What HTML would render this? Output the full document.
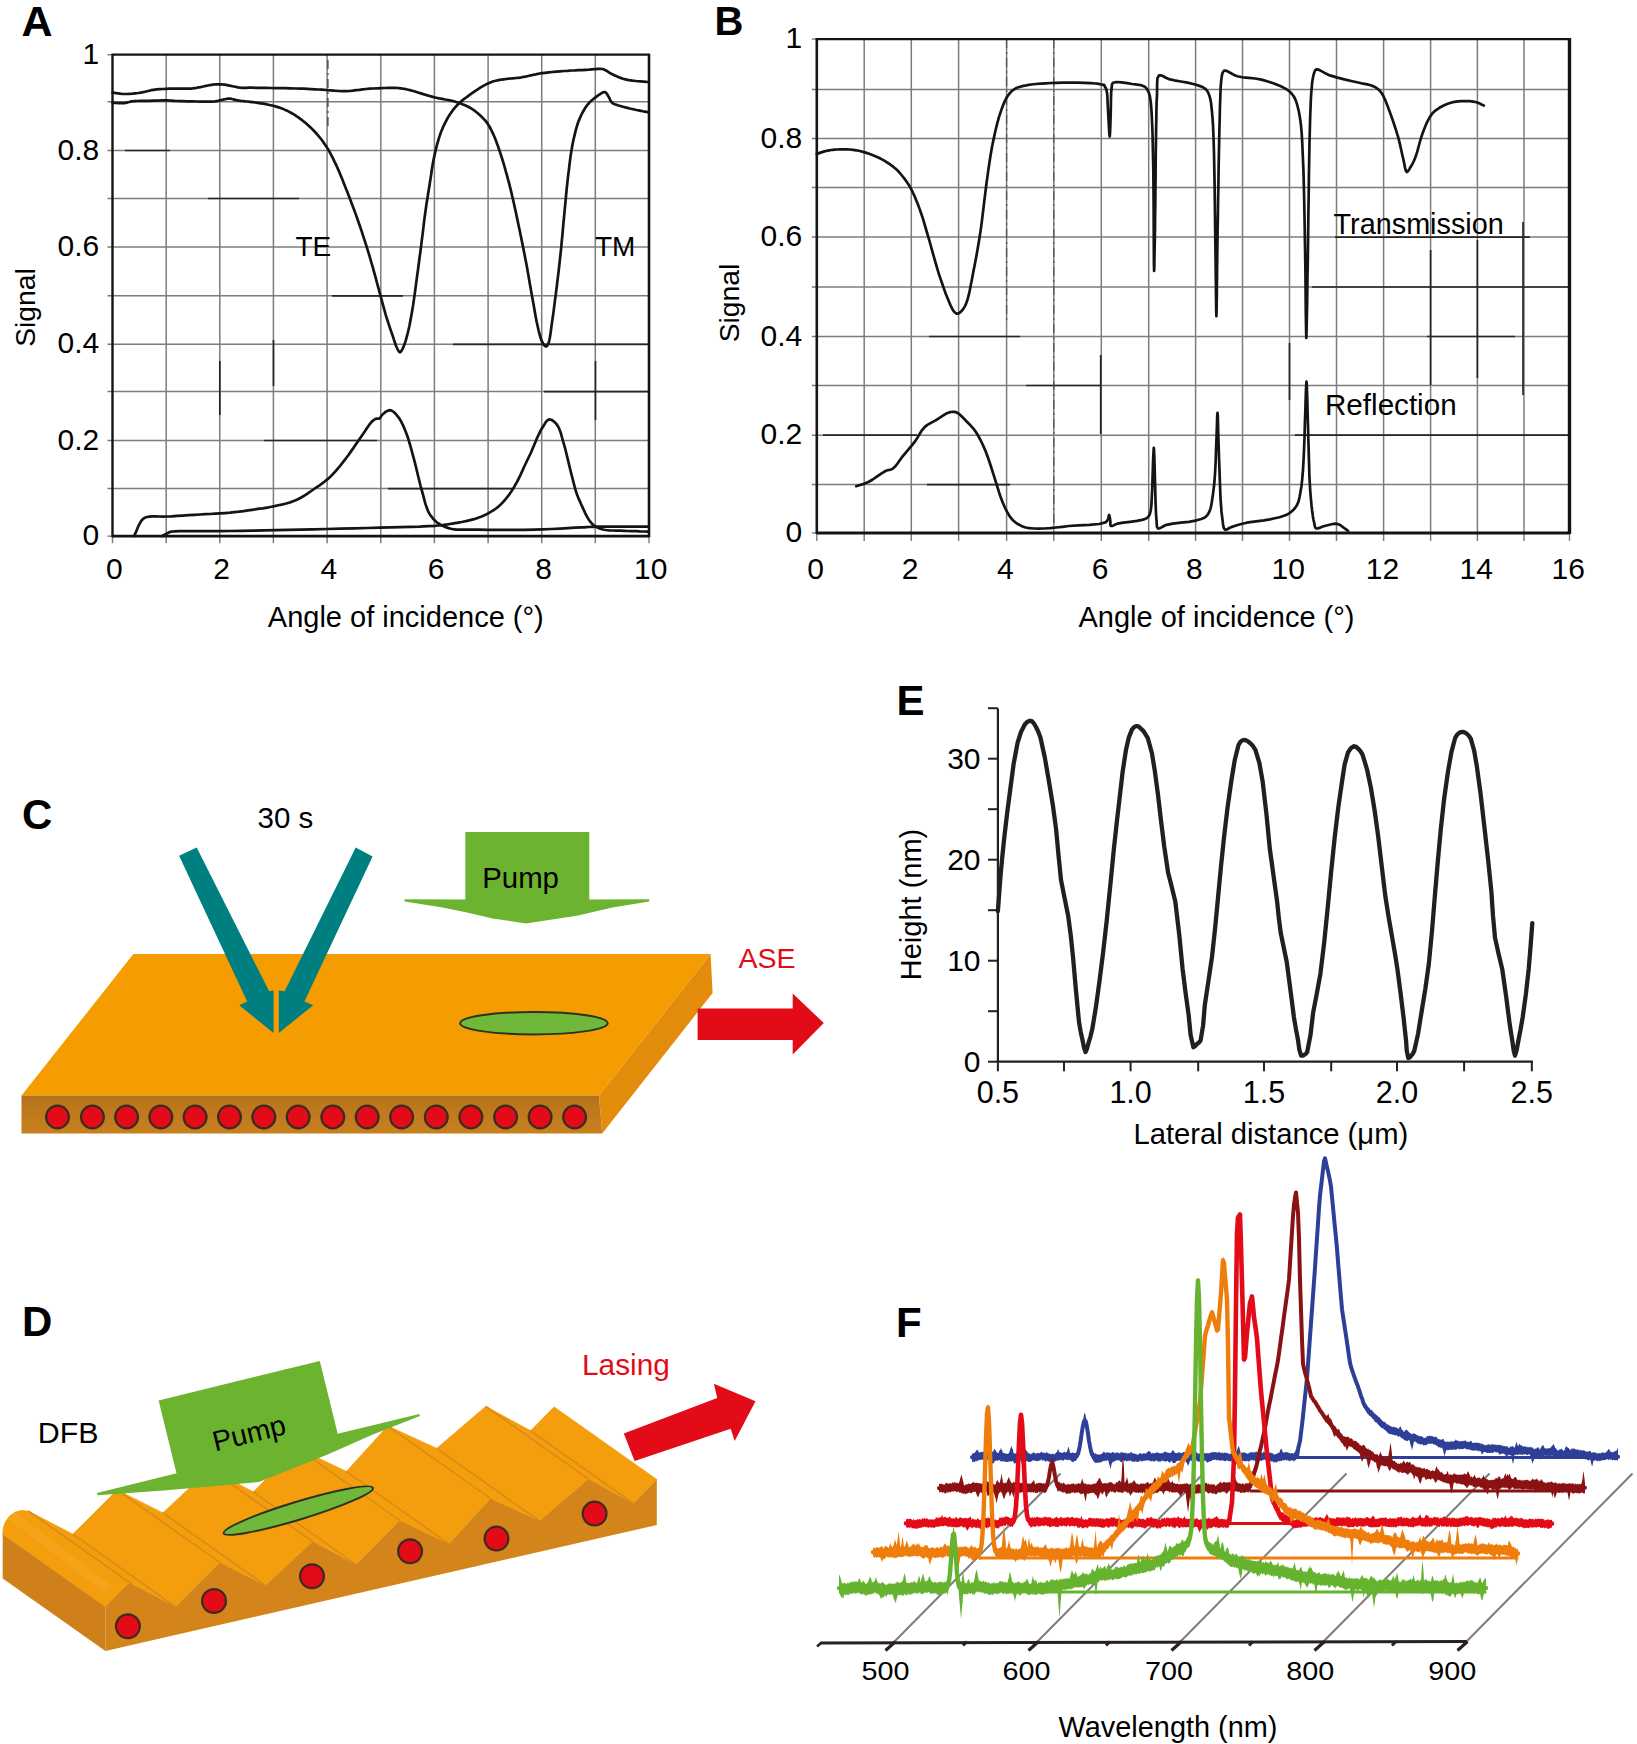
<!DOCTYPE html><html><head><meta charset="utf-8"><title>Figure</title><style>html,body{margin:0;padding:0;background:#fff;}svg{display:block;}</style></head><body><svg width="1637" height="1744" viewBox="0 0 1637 1744" font-family="'Liberation Sans', Arial, Helvetica, sans-serif"><rect width="100%" height="100%" fill="#fff"/><line x1="166.2" y1="54.7" x2="166.2" y2="543.2" stroke="#7c7c7c" stroke-width="1.5"/>
<line x1="219.8" y1="54.7" x2="219.8" y2="543.2" stroke="#7c7c7c" stroke-width="1.5"/>
<line x1="273.4" y1="54.7" x2="273.4" y2="543.2" stroke="#7c7c7c" stroke-width="1.5"/>
<line x1="327.1" y1="54.7" x2="327.1" y2="543.2" stroke="#7c7c7c" stroke-width="1.5"/>
<line x1="380.8" y1="54.7" x2="380.8" y2="543.2" stroke="#7c7c7c" stroke-width="1.5"/>
<line x1="434.4" y1="54.7" x2="434.4" y2="543.2" stroke="#7c7c7c" stroke-width="1.5"/>
<line x1="488.1" y1="54.7" x2="488.1" y2="543.2" stroke="#7c7c7c" stroke-width="1.5"/>
<line x1="541.7" y1="54.7" x2="541.7" y2="543.2" stroke="#7c7c7c" stroke-width="1.5"/>
<line x1="595.3" y1="54.7" x2="595.3" y2="543.2" stroke="#7c7c7c" stroke-width="1.5"/>
<line x1="107.5" y1="101.8" x2="649" y2="101.8" stroke="#7c7c7c" stroke-width="1.5"/>
<line x1="107.5" y1="150.5" x2="649" y2="150.5" stroke="#7c7c7c" stroke-width="1.5"/>
<line x1="107.5" y1="198.5" x2="649" y2="198.5" stroke="#7c7c7c" stroke-width="1.5"/>
<line x1="107.5" y1="247.1" x2="649" y2="247.1" stroke="#7c7c7c" stroke-width="1.5"/>
<line x1="107.5" y1="295.8" x2="649" y2="295.8" stroke="#7c7c7c" stroke-width="1.5"/>
<line x1="107.5" y1="344.3" x2="649" y2="344.3" stroke="#7c7c7c" stroke-width="1.5"/>
<line x1="107.5" y1="391.6" x2="649" y2="391.6" stroke="#7c7c7c" stroke-width="1.5"/>
<line x1="107.5" y1="440.5" x2="649" y2="440.5" stroke="#7c7c7c" stroke-width="1.5"/>
<line x1="107.5" y1="488.6" x2="649" y2="488.6" stroke="#7c7c7c" stroke-width="1.5"/>
<line x1="107.5" y1="54.7" x2="112.5" y2="54.7" stroke="#7c7c7c" stroke-width="1.4"/>
<line x1="107.5" y1="536.2" x2="112.5" y2="536.2" stroke="#7c7c7c" stroke-width="1.4"/>
<line x1="112.5" y1="536.2" x2="112.5" y2="543.2" stroke="#7c7c7c" stroke-width="1.4"/>
<line x1="649" y1="536.2" x2="649" y2="543.2" stroke="#7c7c7c" stroke-width="1.4"/>
<line x1="208" y1="198.5" x2="299" y2="198.5" stroke="#262626" stroke-width="1.7"/>
<line x1="453" y1="344.3" x2="648" y2="344.3" stroke="#262626" stroke-width="1.7"/>
<line x1="544" y1="391.6" x2="648" y2="391.6" stroke="#262626" stroke-width="1.7"/>
<line x1="332" y1="295.8" x2="403" y2="295.8" stroke="#262626" stroke-width="1.7"/>
<line x1="264" y1="440.5" x2="377" y2="440.5" stroke="#262626" stroke-width="1.7"/>
<line x1="388" y1="488.6" x2="514" y2="488.6" stroke="#262626" stroke-width="1.7"/>
<line x1="125" y1="150.5" x2="170" y2="150.5" stroke="#262626" stroke-width="1.7"/>
<line x1="219.8" y1="361" x2="219.8" y2="415" stroke="#262626" stroke-width="1.7"/>
<line x1="273.5" y1="340" x2="273.5" y2="386" stroke="#262626" stroke-width="1.7"/>
<line x1="595.5" y1="361" x2="595.5" y2="420" stroke="#262626" stroke-width="1.7"/>
<line x1="327.9" y1="60" x2="327.9" y2="128" stroke="#4a4a4a" stroke-width="1.4" stroke-dasharray="9,4,2,4"/>
<line x1="112.5" y1="53.7" x2="112.5" y2="537.2" stroke="#141414" stroke-width="2.4"/>
<line x1="112.5" y1="54.7" x2="649" y2="54.7" stroke="#141414" stroke-width="2.2"/>
<line x1="649" y1="53.7" x2="649" y2="537.2" stroke="#141414" stroke-width="2.6"/>
<line x1="112.5" y1="536.2" x2="649" y2="536.2" stroke="#141414" stroke-width="2.8"/>
<text x="99.2" y="63.7" font-size="30" text-anchor="end" font-weight="normal" fill="#000">1</text>
<text x="99.2" y="159.5" font-size="30" text-anchor="end" font-weight="normal" fill="#000">0.8</text>
<text x="99.2" y="256.1" font-size="30" text-anchor="end" font-weight="normal" fill="#000">0.6</text>
<text x="99.2" y="353.3" font-size="30" text-anchor="end" font-weight="normal" fill="#000">0.4</text>
<text x="99.2" y="449.5" font-size="30" text-anchor="end" font-weight="normal" fill="#000">0.2</text>
<text x="99.2" y="545.2" font-size="30" text-anchor="end" font-weight="normal" fill="#000">0</text>
<text x="114.3" y="578.8" font-size="30" text-anchor="middle" font-weight="normal" fill="#000">0</text>
<text x="221.6" y="578.8" font-size="30" text-anchor="middle" font-weight="normal" fill="#000">2</text>
<text x="328.9" y="578.8" font-size="30" text-anchor="middle" font-weight="normal" fill="#000">4</text>
<text x="436.2" y="578.8" font-size="30" text-anchor="middle" font-weight="normal" fill="#000">6</text>
<text x="543.5" y="578.8" font-size="30" text-anchor="middle" font-weight="normal" fill="#000">8</text>
<text x="650.8" y="578.8" font-size="30" text-anchor="middle" font-weight="normal" fill="#000">10</text>
<text x="405.8" y="626.6" font-size="29" text-anchor="middle" font-weight="normal" fill="#000">Angle of incidence (°)</text>
<text x="34.8" y="307.5" font-size="28.3" text-anchor="middle" font-weight="normal" fill="#000" transform="rotate(-90 34.8 307.5)">Signal</text>
<text x="295.5" y="255.6" font-size="28" text-anchor="start" font-weight="normal" fill="#000">TE</text>
<text x="595" y="255.6" font-size="28" text-anchor="start" font-weight="normal" fill="#000">TM</text>
<text x="21.5" y="36.1" font-size="43" text-anchor="start" font-weight="bold" fill="#000">A</text>
<polyline points="112.5,102.8 114.5,102.9 116.5,103 118.5,103.1 120.5,103.2 122.4,103.2 124.2,103.1 125.6,102.9 126.8,102.6 128,102.3 129.2,102 130.5,101.6 132,101.4 134.6,101.2 137.5,101 140.6,100.9 143.8,100.9 147,100.9 150,100.8 152.8,100.7 155.6,100.6 158.5,100.5 161.2,100.4 163.8,100.4 166.2,100.4 167.8,100.4 169.2,100.5 170.6,100.6 171.9,100.7 173.4,100.8 175,100.9 177.6,101 180.3,101.1 183.3,101.2 186.4,101.3 189.5,101.3 192.6,101.4 196.3,101.5 200.2,101.6 204.3,101.7 208.2,101.7 211.8,101.6 215,101.4 216.8,101.1 218.4,100.8 219.9,100.4 221.3,100 222.7,99.7 224,99.4 225,99.2 226,99 227,98.8 227.9,98.7 228.8,98.6 229.8,98.6 230.9,98.7 231.9,99 233,99.3 234.1,99.6 235.3,99.9 236.6,100.2 238.6,100.5 240.7,100.8 242.9,101 245.3,101.3 247.6,101.5 250,101.8 252.6,102.1 255.2,102.5 257.9,102.9 260.6,103.3 263.3,103.7 265.9,104.2 268.3,104.7 270.8,105.2 273.2,105.8 275.5,106.4 277.8,107.1 280,107.8 281.8,108.5 283.5,109.1 285.2,109.9 286.8,110.6 288.4,111.4 290,112.3 291.7,113.2 293.4,114.2 295.1,115.2 296.7,116.3 298.4,117.4 300,118.6 301.7,119.9 303.4,121.2 305.1,122.6 306.7,124 308.4,125.5 310,127 311.7,128.6 313.4,130.3 315,132 316.7,133.8 318.2,135.6 319.8,137.5 321.4,139.5 322.9,141.5 324.3,143.6 325.8,145.7 327.2,147.9 328.6,150.2 330.1,152.9 331.6,155.7 333.1,158.6 334.5,161.6 336,164.6 337.4,167.8 339.1,171.6 340.7,175.5 342.4,179.6 344,183.7 345.7,187.9 347.3,192 349,196.3 350.7,200.7 352.3,205.1 354,209.5 355.6,213.9 357.2,218.3 358.7,222.7 360.3,227.2 361.8,231.6 363.2,236.1 364.6,240.4 366,244.7 367.2,248.5 368.3,252.1 369.4,255.7 370.5,259.4 371.5,263 372.6,266.7 373.7,270.7 374.8,274.7 375.9,278.7 377,282.8 378.1,286.9 379.2,290.9 380.3,295 381.4,299.1 382.5,303.2 383.6,307.2 384.7,311.2 385.8,315.1 386.9,318.6 388,322 389.1,325.4 390.2,328.7 391.3,331.9 392.4,335 393.3,337.6 394.1,340.2 395,342.8 395.8,345.2 396.7,347.3 397.5,349 397.9,349.8 398.3,350.5 398.7,351.2 399.2,351.7 399.6,352.1 400,352.2 400.6,352 401.1,351.3 401.7,350.4 402.3,349.3 402.9,348.2 403.4,347 404.2,345.1 405,342.9 405.7,340.6 406.4,338.1 407.1,335.4 407.8,332.8 408.6,329.5 409.4,326 410.1,322.3 410.8,318.5 411.5,314.7 412.2,310.7 413,305.9 413.7,300.9 414.5,295.7 415.2,290.4 415.9,285.2 416.6,279.9 417.3,274.5 418.1,269 418.8,263.5 419.5,258 420.3,252.5 421,246.9 421.7,241.1 422.5,235.1 423.2,229.1 423.9,223.2 424.6,217.4 425.4,211.7 426.1,206.8 426.8,201.9 427.6,197.2 428.3,192.5 429.1,187.8 429.8,183.2 430.5,178.7 431.2,174.3 431.8,169.8 432.5,165.5 433.3,161.1 434.2,156.8 435.1,152.6 436.1,148.5 437.1,144.3 438.3,140.3 439.5,136.4 440.8,132.6 442.1,129.4 443.4,126.3 444.9,123.3 446.4,120.4 447.9,117.6 449.5,115 450.9,112.9 452.3,111 453.7,109.1 455.2,107.4 456.7,105.7 458.3,104 460,102.4 461.8,100.9 463.6,99.4 465.4,98 467.4,96.6 469.3,95.2 471.4,93.7 473.6,92.1 475.8,90.6 478.1,89.1 480.3,87.7 482.5,86.4 484.3,85.4 486.1,84.4 487.9,83.5 489.7,82.7 491.5,82 493.5,81.3 495.9,80.7 498.5,80.1 501.2,79.7 503.8,79.3 506.4,79 508.9,78.7 510.8,78.5 512.7,78.3 514.5,78.2 516.3,78 518.1,77.8 519.9,77.6 521.7,77.3 523.6,76.9 525.4,76.6 527.2,76.2 529.1,75.8 530.9,75.4 532.7,75 534.4,74.6 536.2,74.3 537.9,73.9 539.8,73.5 541.9,73.2 545.1,72.8 548.7,72.3 552.4,72 556.3,71.6 560.1,71.3 563.9,71 567.6,70.8 571.3,70.5 575.1,70.4 578.8,70.2 582.4,70.1 585.9,69.9 588.9,69.7 592,69.4 595.1,69.1 597.9,68.9 600.4,68.8 602.4,69 603.2,69.2 603.8,69.4 604.3,69.6 604.8,69.9 605.4,70.2 606,70.5 606.9,71 607.9,71.6 608.9,72.3 609.9,73 611.1,73.6 612.3,74.3 614.2,75.2 616.2,76.1 618.3,77 620.6,77.9 623,78.7 625.5,79.4 628.8,80.1 632.4,80.6 636.1,81 639.9,81.3 643.8,81.6 647.5,82" fill="none" stroke="#141414" stroke-width="2.7" stroke-linejoin="round" stroke-linecap="round"/>
<polyline points="112.5,92.6 114.4,92.9 116.3,93.2 118.2,93.4 120.1,93.7 122.1,93.9 124.2,94 126.8,94 129.6,93.8 132.5,93.6 135.3,93.3 138.1,93 140.8,92.6 143,92.2 145.1,91.7 147.1,91.2 149.1,90.7 151.2,90.2 153.5,89.8 156.5,89.4 159.7,89.2 163,89 166.4,88.8 169.8,88.7 173,88.6 176,88.6 179.1,88.6 182.1,88.7 185.1,88.7 188,88.7 190.7,88.6 192.8,88.4 194.8,88.1 196.7,87.8 198.6,87.4 200.5,87.1 202.4,86.7 204.2,86.3 206.1,85.9 207.9,85.5 209.7,85.2 211.4,84.8 213,84.6 214.1,84.5 215.1,84.4 216.1,84.3 217.1,84.3 218,84.3 219,84.3 220,84.3 220.9,84.3 221.8,84.4 222.7,84.5 223.8,84.6 224.9,84.7 227.1,85.1 229.7,85.6 232.5,86.2 235.3,86.8 238,87.4 240.5,87.7 242.2,87.8 243.7,87.8 245.2,87.8 246.7,87.8 248.2,87.7 250,87.7 252.9,87.7 256,87.8 259.3,87.8 262.8,87.9 266.3,87.9 270,88 274.7,88.1 279.7,88.2 284.9,88.2 290.1,88.3 295.2,88.5 300,88.6 303.9,88.7 307.5,88.9 311.1,89.1 314.7,89.3 318.3,89.5 322,89.7 326,90 330.1,90.3 334.2,90.7 338.3,91 342.3,91.2 346.2,91.2 349.6,91 352.9,90.7 356.2,90.2 359.4,89.8 362.7,89.3 366,89 369.7,88.7 373.5,88.5 377.4,88.3 381.2,88.1 384.8,88 388,87.9 390.1,87.9 391.9,87.9 393.7,87.9 395.5,87.9 397.2,88 399,88.2 400.8,88.4 402.6,88.7 404.5,88.9 406.3,89.3 408.1,89.7 410,90.1 412.1,90.7 414.3,91.3 416.5,92 418.8,92.7 421,93.4 423.2,94.1 425.4,94.7 427.5,95.4 429.7,96 431.9,96.6 434.1,97.2 436.4,97.8 439.2,98.4 442.1,98.9 445.2,99.5 448.2,100 451.1,100.6 453.9,101.3 456.3,102 458.6,102.7 460.8,103.5 463,104.4 465.1,105.3 467.1,106.2 468.7,107 470.2,107.8 471.6,108.7 473,109.6 474.5,110.6 475.9,111.7 477.8,113.2 479.7,114.9 481.6,116.8 483.5,118.7 485.3,120.7 486.9,122.7 488.2,124.6 489.4,126.5 490.5,128.5 491.5,130.5 492.5,132.6 493.5,134.8 494.7,137.5 495.8,140.3 496.9,143.2 498,146.2 499,149.3 500.1,152.4 501.2,155.9 502.4,159.5 503.5,163.1 504.6,166.8 505.6,170.6 506.7,174.4 507.8,178.6 509,182.9 510.1,187.3 511.2,191.7 512.2,196.2 513.3,200.8 514.4,205.8 515.5,210.8 516.6,215.9 517.7,221.1 518.8,226.3 519.9,231.5 521,236.9 522.1,242.3 523.2,247.8 524.3,253.3 525.4,258.9 526.5,264.5 527.6,270.7 528.7,277 529.8,283.4 530.9,289.7 532,295.9 533.1,301.9 534,307 534.9,312.2 535.8,317.2 536.7,322 537.7,326.5 538.6,330.5 539.2,332.9 539.8,335.2 540.4,337.3 541.1,339.2 541.7,341 542.5,342.5 543,343.4 543.6,344.4 544.2,345.2 544.9,345.9 545.5,346.3 546,346.5 546.5,346.3 546.9,346 547.3,345.4 547.7,344.7 548.1,343.9 548.5,343 549.2,340.8 549.8,338 550.3,334.8 550.8,331.2 551.3,327.6 551.8,323.9 552.5,318.9 553.3,313.6 554,308.1 554.7,302.4 555.5,296.6 556.2,290.9 557,284.8 557.7,278.6 558.5,272.3 559.2,266 559.9,259.7 560.6,253.5 561.2,247.6 561.7,241.8 562.3,236.1 562.8,230.3 563.3,224.4 563.9,218.3 564.6,211.2 565.3,203.7 566,196.2 566.7,188.6 567.5,181.3 568.3,174.4 569,168.9 569.6,163.6 570.3,158.4 571,153.4 571.8,148.4 572.7,143.6 573.6,139.3 574.6,135.1 575.6,130.9 576.7,126.9 577.9,123 579.3,119.4 580.6,116.5 581.9,113.7 583.4,111 584.9,108.5 586.5,106.1 588.1,104 589.5,102.4 591,101 592.5,99.7 594,98.5 595.5,97.4 596.9,96.3 598.1,95.4 599.3,94.6 600.5,93.8 601.6,93.1 602.6,92.5 603.5,92.2 603.9,92.1 604.2,92.1 604.6,92 604.9,92.1 605.2,92.2 605.5,92.3 606,92.7 606.5,93.3 607,94 607.5,94.8 608,95.7 608.5,96.5 609.1,97.5 609.6,98.6 610.1,99.8 610.7,101 611.4,102 612.3,102.9 613.5,103.7 614.8,104.3 616.3,104.8 617.8,105.3 619.5,105.7 621.1,106.2 623.1,106.8 625.3,107.4 627.5,107.9 629.8,108.5 632.1,109 634.3,109.5 636.5,110 638.7,110.4 640.9,110.8 643.1,111.3 645.3,111.7 647.5,112.1" fill="none" stroke="#141414" stroke-width="2.7" stroke-linejoin="round" stroke-linecap="round"/>
<polyline points="134,536 134.3,535.3 134.7,534.7 135,534.1 135.3,533.4 135.7,532.7 136,532 136.5,530.9 136.9,529.8 137.4,528.6 137.9,527.3 138.4,526.1 139,525 139.5,524 140.1,523 140.6,522 141.2,521.1 141.8,520.2 142.5,519.5 143.1,518.9 143.8,518.4 144.4,518 145.2,517.6 146,517.3 147,517 149.4,516.6 152.3,516.4 155.5,516.4 159.1,516.5 162.8,516.6 166.5,516.5 171.6,516.3 177.1,515.9 182.8,515.6 188.6,515.2 194.4,514.8 200,514.5 205.1,514.2 210.2,514 215.2,513.7 220.2,513.4 225.1,513.1 230,512.7 234.5,512.2 239.1,511.7 243.6,511.1 248,510.4 252.2,509.8 256.3,509.2 259.5,508.7 262.6,508.3 265.6,507.8 268.6,507.3 271.6,506.7 274.7,506.1 278.2,505.3 281.7,504.6 285.3,503.7 288.8,502.7 292.3,501.6 295.7,500.3 298.9,498.7 302.1,497 305.2,495.1 308.2,493.1 311.2,491 314.1,489 316.8,487.1 319.5,485.3 322.2,483.4 324.7,481.5 327.3,479.4 329.8,477.2 332.5,474.5 335.2,471.6 337.9,468.5 340.5,465.3 343,462.1 345.6,458.8 348.3,455.2 351,451.4 353.7,447.6 356.3,443.7 358.9,440 361.3,436.5 363.2,433.7 365.2,430.8 367,428 368.8,425.4 370.5,423.2 372,421.5 372.7,420.8 373.4,420.3 374.1,419.8 374.7,419.4 375.3,419.1 376,418.8 376.6,418.7 377.2,418.7 377.8,418.7 378.4,418.7 379,418.7 379.5,418.5 380,418.1 380.4,417.5 380.8,416.8 381.2,416.1 381.7,415.3 382.3,414.7 383.4,413.8 384.6,412.7 386,411.7 387.4,410.9 388.9,410.3 390.2,410.2 391.6,410.6 392.9,411.4 394.3,412.5 395.6,413.8 396.9,415.3 398.1,416.8 399.6,418.9 401,421.3 402.3,423.9 403.6,426.6 404.8,429.5 406,432.5 407.5,436.4 408.8,440.6 410.1,445 411.4,449.6 412.6,454.2 413.9,458.8 415.2,463.9 416.5,469.3 417.8,474.7 419.1,480 420.4,485.3 421.8,490.3 423,494.6 424.1,498.9 425.2,503.1 426.5,507.1 427.9,510.8 429.6,514 431.1,516.2 432.7,518.2 434.4,520 436.2,521.7 438.1,523.2 440.1,524.5 442.1,525.6 444.2,526.6 446.4,527.4 448.6,528.1 450.9,528.7 453.3,529.2 455.8,529.6 458.3,529.7 460.8,529.7 463.5,529.7 466.6,529.6 470,529.6 478.4,529.7 488.7,529.8 500.2,529.8 512.1,529.8 523.8,529.8 534.4,529.6 543,529.3 551.6,529 560,528.6 567.9,528.1 575.1,527.7 581.3,527.4 584.1,527.3 586.5,527.1 588.6,527 590.7,526.9 593.1,526.8 596,526.7 602.9,526.6 611.2,526.6 620.3,526.6 629.9,526.6 639.5,526.7 648.7,526.7" fill="none" stroke="#141414" stroke-width="2.7" stroke-linejoin="round" stroke-linecap="round"/>
<polyline points="162,536 162.7,535.7 163.3,535.3 164,535 164.7,534.7 165.3,534.3 166,534 166.7,533.7 167.3,533.3 168,532.9 168.6,532.6 169.3,532.3 170,532 170.7,531.8 171.3,531.7 171.9,531.6 172.5,531.5 173.4,531.5 174.4,531.4 180,531.2 188.1,531.1 197.9,531.1 208.7,531.1 219.6,531.1 230,531 241.1,530.8 252.6,530.6 264.2,530.4 276,530.1 288,529.9 300,529.6 313.2,529.3 326.8,529 340.6,528.6 354.2,528.3 367.5,528 380,527.6 390.2,527.3 400.4,527.1 410.3,526.8 419.6,526.6 428,526.2 435,525.8 438.1,525.5 440.7,525.3 443.1,525 445.4,524.7 447.6,524.4 450,524 452.4,523.6 454.8,523.2 457.1,522.8 459.4,522.4 461.7,522 464,521.5 466.1,521.1 468.1,520.6 470.1,520.1 472.1,519.6 474.1,519.1 476,518.5 477.7,517.9 479.4,517.3 481.1,516.7 482.7,516 484.4,515.3 486,514.5 487.7,513.6 489.4,512.7 491.1,511.7 492.8,510.7 494.4,509.6 496,508.5 497.4,507.4 498.8,506.2 500.2,504.9 501.5,503.7 502.8,502.3 504,501 505.2,499.6 506.4,498.2 507.6,496.7 508.8,495.2 509.9,493.6 511,492 512.2,490.1 513.4,488.2 514.6,486.2 515.7,484.2 516.9,482.1 518,480 519.2,477.6 520.4,475.1 521.5,472.6 522.7,470.1 523.8,467.5 525,465 526.2,462.5 527.4,460 528.6,457.5 529.8,455 531,452.5 532.1,450 533.1,447.6 534.1,445.2 535.1,442.8 536.1,440.4 537,438.1 538,436 538.8,434.4 539.5,432.9 540.2,431.4 540.9,430 541.7,428.7 542.6,427.3 543.6,425.8 544.6,424.1 545.6,422.4 546.7,421 547.9,419.9 549.1,419.4 550.4,419.5 551.7,420 553.1,420.9 554.5,422 555.8,423.3 557,424.7 558.4,427 559.6,429.7 560.7,432.7 561.6,436 562.6,439.5 563.6,443 565,447.8 566.3,453.2 567.7,458.8 569,464.4 570.3,469.7 571.5,474.6 572.4,478 573.2,481.2 574,484.3 574.8,487.3 575.6,490.2 576.5,493 577.3,495.3 578.2,497.6 579.1,499.7 580.1,501.8 581,504 582,506.1 583,508.4 584.1,510.7 585.2,513.1 586.3,515.3 587.4,517.4 588.6,519.3 589.4,520.5 590.3,521.7 591.1,522.7 592,523.7 592.9,524.6 594,525.5 595.3,526.4 596.6,527.1 598,527.8 599.6,528.5 601.2,529 603,529.5 605.9,530 609.3,530.4 612.8,530.5 616.6,530.6 620.3,530.7 624,530.8 627.9,531 631.8,531.1 635.7,531.2 639.7,531.4 643.7,531.5 647.6,531.6" fill="none" stroke="#141414" stroke-width="2.7" stroke-linejoin="round" stroke-linecap="round"/>
<line x1="864.2" y1="39.1" x2="864.2" y2="540.9" stroke="#7c7c7c" stroke-width="1.5"/>
<line x1="911.3" y1="39.1" x2="911.3" y2="540.9" stroke="#7c7c7c" stroke-width="1.5"/>
<line x1="958.6" y1="39.1" x2="958.6" y2="540.9" stroke="#7c7c7c" stroke-width="1.5"/>
<line x1="1006.6" y1="39.1" x2="1006.6" y2="540.9" stroke="#7c7c7c" stroke-width="1.5"/>
<line x1="1053.8" y1="39.1" x2="1053.8" y2="540.9" stroke="#7c7c7c" stroke-width="1.5"/>
<line x1="1101.3" y1="39.1" x2="1101.3" y2="540.9" stroke="#7c7c7c" stroke-width="1.5"/>
<line x1="1148.7" y1="39.1" x2="1148.7" y2="540.9" stroke="#7c7c7c" stroke-width="1.5"/>
<line x1="1195.6" y1="39.1" x2="1195.6" y2="540.9" stroke="#7c7c7c" stroke-width="1.5"/>
<line x1="1242.5" y1="39.1" x2="1242.5" y2="540.9" stroke="#7c7c7c" stroke-width="1.5"/>
<line x1="1289.5" y1="39.1" x2="1289.5" y2="540.9" stroke="#7c7c7c" stroke-width="1.5"/>
<line x1="1336.5" y1="39.1" x2="1336.5" y2="540.9" stroke="#7c7c7c" stroke-width="1.5"/>
<line x1="1383.6" y1="39.1" x2="1383.6" y2="540.9" stroke="#7c7c7c" stroke-width="1.5"/>
<line x1="1430.6" y1="39.1" x2="1430.6" y2="540.9" stroke="#7c7c7c" stroke-width="1.5"/>
<line x1="1477.4" y1="39.1" x2="1477.4" y2="540.9" stroke="#7c7c7c" stroke-width="1.5"/>
<line x1="1524" y1="39.1" x2="1524" y2="540.9" stroke="#7c7c7c" stroke-width="1.5"/>
<line x1="811.8" y1="89.5" x2="1569.5" y2="89.5" stroke="#7c7c7c" stroke-width="1.5"/>
<line x1="811.8" y1="138.6" x2="1569.5" y2="138.6" stroke="#7c7c7c" stroke-width="1.5"/>
<line x1="811.8" y1="187.4" x2="1569.5" y2="187.4" stroke="#7c7c7c" stroke-width="1.5"/>
<line x1="811.8" y1="237.1" x2="1569.5" y2="237.1" stroke="#7c7c7c" stroke-width="1.5"/>
<line x1="811.8" y1="287" x2="1569.5" y2="287" stroke="#7c7c7c" stroke-width="1.5"/>
<line x1="811.8" y1="336.5" x2="1569.5" y2="336.5" stroke="#7c7c7c" stroke-width="1.5"/>
<line x1="811.8" y1="385.5" x2="1569.5" y2="385.5" stroke="#7c7c7c" stroke-width="1.5"/>
<line x1="811.8" y1="435.2" x2="1569.5" y2="435.2" stroke="#7c7c7c" stroke-width="1.5"/>
<line x1="811.8" y1="484.6" x2="1569.5" y2="484.6" stroke="#7c7c7c" stroke-width="1.5"/>
<line x1="811.8" y1="39.1" x2="816.8" y2="39.1" stroke="#7c7c7c" stroke-width="1.4"/>
<line x1="811.8" y1="532.9" x2="816.8" y2="532.9" stroke="#7c7c7c" stroke-width="1.4"/>
<line x1="816.8" y1="532.9" x2="816.8" y2="540.9" stroke="#7c7c7c" stroke-width="1.4"/>
<line x1="1569.5" y1="532.9" x2="1569.5" y2="540.9" stroke="#7c7c7c" stroke-width="1.4"/>
<line x1="1295" y1="435.2" x2="1569" y2="435.2" stroke="#262626" stroke-width="1.7"/>
<line x1="823" y1="435.2" x2="917" y2="435.2" stroke="#262626" stroke-width="1.7"/>
<line x1="927" y1="484.6" x2="1010" y2="484.6" stroke="#262626" stroke-width="1.7"/>
<line x1="1026" y1="385.5" x2="1100" y2="385.5" stroke="#262626" stroke-width="1.7"/>
<line x1="929" y1="336.5" x2="1020" y2="336.5" stroke="#262626" stroke-width="1.7"/>
<line x1="1427" y1="336.5" x2="1515" y2="336.5" stroke="#262626" stroke-width="1.7"/>
<line x1="1312" y1="287" x2="1569" y2="287" stroke="#262626" stroke-width="1.7"/>
<line x1="1335" y1="237.1" x2="1530" y2="237.1" stroke="#262626" stroke-width="1.7"/>
<line x1="1100.7" y1="355" x2="1100.7" y2="434" stroke="#262626" stroke-width="1.7"/>
<line x1="1289.5" y1="343" x2="1289.5" y2="400" stroke="#262626" stroke-width="1.7"/>
<line x1="1477.4" y1="240" x2="1477.4" y2="378" stroke="#262626" stroke-width="1.7"/>
<line x1="1523" y1="222" x2="1523" y2="395" stroke="#262626" stroke-width="1.7"/>
<line x1="1430.6" y1="250" x2="1430.6" y2="385" stroke="#262626" stroke-width="1.7"/>
<line x1="1053.8" y1="39.1" x2="1053.8" y2="532.9" stroke="#555555" stroke-width="1.3" stroke-dasharray="9,4,2,4"/>
<line x1="1006.6" y1="39.1" x2="1006.6" y2="320" stroke="#555555" stroke-width="1.3" stroke-dasharray="9,4,2,4"/>
<line x1="816.8" y1="38.1" x2="816.8" y2="533.9" stroke="#141414" stroke-width="2.6"/>
<line x1="816.8" y1="39.1" x2="1569.5" y2="39.1" stroke="#141414" stroke-width="2.4"/>
<line x1="1569.5" y1="38.1" x2="1569.5" y2="533.9" stroke="#141414" stroke-width="3.4"/>
<line x1="816.8" y1="532.9" x2="1569.5" y2="532.9" stroke="#141414" stroke-width="3"/>
<text x="802.2" y="48.1" font-size="30" text-anchor="end" font-weight="normal" fill="#000">1</text>
<text x="802.2" y="147.6" font-size="30" text-anchor="end" font-weight="normal" fill="#000">0.8</text>
<text x="802.2" y="246.1" font-size="30" text-anchor="end" font-weight="normal" fill="#000">0.6</text>
<text x="802.2" y="345.5" font-size="30" text-anchor="end" font-weight="normal" fill="#000">0.4</text>
<text x="802.2" y="444.2" font-size="30" text-anchor="end" font-weight="normal" fill="#000">0.2</text>
<text x="802.2" y="541.9" font-size="30" text-anchor="end" font-weight="normal" fill="#000">0</text>
<text x="815.6" y="578.8" font-size="30" text-anchor="middle" font-weight="normal" fill="#000">0</text>
<text x="910.1" y="578.8" font-size="30" text-anchor="middle" font-weight="normal" fill="#000">2</text>
<text x="1005.4" y="578.8" font-size="30" text-anchor="middle" font-weight="normal" fill="#000">4</text>
<text x="1100.1" y="578.8" font-size="30" text-anchor="middle" font-weight="normal" fill="#000">6</text>
<text x="1194.4" y="578.8" font-size="30" text-anchor="middle" font-weight="normal" fill="#000">8</text>
<text x="1288.3" y="578.8" font-size="30" text-anchor="middle" font-weight="normal" fill="#000">10</text>
<text x="1382.4" y="578.8" font-size="30" text-anchor="middle" font-weight="normal" fill="#000">12</text>
<text x="1476.2" y="578.8" font-size="30" text-anchor="middle" font-weight="normal" fill="#000">14</text>
<text x="1568.3" y="578.8" font-size="30" text-anchor="middle" font-weight="normal" fill="#000">16</text>
<text x="1216.5" y="626.6" font-size="29" text-anchor="middle" font-weight="normal" fill="#000">Angle of incidence (°)</text>
<text x="739" y="303" font-size="28.3" text-anchor="middle" font-weight="normal" fill="#000" transform="rotate(-90 739 303)">Signal</text>
<text x="1333.6" y="234.3" font-size="28.8" text-anchor="start" font-weight="normal" fill="#000">Transmission</text>
<text x="1325" y="414.7" font-size="29.6" text-anchor="start" font-weight="normal" fill="#000">Reflection</text>
<text x="714.5" y="35.4" font-size="40" text-anchor="start" font-weight="bold" fill="#000">B</text>
<polyline points="816.8,153.9 818.3,153.4 819.8,152.9 821.3,152.4 822.9,151.9 824.4,151.4 826,151 827.7,150.6 829.4,150.3 831.1,150 832.9,149.8 834.8,149.6 836.8,149.5 839.7,149.4 842.9,149.3 846.3,149.4 849.7,149.5 853.1,149.8 856.4,150.3 859.7,151 863.1,151.9 866.5,152.9 869.8,154 873,155.2 875.9,156.4 878.2,157.4 880.3,158.5 882.4,159.6 884.3,160.7 886.2,161.9 888,163 889.4,163.9 890.7,164.9 892,165.8 893.3,166.7 894.4,167.7 895.5,168.6 896.3,169.3 897.1,170 897.8,170.7 898.5,171.5 899.2,172.3 900,173.2 901.5,175 903.1,177 904.8,179.2 906.5,181.5 908.2,184 909.8,186.6 911.6,189.8 913.2,193.3 914.9,196.9 916.4,200.7 918,204.6 919.5,208.6 921.2,213.5 922.9,218.7 924.5,224 926.1,229.5 927.7,235 929.3,240.4 930.9,246.1 932.5,251.9 934.1,257.7 935.8,263.5 937.4,269.1 939.1,274.6 940.7,279.4 942.4,284.3 944.1,289.1 945.7,293.7 947.4,297.8 948.9,301.5 949.8,303.6 950.6,305.5 951.5,307.3 952.3,308.9 953.1,310.4 954,311.5 954.6,312.1 955.1,312.6 955.7,313 956.2,313.4 956.8,313.6 957.4,313.7 958,313.6 958.6,313.4 959.2,313 959.8,312.6 960.4,312.1 961,311.5 961.9,310.6 962.7,309.6 963.6,308.4 964.4,307.1 965.2,305.6 966,303.9 967.4,300 968.7,295.2 969.9,289.7 971,283.9 972.2,277.9 973.3,272.1 974.6,265.6 975.9,258.8 977.1,251.9 978.3,244.9 979.5,237.8 980.6,230.6 981.7,222.6 982.7,214.4 983.7,206.1 984.7,197.7 985.7,189.6 986.7,181.7 987.7,174.9 988.6,168.1 989.6,161.5 990.6,155 991.7,148.7 992.9,142.6 994,137.4 995.1,132.2 996.3,127.1 997.5,122.3 998.8,117.6 1000.2,113.3 1001.3,110.1 1002.4,106.9 1003.6,103.9 1004.8,101.1 1006.1,98.5 1007.5,96.2 1008.6,94.7 1009.7,93.3 1010.8,92 1012,90.9 1013.4,89.8 1014.8,88.9 1016.5,88 1018.4,87.3 1020.3,86.7 1022.4,86.1 1024.7,85.7 1027.1,85.2 1031.2,84.5 1035.8,84 1040.7,83.6 1045.8,83.3 1051.1,83 1056.4,82.8 1062.9,82.7 1070.1,82.6 1077.4,82.7 1084.4,82.9 1090.6,83.1 1095.5,83.5 1097.3,83.7 1098.8,83.9 1100.1,84.2 1101.4,84.5 1102.7,84.7 1104,85" fill="none" stroke="#141414" stroke-width="2.7" stroke-linejoin="round" stroke-linecap="round"/>
<polyline points="1104,85 1104.7,86.2 1105.3,87.3 1106,88.5 1106.5,90 1107.2,94 1107.5,99 1107.7,104.5 1108,110 1108.4,117.6 1108.9,126.3 1109.3,133.5 1109.7,136.5 1110,133.5 1110.3,126.4 1110.6,117.7 1110.8,110 1110.9,104 1111,97.9 1111.2,92.4 1111.6,88 1111.8,86.3 1111.9,84.9 1112.3,83.7 1113.1,82.8 1116.5,82 1121.6,82.4 1127.2,83.2 1132.1,84 1135.5,84.4 1138.8,84.8 1141.8,85.4 1144.3,86.4 1145.7,87.5 1146.8,88.8 1147.7,90.4 1148.5,92 1149.3,94.2 1149.9,96.5 1150.3,99.1 1150.7,102 1151.2,107 1151.6,112.6 1151.9,118.7 1152.2,125 1152.5,133.2 1152.7,141.9 1152.9,150.9 1153.1,160 1153.3,169.5 1153.4,179.1 1153.5,189.1 1153.6,200 1153.7,219.6 1153.8,243.1 1153.9,262.7 1154.1,270.9 1154.3,267.7 1154.4,259.8 1154.6,249.7 1154.8,240 1155,228.4 1155.1,216 1155.3,203.1 1155.4,190 1155.6,175 1155.7,159.3 1155.9,144 1156.1,130 1156.3,120.4 1156.4,111.3 1156.6,102.8 1157,95 1157.1,89 1157.1,83.1 1157.5,78.2 1159,75.4 1160.8,75.3 1163.2,76.3 1165.9,77.8 1168.8,79.1 1174.3,80.3 1180.8,81.5 1187.5,82.6 1193.2,84 1196.8,85 1200.1,86.1 1203,87.3 1205.4,88.9 1206.8,90.4 1207.9,92 1208.7,93.9 1209.5,96 1210.4,99.4 1211.1,103.3 1211.5,107.5 1212,112 1212.5,118.2 1213,124.8 1213.3,132.1 1213.6,140 1214,153.4 1214.3,168.6 1214.6,184.5 1214.8,200 1215,215 1215.2,230.1 1215.4,245.1 1215.6,260 1215.8,276.8 1216,295.2 1216.2,310 1216.4,316.1 1216.6,310 1216.8,295.2 1217,276.8 1217.2,260 1217.4,245.1 1217.6,230.1 1217.9,215 1218.1,200 1218.4,184.7 1218.6,169.2 1218.9,154.1 1219.2,140 1219.4,129.1 1219.7,118.6 1219.9,108.8 1220.2,100 1220.4,94.3 1220.6,89 1220.9,84.2 1221.3,80 1221.6,77.6 1221.9,75.3 1222.4,73.4 1223,72 1223.4,71.4 1223.8,71 1224.3,70.7 1225,70.5 1227.2,71.1 1230.1,72.7 1233.6,74.7 1237.2,76.2 1242.6,77.3 1248.8,77.9 1255.2,78.5 1261.4,79.6 1267.9,81.5 1274.6,83.7 1280.9,86.3 1285.9,88.9 1288.3,90.5 1290.3,92.2 1292,94 1293.5,96 1294.8,98.2 1295.8,100.6 1296.7,103.2 1297.5,106 1298.6,110.3 1299.5,115 1300.3,120.1 1301,125.5 1301.7,133.4 1302.2,142 1302.6,151 1303,160 1303.4,169.5 1303.7,179.1 1303.9,189.1 1304.2,200 1304.5,216.2 1304.8,233.8 1305.1,252.1 1305.4,270 1305.6,290.3 1305.8,312.6 1306.1,330.6 1306.3,338 1306.5,332.9 1306.8,320.3 1307.1,304.6 1307.3,290 1307.5,275.6 1307.8,260.7 1308,245.5 1308.2,230 1308.4,212.5 1308.7,194.5 1308.9,176.6 1309.2,160 1309.4,147.3 1309.7,135.1 1310,123.6 1310.3,113.3 1310.6,106.7 1310.8,100.6 1311.1,95 1311.5,90 1311.8,86.9 1312,84.1 1312.3,81.6 1312.7,79.1 1313.1,77.1 1313.5,75.2 1313.9,73.5 1314.5,72 1314.9,71.1 1315.2,70.3 1315.7,69.7 1316.4,69.3 1318.7,69.7 1322,71.4 1325.8,73.6 1329.9,75.4 1336.6,77.4 1344.4,79.4 1352.3,81.2 1359.2,82.8 1363.3,83.7 1367.2,84.4 1370.7,85.2 1373.8,86.4 1376,87.6 1377.8,89 1379.6,90.6 1381.2,92.5 1383.2,95.7 1385,99.6 1386.7,103.8 1388.5,108.4 1391,115.2 1393.6,122.7 1396.1,130.4 1398.3,137.7 1399.8,143.6 1401.1,149.5 1402.3,155 1403.5,160 1404.3,163.8 1405,167.6 1405.8,170.7 1406.8,172 1407.5,171.7 1408.3,170.7 1409.2,169.4 1410,168 1411.3,165.8 1412.7,163.3 1414.1,160.5 1415.4,157.3 1417.2,151.9 1418.9,145.5 1420.7,139 1422.7,132.9 1424.8,127.6 1427,122.3 1429.5,117.5 1432.5,113.3 1435.7,110.3 1439.4,107.8 1443.2,105.7 1447.1,104 1450.7,102.8 1454.4,101.9 1458.1,101.4 1461.8,101.1 1465.6,101 1469.5,101.2 1473.2,101.6 1476.5,102.3 1478.5,103 1480.3,103.8 1482,104.7 1483.8,105.5" fill="none" stroke="#141414" stroke-width="2.7" stroke-linejoin="round" stroke-linecap="round"/>
<polyline points="856.2,486.2 859.2,485.2 862.2,484.4 865.3,483.3 868.4,482 872.7,479.5 877.2,476.3 881.6,473.3 885.5,471 887.5,470.3 889.4,469.9 891.1,469.5 892.9,468.6 895.4,466.3 897.7,463.2 900.1,459.8 902.6,456.4 905.6,452.8 908.7,449.2 911.9,445.4 914.8,441.7 917.3,437.9 919.6,434 921.9,430.3 924.6,427.1 927.4,424.9 930.5,423.1 933.7,421.4 936.8,419.7 939.9,417.7 943.1,415.5 946.2,413.6 949.1,412.4 951,412 952.8,411.8 954.6,411.9 956.4,412.4 958.9,413.8 961.3,416 963.8,418.5 966.2,421 968.7,423.5 971.2,426.1 973.6,428.9 975.9,432 978.5,436.3 981,441 983.4,446.1 985.7,451.5 988.3,458.5 990.8,466 993.2,473.6 995.5,480.8 997.3,486.6 999,492.2 1000.8,497.6 1002.8,502.8 1004.9,507.5 1007.2,512.1 1009.7,516.3 1012.6,519.9 1015.3,522.3 1018.2,524.3 1021.4,525.9 1024.8,527.2 1029.2,528.2 1034.1,528.5 1039.1,528.6 1044.3,528.5 1050.1,528.2 1056.1,527.5 1062.3,526.8 1068.8,526 1078.4,525.4 1089.3,524.8 1099.1,524 1105.4,522.4 1106.4,521.6 1107.1,520.8 1107.6,519.9 1108,519 1108.4,517.9 1108.6,516.5 1108.9,515.4 1109.1,515 1109.4,515.7 1109.8,517.3 1110.1,519.3 1110.3,521 1110.4,522.4 1110.3,523.9 1110.4,525.2 1110.8,526 1111.9,526 1113.5,525.4 1115.5,524.4 1117.7,523.6 1123.2,522.6 1130.1,521.8 1136.9,520.9 1142.1,519.9 1143.8,519.4 1145.3,518.8 1146.5,518.2 1147.5,517.5 1148.1,516.9 1148.6,516.4 1149,515.7 1149.4,515 1149.8,514 1150.2,512.8 1150.5,511.5 1150.8,510 1151.2,506.9 1151.5,503.3 1151.7,499.2 1151.9,495 1152.2,489.2 1152.4,482.8 1152.6,476.3 1152.8,470 1153,463.3 1153.3,456 1153.6,450.2 1153.8,447.8 1154,450.2 1154.3,455.9 1154.5,463.2 1154.7,470 1154.9,477.3 1155.1,485.1 1155.3,492.8 1155.5,500 1155.7,505.5 1155.9,510.8 1156.1,515.7 1156.5,520 1156.7,522.7 1156.8,525.2 1157.1,527.3 1158,528.5 1159.5,528.4 1161.5,527.4 1163.8,526 1166.5,524.8 1172.8,523.6 1180.8,522.7 1188.8,521.8 1195.4,520.6 1198.5,519.8 1201.3,519 1203.7,518.1 1205.7,516.8 1207.1,515.4 1208.3,513.7 1209.2,511.9 1210,510 1210.7,507.8 1211.2,505.4 1211.7,502.8 1212.1,500 1212.8,495.6 1213.4,490.7 1214.1,485.3 1214.6,479.6 1215.2,470.7 1215.7,460.7 1216,450.6 1216.4,441.1 1216.7,432.4 1217,423.2 1217.2,415.9 1217.5,412.9 1217.8,415.9 1218,423.2 1218.2,432.4 1218.5,441.1 1218.8,450.5 1219.1,460.5 1219.5,470.4 1219.8,479.6 1220.1,486.5 1220.3,493.2 1220.6,499.4 1221,505 1221.3,508.6 1221.5,511.9 1221.9,515 1222.3,518.1 1222.7,521.4 1223.1,525 1223.8,527.9 1224.9,529.6 1226.2,529.7 1227.7,529 1229.4,528 1231.3,527.1 1234.6,526 1238.4,524.8 1242.5,523.7 1246.7,522.7 1252.2,521.8 1258.1,521.1 1264.1,520.4 1269.8,519.4 1274.7,518.3 1279.5,517.2 1284,515.8 1287.8,514.2 1290,512.8 1291.9,511.3 1293.6,509.6 1295,508 1295.9,506.8 1296.7,505.5 1297.4,504.2 1298,502.7 1298.9,500 1299.6,496.8 1300.2,493.4 1300.8,490 1301.4,486.5 1301.8,482.9 1302.2,479.1 1302.6,475 1303.1,468.2 1303.5,460.6 1303.9,452.7 1304.2,445 1304.5,437.5 1304.7,430.1 1304.9,422.6 1305.2,415 1305.5,405.2 1305.8,394.2 1306.2,385.3 1306.5,381.6 1306.8,385.8 1307.2,396.1 1307.5,408.7 1307.8,420 1308.1,429 1308.3,438 1308.6,446.7 1308.8,455 1309,461.5 1309.2,467.7 1309.3,473.7 1309.6,479.6 1309.9,485 1310.2,490.3 1310.6,495.4 1311,500 1311.3,502.8 1311.5,505.4 1311.8,507.8 1312.1,510.4 1312.5,513.3 1312.9,516.4 1313.4,519.3 1314,522 1314.4,523.9 1314.7,525.8 1315.2,527.3 1316,528.3 1317.5,528.5 1319.4,527.9 1321.5,527 1323.7,526.3 1326.5,525.5 1329.6,524.7 1332.6,524 1335.2,523.7 1336.6,523.8 1337.8,524.1 1339,524.5 1340,525 1340.8,525.4 1341.5,526 1342.1,526.5 1342.9,527.1 1344.1,528 1345.4,528.9 1346.7,529.9 1348,530.9" fill="none" stroke="#141414" stroke-width="2.7" stroke-linejoin="round" stroke-linecap="round"/>
<text x="22" y="829" font-size="42" text-anchor="start" font-weight="bold" fill="#000">C</text>
<text x="257.6" y="828.4" font-size="29.5" text-anchor="start" font-weight="normal" fill="#000">30 s</text>
<polygon points="133.4,953.9 710.6,953.9 599,1095.6 21.5,1095.6" fill="#f59c00" stroke="none" stroke-width="0"/>
<polygon points="710.6,953.9 712.6,993 602.2,1133.6 599,1095.6" fill="#e38c0c" stroke="none" stroke-width="0"/>
<defs><linearGradient id="cf" x1="0" y1="0" x2="0" y2="1"><stop offset="0" stop-color="#b3711b"/><stop offset="0.25" stop-color="#bc771d"/><stop offset="1" stop-color="#c8801f"/></linearGradient></defs>
<polygon points="21.5,1095.6 599,1095.6 602.2,1133.6 21.5,1133.6" fill="url(#cf)" stroke="none" stroke-width="0"/>
<circle cx="57.5" cy="1117.0" r="11.4" fill="#e30b17" stroke="#3d2a20" stroke-width="2.2"/>
<circle cx="92.4" cy="1117.0" r="11.4" fill="#e30b17" stroke="#3d2a20" stroke-width="2.2"/>
<circle cx="126.6" cy="1117.0" r="11.4" fill="#e30b17" stroke="#3d2a20" stroke-width="2.2"/>
<circle cx="160.8" cy="1117.0" r="11.4" fill="#e30b17" stroke="#3d2a20" stroke-width="2.2"/>
<circle cx="195.1" cy="1117.0" r="11.4" fill="#e30b17" stroke="#3d2a20" stroke-width="2.2"/>
<circle cx="229.5" cy="1117.0" r="11.4" fill="#e30b17" stroke="#3d2a20" stroke-width="2.2"/>
<circle cx="263.8" cy="1117.0" r="11.4" fill="#e30b17" stroke="#3d2a20" stroke-width="2.2"/>
<circle cx="298.2" cy="1117.0" r="11.4" fill="#e30b17" stroke="#3d2a20" stroke-width="2.2"/>
<circle cx="332.8" cy="1117.0" r="11.4" fill="#e30b17" stroke="#3d2a20" stroke-width="2.2"/>
<circle cx="367.2" cy="1117.0" r="11.4" fill="#e30b17" stroke="#3d2a20" stroke-width="2.2"/>
<circle cx="401.6" cy="1117.0" r="11.4" fill="#e30b17" stroke="#3d2a20" stroke-width="2.2"/>
<circle cx="436.3" cy="1117.0" r="11.4" fill="#e30b17" stroke="#3d2a20" stroke-width="2.2"/>
<circle cx="470.9" cy="1117.0" r="11.4" fill="#e30b17" stroke="#3d2a20" stroke-width="2.2"/>
<circle cx="505.6" cy="1117.0" r="11.4" fill="#e30b17" stroke="#3d2a20" stroke-width="2.2"/>
<circle cx="540.1" cy="1117.0" r="11.4" fill="#e30b17" stroke="#3d2a20" stroke-width="2.2"/>
<circle cx="574.6" cy="1117.0" r="11.4" fill="#e30b17" stroke="#3d2a20" stroke-width="2.2"/>
<ellipse cx="533.9" cy="1023.2" rx="73.8" ry="11.2" fill="#70b83a" stroke="#2b3320" stroke-width="2.0"/>
<polygon points="179.1,855.7 196.7,847.6 269.2,991.3 273.6,990.6 273.6,1033.1 239.2,1005.2 247.2,1001.6" fill="#007f80" stroke="none" stroke-width="0"/>
<polygon points="372.6,856.4 355.7,847.6 284.6,991.3 278.8,990.6 278.8,1033.1 313.2,1005.2 304.4,1001.6" fill="#007f80" stroke="none" stroke-width="0"/>
<polygon points="465.3,832 589.3,832 589.3,899.5 649.2,899.2 649.2,901.5 612.4,907.4 578.2,915.6 526,923.6 492.6,918.4 467,912.4 441.3,907.2 404.5,901.5 404.5,899.2 465.3,899.5" fill="#6cb42f" stroke="none" stroke-width="0"/>
<text x="482.2" y="888.1" font-size="29.4" text-anchor="start" font-weight="normal" fill="#000">Pump</text>
<polygon points="697.6,1008.4 792.7,1008.4 792.7,993.5 823.8,1023 792.7,1054.5 792.7,1040 697.6,1040" fill="#e30b17" stroke="none" stroke-width="0"/>
<text x="738.6" y="967.8" font-size="28.5" text-anchor="start" font-weight="normal" fill="#e30b17">ASE</text>
<text x="896.5" y="714.9" font-size="42" text-anchor="start" font-weight="bold" fill="#000">E</text>
<line x1="997.9" y1="708.4" x2="997.9" y2="1061.7" stroke="#231f20" stroke-width="2.2"/>
<line x1="996.8" y1="1061.7" x2="1532.9" y2="1061.7" stroke="#231f20" stroke-width="2.2"/>
<line x1="988" y1="1061.7" x2="997.9" y2="1061.7" stroke="#231f20" stroke-width="2"/>
<line x1="988" y1="1011.2" x2="997.9" y2="1011.2" stroke="#231f20" stroke-width="2"/>
<line x1="988" y1="960.7" x2="997.9" y2="960.7" stroke="#231f20" stroke-width="2"/>
<line x1="988" y1="910.2" x2="997.9" y2="910.2" stroke="#231f20" stroke-width="2"/>
<line x1="988" y1="859.7" x2="997.9" y2="859.7" stroke="#231f20" stroke-width="2"/>
<line x1="988" y1="809.2" x2="997.9" y2="809.2" stroke="#231f20" stroke-width="2"/>
<line x1="988" y1="758.7" x2="997.9" y2="758.7" stroke="#231f20" stroke-width="2"/>
<line x1="988" y1="708.2" x2="997.9" y2="708.2" stroke="#231f20" stroke-width="2"/>
<line x1="997.9" y1="1061.7" x2="997.9" y2="1071.3" stroke="#231f20" stroke-width="2"/>
<line x1="1064" y1="1061.7" x2="1064" y2="1071.3" stroke="#231f20" stroke-width="2"/>
<line x1="1130.6" y1="1061.7" x2="1130.6" y2="1071.3" stroke="#231f20" stroke-width="2"/>
<line x1="1198.2" y1="1061.7" x2="1198.2" y2="1071.3" stroke="#231f20" stroke-width="2"/>
<line x1="1264" y1="1061.7" x2="1264" y2="1071.3" stroke="#231f20" stroke-width="2"/>
<line x1="1331.2" y1="1061.7" x2="1331.2" y2="1071.3" stroke="#231f20" stroke-width="2"/>
<line x1="1397" y1="1061.7" x2="1397" y2="1071.3" stroke="#231f20" stroke-width="2"/>
<line x1="1464.1" y1="1061.7" x2="1464.1" y2="1071.3" stroke="#231f20" stroke-width="2"/>
<line x1="1531.8" y1="1061.7" x2="1531.8" y2="1071.3" stroke="#231f20" stroke-width="2"/>
<text x="980.5" y="769.2" font-size="30" text-anchor="end" font-weight="normal" fill="#000">30</text>
<text x="980.5" y="870.2" font-size="30" text-anchor="end" font-weight="normal" fill="#000">20</text>
<text x="980.5" y="971.2" font-size="30" text-anchor="end" font-weight="normal" fill="#000">10</text>
<text x="980.5" y="1072.2" font-size="30" text-anchor="end" font-weight="normal" fill="#000">0</text>
<text x="997.9" y="1102.8" font-size="30.5" text-anchor="middle" font-weight="normal" fill="#000">0.5</text>
<text x="1130.6" y="1102.8" font-size="30.5" text-anchor="middle" font-weight="normal" fill="#000">1.0</text>
<text x="1264" y="1102.8" font-size="30.5" text-anchor="middle" font-weight="normal" fill="#000">1.5</text>
<text x="1397" y="1102.8" font-size="30.5" text-anchor="middle" font-weight="normal" fill="#000">2.0</text>
<text x="1531.8" y="1102.8" font-size="30.5" text-anchor="middle" font-weight="normal" fill="#000">2.5</text>
<text x="1270.8" y="1143.9" font-size="29.2" text-anchor="middle" font-weight="normal" fill="#000">Lateral distance (μm)</text>
<text x="921" y="904.5" font-size="29" text-anchor="middle" font-weight="normal" fill="#000" transform="rotate(-90 921 904.5)">Height (nm)</text>
<polyline points="997.9,911.2 999.3,891.8 1000.8,872.6 1002.5,854.8 1004.4,836.5 1007.2,812.8 1010.4,788.4 1013.6,764.1 1017.6,742.6 1021,732 1024.8,724.5 1026.9,722.2 1029,721 1030.6,720.9 1032.1,721.4 1034.1,723.7 1036,727 1038.3,731.7 1040.5,737.8 1044.8,757.5 1048.9,781.1 1052.8,804.9 1056.1,829.3 1058.5,855.1 1061,879.9 1064.6,898.2 1068.2,916 1070.8,935.7 1073,956.9 1076,991 1079,1021.9 1080.7,1031.9 1082.5,1040 1084,1047.6 1085.5,1052 1087,1048.8 1088.5,1043 1090.4,1036.8 1092.3,1029.1 1095.9,1007.2 1099.5,981 1103.2,951.7 1106.7,920.8 1110.4,884.4 1113.9,848.6 1116.9,821.3 1119.9,795.6 1122.7,771.3 1126,749.8 1128.7,737.9 1132,729.4 1134,727.2 1136,726.2 1137.6,726.2 1139.2,727 1143.5,731.1 1147.7,737.8 1151.9,753 1154.9,771.5 1158,794.9 1160.9,819.7 1164.3,847 1168.1,872.6 1171.7,886.8 1175.3,901.5 1179.2,934.3 1182.6,969 1185.6,992.9 1188.6,1014.7 1190.6,1035 1193.4,1047.2 1195.1,1046.2 1197,1044 1198.9,1042.6 1200.6,1040.5 1203.1,1025.5 1204.8,1005.1 1208.3,981.8 1212,956.9 1215.2,927.2 1218.1,896.7 1221,866.4 1224.1,836.5 1227.5,807.9 1231.3,781.1 1234.7,760.3 1238.5,745 1240.2,742.1 1242,740.5 1243.8,740 1245.7,740.2 1247.9,741.3 1250,743 1252.8,745.8 1255.4,749.8 1259.4,763.2 1262.6,781.1 1266.4,813.7 1269.8,848.6 1273.6,876.3 1277.1,901.5 1278.8,917.7 1280.7,932.8 1283.6,946.7 1286.7,961.7 1290.4,989.8 1293.9,1017.1 1296,1029.5 1298,1040 1299.3,1049.5 1301.1,1055.6 1302.5,1055.7 1304,1055 1305.7,1054 1307.2,1052 1310.5,1035 1313.2,1012.3 1316.8,993.7 1320.4,973.8 1324.2,942.5 1327.6,908.7 1331.1,872.2 1334.8,836.5 1338.3,807.2 1342.1,781.1 1344.6,764.6 1348.1,752.2 1351,748.1 1354.1,746.2 1356.1,746.9 1358,748.5 1360.3,750.9 1362.5,754.6 1367,769.3 1371,788.4 1374.8,811.6 1378.2,836.5 1381.8,866.8 1385.4,896.7 1389,919.3 1392.6,940 1395.1,954.4 1397.4,969 1400.6,993.4 1403.5,1017.1 1404.8,1029.2 1406,1040 1406.8,1051.1 1408.3,1058 1409.6,1057.5 1411,1056 1412.7,1053.9 1414.3,1050.8 1418,1034.1 1421.5,1012.3 1425.3,989.1 1428.8,964.1 1432,931.1 1434.8,896.7 1437.7,862.7 1440.8,829.3 1444.1,799.1 1448,771.5 1451.4,752.1 1455.2,737.8 1457,734.8 1459,733 1460.7,732.1 1462.5,731.8 1464.5,732.3 1466.5,733.5 1468.8,735.7 1470.9,739 1474.2,750.8 1476.9,766.7 1480.6,794 1484.1,824.5 1488,858.7 1491.4,891.9 1493,915.9 1495,937.6 1498.4,953.1 1502.2,968.9 1506.1,996.1 1509.4,1021.9 1511,1032.8 1512.5,1042 1513.7,1050.7 1515,1055.6 1516.7,1049.9 1518.5,1040 1520.6,1029.4 1522.7,1017.1 1525.9,994 1528.7,968.9 1530.6,946 1532.3,923.2" fill="none" stroke="#231f20" stroke-width="4.3" stroke-linejoin="round" stroke-linecap="round"/>
<text x="22" y="1336.4" font-size="42" text-anchor="start" font-weight="bold" fill="#000">D</text>
<text x="37.8" y="1443.3" font-size="30.4" text-anchor="start" font-weight="normal" fill="#000">DFB</text>
<text x="582" y="1375" font-size="29.8" text-anchor="start" font-weight="normal" fill="#e30b17">Lasing</text>
<polygon points="633.3,1503.4 656.8,1479.5 554.1,1406.9 530.6,1430.8" fill="#f49e0e" stroke="#f49e0e" stroke-width="0.8"/>
<polygon points="588.5,1479 633.3,1503.4 530.6,1430.8 485.8,1406.4" fill="#f49e0e" stroke="#f49e0e" stroke-width="0.8"/>
<polygon points="539.4,1521 588.5,1479 485.8,1406.4 436.7,1448.4" fill="#f49e0e" stroke="#f49e0e" stroke-width="0.8"/>
<polygon points="490.5,1498.5 539.4,1521 436.7,1448.4 387.8,1425.9" fill="#f49e0e" stroke="#f49e0e" stroke-width="0.8"/>
<polygon points="449.1,1544.1 490.5,1498.5 387.8,1425.9 346.4,1471.5" fill="#f49e0e" stroke="#f49e0e" stroke-width="0.8"/>
<polygon points="399.8,1520.5 449.1,1544.1 346.4,1471.5 297.1,1447.9" fill="#f49e0e" stroke="#f49e0e" stroke-width="0.8"/>
<polygon points="356,1564.5 399.8,1520.5 297.1,1447.9 253.3,1491.9" fill="#f49e0e" stroke="#f49e0e" stroke-width="0.8"/>
<polygon points="312.7,1541.6 356,1564.5 253.3,1491.9 210,1469" fill="#f49e0e" stroke="#f49e0e" stroke-width="0.8"/>
<polygon points="265.5,1585.5 312.7,1541.6 210,1469 162.8,1512.9" fill="#f49e0e" stroke="#f49e0e" stroke-width="0.8"/>
<polygon points="219.9,1562.5 265.5,1585.5 162.8,1512.9 117.2,1489.9" fill="#f49e0e" stroke="#f49e0e" stroke-width="0.8"/>
<polygon points="175.6,1606.8 219.9,1562.5 117.2,1489.9 72.9,1534.2" fill="#f49e0e" stroke="#f49e0e" stroke-width="0.8"/>
<polygon points="131.3,1583.8 175.6,1606.8 72.9,1534.2 28.6,1511.2" fill="#f49e0e" stroke="#f49e0e" stroke-width="0.8"/>
<polygon points="105.4,1606.8 124.5,1587 128.5,1583.8 131.3,1583.8 28.6,1511.2 21.5,1510.4 15,1512.2 9.5,1516.2 5.6,1521.5 3.4,1527.5 2.7,1534.2" fill="#f49e0e" stroke="#f49e0e" stroke-width="0.8"/>
<polygon points="8,1519 16,1512.5 112,1586 104,1592" fill="#f5a41a" stroke="none" stroke-width="0"/>
<line x1="131.3" y1="1583.8" x2="28.6" y2="1511.2" stroke="#d88a18" stroke-width="1.5"/>
<line x1="175.6" y1="1606.8" x2="72.9" y2="1534.2" stroke="#d88a18" stroke-width="1.5"/>
<line x1="219.9" y1="1562.5" x2="117.2" y2="1489.9" stroke="#d88a18" stroke-width="1.5"/>
<line x1="265.5" y1="1585.5" x2="162.8" y2="1512.9" stroke="#d88a18" stroke-width="1.5"/>
<line x1="312.7" y1="1541.6" x2="210" y2="1469" stroke="#d88a18" stroke-width="1.5"/>
<line x1="356" y1="1564.5" x2="253.3" y2="1491.9" stroke="#d88a18" stroke-width="1.5"/>
<line x1="399.8" y1="1520.5" x2="297.1" y2="1447.9" stroke="#d88a18" stroke-width="1.5"/>
<line x1="449.1" y1="1544.1" x2="346.4" y2="1471.5" stroke="#d88a18" stroke-width="1.5"/>
<line x1="490.5" y1="1498.5" x2="387.8" y2="1425.9" stroke="#d88a18" stroke-width="1.5"/>
<line x1="539.4" y1="1521" x2="436.7" y2="1448.4" stroke="#d88a18" stroke-width="1.5"/>
<line x1="588.5" y1="1479" x2="485.8" y2="1406.4" stroke="#d88a18" stroke-width="1.5"/>
<line x1="633.3" y1="1503.4" x2="530.6" y2="1430.8" stroke="#d88a18" stroke-width="1.5"/>
<polygon points="105.4,1606.8 124.5,1587 128.5,1583.8 131.3,1583.8 175.6,1606.8 219.9,1562.5 265.5,1585.5 312.7,1541.6 356,1564.5 399.8,1520.5 449.1,1544.1 490.5,1498.5 539.4,1521 588.5,1479 633.3,1503.4 656.8,1479.5 656.8,1525 105.4,1651" fill="#d3841a" stroke="none" stroke-width="0"/>
<polygon points="105.4,1606.8 105.4,1651 2.7,1578.4 2.7,1534.2" fill="#cf801b" stroke="none" stroke-width="0"/>
<circle cx="127.9" cy="1626.3" r="11.9" fill="#e30b17" stroke="#3d2a20" stroke-width="2.2"/>
<circle cx="214" cy="1601" r="11.9" fill="#e30b17" stroke="#3d2a20" stroke-width="2.2"/>
<circle cx="312" cy="1576.3" r="11.9" fill="#e30b17" stroke="#3d2a20" stroke-width="2.2"/>
<circle cx="410.1" cy="1551.3" r="11.9" fill="#e30b17" stroke="#3d2a20" stroke-width="2.2"/>
<circle cx="496.5" cy="1538.6" r="11.9" fill="#e30b17" stroke="#3d2a20" stroke-width="2.2"/>
<circle cx="594.6" cy="1513.6" r="11.9" fill="#e30b17" stroke="#3d2a20" stroke-width="2.2"/>
<ellipse cx="298.3" cy="1510.6" rx="78.0" ry="9.0" transform="rotate(-16.9 298.3 1510.6)" fill="#6fb83a" stroke="#2b3320" stroke-width="2.0"/>
<polygon points="158.6,1400.5 319.8,1360.9 337.7,1433.7 419.3,1413.9 419.9,1416.1 372.9,1434.4 326.5,1455 258.9,1481.9 210.6,1486.6 160.2,1490.7 97.5,1495.3 96.9,1493.1 176.5,1473.3" fill="#6cb42f" stroke="none" stroke-width="0"/>
<text x="251.3" y="1442.6" font-size="28.5" text-anchor="middle" font-weight="normal" fill="#000" transform="rotate(-13.8 251.3 1442.6)">Pump</text>
<polygon points="623.8,1433.5 717.2,1397.9 713.9,1383.8 755.5,1401.2 734.7,1440.9 730.7,1428.8 634.6,1461" fill="#e30b17" stroke="none" stroke-width="0"/>
<text x="896" y="1336.9" font-size="42" text-anchor="start" font-weight="bold" fill="#000">F</text>
<line x1="894.5" y1="1641.5" x2="1060.5" y2="1473.5" stroke="#7d7d7d" stroke-width="2"/>
<line x1="1037.5" y1="1641.5" x2="1203.5" y2="1473.5" stroke="#7d7d7d" stroke-width="2"/>
<line x1="1180.5" y1="1641.5" x2="1346.5" y2="1473.5" stroke="#7d7d7d" stroke-width="2"/>
<line x1="1323.5" y1="1641.5" x2="1489.5" y2="1473.5" stroke="#7d7d7d" stroke-width="2"/>
<line x1="1466.5" y1="1641.5" x2="1632.5" y2="1473.5" stroke="#7d7d7d" stroke-width="2"/>
<line x1="820" y1="1643" x2="1466.5" y2="1641.5" stroke="#2a2020" stroke-width="3"/>
<line x1="895.5" y1="1641.5" x2="885.5" y2="1650.5" stroke="#2a2020" stroke-width="3.2"/>
<line x1="967" y1="1641.5" x2="963" y2="1645.5" stroke="#2a2020" stroke-width="3"/>
<line x1="1038.5" y1="1641.5" x2="1028.5" y2="1650.5" stroke="#2a2020" stroke-width="3.2"/>
<line x1="1110" y1="1641.5" x2="1106" y2="1645.5" stroke="#2a2020" stroke-width="3"/>
<line x1="1181.5" y1="1641.5" x2="1171.5" y2="1650.5" stroke="#2a2020" stroke-width="3.2"/>
<line x1="1253" y1="1641.5" x2="1249" y2="1645.5" stroke="#2a2020" stroke-width="3"/>
<line x1="1324.5" y1="1641.5" x2="1314.5" y2="1650.5" stroke="#2a2020" stroke-width="3.2"/>
<line x1="1396" y1="1641.5" x2="1392" y2="1645.5" stroke="#2a2020" stroke-width="3"/>
<line x1="1467.5" y1="1641.5" x2="1457.5" y2="1650.5" stroke="#2a2020" stroke-width="3.2"/>
<line x1="821" y1="1643" x2="817" y2="1646.5" stroke="#2a2020" stroke-width="2.5"/>
<text x="885.4" y="1680.2" font-size="25.2" text-anchor="middle" font-weight="normal" fill="#000" textLength="48" lengthAdjust="spacingAndGlyphs">500</text>
<text x="1026.5" y="1680.2" font-size="25.2" text-anchor="middle" font-weight="normal" fill="#000" textLength="48" lengthAdjust="spacingAndGlyphs">600</text>
<text x="1168.9" y="1680.2" font-size="25.2" text-anchor="middle" font-weight="normal" fill="#000" textLength="48" lengthAdjust="spacingAndGlyphs">700</text>
<text x="1310.3" y="1680.2" font-size="25.2" text-anchor="middle" font-weight="normal" fill="#000" textLength="48" lengthAdjust="spacingAndGlyphs">800</text>
<text x="1452.3" y="1680.2" font-size="25.2" text-anchor="middle" font-weight="normal" fill="#000" textLength="48" lengthAdjust="spacingAndGlyphs">900</text>
<text x="1168" y="1737.2" font-size="28.9" text-anchor="middle" font-weight="normal" fill="#000">Wavelength (nm)</text>
<line x1="1250" y1="1457.5" x2="1618" y2="1457.5" stroke="#2e3f97" stroke-width="3"/>
<polygon points="972,1453.9 972.5,1453.2 973,1453.3 973.5,1453.2 974,1452.7 974.5,1453.3 975,1452.8 975.5,1451.5 976,1450.7 976.5,1450.4 977,1449.3 977.5,1450.2 978,1450.7 978.5,1451.2 979,1452.4 979.5,1452.7 980,1452.2 980.5,1452.3 981,1452 981.5,1451.9 982,1451.7 982.5,1452.4 983,1451 983.5,1452.1 984,1451.6 984.5,1452.2 985,1451.6 985.5,1451.4 986,1452 986.5,1451.8 987,1451 987.5,1451.8 988,1452.5 988.5,1452.4 989,1451.6 989.5,1452 990,1452.3 990.5,1452.2 991,1453 991.5,1452.2 992,1452.3 992.5,1451.8 993,1451.2 993.5,1451.3 994,1449.5 994.5,1448.8 995,1449.4 995.5,1450.4 996,1450.5 996.5,1452.3 997,1452.5 997.5,1452.7 998,1453.1 998.5,1452.9 999,1451.5 999.5,1450.5 1000,1450.3 1000.5,1449.6 1001,1447.4 1001.5,1449.6 1002,1450.3 1002.5,1451.2 1003,1453.3 1003.5,1452.7 1004,1453.2 1004.5,1452.9 1005,1453.2 1005.5,1453.5 1006,1454.1 1006.5,1453.3 1007,1454.1 1007.5,1454.1 1008,1453.3 1008.5,1453.4 1009,1453.3 1009.5,1451.5 1010,1450 1010.5,1448.3 1011,1447.3 1011.5,1445.4 1012,1448.3 1012.5,1449.1 1013,1449.6 1013.5,1453.2 1014,1453 1014.5,1453.9 1015,1452.9 1015.5,1453.8 1016,1452.9 1016.5,1452.4 1017,1453 1017.5,1453.7 1018,1453.1 1018.5,1453.7 1019,1453.1 1019.5,1452.2 1020,1452.2 1020.5,1453.4 1021,1453 1021.5,1451.8 1022,1450.4 1022.5,1449.1 1023,1450.9 1023.5,1451.1 1024,1451.7 1024.5,1449.7 1025,1448.2 1025.5,1449.6 1026,1450.2 1026.5,1450.8 1027,1451.1 1027.5,1451.9 1028,1453.3 1028.5,1452.9 1029,1453.4 1029.5,1453.5 1030,1453.4 1030.5,1454.5 1031,1453.7 1031.5,1453.8 1032,1453.8 1032.5,1453 1033,1452.8 1033.5,1452.3 1034,1452.3 1034.5,1452.7 1035,1454 1035.5,1453.6 1036,1452.8 1036.5,1453.7 1037,1453 1037.5,1453.6 1038,1452.5 1038.5,1453.3 1039,1452.9 1039.5,1453.2 1040,1453 1040.5,1452.5 1041,1452 1041.5,1451.5 1042,1452.4 1042.5,1452.1 1043,1453.3 1043.5,1452.9 1044,1452.1 1044.5,1452.9 1045,1453.3 1045.5,1453.1 1046,1452.7 1046.5,1452.1 1047,1453.1 1047.5,1452.6 1048,1452.8 1048.5,1453.6 1049,1453.5 1049.5,1453.9 1050,1453.3 1050.5,1454.4 1051,1453.7 1051.5,1454.2 1052,1454 1052.5,1454.1 1053,1453.3 1053.5,1453.7 1054,1454.2 1054.5,1454.4 1055,1453.9 1055.5,1453 1056,1453.1 1056.5,1451.9 1057,1452 1057.5,1450.5 1058,1448.8 1058.5,1449.8 1059,1451.7 1059.5,1452.6 1060,1451.9 1060.5,1452.4 1061,1453.1 1061.5,1452.8 1062,1452.5 1062.5,1453.1 1063,1452.6 1063.5,1452.4 1064,1451.5 1064.5,1452 1065,1451.7 1065.5,1452.8 1066,1452.6 1066.5,1452.2 1067,1451.4 1067.5,1449.9 1068,1447.5 1068.5,1446.7 1069,1448.2 1069.5,1449.9 1070,1452.9 1070.5,1452.8 1071,1452.6 1071.5,1453.2 1072,1452.8 1072.5,1452.3 1073,1452.8 1073.5,1453.1 1074,1452.5 1074.5,1453.4 1075,1452.7 1075.5,1452.9 1076,1452.9 1076.5,1452.7 1077,1451 1077.5,1449.1 1078,1447.3 1078.5,1444.3 1079,1443.2 1079.5,1442.3 1080,1441.7 1080.5,1437.3 1081,1434.8 1081.5,1430.6 1082,1427.1 1082.5,1423.9 1083,1421.1 1083.5,1417.6 1084,1414.4 1084.5,1412.5 1085,1414.1 1085.5,1414.8 1086,1417.9 1086.5,1420.9 1087,1423.8 1087.5,1426.7 1088,1429.7 1088.5,1432.6 1089,1436.7 1089.5,1439.2 1090,1442.7 1090.5,1445.2 1091,1447.5 1091.5,1449.3 1092,1450.3 1092.5,1451.8 1093,1452 1093.5,1452 1094,1453.3 1094.5,1453.4 1095,1453.5 1095.5,1453.6 1096,1453.5 1096.5,1454.6 1097,1454.1 1097.5,1454.3 1098,1455.1 1098.5,1454.1 1099,1454.9 1099.5,1454.4 1100,1454.2 1100.5,1454.2 1101,1454.6 1101.5,1453.7 1102,1454 1102.5,1452.8 1103,1452.9 1103.5,1451.1 1104,1452.6 1104.5,1452.1 1105,1452.3 1105.5,1453.4 1106,1452.9 1106.5,1452.6 1107,1452.3 1107.5,1452 1108,1453 1108.5,1452.5 1109,1452.7 1109.5,1452.2 1110,1453.2 1110.5,1453.1 1111,1453.1 1111.5,1453 1112,1452.2 1112.5,1452.3 1113,1451.8 1113.5,1452.5 1114,1452.2 1114.5,1453.1 1115,1453.7 1115.5,1452.1 1116,1453.2 1116.5,1452.2 1117,1453.1 1117.5,1452.3 1118,1452.6 1118.5,1452.7 1119,1453.2 1119.5,1453.4 1120,1453 1120.5,1452.2 1121,1452.4 1121.5,1452.7 1122,1451.5 1122.5,1452.8 1123,1452.8 1123.5,1452.4 1124,1452.8 1124.5,1453 1125,1453 1125.5,1452.4 1126,1453.7 1126.5,1452.7 1127,1452.8 1127.5,1453.7 1128,1453.8 1128.5,1452.8 1129,1453.3 1129.5,1453.7 1130,1452.7 1130.5,1452.6 1131,1451.9 1131.5,1452.3 1132,1452.6 1132.5,1453.4 1133,1453.6 1133.5,1453.3 1134,1453.5 1134.5,1453.8 1135,1453.4 1135.5,1454.1 1136,1454.1 1136.5,1454.5 1137,1454.3 1137.5,1454.8 1138,1454.5 1138.5,1454.4 1139,1454 1139.5,1453.2 1140,1453.3 1140.5,1453.2 1141,1453.1 1141.5,1454.1 1142,1454.2 1142.5,1454.3 1143,1453.3 1143.5,1453.1 1144,1453.4 1144.5,1453.3 1145,1453.3 1145.5,1454 1146,1453 1146.5,1453.4 1147,1451.8 1147.5,1452.4 1148,1451.5 1148.5,1450.4 1149,1451.2 1149.5,1451.9 1150,1451.1 1150.5,1452.1 1151,1452.7 1151.5,1453.7 1152,1453.6 1152.5,1453.1 1153,1452.4 1153.5,1453.4 1154,1453.3 1154.5,1453.4 1155,1452.9 1155.5,1452.7 1156,1452.9 1156.5,1452.3 1157,1452.4 1157.5,1452.4 1158,1452.5 1158.5,1453.3 1159,1452.5 1159.5,1453.4 1160,1453.1 1160.5,1453.6 1161,1453.2 1161.5,1452.5 1162,1454.1 1162.5,1452.8 1163,1453.5 1163.5,1452.3 1164,1452.2 1164.5,1451.7 1165,1451.3 1165.5,1452.1 1166,1452.3 1166.5,1451.8 1167,1453.2 1167.5,1452.2 1168,1452.4 1168.5,1452.9 1169,1452.8 1169.5,1452.8 1170,1453.1 1170.5,1453 1171,1452.9 1171.5,1451.9 1172,1450.8 1172.5,1450.4 1173,1450.1 1173.5,1450.8 1174,1451.6 1174.5,1452 1175,1452.9 1175.5,1453.1 1176,1452.8 1176.5,1453.5 1177,1452.7 1177.5,1453.3 1178,1452.6 1178.5,1452.3 1179,1452.4 1179.5,1452 1180,1453.2 1180.5,1453 1181,1452.4 1181.5,1453.3 1182,1453.4 1182.5,1452.2 1183,1452.6 1183.5,1451.7 1184,1452.4 1184.5,1451.7 1185,1452.7 1185.5,1451.9 1186,1451.4 1186.5,1451.3 1187,1451.3 1187.5,1451.1 1188,1452.3 1188.5,1451.5 1189,1451.8 1189.5,1452 1190,1451.4 1190.5,1450.7 1191,1452.1 1191.5,1451.4 1192,1452 1192.5,1452.6 1193,1452.8 1193.5,1453 1194,1452.7 1194.5,1452.4 1195,1453.5 1195.5,1452.8 1196,1452.1 1196.5,1452.3 1197,1452 1197.5,1453.8 1198,1453.3 1198.5,1453.6 1199,1454.3 1199.5,1453.3 1200,1452.7 1200.5,1453.7 1201,1453.4 1201.5,1452.6 1202,1453.3 1202.5,1453.7 1203,1454.1 1203.5,1454.3 1204,1454.1 1204.5,1452.7 1205,1453.1 1205.5,1453.6 1206,1453.1 1206.5,1453.6 1207,1452.8 1207.5,1453 1208,1453.9 1208.5,1453.4 1209,1452.5 1209.5,1453.2 1210,1453.2 1210.5,1452.5 1211,1452.4 1211.5,1452.7 1212,1452.3 1212.5,1451.6 1213,1452.5 1213.5,1451.7 1214,1452.7 1214.5,1451.8 1215,1452.5 1215.5,1452.1 1216,1452.1 1216.5,1452.2 1217,1452.8 1217.5,1452.7 1218,1452.2 1218.5,1451.9 1219,1451.7 1219.5,1452.6 1220,1452.6 1220.5,1452.5 1221,1453.2 1221.5,1452.3 1222,1453.7 1222.5,1452.6 1223,1452.4 1223.5,1453.4 1224,1452.6 1224.5,1452.7 1225,1452.5 1225.5,1453.1 1226,1452.9 1226.5,1453.1 1227,1452.8 1227.5,1453.3 1228,1452.9 1228.5,1453.5 1229,1454.4 1229.5,1454 1230,1453.5 1230.5,1453.7 1231,1453.4 1231.5,1452.7 1232,1453.3 1232.5,1453.5 1233,1452.4 1233.5,1452.3 1234,1452.2 1234.5,1452.6 1235,1451.8 1235.5,1452.2 1236,1452.4 1236.5,1451.5 1237,1450 1237.5,1449.1 1238,1447.4 1238.5,1445.7 1239,1446.8 1239.5,1448.1 1240,1450.2 1240.5,1453.1 1241,1452.3 1241.5,1452.9 1242,1452.3 1242.5,1453 1243,1452.9 1243.5,1452.1 1244,1452.1 1244.5,1452.7 1245,1452.9 1245.5,1452.6 1246,1453.3 1246.5,1453.4 1247,1453.6 1247.5,1453.7 1248,1453.4 1248.5,1453.5 1249,1453 1249.5,1452.5 1250,1452.3 1250.5,1452.7 1251,1452.5 1251.5,1451.9 1252,1451.6 1252.5,1452.5 1253,1452.6 1253.5,1452.4 1254,1451.9 1254.5,1452.2 1255,1452.8 1255.5,1451.7 1256,1451.5 1256.5,1451.5 1257,1452.6 1257.5,1452.1 1258,1451.4 1258.5,1451.4 1259,1451.9 1259.5,1451.4 1260,1451.9 1260.5,1452 1261,1451.8 1261.5,1452.4 1262,1452.9 1262.5,1453.3 1263,1452.5 1263.5,1451.5 1264,1452 1264.5,1451.7 1265,1452.8 1265.5,1451.7 1266,1452.3 1266.5,1452.1 1267,1452.4 1267.5,1452.1 1268,1452 1268.5,1453.3 1269,1453.1 1269.5,1452.6 1270,1452.6 1270.5,1452.3 1271,1453.4 1271.5,1452.9 1272,1453.1 1272.5,1453.3 1273,1453.4 1273.5,1454.6 1274,1454.4 1274.5,1454 1275,1455.1 1275.5,1453.8 1276,1454.2 1276.5,1453.7 1277,1453.8 1277.5,1453.1 1278,1453 1278.5,1452.4 1279,1453.3 1279.5,1452.2 1280,1450.4 1280.5,1449.6 1281,1448.8 1281.5,1448.7 1282,1450.5 1282.5,1451 1283,1452.8 1283.5,1452.2 1284,1452.6 1284.5,1452.5 1285,1452.6 1285.5,1451.6 1286,1452.6 1286.5,1452.2 1287,1452 1287.5,1452.4 1288,1451.8 1288.5,1452.9 1289,1452.9 1289.5,1453 1290,1453.7 1290.5,1453.2 1291,1453.5 1291.5,1453.1 1292,1453 1292.5,1453 1293,1453.4 1293.5,1453.8 1294,1453.4 1294.5,1451.7 1295,1452.2 1295.5,1451.9 1296,1451.3 1296.5,1450.5 1297,1448.6 1297.5,1447.4 1298,1445.8 1298.5,1443.3 1299,1440.7 1299.5,1439.5 1300,1437.2 1300.5,1432.9 1301,1428.1 1301.5,1424.9 1302,1420.6 1302.5,1416.1 1303,1412.7 1303.5,1407.4 1304,1403 1304.5,1397.9 1305,1393.9 1305.5,1390.1 1306,1385.7 1306.5,1380.8 1307,1376.9 1307.5,1370.4 1308,1363.3 1308.5,1356.6 1309,1349.8 1309.5,1342.9 1310,1336 1310.5,1328.9 1311,1322.1 1311.5,1314.9 1312,1308.3 1312.5,1301.3 1313,1294.6 1313.5,1287.8 1314,1281 1314.5,1273.6 1315,1266.6 1315.5,1258.9 1316,1251.4 1316.5,1244.2 1317,1236.7 1317.5,1229 1318,1221.9 1318.5,1214.8 1319,1206.9 1319.5,1199.2 1320,1194.3 1320.5,1189.9 1321,1185.4 1321.5,1181.1 1322,1176.7 1322.5,1172.3 1323,1168.3 1323.5,1164.5 1324,1160.5 1324.5,1156.1 1325,1157.4 1325.5,1159.4 1326,1161.7 1326.5,1164.3 1327,1166.1 1327.5,1168.2 1328,1170.3 1328.5,1172.2 1329,1174.3 1329.5,1176.7 1330,1179.1 1330.5,1181.9 1331,1185.4 1331.5,1190.6 1332,1195.9 1332.5,1201.2 1333,1206.2 1333.5,1211.8 1334,1216.9 1334.5,1221.9 1335,1227 1335.5,1231.7 1336,1236.8 1336.5,1242.2 1337,1247.8 1337.5,1254.3 1338,1260.6 1338.5,1266.6 1339,1272.6 1339.5,1278.5 1340,1284.8 1340.5,1290.9 1341,1296.6 1341.5,1303 1342,1308.1 1342.5,1311.5 1343,1315.1 1343.5,1318.4 1344,1321.6 1344.5,1324.6 1345,1328.4 1345.5,1331.2 1346,1334.8 1346.5,1337.9 1347,1341.2 1347.5,1345.2 1348,1348.2 1348.5,1351.7 1349,1355.3 1349.5,1358.2 1350,1361.8 1350.5,1364.4 1351,1365.6 1351.5,1367.4 1352,1368.8 1352.5,1370.5 1353,1371.6 1353.5,1373.3 1354,1374.5 1354.5,1376.2 1355,1377.4 1355.5,1378.3 1356,1380 1356.5,1380.6 1357,1382.3 1357.5,1383.7 1358,1384.6 1358.5,1385.4 1359,1387.1 1359.5,1388.8 1360,1390.5 1360.5,1392.1 1361,1393.2 1361.5,1395 1362,1395.2 1362.5,1396.6 1363,1398.4 1363.5,1399.4 1364,1401.2 1364.5,1401.5 1365,1403.2 1365.5,1403.6 1366,1404 1366.5,1404 1367,1406.1 1367.5,1406.1 1368,1407.3 1368.5,1407.2 1369,1408.2 1369.5,1407.8 1370,1408.9 1370.5,1409.9 1371,1409.7 1371.5,1409.8 1372,1410 1372.5,1411.2 1373,1411.8 1373.5,1412.3 1374,1412.3 1374.5,1413.7 1375,1413.9 1375.5,1413.7 1376,1415.1 1376.5,1414.9 1377,1415.2 1377.5,1415.8 1378,1416.3 1378.5,1417.2 1379,1416.8 1379.5,1417.2 1380,1418.3 1380.5,1418.7 1381,1419.3 1381.5,1419.8 1382,1420.6 1382.5,1420.9 1383,1420.9 1383.5,1421.7 1384,1421.9 1384.5,1421.7 1385,1421.9 1385.5,1422.7 1386,1422.9 1386.5,1424.1 1387,1424.8 1387.5,1424.4 1388,1424.1 1388.5,1425.1 1389,1425.4 1389.5,1425.5 1390,1425.7 1390.5,1426 1391,1426.8 1391.5,1426.2 1392,1427.3 1392.5,1426.7 1393,1427.4 1393.5,1426.8 1394,1426.3 1394.5,1427.5 1395,1427 1395.5,1427.6 1396,1427.3 1396.5,1427.7 1397,1427.7 1397.5,1428.3 1398,1428.7 1398.5,1428.3 1399,1428.9 1399.5,1427.1 1400,1426.5 1400.5,1426.1 1401,1427.7 1401.5,1428.8 1402,1430 1402.5,1430 1403,1430.6 1403.5,1431.4 1404,1432.1 1404.5,1431.5 1405,1430 1405.5,1430.6 1406,1429.8 1406.5,1429.9 1407,1429.7 1407.5,1430.7 1408,1430.6 1408.5,1431.7 1409,1432.4 1409.5,1432.3 1410,1432.8 1410.5,1433.2 1411,1433.9 1411.5,1433.5 1412,1434.4 1412.5,1434 1413,1433.6 1413.5,1433.1 1414,1433.5 1414.5,1434 1415,1433.7 1415.5,1434.1 1416,1434.5 1416.5,1435 1417,1435.3 1417.5,1434.8 1418,1435.8 1418.5,1436 1419,1435.6 1419.5,1435.9 1420,1436.4 1420.5,1436.1 1421,1436.5 1421.5,1436.1 1422,1436.8 1422.5,1436.8 1423,1437 1423.5,1437.8 1424,1437.9 1424.5,1438 1425,1437.6 1425.5,1437.7 1426,1437.6 1426.5,1437 1427,1435.9 1427.5,1435.7 1428,1436.2 1428.5,1436.3 1429,1435.8 1429.5,1435.4 1430,1435.6 1430.5,1436.6 1431,1436 1431.5,1436.1 1432,1435.7 1432.5,1436.3 1433,1436.2 1433.5,1437.2 1434,1436.6 1434.5,1437.1 1435,1436.9 1435.5,1436.5 1436,1436.5 1436.5,1437.6 1437,1437.1 1437.5,1438.7 1438,1438.9 1438.5,1439.3 1439,1438.4 1439.5,1439.7 1440,1439.1 1440.5,1439.9 1441,1439.5 1441.5,1440.1 1442,1439.4 1442.5,1439 1443,1439 1443.5,1439.1 1444,1440.5 1444.5,1441.2 1445,1441.2 1445.5,1442.1 1446,1441.4 1446.5,1442 1447,1441.5 1447.5,1441.6 1448,1441.7 1448.5,1441.4 1449,1442 1449.5,1441.5 1450,1442.2 1450.5,1441.4 1451,1440.8 1451.5,1441.3 1452,1441.8 1452.5,1441.2 1453,1441.9 1453.5,1441.6 1454,1441 1454.5,1440.7 1455,1441.1 1455.5,1439.7 1456,1439.3 1456.5,1440.5 1457,1440.8 1457.5,1440.8 1458,1440.3 1458.5,1441.1 1459,1441.6 1459.5,1440.9 1460,1441.4 1460.5,1441.5 1461,1440.7 1461.5,1441.2 1462,1440.7 1462.5,1441.3 1463,1441.4 1463.5,1441.1 1464,1440.5 1464.5,1440.9 1465,1440.6 1465.5,1440.3 1466,1440.9 1466.5,1441.9 1467,1441.1 1467.5,1442 1468,1442 1468.5,1442.3 1469,1441.6 1469.5,1442 1470,1441.4 1470.5,1440.6 1471,1441.7 1471.5,1441.1 1472,1441.7 1472.5,1442.9 1473,1443.2 1473.5,1442.5 1474,1442.9 1474.5,1443 1475,1442 1475.5,1443.1 1476,1442.6 1476.5,1443.1 1477,1442.8 1477.5,1442.4 1478,1442.7 1478.5,1443.3 1479,1442.7 1479.5,1442.9 1480,1443.8 1480.5,1443.7 1481,1443.3 1481.5,1443.2 1482,1444.4 1482.5,1443.6 1483,1443.9 1483.5,1444.7 1484,1444.5 1484.5,1445.4 1485,1444.7 1485.5,1445 1486,1444.8 1486.5,1445.6 1487,1445.4 1487.5,1444.1 1488,1444.7 1488.5,1443.9 1489,1443.9 1489.5,1445.3 1490,1445.1 1490.5,1444.1 1491,1445.5 1491.5,1443.9 1492,1444.1 1492.5,1444.7 1493,1444.6 1493.5,1444 1494,1444.7 1494.5,1444.5 1495,1445.1 1495.5,1444.8 1496,1444.6 1496.5,1445.4 1497,1444.1 1497.5,1445.2 1498,1445.3 1498.5,1444.8 1499,1445.2 1499.5,1444.5 1500,1444.7 1500.5,1444.9 1501,1445.2 1501.5,1445.2 1502,1445.7 1502.5,1445.8 1503,1445.4 1503.5,1446 1504,1446.4 1504.5,1445.7 1505,1446.4 1505.5,1446.2 1506,1446.1 1506.5,1446.4 1507,1446 1507.5,1446 1508,1447.9 1508.5,1447.8 1509,1447.5 1509.5,1447.7 1510,1446.1 1510.5,1446.9 1511,1446.9 1511.5,1446.5 1512,1446 1512.5,1446.4 1513,1445.8 1513.5,1447.3 1514,1447.3 1514.5,1447.8 1515,1446.7 1515.5,1445.2 1516,1442.7 1516.5,1441.9 1517,1442.9 1517.5,1445.4 1518,1445.6 1518.5,1445.8 1519,1444.6 1519.5,1443.5 1520,1444.3 1520.5,1445.6 1521,1444.9 1521.5,1445.4 1522,1445.7 1522.5,1446.3 1523,1446.8 1523.5,1446.3 1524,1446.8 1524.5,1446 1525,1446.8 1525.5,1446.4 1526,1446.6 1526.5,1447.4 1527,1446.8 1527.5,1446.5 1528,1447.9 1528.5,1446.9 1529,1446.7 1529.5,1446.7 1530,1447.7 1530.5,1447.2 1531,1446.8 1531.5,1447.7 1532,1447.1 1532.5,1447.6 1533,1448.1 1533.5,1448.7 1534,1449 1534.5,1448.7 1535,1449.6 1535.5,1448.6 1536,1448.3 1536.5,1448.7 1537,1447.6 1537.5,1447.6 1538,1447.6 1538.5,1447.2 1539,1448.3 1539.5,1449.2 1540,1449.8 1540.5,1448.3 1541,1447.3 1541.5,1447.1 1542,1446.2 1542.5,1445 1543,1444.9 1543.5,1445.8 1544,1446.5 1544.5,1448.4 1545,1447.6 1545.5,1448.7 1546,1449 1546.5,1448.3 1547,1448.3 1547.5,1448.2 1548,1448.7 1548.5,1448.4 1549,1448.1 1549.5,1448.3 1550,1447.8 1550.5,1447.8 1551,1447.6 1551.5,1446.3 1552,1446 1552.5,1445.3 1553,1445.2 1553.5,1443.8 1554,1444.5 1554.5,1446 1555,1447.4 1555.5,1448.1 1556,1448.5 1556.5,1448.9 1557,1450 1557.5,1450.3 1558,1450.8 1558.5,1450 1559,1450.4 1559.5,1449.2 1560,1449 1560.5,1449.6 1561,1448.9 1561.5,1448.2 1562,1449.5 1562.5,1449.4 1563,1450.7 1563.5,1450.6 1564,1450.9 1564.5,1450.1 1565,1448.5 1565.5,1447.7 1566,1446.1 1566.5,1446.4 1567,1446.8 1567.5,1447.4 1568,1447.7 1568.5,1447.9 1569,1448.5 1569.5,1449.1 1570,1449.8 1570.5,1449.7 1571,1449.9 1571.5,1448.3 1572,1448.6 1572.5,1448.8 1573,1448.8 1573.5,1448.7 1574,1447.9 1574.5,1449 1575,1448.7 1575.5,1449.6 1576,1449.5 1576.5,1449.9 1577,1449.1 1577.5,1449.5 1578,1449.6 1578.5,1449.8 1579,1450.8 1579.5,1449.5 1580,1450.4 1580.5,1449.7 1581,1450.3 1581.5,1450.3 1582,1450.9 1582.5,1450.2 1583,1450.2 1583.5,1450.1 1584,1450.5 1584.5,1450.5 1585,1451 1585.5,1451.2 1586,1451 1586.5,1452.1 1587,1451.8 1587.5,1451.6 1588,1451.3 1588.5,1452.1 1589,1450.6 1589.5,1451.5 1590,1451.1 1590.5,1451 1591,1451.8 1591.5,1452.8 1592,1453 1592.5,1452.4 1593,1451.8 1593.5,1452.7 1594,1452.2 1594.5,1452.2 1595,1452.7 1595.5,1451.9 1596,1452.8 1596.5,1453.6 1597,1453.6 1597.5,1453.3 1598,1453.3 1598.5,1453.6 1599,1452.4 1599.5,1453.5 1600,1452.9 1600.5,1453.6 1601,1452.9 1601.5,1452.8 1602,1452.2 1602.5,1452.7 1603,1452.8 1603.5,1452.3 1604,1452.6 1604.5,1453.2 1605,1452.6 1605.5,1452.9 1606,1451.8 1606.5,1452 1607,1451 1607.5,1451 1608,1449.6 1608.5,1449.4 1609,1448.8 1609.5,1450.1 1610,1450.8 1610.5,1452 1611,1451.3 1611.5,1452.6 1612,1452.1 1612.5,1452.6 1613,1452 1613.5,1451.8 1614,1452.6 1614.5,1451.3 1615,1450.8 1615.5,1451.1 1616,1451.3 1616.5,1450.8 1617,1449.6 1617.5,1448 1618,1448.9 1618,1461 1617.5,1460.4 1617,1460.3 1616.5,1460.1 1616,1460.1 1615.5,1460.3 1615,1460.6 1614.5,1460 1614,1460 1613.5,1459.7 1613,1460.6 1612.5,1460.3 1612,1459.8 1611.5,1459.6 1611,1459.2 1610.5,1460.5 1610,1458.9 1609.5,1459 1609,1460 1608.5,1460 1608,1459.4 1607.5,1458.6 1607,1459.5 1606.5,1459.4 1606,1459.9 1605.5,1459.6 1605,1459.7 1604.5,1460.3 1604,1460 1603.5,1460.7 1603,1460.1 1602.5,1460.1 1602,1460 1601.5,1460.8 1601,1460.7 1600.5,1460.7 1600,1461.3 1599.5,1461.4 1599,1460.5 1598.5,1460.8 1598,1460.7 1597.5,1461.2 1597,1461.4 1596.5,1460.5 1596,1460.6 1595.5,1460.3 1595,1460.6 1594.5,1460.4 1594,1460.4 1593.5,1461.1 1593,1462.5 1592.5,1465.5 1592,1466.6 1591.5,1464.4 1591,1462.7 1590.5,1460.1 1590,1459.5 1589.5,1459.8 1589,1460.4 1588.5,1460.4 1588,1460.5 1587.5,1459.6 1587,1460.1 1586.5,1458.7 1586,1459.9 1585.5,1459.2 1585,1458.5 1584.5,1458.9 1584,1459.1 1583.5,1458.3 1583,1458.1 1582.5,1457.7 1582,1458.2 1581.5,1457.4 1581,1457 1580.5,1457.3 1580,1458.4 1579.5,1457.1 1579,1457.6 1578.5,1457.8 1578,1457.8 1577.5,1457.1 1577,1457 1576.5,1457.8 1576,1456.5 1575.5,1457.4 1575,1456.1 1574.5,1457 1574,1456.6 1573.5,1457.1 1573,1456.9 1572.5,1456.4 1572,1457 1571.5,1457.2 1571,1456.8 1570.5,1457.1 1570,1457.1 1569.5,1457.1 1569,1456.7 1568.5,1455.7 1568,1456.4 1567.5,1457 1567,1456.7 1566.5,1457.5 1566,1457.3 1565.5,1457.4 1565,1457.6 1564.5,1458.2 1564,1459 1563.5,1458 1563,1458.1 1562.5,1459 1562,1458 1561.5,1457.6 1561,1458.3 1560.5,1458.4 1560,1458.2 1559.5,1458.2 1559,1458.8 1558.5,1458 1558,1457.7 1557.5,1457.6 1557,1457.4 1556.5,1457.6 1556,1456.8 1555.5,1457.5 1555,1457.3 1554.5,1456.3 1554,1456.5 1553.5,1456.2 1553,1455.8 1552.5,1455.8 1552,1455.8 1551.5,1455.6 1551,1456.3 1550.5,1456.1 1550,1455.8 1549.5,1456.2 1549,1456 1548.5,1456.1 1548,1455.4 1547.5,1455.7 1547,1456.6 1546.5,1457.2 1546,1457 1545.5,1455.7 1545,1455.5 1544.5,1455.8 1544,1456 1543.5,1456.7 1543,1457.2 1542.5,1457.4 1542,1457.7 1541.5,1458.6 1541,1458.4 1540.5,1458.3 1540,1459.7 1539.5,1458.5 1539,1458 1538.5,1457.2 1538,1457.5 1537.5,1456.6 1537,1456.9 1536.5,1456.8 1536,1456.2 1535.5,1456.5 1535,1457.4 1534.5,1457.4 1534,1460.2 1533.5,1461.1 1533,1461.9 1532.5,1463.9 1532,1462.1 1531.5,1460 1531,1458.6 1530.5,1457.3 1530,1455 1529.5,1454.7 1529,1454.1 1528.5,1454.2 1528,1455.3 1527.5,1455 1527,1454.9 1526.5,1455 1526,1453.9 1525.5,1454 1525,1454.4 1524.5,1455 1524,1454.2 1523.5,1454.3 1523,1454.5 1522.5,1454.7 1522,1455.2 1521.5,1454.4 1521,1454.7 1520.5,1454.5 1520,1454.5 1519.5,1454.5 1519,1454.3 1518.5,1454.9 1518,1454.5 1517.5,1455.2 1517,1454.5 1516.5,1454.2 1516,1455 1515.5,1455.5 1515,1454.6 1514.5,1454.5 1514,1459.1 1513.5,1462.5 1513,1464 1512.5,1461.7 1512,1459.4 1511.5,1457.4 1511,1454.8 1510.5,1455.4 1510,1454.8 1509.5,1455.6 1509,1454.8 1508.5,1454.5 1508,1456.3 1507.5,1455.2 1507,1456.1 1506.5,1456.2 1506,1455.9 1505.5,1455.5 1505,1453.9 1504.5,1454.4 1504,1453.7 1503.5,1453.5 1503,1453.9 1502.5,1454 1502,1453.1 1501.5,1454 1501,1453.7 1500.5,1454.1 1500,1454.9 1499.5,1454.7 1499,1453.1 1498.5,1453.7 1498,1452.5 1497.5,1452.1 1497,1452.7 1496.5,1452.1 1496,1452.9 1495.5,1452.2 1495,1451.6 1494.5,1451.7 1494,1451.9 1493.5,1452.5 1493,1452.9 1492.5,1453.2 1492,1453 1491.5,1452.3 1491,1452.9 1490.5,1453.1 1490,1453.1 1489.5,1452.7 1489,1453 1488.5,1452.4 1488,1453.3 1487.5,1453.1 1487,1452.8 1486.5,1452.7 1486,1452.5 1485.5,1452.3 1485,1451.8 1484.5,1451.9 1484,1452 1483.5,1452.6 1483,1452.9 1482.5,1454.1 1482,1454.7 1481.5,1453.4 1481,1452.1 1480.5,1451.2 1480,1451 1479.5,1451.3 1479,1450.2 1478.5,1451.7 1478,1451.4 1477.5,1450.6 1477,1450.5 1476.5,1450.3 1476,1451 1475.5,1450.2 1475,1450 1474.5,1451 1474,1451.1 1473.5,1450.2 1473,1450.6 1472.5,1450.8 1472,1450.4 1471.5,1450.1 1471,1450.3 1470.5,1450.4 1470,1449.3 1469.5,1449.8 1469,1449.3 1468.5,1449.8 1468,1449.1 1467.5,1449.5 1467,1449.5 1466.5,1449 1466,1449.7 1465.5,1448.4 1465,1448.3 1464.5,1448 1464,1448.9 1463.5,1448.6 1463,1449.6 1462.5,1448.7 1462,1449.3 1461.5,1449.2 1461,1448.9 1460.5,1448.9 1460,1449 1459.5,1450 1459,1448.4 1458.5,1449.5 1458,1448.1 1457.5,1449 1457,1449.4 1456.5,1449.2 1456,1449.8 1455.5,1450 1455,1449.2 1454.5,1449.2 1454,1450.1 1453.5,1449.4 1453,1449.5 1452.5,1449.7 1452,1450 1451.5,1450.1 1451,1449.3 1450.5,1450.1 1450,1449.7 1449.5,1449.7 1449,1450 1448.5,1450.2 1448,1450.3 1447.5,1449.9 1447,1450.4 1446.5,1449.7 1446,1450.4 1445.5,1452.8 1445,1454.5 1444.5,1456.6 1444,1454 1443.5,1451.9 1443,1449.9 1442.5,1448.8 1442,1447.6 1441.5,1448.3 1441,1447.3 1440.5,1448.4 1440,1446.9 1439.5,1447.4 1439,1447.1 1438.5,1447.4 1438,1447.2 1437.5,1445.8 1437,1446 1436.5,1445.4 1436,1445.6 1435.5,1444.8 1435,1444.8 1434.5,1444.5 1434,1444.3 1433.5,1444.7 1433,1444.1 1432.5,1443.6 1432,1443.5 1431.5,1443.7 1431,1443.7 1430.5,1443.7 1430,1443.8 1429.5,1443.4 1429,1444.5 1428.5,1443.6 1428,1443.8 1427.5,1444.1 1427,1444.8 1426.5,1444.8 1426,1445.6 1425.5,1445.3 1425,1445.3 1424.5,1444.7 1424,1445.7 1423.5,1445.6 1423,1444.4 1422.5,1444.3 1422,1445 1421.5,1443.8 1421,1444.4 1420.5,1444.7 1420,1444.3 1419.5,1443.7 1419,1443.9 1418.5,1443.7 1418,1443.7 1417.5,1443.7 1417,1442.1 1416.5,1443.1 1416,1442.6 1415.5,1441.3 1415,1441.7 1414.5,1441.7 1414,1441.4 1413.5,1443.8 1413,1446.6 1412.5,1448 1412,1450.8 1411.5,1447.5 1411,1446.6 1410.5,1444.7 1410,1442.8 1409.5,1439.9 1409,1440.6 1408.5,1440 1408,1440.4 1407.5,1441.6 1407,1440.4 1406.5,1441.2 1406,1440.5 1405.5,1440.4 1405,1440.1 1404.5,1440.4 1404,1440.1 1403.5,1438.6 1403,1439.4 1402.5,1438.3 1402,1438.3 1401.5,1438.3 1401,1437.4 1400.5,1437.6 1400,1436.2 1399.5,1436.1 1399,1436.5 1398.5,1437 1398,1436.6 1397.5,1436.3 1397,1435.8 1396.5,1434.9 1396,1434.7 1395.5,1436.2 1395,1434.9 1394.5,1435.4 1394,1434.5 1393.5,1434.7 1393,1435.3 1392.5,1434.5 1392,1434.6 1391.5,1434.5 1391,1433.7 1390.5,1434.1 1390,1434.7 1389.5,1434.1 1389,1434 1388.5,1433.6 1388,1432.4 1387.5,1433 1387,1432.1 1386.5,1431.1 1386,1431.5 1385.5,1430.4 1385,1430.1 1384.5,1429.5 1384,1429.8 1383.5,1429 1383,1428 1382.5,1428.1 1382,1428.6 1381.5,1428.6 1381,1427.1 1380.5,1427.1 1380,1426.5 1379.5,1425.9 1379,1425.3 1378.5,1425 1378,1423.8 1377.5,1424.4 1377,1422.8 1376.5,1422.5 1376,1422.4 1375.5,1422.3 1375,1421.7 1374.5,1421.6 1374,1419.7 1373.5,1419.8 1373,1418.9 1372.5,1419 1372,1417.1 1371.5,1417.3 1371,1417.4 1370.5,1416.2 1370,1415.9 1369.5,1415.6 1369,1416 1368.5,1414.2 1368,1414.2 1367.5,1413.2 1367,1412.3 1366.5,1411.5 1366,1410.6 1365.5,1410.5 1365,1409.7 1364.5,1408.1 1364,1407.9 1363.5,1406.2 1363,1404.5 1362.5,1402.6 1362,1400.8 1361.5,1399.9 1361,1398.1 1360.5,1397 1360,1395.3 1359.5,1393.3 1359,1391.6 1358.5,1390.2 1358,1388.4 1357.5,1387.8 1357,1385.5 1356.5,1384.1 1356,1382.9 1355.5,1381.4 1355,1380.1 1354.5,1378.8 1354,1377 1353.5,1375.4 1353,1374 1352.5,1372.3 1352,1371.1 1351.5,1369.5 1351,1367.8 1350.5,1366.6 1350,1363.8 1349.5,1360.1 1349,1357.1 1348.5,1353.9 1348,1350.3 1347.5,1347.1 1347,1343.3 1346.5,1339.9 1346,1336.8 1345.5,1333.2 1345,1330.1 1344.5,1326.6 1344,1323.3 1343.5,1320.5 1343,1317.2 1342.5,1313.4 1342,1310.1 1341.5,1305 1341,1298.6 1340.5,1292.6 1340,1286.7 1339.5,1280.3 1339,1274.6 1338.5,1268.4 1338,1263.4 1337.5,1258 1337,1252.3 1336.5,1247.4 1336,1241.3 1335.5,1235.5 1335,1230 1334.5,1224 1334,1218.8 1333.5,1213.9 1333,1208.4 1332.5,1203.2 1332,1197.9 1331.5,1193 1331,1187.6 1330.5,1184.5 1330,1181.8 1329.5,1179.3 1329,1177 1328.5,1174.4 1328,1172.5 1327.5,1170.1 1327,1168.1 1326.5,1166.3 1326,1164 1325.5,1161.3 1325,1159.2 1324.5,1158.2 1324,1162.5 1323.5,1166.7 1323,1170.8 1322.5,1175.2 1322,1179.7 1321.5,1184.1 1321,1188 1320.5,1192.3 1320,1196.2 1319.5,1201.4 1319,1209 1318.5,1217.1 1318,1224.4 1317.5,1231.2 1317,1239.1 1316.5,1246.4 1316,1253.6 1315.5,1261.1 1315,1268.5 1314.5,1275.4 1314,1282.9 1313.5,1289.6 1313,1296.5 1312.5,1303.6 1312,1310.6 1311.5,1316.9 1311,1324.1 1310.5,1330.8 1310,1338.4 1309.5,1345.6 1309,1352.9 1308.5,1360.3 1308,1367.5 1307.5,1374 1307,1381.6 1306.5,1385.9 1306,1390.8 1305.5,1395.3 1305,1400.4 1304.5,1404.7 1304,1410.4 1303.5,1415.8 1303,1421.3 1302.5,1425.6 1302,1429.6 1301.5,1433.4 1301,1438.1 1300.5,1443.2 1300,1450 1299.5,1452.9 1299,1457.1 1298.5,1457.5 1298,1457.4 1297.5,1457.7 1297,1457.8 1296.5,1458.3 1296,1460.4 1295.5,1460 1295,1460 1294.5,1460.7 1294,1461.5 1293.5,1461.2 1293,1460.5 1292.5,1460.7 1292,1460.1 1291.5,1460.5 1291,1460.6 1290.5,1460.3 1290,1461.3 1289.5,1461.2 1289,1461.2 1288.5,1460.5 1288,1460.3 1287.5,1460.6 1287,1459.9 1286.5,1460.7 1286,1460 1285.5,1459.6 1285,1460.1 1284.5,1460.4 1284,1460.5 1283.5,1460.3 1283,1460.3 1282.5,1460.1 1282,1461.3 1281.5,1460.7 1281,1461.5 1280.5,1460.5 1280,1460.9 1279.5,1461.5 1279,1460.8 1278.5,1461.3 1278,1461.2 1277.5,1462 1277,1462.1 1276.5,1462.9 1276,1461.6 1275.5,1461.9 1275,1462.9 1274.5,1462 1274,1461.9 1273.5,1462.8 1273,1461.9 1272.5,1461.3 1272,1460.9 1271.5,1461.7 1271,1461.7 1270.5,1461 1270,1460.4 1269.5,1460.5 1269,1460.5 1268.5,1460.3 1268,1460.5 1267.5,1460.2 1267,1460.3 1266.5,1460.5 1266,1460.2 1265.5,1459.7 1265,1459.5 1264.5,1459.4 1264,1460.3 1263.5,1459.8 1263,1459.8 1262.5,1460.5 1262,1460.6 1261.5,1461.1 1261,1460.6 1260.5,1460.8 1260,1460.7 1259.5,1460.6 1259,1459.9 1258.5,1460 1258,1460 1257.5,1460.9 1257,1461.3 1256.5,1461.9 1256,1462.5 1255.5,1461.3 1255,1461.5 1254.5,1460.3 1254,1460.3 1253.5,1460.8 1253,1460.6 1252.5,1460.3 1252,1459.4 1251.5,1460.2 1251,1460.5 1250.5,1460.1 1250,1460.9 1249.5,1461.2 1249,1461.4 1248.5,1461.6 1248,1461.2 1247.5,1460.9 1247,1460.5 1246.5,1461.3 1246,1461.7 1245.5,1460.7 1245,1461.3 1244.5,1461.8 1244,1460.7 1243.5,1460.6 1243,1461.4 1242.5,1460.9 1242,1460.9 1241.5,1461 1241,1461.3 1240.5,1460 1240,1460 1239.5,1460.5 1239,1459.7 1238.5,1460.2 1238,1459.9 1237.5,1461.3 1237,1463.2 1236.5,1463.9 1236,1463.6 1235.5,1464 1235,1461.9 1234.5,1462.1 1234,1460.4 1233.5,1461.3 1233,1461.5 1232.5,1460.6 1232,1460.4 1231.5,1461 1231,1461.1 1230.5,1461.8 1230,1461.5 1229.5,1460.8 1229,1461.3 1228.5,1461.2 1228,1460.9 1227.5,1460.6 1227,1460.1 1226.5,1460.5 1226,1460.9 1225.5,1461.6 1225,1460.9 1224.5,1461 1224,1461 1223.5,1460.4 1223,1460.6 1222.5,1460.3 1222,1460.9 1221.5,1460.1 1221,1460.5 1220.5,1460.3 1220,1460.8 1219.5,1460.9 1219,1459.8 1218.5,1460.2 1218,1459.9 1217.5,1460.4 1217,1459.8 1216.5,1460.4 1216,1459.8 1215.5,1459.5 1215,1459.8 1214.5,1460 1214,1459.8 1213.5,1460.2 1213,1459.7 1212.5,1460 1212,1460.6 1211.5,1461.4 1211,1461 1210.5,1461.1 1210,1461.5 1209.5,1461.5 1209,1461.8 1208.5,1461.9 1208,1461.9 1207.5,1462.9 1207,1462.2 1206.5,1462.3 1206,1460.4 1205.5,1460.5 1205,1461.1 1204.5,1461 1204,1460.7 1203.5,1462.1 1203,1461.8 1202.5,1460.6 1202,1460.8 1201.5,1461 1201,1461.2 1200.5,1461.9 1200,1461.2 1199.5,1461.5 1199,1461.8 1198.5,1461.9 1198,1461.2 1197.5,1461.7 1197,1460.1 1196.5,1461.1 1196,1460.1 1195.5,1460.6 1195,1461.4 1194.5,1460.4 1194,1461.2 1193.5,1460.1 1193,1459.6 1192.5,1460.3 1192,1460.9 1191.5,1461 1191,1460.4 1190.5,1459.9 1190,1461.6 1189.5,1462.1 1189,1464.2 1188.5,1464.3 1188,1466.6 1187.5,1464.6 1187,1463.2 1186.5,1462.8 1186,1461.7 1185.5,1460.7 1185,1460.1 1184.5,1459.3 1184,1459.2 1183.5,1460.1 1183,1459.8 1182.5,1461.4 1182,1461.3 1181.5,1462 1181,1461.4 1180.5,1460.7 1180,1461.1 1179.5,1460.8 1179,1460.2 1178.5,1460.6 1178,1461.4 1177.5,1460.7 1177,1461 1176.5,1461.2 1176,1461.4 1175.5,1462.8 1175,1462.9 1174.5,1463.1 1174,1463.1 1173.5,1463.1 1173,1463.4 1172.5,1462.3 1172,1461.4 1171.5,1460.4 1171,1461.5 1170.5,1461.7 1170,1462.2 1169.5,1463.3 1169,1461.8 1168.5,1462.2 1168,1461 1167.5,1460.9 1167,1461.1 1166.5,1461.5 1166,1461.4 1165.5,1462.1 1165,1461 1164.5,1461.1 1164,1461.6 1163.5,1461.5 1163,1460.4 1162.5,1460.5 1162,1461.3 1161.5,1460.6 1161,1461.6 1160.5,1461.4 1160,1462 1159.5,1461.3 1159,1461.2 1158.5,1461.7 1158,1461.9 1157.5,1461 1157,1460.8 1156.5,1460.3 1156,1460.6 1155.5,1460.9 1155,1461.2 1154.5,1460.9 1154,1461.9 1153.5,1461.2 1153,1461.5 1152.5,1460.5 1152,1461 1151.5,1461.3 1151,1461.5 1150.5,1461.1 1150,1460.8 1149.5,1460.2 1149,1461.3 1148.5,1460.5 1148,1459.9 1147.5,1460.3 1147,1460.2 1146.5,1460.8 1146,1460.6 1145.5,1460.8 1145,1461 1144.5,1460.7 1144,1460 1143.5,1461.1 1143,1461.1 1142.5,1461.2 1142,1461.8 1141.5,1460.9 1141,1461.1 1140.5,1461.4 1140,1460.1 1139.5,1461.2 1139,1461.7 1138.5,1461.5 1138,1462.1 1137.5,1462.1 1137,1462 1136.5,1461.4 1136,1461.5 1135.5,1461.4 1135,1461 1134.5,1462 1134,1461.7 1133.5,1461.8 1133,1461.4 1132.5,1461.8 1132,1461.7 1131.5,1461 1131,1460.9 1130.5,1460.3 1130,1460.3 1129.5,1461.3 1129,1461.5 1128.5,1460.6 1128,1460.5 1127.5,1460.9 1127,1461.8 1126.5,1461.1 1126,1461.3 1125.5,1460 1125,1460.5 1124.5,1461.6 1124,1460.6 1123.5,1460.5 1123,1460.6 1122.5,1461 1122,1462.3 1121.5,1462.7 1121,1461.6 1120.5,1462.1 1120,1461.1 1119.5,1460.5 1119,1459.9 1118.5,1461 1118,1460.1 1117.5,1460.4 1117,1460.4 1116.5,1459.8 1116,1460.7 1115.5,1461.3 1115,1460.8 1114.5,1461.6 1114,1461 1113.5,1462.1 1113,1462.5 1112.5,1462.1 1112,1463 1111.5,1464.4 1111,1467 1110.5,1469.3 1110,1466.6 1109.5,1465 1109,1463.8 1108.5,1461 1108,1460.6 1107.5,1460.1 1107,1460.3 1106.5,1461 1106,1461.2 1105.5,1460.8 1105,1460.1 1104.5,1461.2 1104,1461.4 1103.5,1460.8 1103,1460.8 1102.5,1461.4 1102,1462.4 1101.5,1461.5 1101,1462 1100.5,1462.2 1100,1462.5 1099.5,1463.1 1099,1462.4 1098.5,1462.4 1098,1462 1097.5,1462.9 1097,1463 1096.5,1463.1 1096,1462.6 1095.5,1462.9 1095,1463.2 1094.5,1462 1094,1461 1093.5,1461.7 1093,1460.2 1092.5,1459.1 1092,1458.9 1091.5,1457.6 1091,1456 1090.5,1454.6 1090,1452.1 1089.5,1449 1089,1445.1 1088.5,1441.5 1088,1437.1 1087.5,1434.2 1087,1431.1 1086.5,1428.6 1086,1425.7 1085.5,1424.3 1085,1424.1 1084.5,1424.1 1084,1425.5 1083.5,1427.3 1083,1428.7 1082.5,1432.2 1082,1435.7 1081.5,1438.6 1081,1441.8 1080.5,1445.1 1080,1448.4 1079.5,1452.2 1079,1454.7 1078.5,1456.4 1078,1457.7 1077.5,1458.2 1077,1459.2 1076.5,1459.7 1076,1460.8 1075.5,1461 1075,1460.9 1074.5,1460.9 1074,1460.9 1073.5,1462.3 1073,1462.2 1072.5,1462.3 1072,1461.3 1071.5,1461.6 1071,1461 1070.5,1460 1070,1460.2 1069.5,1459.7 1069,1460.5 1068.5,1459.5 1068,1459.5 1067.5,1460.3 1067,1460.2 1066.5,1460.1 1066,1459.6 1065.5,1459.4 1065,1459.4 1064.5,1459.5 1064,1459.9 1063.5,1460.9 1063,1460.6 1062.5,1460.7 1062,1460 1061.5,1459.9 1061,1459.9 1060.5,1460.4 1060,1459.6 1059.5,1460.3 1059,1460.9 1058.5,1460.8 1058,1460 1057.5,1460.5 1057,1460.3 1056.5,1461.3 1056,1461.1 1055.5,1461.4 1055,1461.7 1054.5,1461.5 1054,1462.2 1053.5,1461.9 1053,1461.1 1052.5,1461.4 1052,1461.9 1051.5,1461.5 1051,1461.1 1050.5,1462 1050,1461.9 1049.5,1461.7 1049,1462.1 1048.5,1461.5 1048,1461.3 1047.5,1461.2 1047,1460.3 1046.5,1461.3 1046,1461.4 1045.5,1462.1 1045,1460.8 1044.5,1460.8 1044,1460.3 1043.5,1459.9 1043,1461.4 1042.5,1460.2 1042,1460.5 1041.5,1459.6 1041,1459.3 1040.5,1460.5 1040,1460.5 1039.5,1460.3 1039,1461.1 1038.5,1460.7 1038,1461.1 1037.5,1461.3 1037,1460.9 1036.5,1461.3 1036,1460.8 1035.5,1460.7 1035,1460.7 1034.5,1461.1 1034,1459.9 1033.5,1460.6 1033,1460.9 1032.5,1460.2 1032,1460.7 1031.5,1461.5 1031,1461.3 1030.5,1461.9 1030,1462.3 1029.5,1461.7 1029,1461.9 1028.5,1461.9 1028,1461.8 1027.5,1460.6 1027,1461.9 1026.5,1461.1 1026,1461.2 1025.5,1461.8 1025,1461.1 1024.5,1460.1 1024,1464 1023.5,1466.5 1023,1467.6 1022.5,1465.7 1022,1464.5 1021.5,1462.4 1021,1460.6 1020.5,1460.3 1020,1460.3 1019.5,1460.7 1019,1461 1018.5,1460.8 1018,1461 1017.5,1460.5 1017,1461.5 1016.5,1461.4 1016,1462.8 1015.5,1463 1015,1463.7 1014.5,1464 1014,1462.6 1013.5,1462.5 1013,1461.2 1012.5,1460.8 1012,1461.4 1011.5,1461.6 1011,1461.5 1010.5,1461.2 1010,1461.4 1009.5,1461.1 1009,1462.3 1008.5,1461.2 1008,1462 1007.5,1461.7 1007,1462 1006.5,1461.9 1006,1461.7 1005.5,1461.9 1005,1461.8 1004.5,1461.3 1004,1461.8 1003.5,1461.3 1003,1460.7 1002.5,1461.4 1002,1461.8 1001.5,1461.3 1001,1461 1000.5,1461.8 1000,1460.2 999.5,1460.1 999,1460.4 998.5,1460.2 998,1460.2 997.5,1461.3 997,1460.8 996.5,1460.3 996,1460.4 995.5,1460.6 995,1461.5 994.5,1460.7 994,1463.2 993.5,1463.1 993,1464.3 992.5,1463.2 992,1462.7 991.5,1461.5 991,1460.7 990.5,1459.5 990,1460 989.5,1460.4 989,1460.1 988.5,1460.3 988,1460.1 987.5,1459.7 987,1460 986.5,1461.8 986,1461.8 985.5,1463.2 985,1461.7 984.5,1460.8 984,1460.2 983.5,1460.2 983,1459.5 982.5,1460.1 982,1460.1 981.5,1458.9 981,1460 980.5,1460.3 980,1459.5 979.5,1460.1 979,1460.3 978.5,1459.8 978,1460.9 977.5,1460.7 977,1461.4 976.5,1461 976,1460.6 975.5,1461.1 975,1461.8 974.5,1462.2 974,1461.9 973.5,1461.5 973,1461.7 972.5,1462 972,1462.1" fill="#2e3f97" stroke="none" stroke-width="0"/>
<polyline points="972,1457.2 973,1457.3 974,1457.2 975,1457.4 976,1457.4 977,1457.3 978,1456.9 979,1456.3 980,1456.2 981,1455.7 982,1456 983,1455.6 984,1455.7 985,1455.7 986,1455.8 987,1455.6 988,1456.3 989,1456 990,1456 991,1456.4 992,1456.8 993,1456.9 994,1457.2 995,1457 996,1456.5 997,1456.7 998,1456.7 999,1456.8 1000,1457 1001,1457.3 1002,1457.5 1003,1457.1 1004,1457.3 1005,1457.4 1006,1457.4 1007,1457.5 1008,1457.4 1009,1457.8 1010,1457.6 1011,1457.3 1012,1457.9 1013,1457.2 1014,1457.5 1015,1456.9 1016,1457.1 1017,1456.9 1018,1456.9 1019,1457 1020,1456.8 1021,1457.2 1022,1456.9 1023,1457.3 1024,1457.2 1025,1456.8 1026,1457.2 1027,1457.3 1028,1457.1 1029,1457.1 1030,1457.5 1031,1457.5 1032,1457.4 1033,1457 1034,1456.6 1035,1457.3 1036,1456.9 1037,1457 1038,1456.9 1039,1456.7 1040,1456.5 1041,1455.9 1042,1456 1043,1456.9 1044,1456.6 1045,1456.9 1046,1457.2 1047,1457 1048,1457.4 1049,1457.8 1050,1457.7 1051,1457.6 1052,1457.8 1053,1457.9 1054,1458 1055,1457.7 1056,1457.1 1057,1457 1058,1456.7 1059,1456.5 1060,1456.3 1061,1456.5 1062,1456.4 1063,1456.4 1064,1456 1065,1455.7 1066,1455.8 1067,1456 1068,1455.7 1069,1456.1 1070,1456.5 1071,1456.8 1072,1456.9 1073,1457.2 1074,1456.6 1075,1456.9 1076,1456.5 1077,1455.7 1078,1453.9 1079,1450.1 1080,1444.9 1081,1438.1 1082,1431.3 1083,1425.5 1084,1421.4 1085,1420.2 1086,1422.1 1087,1427.4 1088,1433.6 1089,1440.6 1090,1446.4 1091,1451.1 1092,1454.5 1093,1455.9 1094,1456.5 1095,1457.8 1096,1457.8 1097,1458.2 1098,1458.4 1099,1458.6 1100,1458.5 1101,1458.3 1102,1458.1 1103,1457.4 1104,1457.2 1105,1456.9 1106,1456.9 1107,1456.8 1108,1456.9 1109,1456.8 1110,1456.8 1111,1456.8 1112,1456.9 1113,1456.8 1114,1457.1 1115,1457.1 1116,1456.7 1117,1456.6 1118,1456.3 1119,1456.5 1120,1456.8 1121,1456.2 1122,1456.1 1123,1456.4 1124,1456.4 1125,1456.8 1126,1457 1127,1457.2 1128,1457.3 1129,1457.1 1130,1457 1131,1456.8 1132,1457.4 1133,1457.9 1134,1457.9 1135,1457.4 1136,1458 1137,1458.2 1138,1458 1139,1457.9 1140,1456.6 1141,1457.4 1142,1457.6 1143,1457.4 1144,1456.6 1145,1457 1146,1457.3 1147,1456.7 1148,1456.5 1149,1456.8 1150,1456.8 1151,1457.1 1152,1457.2 1153,1457 1154,1457.5 1155,1457.4 1156,1457 1157,1457.1 1158,1457.4 1159,1457.1 1160,1457.2 1161,1457.1 1162,1457.3 1163,1456.9 1164,1456.9 1165,1456.6 1166,1457.2 1167,1457 1168,1456.7 1169,1456.8 1170,1456.7 1171,1456.9 1172,1457.2 1173,1457.7 1174,1457.8 1175,1457.7 1176,1457.6 1177,1457.2 1178,1457 1179,1456.5 1180,1456.7 1181,1456.4 1182,1456.7 1183,1456.4 1184,1456 1185,1456 1186,1455.9 1187,1455.8 1188,1456.2 1189,1456 1190,1456.4 1191,1456.8 1192,1456.3 1193,1456.1 1194,1456.8 1195,1457.1 1196,1456.5 1197,1456.5 1198,1457.4 1199,1457.5 1200,1457.3 1201,1457 1202,1457.5 1203,1457.3 1204,1457.5 1205,1457.3 1206,1456.9 1207,1457.2 1208,1457.1 1209,1456.6 1210,1456.9 1211,1456.5 1212,1456.5 1213,1456.4 1214,1456.3 1215,1456 1216,1456.4 1217,1456.2 1218,1455.9 1219,1456.3 1220,1456.4 1221,1456.8 1222,1456.9 1223,1456.9 1224,1456.8 1225,1456.8 1226,1456.9 1227,1456.6 1228,1457 1229,1457.7 1230,1457.2 1231,1456.9 1232,1457 1233,1456.9 1234,1456.5 1235,1456.3 1236,1456.5 1237,1456.6 1238,1456.7 1239,1455.9 1240,1456.4 1241,1456.8 1242,1456.9 1243,1456.9 1244,1457.2 1245,1457.4 1246,1457.4 1247,1457.2 1248,1457.2 1249,1457.2 1250,1456.7 1251,1456.1 1252,1456 1253,1456.2 1254,1456.1 1255,1456.1 1256,1455.9 1257,1455.9 1258,1455.8 1259,1456.3 1260,1456.7 1261,1456.8 1262,1456.9 1263,1455.7 1264,1456 1265,1456.2 1266,1456.4 1267,1456.8 1268,1456.4 1269,1456.4 1270,1456.9 1271,1457.2 1272,1457.4 1273,1457.9 1274,1458.7 1275,1458.7 1276,1458.1 1277,1458 1278,1457.8 1279,1457.4 1280,1457.5 1281,1457.2 1282,1456.9 1283,1456.6 1284,1456.7 1285,1456.2 1286,1456.3 1287,1456.2 1288,1456.4 1289,1456.9 1290,1457.2 1291,1456.7 1292,1456.3 1293,1457.1 1294,1457.2 1295,1456.3 1296,1456.6 1297,1452.7 1298,1449 1299,1444.9 1300,1441.2 1301,1432.9 1302,1425 1303,1416.2 1304,1406.3 1305,1396.9 1306,1387.7 1307,1378.5 1308,1364.4 1309,1350.7 1310,1336.9 1311,1323 1312,1309.4 1313,1295.5 1314,1281.9 1315,1267.5 1316,1252.6 1317,1238.2 1318,1223.3 1319,1208 1320,1195.4 1321,1187.1 1322,1178.7 1323,1169.8 1324,1161.4 1325,1158.3 1326,1162.8 1327,1167.1 1328,1171.4 1329,1175.9 1330,1180.7 1331,1186.6 1332,1197.1 1333,1207.3 1334,1217.9 1335,1228 1336,1237.9 1337,1248.8 1338,1261.5 1339,1273.5 1340,1285.7 1341,1297.6 1342,1309.2 1343,1316.1 1344,1322.4 1345,1329.2 1346,1335.8 1347,1342.3 1348,1349.4 1349,1356.1 1350,1362.8 1351,1366.7 1352,1370 1353,1372.9 1354,1375.9 1355,1378.7 1356,1381.5 1357,1383.9 1358,1386.7 1359,1389.7 1360,1392.7 1361,1395.9 1362,1398.3 1363,1401.7 1364,1404.4 1365,1406.2 1366,1407.4 1367,1408.9 1368,1410.6 1369,1412.2 1370,1412.6 1371,1413.1 1372,1414 1373,1415.6 1374,1416.4 1375,1417.6 1376,1418.7 1377,1419.4 1378,1420.2 1379,1421.2 1380,1422.6 1381,1423.7 1382,1424.5 1383,1424.8 1384,1425.4 1385,1426.1 1386,1426.9 1387,1428.6 1388,1428.8 1389,1429.8 1390,1430.1 1391,1430.4 1392,1431 1393,1431.5 1394,1431.3 1395,1431.5 1396,1431.3 1397,1431.8 1398,1432.3 1399,1432.6 1400,1433 1401,1433.4 1402,1433.9 1403,1435.1 1404,1435.7 1405,1436.2 1406,1436.6 1407,1437 1408,1436.7 1409,1436.6 1410,1436.6 1411,1437.1 1412,1437.6 1413,1437.3 1414,1437.2 1415,1438 1416,1438.2 1417,1438.6 1418,1439.6 1419,1440 1420,1440.4 1421,1440.5 1422,1440.7 1423,1440.9 1424,1441.6 1425,1441.5 1426,1441.4 1427,1440.5 1428,1440.3 1429,1440 1430,1439.8 1431,1440.1 1432,1440.2 1433,1440.8 1434,1440.7 1435,1440.7 1436,1441.1 1437,1441.6 1438,1442.6 1439,1442.9 1440,1443.4 1441,1443.8 1442,1444.3 1443,1444.6 1444,1444.9 1445,1445.3 1446,1445.8 1447,1446 1448,1445.9 1449,1445.6 1450,1445.6 1451,1445.2 1452,1445.8 1453,1445.9 1454,1445.7 1455,1445.5 1456,1445.6 1457,1445.3 1458,1444.8 1459,1445.1 1460,1445.2 1461,1445 1462,1444.9 1463,1445 1464,1444.5 1465,1444.8 1466,1445.3 1467,1445.2 1468,1445.6 1469,1445.9 1470,1445.9 1471,1446.5 1472,1446.5 1473,1446.8 1474,1446.6 1475,1446.5 1476,1446.7 1477,1446.6 1478,1447.2 1479,1446.8 1480,1447.1 1481,1447.3 1482,1448 1483,1448 1484,1448.6 1485,1448.3 1486,1448.9 1487,1448.7 1488,1448.7 1489,1448.5 1490,1448.9 1491,1448.8 1492,1448.7 1493,1448.3 1494,1447.9 1495,1448.4 1496,1448.7 1497,1448.5 1498,1448.8 1499,1448.6 1500,1448.9 1501,1449 1502,1449.5 1503,1449.8 1504,1450.2 1505,1450.1 1506,1450.3 1507,1450.4 1508,1451.3 1509,1451.5 1510,1451.5 1511,1451.2 1512,1450.9 1513,1450.3 1514,1450.9 1515,1451.2 1516,1450.7 1517,1451 1518,1451 1519,1450.5 1520,1450.4 1521,1450.3 1522,1450.7 1523,1450.6 1524,1450.4 1525,1450.4 1526,1450.5 1527,1450.9 1528,1451.2 1529,1450.8 1530,1451.4 1531,1451 1532,1451.3 1533,1451.6 1534,1452.7 1535,1453 1536,1452.9 1537,1453 1538,1453.1 1539,1453.2 1540,1453.3 1541,1453.2 1542,1453.5 1543,1452.9 1544,1452.5 1545,1452.1 1546,1452.3 1547,1452 1548,1452 1549,1452 1550,1452 1551,1452.1 1552,1452 1553,1452.5 1554,1452.7 1555,1453.1 1556,1453 1557,1453.5 1558,1454.4 1559,1454.3 1560,1453.7 1561,1454.2 1562,1454.7 1563,1454.7 1564,1454.5 1565,1454.2 1566,1453.7 1567,1453.3 1568,1452.8 1569,1452.9 1570,1453.4 1571,1453.1 1572,1452.6 1573,1452.6 1574,1452.5 1575,1452.7 1576,1453.2 1577,1453.5 1578,1453.9 1579,1454.3 1580,1453.8 1581,1453.7 1582,1454.4 1583,1454 1584,1454.8 1585,1455.3 1586,1455.3 1587,1455.5 1588,1455.4 1589,1455.2 1590,1455.5 1591,1455.7 1592,1456.3 1593,1456 1594,1456.7 1595,1456.4 1596,1456.8 1597,1456.9 1598,1457.1 1599,1456.9 1600,1457.2 1601,1456.7 1602,1456.5 1603,1456.4 1604,1456.7 1605,1456.2 1606,1456.2 1607,1455.3 1608,1455 1609,1455.5 1610,1455.6 1611,1455.9 1612,1456.3 1613,1456.3 1614,1456.3 1615,1456.1 1616,1456.3 1617,1456.6 1618,1456.8" fill="none" stroke="#2e3f97" stroke-width="4" stroke-linejoin="round" stroke-linecap="round" stroke-linecap="butt"/>
<line x1="1250" y1="1491" x2="1585" y2="1491" stroke="#8b1212" stroke-width="3"/>
<polygon points="939,1483.7 939.5,1484.1 940,1484 940.5,1483.8 941,1483.7 941.5,1483.6 942,1483.9 942.5,1484.3 943,1484.6 943.5,1484.6 944,1484.8 944.5,1484.8 945,1484.1 945.5,1483.4 946,1482.8 946.5,1482.8 947,1482.9 947.5,1483 948,1484.2 948.5,1483.5 949,1483.8 949.5,1483.6 950,1482.7 950.5,1483.2 951,1483.6 951.5,1483.9 952,1482.8 952.5,1482.4 953,1482.1 953.5,1483.5 954,1482.3 954.5,1481.8 955,1483.4 955.5,1482.6 956,1482.6 956.5,1482.4 957,1483.8 957.5,1482.8 958,1483.1 958.5,1483.4 959,1482.4 959.5,1481.5 960,1479.5 960.5,1477.6 961,1476.1 961.5,1474.5 962,1476.7 962.5,1478.7 963,1480.8 963.5,1482.9 964,1485.5 964.5,1485.3 965,1485.6 965.5,1484.5 966,1484.7 966.5,1483.8 967,1484.2 967.5,1484.8 968,1483.8 968.5,1483.5 969,1483.4 969.5,1483.7 970,1484 970.5,1483.9 971,1484 971.5,1483.2 972,1482.8 972.5,1483 973,1481.6 973.5,1481.7 974,1482.5 974.5,1483 975,1483.2 975.5,1482.5 976,1483.1 976.5,1482.6 977,1483.3 977.5,1482.8 978,1483.1 978.5,1483.1 979,1483.4 979.5,1483.3 980,1483.4 980.5,1483 981,1483.6 981.5,1484 982,1483.8 982.5,1483.1 983,1483.9 983.5,1483.2 984,1483.4 984.5,1482.4 985,1483.3 985.5,1482.8 986,1480.8 986.5,1480.8 987,1480.9 987.5,1481.6 988,1482.3 988.5,1482 989,1482.6 989.5,1483.1 990,1483.3 990.5,1483.6 991,1482.9 991.5,1483.5 992,1483.7 992.5,1483 993,1483 993.5,1484 994,1484.2 994.5,1484.7 995,1484.8 995.5,1484.2 996,1483 996.5,1480.8 997,1481.6 997.5,1479.4 998,1480.7 998.5,1482.3 999,1482.4 999.5,1483.3 1000,1481.2 1000.5,1479.4 1001,1477.1 1001.5,1473.2 1002,1476.7 1002.5,1479 1003,1483.1 1003.5,1482.5 1004,1483.1 1004.5,1483.8 1005,1482.4 1005.5,1482.5 1006,1482.9 1006.5,1482.9 1007,1481.2 1007.5,1479.4 1008,1479.4 1008.5,1476.9 1009,1477.4 1009.5,1478.8 1010,1480.1 1010.5,1481.2 1011,1482.3 1011.5,1483 1012,1482.4 1012.5,1483.6 1013,1482.9 1013.5,1481.7 1014,1481.8 1014.5,1482.2 1015,1483 1015.5,1482.5 1016,1481.7 1016.5,1482.4 1017,1481.7 1017.5,1481.5 1018,1480.2 1018.5,1481.3 1019,1481.8 1019.5,1481.9 1020,1482.8 1020.5,1482.9 1021,1483.5 1021.5,1482.6 1022,1483.3 1022.5,1483.1 1023,1482.1 1023.5,1482.8 1024,1483.3 1024.5,1482.2 1025,1482.4 1025.5,1483.3 1026,1482.5 1026.5,1482.6 1027,1482.6 1027.5,1483.5 1028,1483.4 1028.5,1483.5 1029,1483.8 1029.5,1483.3 1030,1483.9 1030.5,1483.9 1031,1482.6 1031.5,1483.6 1032,1482.5 1032.5,1481.5 1033,1481.9 1033.5,1480.1 1034,1480.6 1034.5,1481.5 1035,1484.2 1035.5,1484.6 1036,1483.7 1036.5,1483 1037,1483.1 1037.5,1483.9 1038,1482.9 1038.5,1483.3 1039,1482.5 1039.5,1483.2 1040,1482.5 1040.5,1483.1 1041,1483 1041.5,1483.1 1042,1483.7 1042.5,1483.2 1043,1483.7 1043.5,1482.8 1044,1483.5 1044.5,1483.6 1045,1484.1 1045.5,1483.6 1046,1482.2 1046.5,1481.7 1047,1481.3 1047.5,1479.5 1048,1477.1 1048.5,1475.2 1049,1472.8 1049.5,1468.5 1050,1466.5 1050.5,1463.5 1051,1460.7 1051.5,1459.2 1052,1458.7 1052.5,1458.5 1053,1459.3 1053.5,1459 1054,1461.8 1054.5,1463.4 1055,1467.4 1055.5,1470.5 1056,1474 1056.5,1478.8 1057,1480.7 1057.5,1481 1058,1481.5 1058.5,1482.6 1059,1483 1059.5,1481.8 1060,1482 1060.5,1483.5 1061,1483.5 1061.5,1482.7 1062,1483.5 1062.5,1483.8 1063,1483.1 1063.5,1482.6 1064,1482.7 1064.5,1484.1 1065,1483.3 1065.5,1484.7 1066,1484.4 1066.5,1484.8 1067,1484.9 1067.5,1484.1 1068,1483.9 1068.5,1483.8 1069,1484.3 1069.5,1484.6 1070,1484.7 1070.5,1484.5 1071,1483.2 1071.5,1484 1072,1484.3 1072.5,1483.4 1073,1483.7 1073.5,1482.7 1074,1484.3 1074.5,1484.3 1075,1484.6 1075.5,1484.5 1076,1483.6 1076.5,1484.4 1077,1483.2 1077.5,1484 1078,1483.6 1078.5,1483 1079,1483.8 1079.5,1483.6 1080,1483.3 1080.5,1484 1081,1482.4 1081.5,1481.1 1082,1479.5 1082.5,1478.6 1083,1481.2 1083.5,1482.3 1084,1484.4 1084.5,1482.9 1085,1483.4 1085.5,1484 1086,1483.1 1086.5,1484.5 1087,1484.5 1087.5,1484.5 1088,1483.8 1088.5,1484.3 1089,1484.4 1089.5,1484.7 1090,1483.8 1090.5,1484.7 1091,1484.2 1091.5,1484.9 1092,1484.3 1092.5,1484.3 1093,1483.1 1093.5,1484.4 1094,1483.2 1094.5,1484.3 1095,1483.6 1095.5,1483.5 1096,1483.1 1096.5,1483.1 1097,1481.2 1097.5,1481.3 1098,1480.3 1098.5,1479.5 1099,1478.1 1099.5,1477.9 1100,1478.2 1100.5,1479.3 1101,1480.9 1101.5,1481.5 1102,1482.9 1102.5,1483.5 1103,1483.6 1103.5,1483.2 1104,1483.5 1104.5,1483.2 1105,1483 1105.5,1482.4 1106,1483.7 1106.5,1483.7 1107,1482.6 1107.5,1483.5 1108,1483.2 1108.5,1482.8 1109,1482.2 1109.5,1482 1110,1482.3 1110.5,1482.2 1111,1482.5 1111.5,1482.3 1112,1482.3 1112.5,1483 1113,1483.7 1113.5,1484.5 1114,1483.3 1114.5,1483.7 1115,1484.7 1115.5,1483.5 1116,1482.2 1116.5,1482 1117,1482.5 1117.5,1482.5 1118,1481.5 1118.5,1481.1 1119,1480.8 1119.5,1480.3 1120,1480.8 1120.5,1481.3 1121,1483.1 1121.5,1478.1 1122,1468.7 1122.5,1460.1 1123,1452.6 1123.5,1460.8 1124,1467.9 1124.5,1482.8 1125,1482.6 1125.5,1482.1 1126,1480.5 1126.5,1479.1 1127,1476.8 1127.5,1479.3 1128,1481 1128.5,1483.7 1129,1484.1 1129.5,1483.6 1130,1482.6 1130.5,1483.2 1131,1482.3 1131.5,1483.4 1132,1482.6 1132.5,1481.8 1133,1482.3 1133.5,1480.5 1134,1480.7 1134.5,1480.2 1135,1481.8 1135.5,1482.2 1136,1483.5 1136.5,1484 1137,1483.5 1137.5,1483.3 1138,1483.9 1138.5,1484.6 1139,1484.4 1139.5,1484.7 1140,1483.4 1140.5,1483.6 1141,1483.8 1141.5,1483.7 1142,1483.5 1142.5,1483.9 1143,1483.1 1143.5,1484.1 1144,1483.2 1144.5,1484.6 1145,1483.6 1145.5,1482.9 1146,1483.4 1146.5,1482.9 1147,1482.3 1147.5,1482 1148,1481.9 1148.5,1483 1149,1483.7 1149.5,1483.9 1150,1483.1 1150.5,1482.9 1151,1483.4 1151.5,1483.3 1152,1483.8 1152.5,1482.5 1153,1481.8 1153.5,1481.3 1154,1479.3 1154.5,1478.6 1155,1477.3 1155.5,1478.4 1156,1479.9 1156.5,1480.4 1157,1481.9 1157.5,1482 1158,1482 1158.5,1482.4 1159,1481.4 1159.5,1481.4 1160,1482.4 1160.5,1481.5 1161,1481.3 1161.5,1480 1162,1479.2 1162.5,1479 1163,1478.5 1163.5,1480.2 1164,1479.9 1164.5,1480 1165,1480.8 1165.5,1482.1 1166,1482.5 1166.5,1480.5 1167,1480.4 1167.5,1480.1 1168,1479.3 1168.5,1478.2 1169,1480.2 1169.5,1481.1 1170,1482.4 1170.5,1482.4 1171,1482.6 1171.5,1482.6 1172,1481.5 1172.5,1480.6 1173,1482.2 1173.5,1483.2 1174,1483 1174.5,1483.3 1175,1483.6 1175.5,1484 1176,1483.6 1176.5,1484.1 1177,1483.9 1177.5,1483.3 1178,1483.9 1178.5,1484 1179,1484.5 1179.5,1484.2 1180,1484.8 1180.5,1483.2 1181,1484 1181.5,1484.5 1182,1484.1 1182.5,1484.1 1183,1483.6 1183.5,1484.1 1184,1484 1184.5,1483.1 1185,1484 1185.5,1484 1186,1483.8 1186.5,1482.6 1187,1483.5 1187.5,1483.4 1188,1483.7 1188.5,1484.1 1189,1484.9 1189.5,1483.9 1190,1484.5 1190.5,1483.2 1191,1484.3 1191.5,1484.1 1192,1484.9 1192.5,1483.7 1193,1484.3 1193.5,1483.8 1194,1482.9 1194.5,1484.6 1195,1484.4 1195.5,1484.6 1196,1485.3 1196.5,1484.5 1197,1485.3 1197.5,1484.2 1198,1483.7 1198.5,1484.1 1199,1483.7 1199.5,1484.6 1200,1484.5 1200.5,1484 1201,1484.7 1201.5,1484.1 1202,1483.5 1202.5,1484.4 1203,1483.3 1203.5,1483.5 1204,1483.6 1204.5,1483.1 1205,1483.6 1205.5,1483.2 1206,1482.5 1206.5,1482.8 1207,1483.3 1207.5,1484.4 1208,1483.7 1208.5,1483.7 1209,1483.6 1209.5,1484.8 1210,1484.5 1210.5,1484.7 1211,1483.7 1211.5,1484.7 1212,1483.9 1212.5,1484.6 1213,1484.5 1213.5,1484.7 1214,1484.1 1214.5,1484.6 1215,1484.7 1215.5,1486.3 1216,1485.9 1216.5,1485.2 1217,1484.5 1217.5,1484.6 1218,1483.7 1218.5,1483.8 1219,1483.5 1219.5,1482.7 1220,1482.4 1220.5,1481.3 1221,1481.9 1221.5,1483.1 1222,1483.5 1222.5,1483 1223,1482 1223.5,1482.1 1224,1482 1224.5,1481.7 1225,1482.5 1225.5,1482.4 1226,1483 1226.5,1482.4 1227,1481.8 1227.5,1482.9 1228,1481.7 1228.5,1482.6 1229,1482.2 1229.5,1482.1 1230,1482.2 1230.5,1482.7 1231,1482.6 1231.5,1482.2 1232,1481.3 1232.5,1480.6 1233,1479.1 1233.5,1478.4 1234,1478.5 1234.5,1477.8 1235,1476.3 1235.5,1478.5 1236,1479.9 1236.5,1480.8 1237,1482.6 1237.5,1482.4 1238,1482.3 1238.5,1483.8 1239,1483.2 1239.5,1483.4 1240,1482.7 1240.5,1484.1 1241,1483.9 1241.5,1484.2 1242,1483.8 1242.5,1483.3 1243,1483.1 1243.5,1484 1244,1484.4 1244.5,1484.7 1245,1483.2 1245.5,1483.4 1246,1483.1 1246.5,1483.5 1247,1483.9 1247.5,1483.1 1248,1482.6 1248.5,1483.7 1249,1483.6 1249.5,1482.8 1250,1482.1 1250.5,1479.9 1251,1478 1251.5,1475.8 1252,1473.7 1252.5,1471.4 1253,1470.7 1253.5,1469.5 1254,1467.6 1254.5,1466.6 1255,1465 1255.5,1465.2 1256,1462.4 1256.5,1461.5 1257,1458.8 1257.5,1456.3 1258,1455.1 1258.5,1451.6 1259,1448.7 1259.5,1446.8 1260,1444.7 1260.5,1443.9 1261,1441.4 1261.5,1439 1262,1438.1 1262.5,1435.9 1263,1432.8 1263.5,1431.6 1264,1429.2 1264.5,1427.6 1265,1424.7 1265.5,1421.8 1266,1419.2 1266.5,1416 1267,1413 1267.5,1411.3 1268,1408.8 1268.5,1406.3 1269,1404.2 1269.5,1402.3 1270,1400.3 1270.5,1398.3 1271,1395 1271.5,1392.4 1272,1389.6 1272.5,1386.7 1273,1384.7 1273.5,1382.4 1274,1379.6 1274.5,1377 1275,1374.3 1275.5,1371.9 1276,1369.6 1276.5,1367.1 1277,1364.5 1277.5,1362.3 1278,1359 1278.5,1355.4 1279,1351.8 1279.5,1348.8 1280,1345 1280.5,1340.7 1281,1337.2 1281.5,1333.9 1282,1330.5 1282.5,1326.7 1283,1322.9 1283.5,1318.8 1284,1315 1284.5,1311.7 1285,1308.3 1285.5,1304.7 1286,1301 1286.5,1297.2 1287,1293.6 1287.5,1290.2 1288,1286.5 1288.5,1282.7 1289,1278.3 1289.5,1270.8 1290,1262.6 1290.5,1254.3 1291,1246.4 1291.5,1238.6 1292,1230.6 1292.5,1222.7 1293,1214.6 1293.5,1206.3 1294,1203.3 1294.5,1199.9 1295,1196.4 1295.5,1192.3 1296,1189.8 1296.5,1194.6 1297,1200 1297.5,1206 1298,1211.5 1298.5,1217.2 1299,1237.6 1299.5,1258.3 1300,1278.7 1300.5,1293.8 1301,1308.6 1301.5,1324.1 1302,1338.1 1302.5,1352.8 1303,1362.5 1303.5,1364.7 1304,1367.2 1304.5,1369.1 1305,1371.3 1305.5,1372.5 1306,1373.2 1306.5,1374.4 1307,1375.8 1307.5,1377.3 1308,1379.6 1308.5,1382.5 1309,1384.8 1309.5,1387.2 1310,1388.9 1310.5,1390.9 1311,1392.5 1311.5,1394.1 1312,1395 1312.5,1396.3 1313,1397.8 1313.5,1399.1 1314,1399.8 1314.5,1400 1315,1400.5 1315.5,1401.4 1316,1402.3 1316.5,1402.5 1317,1403.1 1317.5,1403.9 1318,1404.4 1318.5,1405.4 1319,1406 1319.5,1407.4 1320,1409.2 1320.5,1409.3 1321,1409.8 1321.5,1410.2 1322,1410.9 1322.5,1411.5 1323,1412.2 1323.5,1413.4 1324,1413.7 1324.5,1414.6 1325,1415.4 1325.5,1416.3 1326,1416.9 1326.5,1415.3 1327,1415.8 1327.5,1415 1328,1414.3 1328.5,1413.4 1329,1415.9 1329.5,1417.7 1330,1418.6 1330.5,1418.3 1331,1418.9 1331.5,1419.8 1332,1421 1332.5,1422.8 1333,1423.8 1333.5,1424.9 1334,1425.3 1334.5,1425.7 1335,1426.3 1335.5,1426.6 1336,1427.2 1336.5,1428.2 1337,1429.2 1337.5,1429.6 1338,1429.8 1338.5,1429.2 1339,1428.6 1339.5,1429.9 1340,1431.7 1340.5,1432.9 1341,1432.6 1341.5,1433.8 1342,1434 1342.5,1434.4 1343,1436.2 1343.5,1436.3 1344,1435.7 1344.5,1436.2 1345,1437.1 1345.5,1437 1346,1436.6 1346.5,1437.3 1347,1436.7 1347.5,1437.1 1348,1436.5 1348.5,1436.8 1349,1437.4 1349.5,1438.4 1350,1438 1350.5,1439 1351,1438.1 1351.5,1438.2 1352,1439 1352.5,1439.1 1353,1440.5 1353.5,1440.9 1354,1440.4 1354.5,1440.8 1355,1440.7 1355.5,1441.2 1356,1440.6 1356.5,1441.8 1357,1441.4 1357.5,1442.8 1358,1442.8 1358.5,1443 1359,1443.3 1359.5,1444.8 1360,1445.2 1360.5,1445.1 1361,1445.6 1361.5,1446 1362,1446.2 1362.5,1445.3 1363,1444.9 1363.5,1445.2 1364,1444.4 1364.5,1445.3 1365,1446.2 1365.5,1447.5 1366,1447.5 1366.5,1448.2 1367,1449 1367.5,1449.3 1368,1448.5 1368.5,1448.6 1369,1450.5 1369.5,1449.4 1370,1450.4 1370.5,1449.6 1371,1450.4 1371.5,1451.5 1372,1450.9 1372.5,1451.8 1373,1451.4 1373.5,1452.3 1374,1453.5 1374.5,1453.9 1375,1453.9 1375.5,1454.4 1376,1453.9 1376.5,1454.4 1377,1454.1 1377.5,1454.6 1378,1454.6 1378.5,1456.3 1379,1455.2 1379.5,1454.2 1380,1452.7 1380.5,1451.5 1381,1453.4 1381.5,1454.3 1382,1455.6 1382.5,1456.3 1383,1457.1 1383.5,1456.2 1384,1455.9 1384.5,1456.9 1385,1457.4 1385.5,1457.7 1386,1458 1386.5,1457.4 1387,1458 1387.5,1456.4 1388,1456.4 1388.5,1455.5 1389,1452.1 1389.5,1450 1390,1445.3 1390.5,1442.4 1391,1446.3 1391.5,1449.5 1392,1454.4 1392.5,1459.9 1393,1460.4 1393.5,1461.3 1394,1460.8 1394.5,1460.7 1395,1461.2 1395.5,1462.5 1396,1461.7 1396.5,1463 1397,1462.9 1397.5,1463.7 1398,1464.3 1398.5,1463.3 1399,1463.4 1399.5,1463.9 1400,1464.1 1400.5,1462.8 1401,1462.5 1401.5,1463.5 1402,1463.6 1402.5,1461.9 1403,1461.9 1403.5,1460.1 1404,1461.9 1404.5,1461.4 1405,1462.3 1405.5,1464 1406,1463 1406.5,1462 1407,1461.9 1407.5,1461.8 1408,1462.1 1408.5,1462.4 1409,1463 1409.5,1461.8 1410,1462.2 1410.5,1462.4 1411,1464 1411.5,1465 1412,1464.6 1412.5,1464.3 1413,1464.2 1413.5,1464.5 1414,1465.4 1414.5,1465.4 1415,1466.3 1415.5,1466.7 1416,1466.5 1416.5,1467.6 1417,1466.3 1417.5,1467.3 1418,1467.3 1418.5,1467.8 1419,1467 1419.5,1467.4 1420,1467.1 1420.5,1468.1 1421,1467.4 1421.5,1468.5 1422,1468.7 1422.5,1468.5 1423,1468.2 1423.5,1468.4 1424,1467.9 1424.5,1467.8 1425,1469.3 1425.5,1469.2 1426,1469.2 1426.5,1468.5 1427,1469.7 1427.5,1468.5 1428,1469.6 1428.5,1470.3 1429,1469.8 1429.5,1470 1430,1470.7 1430.5,1471.5 1431,1470.8 1431.5,1470.9 1432,1470.7 1432.5,1469.7 1433,1471.1 1433.5,1470.6 1434,1471.2 1434.5,1471.2 1435,1470.8 1435.5,1468.4 1436,1467.8 1436.5,1465.9 1437,1466.9 1437.5,1468.7 1438,1469.9 1438.5,1469.1 1439,1469.8 1439.5,1471.3 1440,1471.8 1440.5,1472.5 1441,1472.6 1441.5,1471.3 1442,1472.5 1442.5,1473.3 1443,1473.1 1443.5,1474.4 1444,1474.5 1444.5,1474.7 1445,1474.2 1445.5,1474.3 1446,1474 1446.5,1473.9 1447,1471.6 1447.5,1470.9 1448,1472.4 1448.5,1473.6 1449,1475.8 1449.5,1474.6 1450,1474.1 1450.5,1474.8 1451,1474 1451.5,1475.2 1452,1474.7 1452.5,1475.2 1453,1473.8 1453.5,1474.6 1454,1472.6 1454.5,1474.4 1455,1473.5 1455.5,1474.5 1456,1473.7 1456.5,1474.7 1457,1475 1457.5,1474.4 1458,1474.4 1458.5,1474.7 1459,1474.9 1459.5,1475 1460,1474.2 1460.5,1474.4 1461,1474.7 1461.5,1474.8 1462,1475 1462.5,1474 1463,1474.7 1463.5,1474.3 1464,1473.5 1464.5,1473.6 1465,1473.2 1465.5,1474.9 1466,1473.8 1466.5,1474.2 1467,1473.7 1467.5,1471.4 1468,1471.7 1468.5,1471.6 1469,1473.2 1469.5,1474.5 1470,1475.6 1470.5,1476.7 1471,1477.4 1471.5,1475.9 1472,1477.1 1472.5,1477.7 1473,1477.2 1473.5,1476.3 1474,1476.2 1474.5,1474 1475,1476.1 1475.5,1476.9 1476,1477.7 1476.5,1478.5 1477,1478.1 1477.5,1478 1478,1477.8 1478.5,1477.4 1479,1477.7 1479.5,1477.1 1480,1478.4 1480.5,1478.6 1481,1478.3 1481.5,1479.1 1482,1477.6 1482.5,1477.4 1483,1476.6 1483.5,1474.2 1484,1476.4 1484.5,1477.6 1485,1477.5 1485.5,1478.6 1486,1478.2 1486.5,1479.3 1487,1479.3 1487.5,1479.2 1488,1479.6 1488.5,1480.3 1489,1479.9 1489.5,1480.4 1490,1480.3 1490.5,1480.1 1491,1479.7 1491.5,1480.3 1492,1479.4 1492.5,1479.7 1493,1480.3 1493.5,1479.7 1494,1479.7 1494.5,1479.2 1495,1479.4 1495.5,1478.3 1496,1477.8 1496.5,1478 1497,1478.4 1497.5,1478.6 1498,1477.6 1498.5,1476.5 1499,1475.7 1499.5,1477.1 1500,1477.2 1500.5,1477.8 1501,1479.6 1501.5,1479 1502,1478.6 1502.5,1478.3 1503,1478.5 1503.5,1478.2 1504,1476.9 1504.5,1475.4 1505,1474.4 1505.5,1472.8 1506,1475.3 1506.5,1476.7 1507,1474.4 1507.5,1474.5 1508,1474.3 1508.5,1476.2 1509,1475 1509.5,1473.7 1510,1474.3 1510.5,1476.5 1511,1477.8 1511.5,1478.4 1512,1478.4 1512.5,1479.3 1513,1478.5 1513.5,1478.7 1514,1478.2 1514.5,1477.2 1515,1476.9 1515.5,1477.1 1516,1476.9 1516.5,1478.4 1517,1479.1 1517.5,1480.3 1518,1480 1518.5,1479.5 1519,1480.5 1519.5,1479.5 1520,1479.9 1520.5,1479.5 1521,1480.8 1521.5,1480.3 1522,1480.9 1522.5,1479.9 1523,1479.9 1523.5,1480.4 1524,1480.6 1524.5,1480.6 1525,1479.6 1525.5,1479.9 1526,1480.2 1526.5,1480.1 1527,1479.8 1527.5,1479.7 1528,1480 1528.5,1480.6 1529,1480.6 1529.5,1481.4 1530,1480.3 1530.5,1481.1 1531,1480.6 1531.5,1479.5 1532,1479.7 1532.5,1478 1533,1479.8 1533.5,1479.7 1534,1478.8 1534.5,1480.1 1535,1479.4 1535.5,1479.8 1536,1479 1536.5,1479.5 1537,1478.1 1537.5,1479.4 1538,1480.1 1538.5,1480.3 1539,1482.1 1539.5,1480.6 1540,1480.9 1540.5,1480.1 1541,1478.7 1541.5,1479.5 1542,1481.1 1542.5,1480.2 1543,1481.5 1543.5,1481.9 1544,1482.4 1544.5,1482 1545,1482.9 1545.5,1482.3 1546,1483.6 1546.5,1482.9 1547,1482.3 1547.5,1482.6 1548,1482 1548.5,1481.7 1549,1482.7 1549.5,1481.9 1550,1482.8 1550.5,1481.7 1551,1481.5 1551.5,1481.6 1552,1481.8 1552.5,1482.1 1553,1482.8 1553.5,1482.9 1554,1482.8 1554.5,1483.2 1555,1482.6 1555.5,1481.9 1556,1482.4 1556.5,1483 1557,1483.7 1557.5,1483.5 1558,1483.3 1558.5,1484.1 1559,1483.1 1559.5,1483.2 1560,1483.2 1560.5,1483.6 1561,1484.2 1561.5,1483.1 1562,1484.1 1562.5,1483 1563,1482.8 1563.5,1483.6 1564,1482.4 1564.5,1483.4 1565,1483.3 1565.5,1483.8 1566,1484 1566.5,1483.1 1567,1484.1 1567.5,1484.1 1568,1483.4 1568.5,1483.8 1569,1482.8 1569.5,1484.1 1570,1482.5 1570.5,1483.9 1571,1483.5 1571.5,1484 1572,1483.1 1572.5,1483.6 1573,1483.3 1573.5,1483.6 1574,1484.9 1574.5,1483.7 1575,1483.8 1575.5,1483.6 1576,1484.5 1576.5,1483.5 1577,1484.9 1577.5,1483.5 1578,1484.2 1578.5,1484.4 1579,1483.6 1579.5,1484 1580,1483.7 1580.5,1484.5 1581,1483.8 1581.5,1483.5 1582,1481.3 1582.5,1478.7 1583,1473.8 1583.5,1471 1584,1474.9 1584.5,1478.6 1585,1483.6 1585,1492.3 1584.5,1493.9 1584,1493 1583.5,1493.5 1583,1493.3 1582.5,1492.6 1582,1492.1 1581.5,1491.9 1581,1493.3 1580.5,1492.7 1580,1493 1579.5,1493.3 1579,1493.9 1578.5,1493.4 1578,1492.9 1577.5,1492.6 1577,1493.3 1576.5,1493.5 1576,1492.4 1575.5,1492.4 1575,1493.3 1574.5,1492.6 1574,1493.7 1573.5,1493.7 1573,1493.2 1572.5,1493.4 1572,1492.7 1571.5,1491.7 1571,1492 1570.5,1492.1 1570,1495.6 1569.5,1498 1569,1500.8 1568.5,1498 1568,1495.5 1567.5,1492.6 1567,1491.9 1566.5,1491.6 1566,1492.6 1565.5,1491.3 1565,1491.5 1564.5,1491.5 1564,1492.4 1563.5,1491 1563,1492.8 1562.5,1492.7 1562,1492.7 1561.5,1492 1561,1492.6 1560.5,1492.1 1560,1492.2 1559.5,1493.1 1559,1492.7 1558.5,1493 1558,1491 1557.5,1491.6 1557,1492.2 1556.5,1493.5 1556,1495.4 1555.5,1496.6 1555,1498.3 1554.5,1497.6 1554,1495 1553.5,1492.8 1553,1494.4 1552.5,1497.7 1552,1494.9 1551.5,1493.7 1551,1490.7 1550.5,1492.1 1550,1491.4 1549.5,1490.7 1549,1491.5 1548.5,1491.8 1548,1490.6 1547.5,1491.8 1547,1492.2 1546.5,1491.7 1546,1491.6 1545.5,1492 1545,1492 1544.5,1491.1 1544,1490.2 1543.5,1491.6 1543,1490.4 1542.5,1491 1542,1490.6 1541.5,1491.1 1541,1491.3 1540.5,1490 1540,1490.6 1539.5,1489.8 1539,1490.7 1538.5,1490.5 1538,1490.5 1537.5,1490.1 1537,1489.3 1536.5,1491.5 1536,1491.7 1535.5,1492.4 1535,1492 1534.5,1491.3 1534,1489 1533.5,1489.6 1533,1489.7 1532.5,1489.2 1532,1489.6 1531.5,1489.8 1531,1489.3 1530.5,1490.3 1530,1489.4 1529.5,1489.5 1529,1489.1 1528.5,1490 1528,1488.8 1527.5,1489.2 1527,1489.3 1526.5,1489.5 1526,1488.3 1525.5,1489.3 1525,1489 1524.5,1489.1 1524,1489.1 1523.5,1490.2 1523,1489 1522.5,1490 1522,1489.7 1521.5,1488.5 1521,1489.3 1520.5,1489.1 1520,1488.5 1519.5,1488.9 1519,1488.2 1518.5,1489.7 1518,1488.3 1517.5,1489.1 1517,1489.2 1516.5,1488.5 1516,1488.7 1515.5,1489 1515,1488.4 1514.5,1488.9 1514,1489.4 1513.5,1488.2 1513,1487.3 1512.5,1487.7 1512,1487.2 1511.5,1488.5 1511,1488.9 1510.5,1488.6 1510,1489.7 1509.5,1489.6 1509,1490.3 1508.5,1489 1508,1488.5 1507.5,1488.2 1507,1487.4 1506.5,1487.3 1506,1488.2 1505.5,1488.3 1505,1488.2 1504.5,1487.2 1504,1488.1 1503.5,1487.7 1503,1487.3 1502.5,1487.6 1502,1487.5 1501.5,1487.9 1501,1488.9 1500.5,1488.6 1500,1488.4 1499.5,1489.5 1499,1492.6 1498.5,1495.5 1498,1497.9 1497.5,1499.1 1497,1496.7 1496.5,1494.5 1496,1491.6 1495.5,1489.2 1495,1488.7 1494.5,1489.4 1494,1490.3 1493.5,1490.4 1493,1490.5 1492.5,1490.7 1492,1489.1 1491.5,1489.1 1491,1488.1 1490.5,1488.3 1490,1488.9 1489.5,1488.3 1489,1487.9 1488.5,1492.1 1488,1493.9 1487.5,1494.6 1487,1493.2 1486.5,1490.6 1486,1489.3 1485.5,1490.6 1485,1492.1 1484.5,1490.6 1484,1489.8 1483.5,1489.1 1483,1489.1 1482.5,1488 1482,1488.4 1481.5,1487 1481,1487.7 1480.5,1487.7 1480,1487.6 1479.5,1486.2 1479,1487.5 1478.5,1485.9 1478,1486.7 1477.5,1486.2 1477,1486.7 1476.5,1486.7 1476,1486.9 1475.5,1487.7 1475,1486.4 1474.5,1487.3 1474,1486.9 1473.5,1487 1473,1486.8 1472.5,1485.4 1472,1485.4 1471.5,1485.8 1471,1485.2 1470.5,1485 1470,1485.7 1469.5,1484.3 1469,1485.7 1468.5,1485.9 1468,1486.5 1467.5,1487.8 1467,1487.7 1466.5,1487.9 1466,1486.5 1465.5,1486.3 1465,1486 1464.5,1484.9 1464,1485.4 1463.5,1484.3 1463,1483.7 1462.5,1485.2 1462,1484.3 1461.5,1484.2 1461,1484.5 1460.5,1484 1460,1484 1459.5,1483.2 1459,1484.3 1458.5,1483.4 1458,1482.9 1457.5,1484.1 1457,1483.4 1456.5,1483.5 1456,1483.6 1455.5,1483.1 1455,1482.2 1454.5,1482.4 1454,1482.9 1453.5,1483.7 1453,1486.9 1452.5,1490.2 1452,1491.6 1451.5,1493.7 1451,1492.6 1450.5,1489.8 1450,1486.5 1449.5,1484.4 1449,1483.5 1448.5,1483.8 1448,1483.3 1447.5,1483.5 1447,1483.4 1446.5,1482.9 1446,1483.5 1445.5,1482.4 1445,1482 1444.5,1482.8 1444,1483.1 1443.5,1481.9 1443,1482.3 1442.5,1481.4 1442,1481.9 1441.5,1481.2 1441,1481 1440.5,1481 1440,1480.5 1439.5,1479.9 1439,1480.8 1438.5,1480.1 1438,1479.3 1437.5,1480.1 1437,1481 1436.5,1481.7 1436,1482.9 1435.5,1482.5 1435,1482 1434.5,1481.5 1434,1479.3 1433.5,1479.8 1433,1478.8 1432.5,1478.5 1432,1478.3 1431.5,1478.9 1431,1479.2 1430.5,1480.2 1430,1479.1 1429.5,1479 1429,1478.8 1428.5,1478.8 1428,1479.2 1427.5,1478.8 1427,1479.4 1426.5,1480.1 1426,1479.2 1425.5,1479.4 1425,1478.8 1424.5,1477.3 1424,1476.8 1423.5,1477.4 1423,1477 1422.5,1477.7 1422,1478.2 1421.5,1480.8 1421,1482.3 1420.5,1483.7 1420,1483.6 1419.5,1482.6 1419,1481.2 1418.5,1479.5 1418,1477.9 1417.5,1476.8 1417,1476.5 1416.5,1476.8 1416,1476.6 1415.5,1475.3 1415,1477 1414.5,1478.3 1414,1479.7 1413.5,1476.8 1413,1475.6 1412.5,1474.6 1412,1473.8 1411.5,1473.6 1411,1472.4 1410.5,1472.5 1410,1472.6 1409.5,1472.8 1409,1473.9 1408.5,1473.8 1408,1474.8 1407.5,1474.4 1407,1474.3 1406.5,1473.9 1406,1473.1 1405.5,1473 1405,1473 1404.5,1472.4 1404,1472.4 1403.5,1472.4 1403,1473.3 1402.5,1472.8 1402,1473.1 1401.5,1472.5 1401,1472.8 1400.5,1471.7 1400,1471.5 1399.5,1472.1 1399,1473.7 1398.5,1472.5 1398,1471.8 1397.5,1472.1 1397,1471.2 1396.5,1471 1396,1470.6 1395.5,1470.4 1395,1469.8 1394.5,1469.5 1394,1469.7 1393.5,1469.3 1393,1469.5 1392.5,1468.9 1392,1467.4 1391.5,1467.6 1391,1469.3 1390.5,1469.7 1390,1470 1389.5,1471.8 1389,1469.6 1388.5,1469.6 1388,1467.3 1387.5,1467.2 1387,1465.7 1386.5,1466 1386,1466.2 1385.5,1466.3 1385,1465.7 1384.5,1466.4 1384,1466.1 1383.5,1465.9 1383,1465.5 1382.5,1465.3 1382,1465.7 1381.5,1465.2 1381,1465.4 1380.5,1466.7 1380,1468.3 1379.5,1469.9 1379,1470.7 1378.5,1473.3 1378,1471.3 1377.5,1468.3 1377,1467.7 1376.5,1465.3 1376,1462.3 1375.5,1462.2 1375,1462.9 1374.5,1462 1374,1462.2 1373.5,1460.7 1373,1460.8 1372.5,1461 1372,1460.3 1371.5,1460 1371,1460 1370.5,1460.9 1370,1464 1369.5,1464.7 1369,1467.4 1368.5,1467.9 1368,1465.4 1367.5,1464.4 1367,1460.9 1366.5,1459.5 1366,1457.1 1365.5,1456.8 1365,1456.8 1364.5,1456.3 1364,1455.8 1363.5,1458.1 1363,1460.3 1362.5,1460.6 1362,1462 1361.5,1460.6 1361,1458.7 1360.5,1456.5 1360,1454.9 1359.5,1453.4 1359,1453 1358.5,1452.3 1358,1452.7 1357.5,1451.6 1357,1450.9 1356.5,1451.2 1356,1450.6 1355.5,1450.2 1355,1450 1354.5,1449.5 1354,1449.1 1353.5,1449.4 1353,1447.9 1352.5,1447.6 1352,1447.8 1351.5,1446.6 1351,1447.1 1350.5,1447.2 1350,1446.3 1349.5,1446.2 1349,1445.8 1348.5,1447.1 1348,1448.2 1347.5,1449.2 1347,1451.2 1346.5,1449.6 1346,1448.3 1345.5,1446.4 1345,1446 1344.5,1447.3 1344,1446.8 1343.5,1445.4 1343,1444.6 1342.5,1443.4 1342,1443.1 1341.5,1443.1 1341,1441.9 1340.5,1441.5 1340,1439.7 1339.5,1439.8 1339,1438.5 1338.5,1438.3 1338,1438.2 1337.5,1437.7 1337,1436.7 1336.5,1435.5 1336,1435.1 1335.5,1435.5 1335,1436.4 1334.5,1436.3 1334,1436.9 1333.5,1434.8 1333,1433.6 1332.5,1432 1332,1430.4 1331.5,1428.9 1331,1428.2 1330.5,1426.9 1330,1426.1 1329.5,1425.7 1329,1425.7 1328.5,1424 1328,1423.3 1327.5,1423.5 1327,1422.9 1326.5,1422.7 1326,1422.5 1325.5,1422.2 1325,1421.6 1324.5,1419.8 1324,1419.4 1323.5,1418.7 1323,1417.9 1322.5,1416.8 1322,1416 1321.5,1414.6 1321,1413.5 1320.5,1413 1320,1412.2 1319.5,1411.5 1319,1410.1 1318.5,1409.5 1318,1408.4 1317.5,1407.2 1317,1406.7 1316.5,1405.8 1316,1404.5 1315.5,1403.6 1315,1403 1314.5,1402.1 1314,1401.8 1313.5,1401.2 1313,1400.5 1312.5,1399.6 1312,1398.6 1311.5,1398.4 1311,1397.8 1310.5,1396.6 1310,1394.6 1309.5,1391.8 1309,1389.3 1308.5,1386.5 1308,1384.6 1307.5,1382.8 1307,1380.7 1306.5,1378.8 1306,1377 1305.5,1375.7 1305,1373.5 1304.5,1371.5 1304,1369.3 1303.5,1367.2 1303,1365 1302.5,1355.3 1302,1340.5 1301.5,1326.2 1301,1311 1300.5,1296 1300,1281.1 1299.5,1260.7 1299,1240.1 1298.5,1219.6 1298,1214.4 1297.5,1209.7 1297,1205 1296.5,1200.2 1296,1195.6 1295.5,1198.2 1295,1200.8 1294.5,1203.7 1294,1206.8 1293.5,1209.3 1293,1217 1292.5,1225 1292,1233 1291.5,1240.8 1291,1248.5 1290.5,1256.7 1290,1264.6 1289.5,1272.9 1289,1280.5 1288.5,1285 1288,1288.7 1287.5,1292.4 1287,1296 1286.5,1299.4 1286,1302.8 1285.5,1307.1 1285,1310.5 1284.5,1313.8 1284,1317.1 1283.5,1321.3 1283,1325.3 1282.5,1329.2 1282,1332.9 1281.5,1336.9 1281,1340.3 1280.5,1343.7 1280,1347.6 1279.5,1351 1279,1354.4 1278.5,1357.6 1278,1361.1 1277.5,1364.4 1277,1366.8 1276.5,1369.1 1276,1372.2 1275.5,1374.7 1275,1377 1274.5,1379.1 1274,1381.9 1273.5,1384.8 1273,1386.9 1272.5,1389.4 1272,1392.5 1271.5,1395.2 1271,1398 1270.5,1401.3 1270,1403 1269.5,1405.5 1269,1407.6 1268.5,1409.9 1268,1412.8 1267.5,1415.6 1267,1418.3 1266.5,1421.9 1266,1424.9 1265.5,1427.6 1265,1431.2 1264.5,1432.9 1264,1436.2 1263.5,1437.7 1263,1440.8 1262.5,1442.5 1262,1446.2 1261.5,1448 1261,1451.1 1260.5,1452.6 1260,1455 1259.5,1456.9 1259,1459.3 1258.5,1460.9 1258,1464.6 1257.5,1465.9 1257,1468.4 1256.5,1470.4 1256,1472.8 1255.5,1473.4 1255,1475.4 1254.5,1476.2 1254,1477.6 1253.5,1479.5 1253,1481.1 1252.5,1483.5 1252,1484.9 1251.5,1486.6 1251,1488.6 1250.5,1489.7 1250,1491.3 1249.5,1491.2 1249,1492.7 1248.5,1492.4 1248,1491.4 1247.5,1492.7 1247,1491.8 1246.5,1492.2 1246,1491.8 1245.5,1492.6 1245,1492.5 1244.5,1493.2 1244,1492.5 1243.5,1492.6 1243,1493 1242.5,1491.9 1242,1493 1241.5,1492.6 1241,1493.3 1240.5,1492.8 1240,1492.4 1239.5,1491.6 1239,1491.7 1238.5,1492.4 1238,1491.6 1237.5,1491.4 1237,1491.9 1236.5,1491.4 1236,1490.8 1235.5,1491.8 1235,1491.1 1234.5,1490.4 1234,1491.3 1233.5,1490.3 1233,1490.5 1232.5,1490.9 1232,1490.6 1231.5,1491.7 1231,1490.9 1230.5,1491.1 1230,1490.5 1229.5,1490.6 1229,1491.6 1228.5,1491.4 1228,1492.7 1227.5,1492.4 1227,1493.6 1226.5,1493.6 1226,1493.8 1225.5,1492.1 1225,1493 1224.5,1491.6 1224,1491.8 1223.5,1491.7 1223,1492 1222.5,1491.3 1222,1491.7 1221.5,1492.8 1221,1492.2 1220.5,1492.4 1220,1492.6 1219.5,1492.4 1219,1492.6 1218.5,1492.6 1218,1492.2 1217.5,1493.1 1217,1493.8 1216.5,1493.9 1216,1494.7 1215.5,1494.3 1215,1493.7 1214.5,1493.4 1214,1493.2 1213.5,1493.6 1213,1493.4 1212.5,1494 1212,1493.1 1211.5,1493.1 1211,1493.4 1210.5,1492.1 1210,1492.7 1209.5,1493.5 1209,1492.8 1208.5,1493.7 1208,1493.4 1207.5,1492.8 1207,1492.5 1206.5,1491.6 1206,1491.8 1205.5,1491.3 1205,1491.5 1204.5,1492.9 1204,1492.4 1203.5,1492.6 1203,1491.7 1202.5,1493.1 1202,1492.5 1201.5,1492.2 1201,1493.2 1200.5,1493.1 1200,1493.8 1199.5,1492.5 1199,1493.2 1198.5,1493.8 1198,1493.4 1197.5,1493.1 1197,1493.6 1196.5,1493.7 1196,1493.3 1195.5,1493.9 1195,1493.4 1194.5,1493.8 1194,1496.3 1193.5,1499.1 1193,1503.2 1192.5,1504.8 1192,1508.8 1191.5,1505 1191,1502.8 1190.5,1498.7 1190,1497.2 1189.5,1501.1 1189,1505.2 1188.5,1509.2 1188,1512.4 1187.5,1508.1 1187,1504.5 1186.5,1500.4 1186,1496.5 1185.5,1492.3 1185,1493.1 1184.5,1492.6 1184,1492.8 1183.5,1491.6 1183,1492.6 1182.5,1493.4 1182,1493.9 1181.5,1494.2 1181,1495.9 1180.5,1495.8 1180,1496.2 1179.5,1494.4 1179,1494.3 1178.5,1493.2 1178,1492.4 1177.5,1492.7 1177,1492.2 1176.5,1492.2 1176,1492.5 1175.5,1492.8 1175,1491.9 1174.5,1492.7 1174,1492 1173.5,1492.8 1173,1492.5 1172.5,1492.6 1172,1492.2 1171.5,1492.6 1171,1491.7 1170.5,1491.2 1170,1492.3 1169.5,1492.5 1169,1491.8 1168.5,1490.9 1168,1491.1 1167.5,1490.9 1167,1490.9 1166.5,1490.3 1166,1491.4 1165.5,1490.4 1165,1491.7 1164.5,1491.8 1164,1493.3 1163.5,1494.9 1163,1492.7 1162.5,1493 1162,1491 1161.5,1491.6 1161,1491.6 1160.5,1491 1160,1490.9 1159.5,1490.4 1159,1492 1158.5,1492.2 1158,1491.7 1157.5,1493.2 1157,1492.9 1156.5,1493.1 1156,1492.5 1155.5,1492.6 1155,1492.9 1154.5,1493.3 1154,1494.3 1153.5,1493.9 1153,1492.7 1152.5,1491.7 1152,1491.9 1151.5,1492.1 1151,1492.3 1150.5,1492.6 1150,1491.5 1149.5,1491.8 1149,1491.6 1148.5,1491.9 1148,1492 1147.5,1491.3 1147,1491.1 1146.5,1491.2 1146,1492.2 1145.5,1491.7 1145,1492.7 1144.5,1493.4 1144,1491.9 1143.5,1492 1143,1492.8 1142.5,1493.6 1142,1493.3 1141.5,1492.3 1141,1492.8 1140.5,1492.8 1140,1492.5 1139.5,1492.3 1139,1492.7 1138.5,1492.9 1138,1493 1137.5,1492.2 1137,1493.2 1136.5,1492.6 1136,1492.4 1135.5,1492.5 1135,1492.9 1134.5,1492.1 1134,1491.6 1133.5,1492.3 1133,1491.4 1132.5,1492.9 1132,1493.4 1131.5,1494.1 1131,1494.4 1130.5,1496 1130,1495.2 1129.5,1493.6 1129,1493.6 1128.5,1492.5 1128,1491.9 1127.5,1493.4 1127,1492.2 1126.5,1492.4 1126,1491.4 1125.5,1491.1 1125,1492.3 1124.5,1491.8 1124,1491.3 1123.5,1491.9 1123,1492.7 1122.5,1492.8 1122,1493 1121.5,1493.1 1121,1492.6 1120.5,1492.3 1120,1492.1 1119.5,1492.8 1119,1491.7 1118.5,1492.2 1118,1492.2 1117.5,1492.3 1117,1491.4 1116.5,1490.8 1116,1492.2 1115.5,1492.5 1115,1492.9 1114.5,1493.1 1114,1491.8 1113.5,1492.3 1113,1491.5 1112.5,1491.3 1112,1492.5 1111.5,1491.8 1111,1491.6 1110.5,1490.8 1110,1492.1 1109.5,1492.6 1109,1492.6 1108.5,1494.4 1108,1492.6 1107.5,1495.7 1107,1495.9 1106.5,1497.6 1106,1496.9 1105.5,1495.4 1105,1493.1 1104.5,1491.1 1104,1491.9 1103.5,1492.3 1103,1494.2 1102.5,1494.5 1102,1493.9 1101.5,1493.3 1101,1492.8 1100.5,1492 1100,1493.7 1099.5,1494.8 1099,1496.8 1098.5,1497.3 1098,1499.4 1097.5,1498.7 1097,1497.1 1096.5,1495.5 1096,1495 1095.5,1494.3 1095,1495.4 1094.5,1493.3 1094,1493.1 1093.5,1493.3 1093,1492.2 1092.5,1492.9 1092,1492.5 1091.5,1493.5 1091,1493.1 1090.5,1493.1 1090,1493.3 1089.5,1493 1089,1493.7 1088.5,1494.1 1088,1493.4 1087.5,1493.8 1087,1493.5 1086.5,1496.3 1086,1499.3 1085.5,1501.7 1085,1499.5 1084.5,1496.8 1084,1494 1083.5,1492.9 1083,1494 1082.5,1493.5 1082,1494 1081.5,1494.2 1081,1493.9 1080.5,1494.3 1080,1492.9 1079.5,1493.6 1079,1493.1 1078.5,1492.1 1078,1492 1077.5,1492.8 1077,1493.1 1076.5,1492.3 1076,1493.4 1075.5,1492.4 1075,1492.4 1074.5,1493.5 1074,1493.1 1073.5,1492.1 1073,1492.4 1072.5,1492.4 1072,1492.7 1071.5,1492.6 1071,1493 1070.5,1493.8 1070,1493.4 1069.5,1493.5 1069,1493.8 1068.5,1492.7 1068,1494.1 1067.5,1493.7 1067,1494.1 1066.5,1493.5 1066,1493.8 1065.5,1492.9 1065,1492.2 1064.5,1492 1064,1492.5 1063.5,1492.6 1063,1492.6 1062.5,1492.2 1062,1492.6 1061.5,1491.2 1061,1491.7 1060.5,1491.3 1060,1491.5 1059.5,1490.3 1059,1491.8 1058.5,1490.8 1058,1491.6 1057.5,1491.2 1057,1489.5 1056.5,1487.4 1056,1486 1055.5,1482.4 1055,1480.4 1054.5,1477.1 1054,1474.8 1053.5,1471.4 1053,1469.3 1052.5,1467.5 1052,1467 1051.5,1468.4 1051,1469.5 1050.5,1472.3 1050,1475 1049.5,1477.4 1049,1481.9 1048.5,1484.7 1048,1487.6 1047.5,1488.8 1047,1490.8 1046.5,1491.4 1046,1491.9 1045.5,1493.1 1045,1493.1 1044.5,1492.4 1044,1492.8 1043.5,1492.4 1043,1492.2 1042.5,1492.1 1042,1491.5 1041.5,1492.8 1041,1491.5 1040.5,1492 1040,1492.1 1039.5,1492.6 1039,1492.6 1038.5,1491.5 1038,1492.5 1037.5,1492.8 1037,1493.2 1036.5,1493.1 1036,1492.7 1035.5,1493.2 1035,1493 1034.5,1491.4 1034,1491.8 1033.5,1493.3 1033,1492.7 1032.5,1492.1 1032,1492.1 1031.5,1492.5 1031,1492.5 1030.5,1492.2 1030,1492 1029.5,1492.3 1029,1491.9 1028.5,1492.5 1028,1492.6 1027.5,1491.9 1027,1492.2 1026.5,1492.6 1026,1491.8 1025.5,1492.2 1025,1492.2 1024.5,1490.8 1024,1492.1 1023.5,1492 1023,1491.8 1022.5,1492.2 1022,1492.3 1021.5,1492.2 1021,1492.5 1020.5,1493.1 1020,1492.4 1019.5,1491.9 1019,1495.1 1018.5,1497.9 1018,1499.2 1017.5,1497.2 1017,1494.8 1016.5,1493.3 1016,1491.8 1015.5,1492.1 1015,1491.4 1014.5,1493 1014,1495.6 1013.5,1497.9 1013,1495.4 1012.5,1494.7 1012,1492.1 1011.5,1492.4 1011,1493.8 1010.5,1495.3 1010,1496.5 1009.5,1495.4 1009,1493.2 1008.5,1491.8 1008,1491.7 1007.5,1491.7 1007,1492.8 1006.5,1494 1006,1493 1005.5,1495.4 1005,1496.8 1004.5,1498.1 1004,1499.2 1003.5,1498.4 1003,1496.4 1002.5,1494.9 1002,1493.6 1001.5,1492.8 1001,1491.5 1000.5,1491.8 1000,1492.7 999.5,1492.6 999,1493.3 998.5,1494.5 998,1496.4 997.5,1498.7 997,1501.5 996.5,1503.4 996,1500.7 995.5,1498 995,1496.9 994.5,1495 994,1493.4 993.5,1492 993,1492.2 992.5,1492.8 992,1493 991.5,1491.9 991,1492.9 990.5,1492.6 990,1493.6 989.5,1494.5 989,1495.2 988.5,1495.4 988,1496.3 987.5,1495.6 987,1493.7 986.5,1491.8 986,1491.6 985.5,1491.8 985,1494.2 984.5,1495.4 984,1498.4 983.5,1496.6 983,1494.2 982.5,1492.5 982,1492.7 981.5,1492.8 981,1492.7 980.5,1492.2 980,1492.4 979.5,1493.7 979,1495.3 978.5,1496.2 978,1497.5 977.5,1496.4 977,1495.7 976.5,1493.9 976,1492.9 975.5,1491.2 975,1492.1 974.5,1491.8 974,1491.9 973.5,1491.8 973,1491.8 972.5,1492.8 972,1492.3 971.5,1493.5 971,1493.2 970.5,1493.1 970,1493.2 969.5,1492.3 969,1492.3 968.5,1493 968,1493.2 967.5,1493.5 967,1493 966.5,1493.8 966,1494 965.5,1494.3 965,1494.4 964.5,1493.1 964,1493.2 963.5,1493.9 963,1494 962.5,1493.5 962,1492.7 961.5,1492.7 961,1493.4 960.5,1491.9 960,1493 959.5,1492.5 959,1492.4 958.5,1491.1 958,1491.7 957.5,1492 957,1492.3 956.5,1492.4 956,1491.2 955.5,1491.3 955,1491.1 954.5,1491.2 954,1491.7 953.5,1491.6 953,1491.4 952.5,1491 952,1491.9 951.5,1491.2 951,1491.7 950.5,1492.4 950,1492.5 949.5,1491.4 949,1492.3 948.5,1492.2 948,1493.1 947.5,1492.6 947,1491.6 946.5,1492.8 946,1493.6 945.5,1493.7 945,1493.2 944.5,1493.3 944,1492.4 943.5,1492.2 943,1492.1 942.5,1493.5 942,1492.3 941.5,1492.1 941,1492 940.5,1491.8 940,1492.3 939.5,1492.1 939,1493" fill="#8b1212" stroke="none" stroke-width="0"/>
<polyline points="939,1488.1 940,1487.9 941,1487.7 942,1488.2 943,1488.4 944,1488.6 945,1488.3 946,1487.9 947,1487.6 948,1488 949,1487.7 950,1487.4 951,1487.5 952,1487.3 953,1486.9 954,1487.2 955,1487.2 956,1487.4 957,1487.6 958,1487.4 959,1487.6 960,1487.8 961,1488.3 962,1488.8 963,1489.3 964,1489.3 965,1489.5 966,1488.9 967,1488.6 968,1488.8 969,1488.4 970,1488.4 971,1488.6 972,1488.3 973,1487.5 974,1487 975,1487.2 976,1487.6 977,1487.6 978,1487.6 979,1488.1 980,1488.1 981,1488.2 982,1487.9 983,1487.8 984,1487.5 985,1487.2 986,1486.8 987,1487 988,1487.2 989,1487.4 990,1487.6 991,1487.4 992,1487.8 993,1487.9 994,1488 995,1488.5 996,1488.4 997,1488.9 998,1488.5 999,1488.3 1000,1487.9 1001,1487.8 1002,1487.7 1003,1487.5 1004,1487.7 1005,1487.4 1006,1487.5 1007,1487.2 1008,1486.6 1009,1487 1010,1487.5 1011,1487.5 1012,1487.6 1013,1487.4 1014,1487.3 1015,1486.9 1016,1487 1017,1487.4 1018,1487.5 1019,1487.9 1020,1488 1021,1487.8 1022,1487.8 1023,1486.9 1024,1487.2 1025,1487 1026,1487.4 1027,1487.3 1028,1487.8 1029,1487.7 1030,1487.8 1031,1487.5 1032,1487.5 1033,1488.2 1034,1487.8 1035,1488.4 1036,1488.1 1037,1488.1 1038,1488.1 1039,1487.7 1040,1487.6 1041,1487.5 1042,1487.7 1043,1487.6 1044,1487.7 1045,1488.2 1046,1487.2 1047,1485.3 1048,1481.9 1049,1476.9 1050,1470.3 1051,1465.2 1052,1462.6 1053,1464.9 1054,1469.8 1055,1475.8 1056,1480.9 1057,1484.6 1058,1486.5 1059,1486.9 1060,1487.1 1061,1487.2 1062,1487.7 1063,1487.8 1064,1487.9 1065,1488.2 1066,1488.9 1067,1488.9 1068,1489 1069,1489.1 1070,1489.2 1071,1488.4 1072,1488.3 1073,1487.7 1074,1488.1 1075,1488.5 1076,1488.3 1077,1488.2 1078,1488.2 1079,1488.1 1080,1488.2 1081,1488.4 1082,1488.3 1083,1488.9 1084,1489 1085,1488.1 1086,1488.3 1087,1488.5 1088,1488.6 1089,1488.8 1090,1488.9 1091,1488.8 1092,1488.1 1093,1488.2 1094,1488.1 1095,1488.5 1096,1488.4 1097,1487.9 1098,1488.1 1099,1488 1100,1487.7 1101,1488.1 1102,1488.3 1103,1488 1104,1487.7 1105,1487.3 1106,1487.7 1107,1487.3 1108,1487.6 1109,1487.3 1110,1487.5 1111,1487 1112,1487.4 1113,1487.8 1114,1487.6 1115,1488.3 1116,1487.3 1117,1487 1118,1487.3 1119,1487.6 1120,1487.7 1121,1488.2 1122,1488.3 1123,1487.8 1124,1487.3 1125,1487.2 1126,1487.6 1127,1488.1 1128,1488 1129,1487.8 1130,1487.3 1131,1487.4 1132,1487 1133,1487.4 1134,1487.5 1135,1488.2 1136,1488.7 1137,1488.3 1138,1488.3 1139,1488.1 1140,1488.6 1141,1488.2 1142,1488.5 1143,1488.2 1144,1488.2 1145,1488 1146,1487.3 1147,1486.7 1148,1487.1 1149,1487.5 1150,1487.5 1151,1487.6 1152,1487.9 1153,1487.4 1154,1487.7 1155,1487.5 1156,1487.6 1157,1487.3 1158,1487 1159,1486.5 1160,1486.6 1161,1486.8 1162,1486.1 1163,1486.5 1164,1486.4 1165,1486.7 1166,1486.3 1167,1486.4 1168,1487 1169,1487.6 1170,1487.8 1171,1487.5 1172,1487.6 1173,1488.2 1174,1487.8 1175,1487.8 1176,1488.3 1177,1488.1 1178,1488.1 1179,1488.3 1180,1488.5 1181,1488.4 1182,1488.4 1183,1488 1184,1487.9 1185,1488.3 1186,1488.2 1187,1488.2 1188,1488.8 1189,1488.7 1190,1488.5 1191,1489 1192,1489.1 1193,1488.8 1194,1488.6 1195,1488.9 1196,1489.2 1197,1489.2 1198,1488.9 1199,1488.8 1200,1488.9 1201,1488.8 1202,1488.5 1203,1488 1204,1488.5 1205,1487.4 1206,1487.5 1207,1488.2 1208,1488.5 1209,1488.6 1210,1488.8 1211,1488.6 1212,1489.1 1213,1488.9 1214,1489.1 1215,1489.8 1216,1489.8 1217,1489.4 1218,1488.4 1219,1488.4 1220,1487.8 1221,1487.8 1222,1487.6 1223,1487.3 1224,1487.4 1225,1486.9 1226,1487 1227,1486.8 1228,1486.6 1229,1486.5 1230,1486.4 1231,1486.4 1232,1486.6 1233,1486.7 1234,1486.5 1235,1486.5 1236,1486.9 1237,1487.2 1238,1487.4 1239,1487.8 1240,1487.8 1241,1488.4 1242,1488.1 1243,1488.1 1244,1488.6 1245,1488.4 1246,1488.1 1247,1487.9 1248,1487.4 1249,1487.6 1250,1486.8 1251,1484 1252,1480.5 1253,1477 1254,1473.6 1255,1470.3 1256,1467.7 1257,1463.6 1258,1459.5 1259,1454.6 1260,1450.1 1261,1446.5 1262,1441.9 1263,1436.9 1264,1432.7 1265,1427.8 1266,1422.1 1267,1416.3 1268,1411.2 1269,1405.8 1270,1401.4 1271,1396.3 1272,1391 1273,1385.9 1274,1380.7 1275,1375.5 1276,1370.7 1277,1365.7 1278,1360.2 1279,1353.1 1280,1346 1281,1338.3 1282,1331.5 1283,1324.2 1284,1316.2 1285,1309.3 1286,1301.9 1287,1294.8 1288,1287.7 1289,1279.4 1290,1263.5 1291,1247.4 1292,1231.9 1293,1216 1294,1204.9 1295,1197.7 1296,1192.5 1297,1202.9 1298,1212.8 1299,1238.9 1300,1280 1301,1309.7 1302,1339.5 1303,1363.9 1304,1368.4 1305,1372.5 1306,1375.8 1307,1379.7 1308,1383.4 1309,1387.3 1310,1391.5 1311,1396.2 1312,1397.5 1313,1399.3 1314,1400.9 1315,1401.8 1316,1403.5 1317,1405.2 1318,1406.9 1319,1408.5 1320,1410.7 1321,1411.6 1322,1413 1323,1414.6 1324,1416.1 1325,1417.7 1326,1418.9 1327,1419.9 1328,1421.2 1329,1422.7 1330,1423.7 1331,1424.9 1332,1426.2 1333,1428.1 1334,1429.2 1335,1430.3 1336,1431.8 1337,1433 1338,1434.7 1339,1435.4 1340,1436.8 1341,1438.1 1342,1439.3 1343,1439.5 1344,1439.9 1345,1440.6 1346,1441.1 1347,1441.5 1348,1441.5 1349,1442.3 1350,1442.8 1351,1442.7 1352,1443.2 1353,1444.2 1354,1444.9 1355,1445 1356,1445.8 1357,1446.6 1358,1447.7 1359,1448.2 1360,1449.2 1361,1449.8 1362,1450.1 1363,1450.4 1364,1450.1 1365,1451.1 1366,1452.1 1367,1452.8 1368,1453.2 1369,1454.3 1370,1454.5 1371,1455 1372,1455.7 1373,1456.6 1374,1457.7 1375,1457.8 1376,1458.4 1377,1459.2 1378,1459.7 1379,1459.9 1380,1459.9 1381,1460.8 1382,1460.8 1383,1461 1384,1461.1 1385,1461.9 1386,1461.9 1387,1461.9 1388,1462.1 1389,1462.7 1390,1463.4 1391,1463.4 1392,1463.7 1393,1464.9 1394,1465.4 1395,1465.8 1396,1466.7 1397,1467 1398,1468 1399,1468.5 1400,1467.8 1401,1467.6 1402,1468.4 1403,1468.2 1404,1468 1405,1468.2 1406,1468 1407,1467.6 1408,1467.3 1409,1467.3 1410,1467.5 1411,1468.5 1412,1468.8 1413,1469.1 1414,1469.6 1415,1470.4 1416,1471.4 1417,1471.2 1418,1471.3 1419,1471.9 1420,1471.5 1421,1472.4 1422,1472.7 1423,1472.5 1424,1472.4 1425,1473.1 1426,1473.2 1427,1473.4 1428,1473.9 1429,1474.3 1430,1474.9 1431,1475.3 1432,1474.5 1433,1475.1 1434,1475.3 1435,1475.7 1436,1475.2 1437,1475.2 1438,1475.6 1439,1475.8 1440,1476.2 1441,1476.6 1442,1477.4 1443,1477.9 1444,1478.3 1445,1478.1 1446,1478.5 1447,1478.5 1448,1479 1449,1479.6 1450,1479.3 1451,1479.1 1452,1479.1 1453,1479.1 1454,1478 1455,1478.3 1456,1478.6 1457,1478.9 1458,1479.1 1459,1479.1 1460,1479.3 1461,1479.6 1462,1480.3 1463,1479.9 1464,1480.5 1465,1480.9 1466,1480.7 1467,1480.7 1468,1481 1469,1480.9 1470,1481 1471,1481.3 1472,1481.1 1473,1481.7 1474,1482.2 1475,1482.3 1476,1482.4 1477,1482.5 1478,1481.9 1479,1482.4 1480,1482.7 1481,1483.1 1482,1483.3 1483,1483.2 1484,1483.4 1485,1483.5 1486,1483 1487,1483.3 1488,1483.7 1489,1484.1 1490,1484.4 1491,1483.8 1492,1484.2 1493,1484.2 1494,1484.2 1495,1483.5 1496,1483.5 1497,1484.2 1498,1484.7 1499,1484.7 1500,1484.2 1501,1483.9 1502,1483.7 1503,1483.3 1504,1482.9 1505,1483.1 1506,1483.7 1507,1483.4 1508,1483.1 1509,1483 1510,1482.7 1511,1482.9 1512,1483.2 1513,1483.3 1514,1484.3 1515,1484.4 1516,1484.9 1517,1484.6 1518,1484.3 1519,1484.5 1520,1484.8 1521,1484.5 1522,1484.7 1523,1485.1 1524,1484.8 1525,1484.8 1526,1484.6 1527,1484.4 1528,1485 1529,1485 1530,1485.3 1531,1485.6 1532,1485.5 1533,1485.5 1534,1484.8 1535,1485 1536,1484.7 1537,1484.9 1538,1485.7 1539,1485.7 1540,1485.8 1541,1486.3 1542,1486.6 1543,1486.7 1544,1486.5 1545,1487.1 1546,1487.3 1547,1487 1548,1486.9 1549,1486.6 1550,1487.1 1551,1487 1552,1486.7 1553,1486.8 1554,1487 1555,1487.2 1556,1487.1 1557,1487.3 1558,1487.3 1559,1487.8 1560,1487.8 1561,1488 1562,1487.9 1563,1487.7 1564,1487.3 1565,1487.4 1566,1487.7 1567,1487.8 1568,1488 1569,1487.5 1570,1487.7 1571,1487.8 1572,1487.9 1573,1488.2 1574,1488.6 1575,1488.7 1576,1488.4 1577,1488.6 1578,1488.4 1579,1488.7 1580,1488.4 1581,1488.1 1582,1488 1583,1487.7 1584,1487.7 1585,1487.7" fill="none" stroke="#8b1212" stroke-width="4" stroke-linejoin="round" stroke-linecap="round" stroke-linecap="butt"/>
<line x1="1230" y1="1523.5" x2="1552" y2="1523.5" stroke="#e30b17" stroke-width="3"/>
<polygon points="906,1518.5 906.5,1519.6 907,1519.1 907.5,1518.5 908,1519 908.5,1519.5 909,1518.6 909.5,1518.9 910,1518.5 910.5,1519.1 911,1518.8 911.5,1519.6 912,1519.5 912.5,1520.7 913,1519.6 913.5,1519.3 914,1519.7 914.5,1520.4 915,1519.6 915.5,1520 916,1520.3 916.5,1520.3 917,1519.1 917.5,1518.8 918,1519.8 918.5,1519.4 919,1519.5 919.5,1519 920,1519.1 920.5,1519.3 921,1520 921.5,1519.7 922,1518.1 922.5,1517.9 923,1518.7 923.5,1518.7 924,1518.4 924.5,1518.6 925,1517.6 925.5,1519.1 926,1519.2 926.5,1518 927,1518 927.5,1519.1 928,1518.8 928.5,1519.8 929,1519.4 929.5,1519.5 930,1519.1 930.5,1519.4 931,1519.2 931.5,1519.5 932,1519.9 932.5,1519.6 933,1519 933.5,1519.6 934,1519.6 934.5,1519.5 935,1519.3 935.5,1518.6 936,1517.2 936.5,1517.4 937,1517.8 937.5,1517.5 938,1518.7 938.5,1517.6 939,1517.8 939.5,1517.2 940,1517.1 940.5,1517.8 941,1517.6 941.5,1515.7 942,1515.3 942.5,1515.8 943,1517.6 943.5,1517.7 944,1516.9 944.5,1516.9 945,1516.7 945.5,1516.6 946,1517.8 946.5,1517.4 947,1518 947.5,1517.7 948,1517.8 948.5,1517.7 949,1517.1 949.5,1516.2 950,1516.5 950.5,1517.8 951,1518.7 951.5,1518 952,1518.1 952.5,1519 953,1518.2 953.5,1518.3 954,1518.1 954.5,1518.9 955,1518.2 955.5,1517.2 956,1516.7 956.5,1517.1 957,1518.5 957.5,1518.3 958,1518.8 958.5,1518.7 959,1517.8 959.5,1517.6 960,1517.6 960.5,1517.6 961,1517.3 961.5,1517.8 962,1518.1 962.5,1518.8 963,1518.1 963.5,1518.2 964,1518.3 964.5,1518.1 965,1517.9 965.5,1518.2 966,1517.5 966.5,1518.4 967,1518.1 967.5,1518.8 968,1517.9 968.5,1517.8 969,1518.1 969.5,1517.5 970,1516.3 970.5,1516.7 971,1517.3 971.5,1519.9 972,1519.5 972.5,1518.4 973,1518.3 973.5,1519.2 974,1519.7 974.5,1519.6 975,1519.2 975.5,1519.4 976,1519.8 976.5,1519.9 977,1518.6 977.5,1518.7 978,1518.5 978.5,1518.6 979,1520 979.5,1520 980,1519.5 980.5,1520.5 981,1519.8 981.5,1520.1 982,1519 982.5,1517.8 983,1517.9 983.5,1516.7 984,1516.7 984.5,1517.1 985,1518.1 985.5,1517.5 986,1518.3 986.5,1518.3 987,1517.8 987.5,1518.6 988,1517.2 988.5,1517.3 989,1518.6 989.5,1518.4 990,1517.6 990.5,1519 991,1518.5 991.5,1518.8 992,1518.8 992.5,1519.8 993,1519 993.5,1518.6 994,1519.6 994.5,1519.9 995,1520 995.5,1519.1 996,1520.7 996.5,1519.5 997,1520.4 997.5,1519.8 998,1520.2 998.5,1519.8 999,1518.8 999.5,1517.7 1000,1516.8 1000.5,1517.9 1001,1518.1 1001.5,1517.5 1002,1517 1002.5,1517.4 1003,1518 1003.5,1517 1004,1517.2 1004.5,1517.6 1005,1516.6 1005.5,1516.4 1006,1516.3 1006.5,1516.7 1007,1516.2 1007.5,1516.7 1008,1517.1 1008.5,1516.8 1009,1517.5 1009.5,1518.1 1010,1517.7 1010.5,1518.5 1011,1518.1 1011.5,1517.7 1012,1518.1 1012.5,1518.3 1013,1517.4 1013.5,1516.8 1014,1514.8 1014.5,1512.6 1015,1509.5 1015.5,1505.1 1016,1501.5 1016.5,1493.7 1017,1485.4 1017.5,1475.6 1018,1465.3 1018.5,1453.4 1019,1441.8 1019.5,1430.8 1020,1421.5 1020.5,1416 1021,1413.8 1021.5,1416 1022,1421.6 1022.5,1430.2 1023,1441 1023.5,1452 1024,1463.8 1024.5,1475.4 1025,1485.4 1025.5,1495 1026,1501.9 1026.5,1506.2 1027,1510.5 1027.5,1513.7 1028,1515.1 1028.5,1516.4 1029,1517.2 1029.5,1517.4 1030,1517.9 1030.5,1517.4 1031,1517.9 1031.5,1518.1 1032,1516.7 1032.5,1517.2 1033,1517.8 1033.5,1518.2 1034,1517.5 1034.5,1517.3 1035,1516.7 1035.5,1517.9 1036,1517.7 1036.5,1516.2 1037,1517.2 1037.5,1516.6 1038,1517 1038.5,1516.9 1039,1518.1 1039.5,1517.3 1040,1517.9 1040.5,1517.9 1041,1517.1 1041.5,1517.5 1042,1518.4 1042.5,1518.1 1043,1517.3 1043.5,1516.9 1044,1518 1044.5,1516.4 1045,1515.9 1045.5,1517.6 1046,1516.5 1046.5,1516.9 1047,1517.5 1047.5,1517.6 1048,1517.4 1048.5,1517.2 1049,1517 1049.5,1517.8 1050,1517.1 1050.5,1517 1051,1518 1051.5,1518.7 1052,1517.7 1052.5,1518.2 1053,1518.7 1053.5,1518.9 1054,1517.9 1054.5,1518.6 1055,1517.3 1055.5,1517.7 1056,1516.9 1056.5,1516.6 1057,1517.3 1057.5,1517.5 1058,1518.2 1058.5,1518.4 1059,1518 1059.5,1518.1 1060,1517.9 1060.5,1516.6 1061,1516.7 1061.5,1517.1 1062,1518.6 1062.5,1517.6 1063,1518.3 1063.5,1517.5 1064,1518.3 1064.5,1517.2 1065,1518.2 1065.5,1517.9 1066,1517.4 1066.5,1517.2 1067,1517.3 1067.5,1517.7 1068,1516.4 1068.5,1517.3 1069,1517.5 1069.5,1517.8 1070,1517.9 1070.5,1517.9 1071,1517.1 1071.5,1517.1 1072,1517.1 1072.5,1516.7 1073,1516.9 1073.5,1517.4 1074,1517.9 1074.5,1518.2 1075,1518.2 1075.5,1517.5 1076,1517.7 1076.5,1517.8 1077,1518.3 1077.5,1517.5 1078,1517.8 1078.5,1518.4 1079,1518.7 1079.5,1517.8 1080,1518.6 1080.5,1518.7 1081,1516.6 1081.5,1516.1 1082,1517.3 1082.5,1519.1 1083,1520 1083.5,1518.9 1084,1519.4 1084.5,1520.1 1085,1519.8 1085.5,1519.1 1086,1519.3 1086.5,1519.3 1087,1519.9 1087.5,1519.5 1088,1519.1 1088.5,1518.3 1089,1517.5 1089.5,1517.9 1090,1517.3 1090.5,1518.3 1091,1518 1091.5,1518.1 1092,1518 1092.5,1518.3 1093,1518.7 1093.5,1518.6 1094,1517.3 1094.5,1518.5 1095,1518.3 1095.5,1518.8 1096,1518.6 1096.5,1518.2 1097,1517.5 1097.5,1518.4 1098,1518.2 1098.5,1518.3 1099,1518.7 1099.5,1518.9 1100,1518.2 1100.5,1518.1 1101,1518 1101.5,1518.8 1102,1519.4 1102.5,1518.6 1103,1517.9 1103.5,1519.4 1104,1518.8 1104.5,1519.5 1105,1519.2 1105.5,1518.8 1106,1518.6 1106.5,1518.1 1107,1517.8 1107.5,1518.5 1108,1518.7 1108.5,1518.1 1109,1519.3 1109.5,1518.8 1110,1517.4 1110.5,1517.6 1111,1518.5 1111.5,1517.1 1112,1517.3 1112.5,1517.8 1113,1517.8 1113.5,1517.2 1114,1517.8 1114.5,1517.2 1115,1517.5 1115.5,1519.1 1116,1518.2 1116.5,1518.8 1117,1519 1117.5,1518.8 1118,1518.5 1118.5,1518.4 1119,1518.9 1119.5,1518.4 1120,1519.7 1120.5,1519.3 1121,1519.2 1121.5,1520 1122,1520.1 1122.5,1520.4 1123,1520 1123.5,1519.6 1124,1518.9 1124.5,1519.4 1125,1519.9 1125.5,1519 1126,1518 1126.5,1518 1127,1519.1 1127.5,1519.6 1128,1518.3 1128.5,1518.7 1129,1518.9 1129.5,1519.6 1130,1519 1130.5,1517.9 1131,1518.8 1131.5,1518.1 1132,1517.4 1132.5,1517.4 1133,1517.2 1133.5,1517.5 1134,1517.2 1134.5,1517.7 1135,1518 1135.5,1517.3 1136,1518.6 1136.5,1518.8 1137,1518.9 1137.5,1518.3 1138,1518 1138.5,1518.3 1139,1518.6 1139.5,1518 1140,1519.5 1140.5,1518.9 1141,1519 1141.5,1518.7 1142,1519.6 1142.5,1518.7 1143,1518.4 1143.5,1518.8 1144,1519.2 1144.5,1519.8 1145,1519.8 1145.5,1520.2 1146,1518.5 1146.5,1518.1 1147,1518.6 1147.5,1517.6 1148,1517.7 1148.5,1517.5 1149,1518.7 1149.5,1518 1150,1517.2 1150.5,1517.6 1151,1517.6 1151.5,1516.7 1152,1516.9 1152.5,1518.6 1153,1518.3 1153.5,1518.5 1154,1518.8 1154.5,1518.7 1155,1518.4 1155.5,1518.3 1156,1519.2 1156.5,1518.7 1157,1519.5 1157.5,1520.6 1158,1519.9 1158.5,1520 1159,1519.4 1159.5,1519 1160,1520.4 1160.5,1519.9 1161,1519.1 1161.5,1518.4 1162,1518.1 1162.5,1518.1 1163,1519.2 1163.5,1518.6 1164,1517.8 1164.5,1517.6 1165,1518.6 1165.5,1518.9 1166,1517.8 1166.5,1517.4 1167,1517.4 1167.5,1518.3 1168,1516.9 1168.5,1518 1169,1518.1 1169.5,1518.3 1170,1518.4 1170.5,1518.2 1171,1517.9 1171.5,1517.4 1172,1518.6 1172.5,1517.9 1173,1518.2 1173.5,1517.3 1174,1517.5 1174.5,1517.5 1175,1517.5 1175.5,1517.8 1176,1518.5 1176.5,1517.6 1177,1518.4 1177.5,1516.8 1178,1516.6 1178.5,1516.2 1179,1517.2 1179.5,1518.3 1180,1518.1 1180.5,1518.1 1181,1517.8 1181.5,1518.1 1182,1518.5 1182.5,1518.9 1183,1518.4 1183.5,1518.1 1184,1517 1184.5,1516.1 1185,1517.2 1185.5,1518.5 1186,1518.7 1186.5,1518.3 1187,1519.4 1187.5,1519.1 1188,1519.2 1188.5,1518.3 1189,1518.8 1189.5,1518.9 1190,1518.9 1190.5,1519.3 1191,1519 1191.5,1518.4 1192,1518.4 1192.5,1518.8 1193,1519 1193.5,1519.4 1194,1519.7 1194.5,1518.6 1195,1519.5 1195.5,1518.6 1196,1518.6 1196.5,1518.3 1197,1518.9 1197.5,1518 1198,1518.9 1198.5,1519.7 1199,1520 1199.5,1519.7 1200,1519.7 1200.5,1519.1 1201,1519.6 1201.5,1519.3 1202,1520.1 1202.5,1519.1 1203,1519.7 1203.5,1519.6 1204,1518.5 1204.5,1518.5 1205,1518.4 1205.5,1518.5 1206,1518.6 1206.5,1518.3 1207,1519.4 1207.5,1517.9 1208,1519 1208.5,1517.3 1209,1518.2 1209.5,1518.7 1210,1518.1 1210.5,1518.7 1211,1519.2 1211.5,1519.2 1212,1518.5 1212.5,1518.5 1213,1518.5 1213.5,1518.3 1214,1518.3 1214.5,1517.3 1215,1517.7 1215.5,1517.2 1216,1516.1 1216.5,1515.9 1217,1516.8 1217.5,1517.5 1218,1517.4 1218.5,1518.3 1219,1518.8 1219.5,1519.2 1220,1519.2 1220.5,1519.2 1221,1519.1 1221.5,1518.5 1222,1519 1222.5,1518.7 1223,1519.3 1223.5,1519 1224,1519.6 1224.5,1518.7 1225,1519.7 1225.5,1519.5 1226,1519.6 1226.5,1519.3 1227,1519.6 1227.5,1518.5 1228,1518.5 1228.5,1518.8 1229,1519.1 1229.5,1514.2 1230,1512.1 1230.5,1508.5 1231,1504.8 1231.5,1501.6 1232,1498.6 1232.5,1486.6 1233,1475.3 1233.5,1464.3 1234,1454.3 1234.5,1437.2 1235,1389.1 1235.5,1340.2 1236,1304.2 1236.5,1268.1 1237,1231.6 1237.5,1217.2 1238,1216.5 1238.5,1215.6 1239,1214.9 1239.5,1213.8 1240,1213.4 1240.5,1229.4 1241,1245.5 1241.5,1261.6 1242,1281.2 1242.5,1300.7 1243,1320.1 1243.5,1339.1 1244,1358.6 1244.5,1362 1245,1356.1 1245.5,1350.1 1246,1344.3 1246.5,1337.9 1247,1331.8 1247.5,1326.7 1248,1321.5 1248.5,1316.8 1249,1311.4 1249.5,1306.4 1250,1301.7 1250.5,1300 1251,1298.4 1251.5,1296.4 1252,1294.6 1252.5,1300.1 1253,1305.1 1253.5,1310.9 1254,1316.2 1254.5,1319.6 1255,1323.1 1255.5,1326.3 1256,1329.5 1256.5,1332.8 1257,1337.5 1257.5,1344.3 1258,1351 1258.5,1357.5 1259,1363.8 1259.5,1370.6 1260,1377.4 1260.5,1383.4 1261,1390.3 1261.5,1395.2 1262,1400.2 1262.5,1405.8 1263,1410.7 1263.5,1415.8 1264,1420.9 1264.5,1426.1 1265,1431.6 1265.5,1436.6 1266,1442 1266.5,1446.7 1267,1451 1267.5,1455.3 1268,1459.1 1268.5,1462.6 1269,1467.2 1269.5,1471.4 1270,1475.6 1270.5,1480.3 1271,1484.9 1271.5,1488.8 1272,1494 1272.5,1495.6 1273,1496.7 1273.5,1498.1 1274,1499.4 1274.5,1499.9 1275,1500.3 1275.5,1501.2 1276,1502.5 1276.5,1504.4 1277,1505.4 1277.5,1505.3 1278,1506.8 1278.5,1507.4 1279,1507 1279.5,1507.9 1280,1509 1280.5,1511 1281,1511.8 1281.5,1512.6 1282,1512.6 1282.5,1512.2 1283,1512 1283.5,1512.8 1284,1513.4 1284.5,1514.4 1285,1514.5 1285.5,1513.7 1286,1515.1 1286.5,1514.5 1287,1515.7 1287.5,1515.9 1288,1516.6 1288.5,1516.1 1289,1516.7 1289.5,1516.7 1290,1517 1290.5,1517.4 1291,1517.1 1291.5,1517.3 1292,1518.2 1292.5,1519.4 1293,1518.6 1293.5,1519.2 1294,1520.6 1294.5,1520.3 1295,1520 1295.5,1519.7 1296,1520.1 1296.5,1518.8 1297,1518.6 1297.5,1518.9 1298,1519 1298.5,1518.9 1299,1519 1299.5,1520 1300,1519.3 1300.5,1519.8 1301,1519.7 1301.5,1519.4 1302,1518.9 1302.5,1518.5 1303,1519 1303.5,1518.1 1304,1518.2 1304.5,1518.6 1305,1517.8 1305.5,1518.4 1306,1518.1 1306.5,1517.6 1307,1518.3 1307.5,1518.1 1308,1516.9 1308.5,1517.6 1309,1518 1309.5,1518.6 1310,1518.4 1310.5,1517.6 1311,1518.1 1311.5,1518.1 1312,1517.8 1312.5,1517.3 1313,1518.6 1313.5,1518.6 1314,1518.4 1314.5,1517.6 1315,1517.7 1315.5,1517.1 1316,1518.2 1316.5,1516.7 1317,1517.2 1317.5,1518.1 1318,1517.9 1318.5,1517.7 1319,1517.3 1319.5,1517.5 1320,1517.3 1320.5,1517 1321,1517.3 1321.5,1517.9 1322,1518 1322.5,1517.7 1323,1518.6 1323.5,1518.2 1324,1518.8 1324.5,1518.7 1325,1517.2 1325.5,1516.7 1326,1515.1 1326.5,1515.1 1327,1513.5 1327.5,1515.3 1328,1515.7 1328.5,1516.8 1329,1518.8 1329.5,1517.8 1330,1517.8 1330.5,1517.7 1331,1518.3 1331.5,1518.9 1332,1517.7 1332.5,1518.2 1333,1518.5 1333.5,1518 1334,1518.7 1334.5,1518.3 1335,1519.1 1335.5,1519 1336,1518.1 1336.5,1517.5 1337,1516.7 1337.5,1517.5 1338,1516.8 1338.5,1517.4 1339,1517.7 1339.5,1517.7 1340,1517.4 1340.5,1517 1341,1518.3 1341.5,1517.7 1342,1518 1342.5,1517.5 1343,1517.1 1343.5,1517.7 1344,1517.5 1344.5,1517.8 1345,1518.5 1345.5,1517.5 1346,1517.5 1346.5,1517 1347,1516.2 1347.5,1516.6 1348,1517.8 1348.5,1517.5 1349,1516.8 1349.5,1517 1350,1517.5 1350.5,1517.7 1351,1519.2 1351.5,1518.7 1352,1518.7 1352.5,1517.9 1353,1517.6 1353.5,1518.5 1354,1518.3 1354.5,1518.5 1355,1517.2 1355.5,1517.1 1356,1517.8 1356.5,1518.3 1357,1518.9 1357.5,1517.9 1358,1517.7 1358.5,1518.1 1359,1518.6 1359.5,1517.7 1360,1518.1 1360.5,1517.9 1361,1517.5 1361.5,1518.2 1362,1518 1362.5,1518.4 1363,1518.4 1363.5,1517.8 1364,1518.7 1364.5,1518.6 1365,1518.3 1365.5,1517.8 1366,1517.4 1366.5,1516.9 1367,1517.5 1367.5,1517.1 1368,1516.9 1368.5,1517.9 1369,1518.6 1369.5,1518 1370,1518.1 1370.5,1518.7 1371,1518 1371.5,1517.8 1372,1516.6 1372.5,1516.5 1373,1514.9 1373.5,1516.2 1374,1516.8 1374.5,1517.1 1375,1519.1 1375.5,1518.7 1376,1519.4 1376.5,1519.1 1377,1518.3 1377.5,1518.9 1378,1518.4 1378.5,1519 1379,1518 1379.5,1518.3 1380,1518 1380.5,1517.2 1381,1518.3 1381.5,1518 1382,1517.5 1382.5,1517.9 1383,1517.8 1383.5,1517.9 1384,1517.6 1384.5,1518 1385,1517.3 1385.5,1517.6 1386,1517.4 1386.5,1517.9 1387,1518.3 1387.5,1518.9 1388,1519 1388.5,1519 1389,1518.3 1389.5,1518.8 1390,1517.9 1390.5,1517.8 1391,1518.1 1391.5,1519.1 1392,1518.6 1392.5,1518.3 1393,1517.9 1393.5,1519.1 1394,1518.6 1394.5,1518.3 1395,1518.3 1395.5,1517.9 1396,1519.5 1396.5,1518.7 1397,1517.5 1397.5,1517.2 1398,1517.6 1398.5,1516.9 1399,1517.5 1399.5,1517.3 1400,1517.3 1400.5,1517.3 1401,1516.5 1401.5,1516.6 1402,1517.1 1402.5,1518.2 1403,1518.4 1403.5,1517.3 1404,1517.6 1404.5,1518.5 1405,1517.2 1405.5,1518.3 1406,1517.9 1406.5,1516.8 1407,1518.4 1407.5,1517.6 1408,1518.2 1408.5,1518.1 1409,1518.7 1409.5,1518.8 1410,1519 1410.5,1518.6 1411,1518.3 1411.5,1517.7 1412,1517.4 1412.5,1517.1 1413,1516 1413.5,1516.7 1414,1518 1414.5,1518.1 1415,1517.8 1415.5,1517.8 1416,1518.2 1416.5,1517.4 1417,1518.4 1417.5,1518 1418,1517.2 1418.5,1516.8 1419,1515.7 1419.5,1515.6 1420,1514.1 1420.5,1514.9 1421,1516.4 1421.5,1517.9 1422,1517.2 1422.5,1517.8 1423,1517.8 1423.5,1518.4 1424,1517.9 1424.5,1517.7 1425,1516.6 1425.5,1515.6 1426,1514.7 1426.5,1514.5 1427,1515.7 1427.5,1515.9 1428,1514.8 1428.5,1516.4 1429,1517.1 1429.5,1517.9 1430,1517.8 1430.5,1518.1 1431,1517.6 1431.5,1517.8 1432,1518.3 1432.5,1518.1 1433,1518 1433.5,1516.8 1434,1517.3 1434.5,1516.5 1435,1517 1435.5,1517.7 1436,1516.6 1436.5,1517.6 1437,1517.4 1437.5,1516.9 1438,1517.2 1438.5,1517.8 1439,1519.1 1439.5,1518.6 1440,1517.1 1440.5,1518 1441,1518.2 1441.5,1518.2 1442,1517.7 1442.5,1518 1443,1516.8 1443.5,1517 1444,1516.3 1444.5,1516.5 1445,1517 1445.5,1517.1 1446,1518 1446.5,1517.9 1447,1517.6 1447.5,1517.7 1448,1517.3 1448.5,1518.3 1449,1518.4 1449.5,1517.1 1450,1518 1450.5,1518.4 1451,1518.5 1451.5,1517.9 1452,1516.7 1452.5,1518.2 1453,1517.6 1453.5,1518.2 1454,1518 1454.5,1517.7 1455,1518.3 1455.5,1518.2 1456,1519.2 1456.5,1517.5 1457,1518.8 1457.5,1517.9 1458,1519 1458.5,1518.1 1459,1517.7 1459.5,1518 1460,1518.7 1460.5,1517.2 1461,1517.2 1461.5,1517.9 1462,1518.3 1462.5,1517.5 1463,1516.8 1463.5,1517.6 1464,1517.2 1464.5,1517.5 1465,1516 1465.5,1516.9 1466,1515.1 1466.5,1516.8 1467,1516.5 1467.5,1516.1 1468,1516.1 1468.5,1517.4 1469,1517.2 1469.5,1517.6 1470,1517.8 1470.5,1516.4 1471,1517 1471.5,1516.7 1472,1517.8 1472.5,1517.2 1473,1517.1 1473.5,1518.4 1474,1518.1 1474.5,1518.1 1475,1517.8 1475.5,1517.1 1476,1517.5 1476.5,1517.3 1477,1518 1477.5,1517.7 1478,1517 1478.5,1517 1479,1517.7 1479.5,1517 1480,1516.8 1480.5,1517.3 1481,1517.1 1481.5,1517.2 1482,1517.7 1482.5,1518.1 1483,1518.1 1483.5,1517.4 1484,1517.5 1484.5,1518 1485,1519.1 1485.5,1518.2 1486,1518.2 1486.5,1518.9 1487,1517.7 1487.5,1518.2 1488,1518.4 1488.5,1519 1489,1518 1489.5,1519.6 1490,1518.9 1490.5,1519.1 1491,1520.1 1491.5,1520 1492,1518.9 1492.5,1518.5 1493,1517.2 1493.5,1517.7 1494,1518.4 1494.5,1518.5 1495,1517.1 1495.5,1518.1 1496,1518.1 1496.5,1518.8 1497,1518.5 1497.5,1517.9 1498,1518.3 1498.5,1518.3 1499,1517.9 1499.5,1518.4 1500,1518.7 1500.5,1518.3 1501,1517.4 1501.5,1517.5 1502,1517.2 1502.5,1517.1 1503,1517.9 1503.5,1518.1 1504,1517.9 1504.5,1517.3 1505,1516.1 1505.5,1515.6 1506,1516.6 1506.5,1518.1 1507,1518 1507.5,1518.8 1508,1517.8 1508.5,1518 1509,1517.6 1509.5,1517.5 1510,1517.5 1510.5,1516.5 1511,1515.6 1511.5,1516.1 1512,1516.3 1512.5,1516.3 1513,1517.6 1513.5,1517.8 1514,1518.5 1514.5,1518 1515,1517.4 1515.5,1518.6 1516,1518.1 1516.5,1517.7 1517,1517.5 1517.5,1518.4 1518,1518.5 1518.5,1518.1 1519,1519.6 1519.5,1518.3 1520,1517.8 1520.5,1517.9 1521,1518.7 1521.5,1517.5 1522,1518 1522.5,1518.7 1523,1518.4 1523.5,1519.4 1524,1519.4 1524.5,1519.1 1525,1519.8 1525.5,1519.4 1526,1518.9 1526.5,1519 1527,1519.4 1527.5,1519.9 1528,1519.5 1528.5,1519 1529,1519.5 1529.5,1518.1 1530,1518.6 1530.5,1519.1 1531,1519.3 1531.5,1519 1532,1519 1532.5,1518.5 1533,1519.4 1533.5,1518.8 1534,1519.9 1534.5,1519.3 1535,1519.6 1535.5,1518.1 1536,1519.1 1536.5,1519.2 1537,1519.2 1537.5,1518 1538,1519.4 1538.5,1518.7 1539,1518.4 1539.5,1518.8 1540,1518.8 1540.5,1519.1 1541,1519 1541.5,1518.6 1542,1518.8 1542.5,1519.1 1543,1519.4 1543.5,1518.9 1544,1519.1 1544.5,1520.4 1545,1520.3 1545.5,1520.1 1546,1520.2 1546.5,1519.9 1547,1519.6 1547.5,1519 1548,1519.8 1548.5,1519.6 1549,1520.5 1549.5,1519.6 1550,1519.8 1550.5,1519.9 1551,1519.9 1551.5,1519.9 1552,1518.9 1552,1527.1 1551.5,1528.2 1551,1527.3 1550.5,1528.1 1550,1528.2 1549.5,1527.9 1549,1528.9 1548.5,1528.9 1548,1528.7 1547.5,1528.4 1547,1528.3 1546.5,1527.4 1546,1527.5 1545.5,1528.4 1545,1528.4 1544.5,1528.2 1544,1527.2 1543.5,1527.5 1543,1527.8 1542.5,1528.3 1542,1528 1541.5,1527.9 1541,1527.6 1540.5,1528.3 1540,1527 1539.5,1527 1539,1527.1 1538.5,1527.5 1538,1526.5 1537.5,1526.8 1537,1527.5 1536.5,1527.2 1536,1528.2 1535.5,1527.1 1535,1527.1 1534.5,1527.2 1534,1527.5 1533.5,1527.3 1533,1527.6 1532.5,1528.4 1532,1526.8 1531.5,1528.1 1531,1527.3 1530.5,1526.8 1530,1527.9 1529.5,1527.6 1529,1528.5 1528.5,1528 1528,1527.8 1527.5,1527.9 1527,1527.5 1526.5,1527.9 1526,1527.9 1525.5,1527.4 1525,1528.3 1524.5,1527.9 1524,1529.1 1523.5,1527.4 1523,1528.3 1522.5,1527.4 1522,1526.4 1521.5,1527.2 1521,1526.9 1520.5,1526.6 1520,1527.1 1519.5,1527.5 1519,1527.5 1518.5,1526.5 1518,1526.6 1517.5,1527 1517,1526.2 1516.5,1526.3 1516,1526.2 1515.5,1526 1515,1525.6 1514.5,1526.6 1514,1526.1 1513.5,1526.2 1513,1527.1 1512.5,1527.1 1512,1526.6 1511.5,1527.1 1511,1526.5 1510.5,1526.2 1510,1526.6 1509.5,1527 1509,1526.9 1508.5,1526.4 1508,1527.5 1507.5,1526.5 1507,1526.1 1506.5,1527.2 1506,1526.9 1505.5,1526.9 1505,1527.2 1504.5,1526.8 1504,1526.7 1503.5,1526.9 1503,1525.6 1502.5,1526.5 1502,1526.3 1501.5,1525.9 1501,1527.2 1500.5,1526.6 1500,1527.7 1499.5,1526.4 1499,1526.6 1498.5,1526.3 1498,1527 1497.5,1525.9 1497,1526.5 1496.5,1527.7 1496,1527.7 1495.5,1527.8 1495,1526.9 1494.5,1527.7 1494,1528.4 1493.5,1528.8 1493,1527.5 1492.5,1528.9 1492,1528.7 1491.5,1529.5 1491,1529 1490.5,1528.4 1490,1528.1 1489.5,1526.8 1489,1526.8 1488.5,1527.4 1488,1527.6 1487.5,1527.4 1487,1527.1 1486.5,1526.7 1486,1526.7 1485.5,1527.1 1485,1526.6 1484.5,1526.6 1484,1527 1483.5,1526.5 1483,1525.6 1482.5,1526.3 1482,1525.9 1481.5,1526.3 1481,1525.3 1480.5,1525.6 1480,1525.4 1479.5,1525.2 1479,1526.7 1478.5,1527.6 1478,1528.2 1477.5,1527.6 1477,1527.7 1476.5,1526.9 1476,1525.8 1475.5,1525.5 1475,1525.5 1474.5,1526.8 1474,1526.2 1473.5,1526.7 1473,1526.1 1472.5,1526.1 1472,1525.9 1471.5,1526.1 1471,1525 1470.5,1525.5 1470,1525 1469.5,1525 1469,1525.2 1468.5,1525.6 1468,1525.8 1467.5,1526.2 1467,1525.8 1466.5,1525.1 1466,1524.9 1465.5,1526.2 1465,1526.2 1464.5,1526.2 1464,1525.6 1463.5,1525.4 1463,1525.5 1462.5,1526.7 1462,1526.1 1461.5,1525.9 1461,1526.1 1460.5,1526.4 1460,1526.8 1459.5,1526.1 1459,1526.9 1458.5,1527.1 1458,1527 1457.5,1527.1 1457,1527.4 1456.5,1527.1 1456,1526.6 1455.5,1527.6 1455,1526.5 1454.5,1526.9 1454,1526.9 1453.5,1527 1453,1526 1452.5,1526.8 1452,1526.7 1451.5,1526.8 1451,1527.2 1450.5,1527.1 1450,1526.9 1449.5,1525.6 1449,1526 1448.5,1527 1448,1526.5 1447.5,1526.8 1447,1526.8 1446.5,1526.9 1446,1526.3 1445.5,1526.4 1445,1525.9 1444.5,1526.6 1444,1526.7 1443.5,1526.3 1443,1526.8 1442.5,1525.8 1442,1527.1 1441.5,1527.1 1441,1525.7 1440.5,1525.1 1440,1526.4 1439.5,1527 1439,1527 1438.5,1526.8 1438,1525.7 1437.5,1525.9 1437,1526 1436.5,1525.4 1436,1526.1 1435.5,1525.1 1435,1525.4 1434.5,1526 1434,1525 1433.5,1524.8 1433,1525.1 1432.5,1526 1432,1527.1 1431.5,1525.9 1431,1526.7 1430.5,1526.6 1430,1526.8 1429.5,1527.2 1429,1526 1428.5,1525.9 1428,1526.3 1427.5,1527 1427,1526.8 1426.5,1526.2 1426,1527.3 1425.5,1527.2 1425,1526.1 1424.5,1526.5 1424,1527 1423.5,1526.1 1423,1527 1422.5,1526 1422,1526.7 1421.5,1526.5 1421,1526.7 1420.5,1525.1 1420,1525.8 1419.5,1525.4 1419,1525.2 1418.5,1525.5 1418,1526.6 1417.5,1525.7 1417,1525.8 1416.5,1525.9 1416,1525.9 1415.5,1526.6 1415,1526.3 1414.5,1526.7 1414,1526.5 1413.5,1527.8 1413,1527 1412.5,1526.8 1412,1527.8 1411.5,1526.7 1411,1527 1410.5,1527.4 1410,1526.4 1409.5,1526.3 1409,1526.8 1408.5,1527.2 1408,1527.2 1407.5,1525.9 1407,1526.2 1406.5,1526.3 1406,1526.4 1405.5,1525.7 1405,1526.2 1404.5,1526.1 1404,1526.7 1403.5,1526 1403,1526.9 1402.5,1526 1402,1526.4 1401.5,1526.1 1401,1526.6 1400.5,1525.4 1400,1526.1 1399.5,1525.5 1399,1525.9 1398.5,1526.3 1398,1526.6 1397.5,1526.8 1397,1526 1396.5,1527 1396,1528 1395.5,1527.4 1395,1527 1394.5,1526.8 1394,1526.8 1393.5,1527.5 1393,1527.4 1392.5,1527.1 1392,1526.3 1391.5,1527.4 1391,1527.4 1390.5,1526.8 1390,1527.3 1389.5,1526.9 1389,1526.9 1388.5,1527.2 1388,1527 1387.5,1526.2 1387,1527.1 1386.5,1526.4 1386,1527 1385.5,1526.7 1385,1526 1384.5,1525.9 1384,1526.4 1383.5,1526.2 1383,1526.4 1382.5,1526.9 1382,1526.8 1381.5,1525.6 1381,1526.6 1380.5,1525.5 1380,1526.6 1379.5,1526.9 1379,1527 1378.5,1526.7 1378,1527.2 1377.5,1527.2 1377,1527.2 1376.5,1527.1 1376,1527.3 1375.5,1527 1375,1527.2 1374.5,1527.8 1374,1526.7 1373.5,1527.2 1373,1527 1372.5,1527.6 1372,1527.2 1371.5,1528 1371,1526.9 1370.5,1527.2 1370,1527.1 1369.5,1527.1 1369,1527.5 1368.5,1526.8 1368,1526.1 1367.5,1525.8 1367,1525.5 1366.5,1526.4 1366,1525.8 1365.5,1525.5 1365,1526.6 1364.5,1526.5 1364,1527 1363.5,1526.1 1363,1526.4 1362.5,1527.1 1362,1526 1361.5,1526.4 1361,1527.4 1360.5,1525.8 1360,1525.9 1359.5,1526.2 1359,1526.3 1358.5,1526.3 1358,1527 1357.5,1526.5 1357,1527.5 1356.5,1526.6 1356,1526.9 1355.5,1526.3 1355,1526.1 1354.5,1526.5 1354,1526.7 1353.5,1527.5 1353,1527.4 1352.5,1527.1 1352,1526.7 1351.5,1527.2 1351,1527.3 1350.5,1526.5 1350,1527.8 1349.5,1527.1 1349,1527.5 1348.5,1527 1348,1527.7 1347.5,1527 1347,1526.9 1346.5,1526.1 1346,1525.6 1345.5,1526.6 1345,1526.7 1344.5,1525.7 1344,1525.5 1343.5,1526.2 1343,1525.4 1342.5,1526.3 1342,1526.8 1341.5,1526.3 1341,1525.8 1340.5,1526.2 1340,1526 1339.5,1525.4 1339,1525.7 1338.5,1526.7 1338,1525.9 1337.5,1525.9 1337,1526.4 1336.5,1527.1 1336,1526.8 1335.5,1526.8 1335,1526.9 1334.5,1526.6 1334,1527.3 1333.5,1526.8 1333,1526.4 1332.5,1526.1 1332,1526.5 1331.5,1526.9 1331,1526.3 1330.5,1527.3 1330,1526.2 1329.5,1526.6 1329,1526.7 1328.5,1527.3 1328,1527.1 1327.5,1527.4 1327,1527.2 1326.5,1528.6 1326,1528.5 1325.5,1528.7 1325,1528.2 1324.5,1528.7 1324,1527.7 1323.5,1527.6 1323,1526.3 1322.5,1526.1 1322,1526.2 1321.5,1525.5 1321,1525.5 1320.5,1525.7 1320,1526.9 1319.5,1525.9 1319,1526.6 1318.5,1525.6 1318,1525.6 1317.5,1525.5 1317,1526 1316.5,1526.1 1316,1526.7 1315.5,1526.3 1315,1526.8 1314.5,1526.2 1314,1526.1 1313.5,1525.8 1313,1527.7 1312.5,1526.3 1312,1526.7 1311.5,1527.6 1311,1526.7 1310.5,1526.7 1310,1526.5 1309.5,1526.3 1309,1525.6 1308.5,1526.8 1308,1526.1 1307.5,1527.1 1307,1526.1 1306.5,1527.3 1306,1526.6 1305.5,1526.7 1305,1526.6 1304.5,1526.8 1304,1527.2 1303.5,1526.1 1303,1527.6 1302.5,1526.2 1302,1527.4 1301.5,1527.1 1301,1528 1300.5,1527.7 1300,1527.3 1299.5,1527.3 1299,1527.8 1298.5,1527.6 1298,1527.9 1297.5,1528 1297,1527.4 1296.5,1528.2 1296,1527.7 1295.5,1528.5 1295,1527.7 1294.5,1528.4 1294,1528.2 1293.5,1528.6 1293,1527.3 1292.5,1528.1 1292,1526.9 1291.5,1526.2 1291,1525.2 1290.5,1525.2 1290,1525.4 1289.5,1525.2 1289,1524.6 1288.5,1524 1288,1524.9 1287.5,1523.7 1287,1523.4 1286.5,1524 1286,1522.4 1285.5,1522.5 1285,1523.1 1284.5,1523.2 1284,1522.5 1283.5,1522.6 1283,1521.6 1282.5,1521.9 1282,1521.8 1281.5,1521.1 1281,1520.8 1280.5,1519.5 1280,1520.3 1279.5,1519.5 1279,1518.5 1278.5,1516.4 1278,1516.2 1277.5,1515.1 1277,1513.8 1276.5,1512.1 1276,1511.3 1275.5,1510 1275,1509.5 1274.5,1508.4 1274,1508.2 1273.5,1506.7 1273,1505 1272.5,1504.7 1272,1502.1 1271.5,1497.3 1271,1493.2 1270.5,1487.7 1270,1483.1 1269.5,1478.6 1269,1473.9 1268.5,1468.9 1268,1464.7 1267.5,1460 1267,1455.1 1266.5,1449.9 1266,1444.7 1265.5,1439 1265,1433.9 1264.5,1428.3 1264,1423 1263.5,1417.7 1263,1412.7 1262.5,1407.8 1262,1402.4 1261.5,1397.6 1261,1392.2 1260.5,1385.7 1260,1379.5 1259.5,1373 1259,1366.1 1258.5,1359.7 1258,1353.2 1257.5,1346.4 1257,1339.5 1256.5,1334.7 1256,1331.7 1255.5,1328.2 1255,1325.3 1254.5,1321.7 1254,1318.1 1253.5,1313 1253,1307.7 1252.5,1302.8 1252,1297.5 1251.5,1299.2 1251,1301 1250.5,1302.7 1250,1304.2 1249.5,1308.9 1249,1313.6 1248.5,1318.8 1248,1323.9 1247.5,1328.9 1247,1333.9 1246.5,1339.8 1246,1346.3 1245.5,1352.1 1245,1358.3 1244.5,1364.1 1244,1360.4 1243.5,1341.2 1243,1322.2 1242.5,1303.3 1242,1283.4 1241.5,1264.1 1241,1247.9 1240.5,1232.2 1240,1216.1 1239.5,1216.4 1239,1217.3 1238.5,1217.9 1238,1218.7 1237.5,1219.2 1237,1234 1236.5,1270 1236,1306.2 1235.5,1342.7 1235,1391.4 1234.5,1439.4 1234,1459.7 1233.5,1472 1233,1483.7 1232.5,1495 1232,1507.3 1231.5,1510.9 1231,1513.3 1230.5,1517.5 1230,1521.4 1229.5,1524 1229,1526.8 1228.5,1527.9 1228,1527.2 1227.5,1528.1 1227,1527.5 1226.5,1527.8 1226,1528.3 1225.5,1528.4 1225,1527.1 1224.5,1527.2 1224,1527.4 1223.5,1527.6 1223,1527.9 1222.5,1527.9 1222,1527.1 1221.5,1527.4 1221,1526.8 1220.5,1527.4 1220,1527.7 1219.5,1527.9 1219,1528.2 1218.5,1527.6 1218,1528.1 1217.5,1527.6 1217,1528.1 1216.5,1526.8 1216,1527.4 1215.5,1527.8 1215,1526.8 1214.5,1526.9 1214,1526.3 1213.5,1526.9 1213,1526.7 1212.5,1527.6 1212,1527.8 1211.5,1527.8 1211,1528.2 1210.5,1528.4 1210,1528.2 1209.5,1527.2 1209,1527.9 1208.5,1528.4 1208,1528.7 1207.5,1529.8 1207,1529.9 1206.5,1528 1206,1527.7 1205.5,1526.9 1205,1528.2 1204.5,1527.8 1204,1528 1203.5,1528.3 1203,1527.9 1202.5,1528.2 1202,1527.7 1201.5,1528.9 1201,1529.4 1200.5,1530.5 1200,1531.1 1199.5,1532.7 1199,1531.5 1198.5,1530.1 1198,1529.1 1197.5,1527.6 1197,1526.7 1196.5,1527.1 1196,1526.6 1195.5,1526.7 1195,1527.3 1194.5,1526.8 1194,1528.1 1193.5,1527.6 1193,1528.2 1192.5,1528.2 1192,1527.4 1191.5,1526.4 1191,1527.2 1190.5,1527.6 1190,1527.4 1189.5,1527.5 1189,1526.7 1188.5,1527.1 1188,1527.8 1187.5,1527.1 1187,1527.1 1186.5,1527.6 1186,1527.6 1185.5,1527 1185,1527.5 1184.5,1526.9 1184,1527 1183.5,1527.2 1183,1528 1182.5,1527.4 1182,1526.5 1181.5,1526.7 1181,1527.2 1180.5,1527.6 1180,1528.1 1179.5,1527.9 1179,1527.9 1178.5,1527.2 1178,1526.7 1177.5,1526.4 1177,1526.3 1176.5,1525.9 1176,1527.3 1175.5,1528 1175,1527 1174.5,1528.9 1174,1527.6 1173.5,1527.4 1173,1527.6 1172.5,1527.3 1172,1527.2 1171.5,1526.2 1171,1526 1170.5,1525.8 1170,1526.7 1169.5,1526.9 1169,1527.2 1168.5,1526.4 1168,1525.9 1167.5,1526.1 1167,1526.8 1166.5,1526.6 1166,1527.4 1165.5,1527.2 1165,1525.9 1164.5,1526.8 1164,1525.9 1163.5,1526.7 1163,1526.8 1162.5,1527.2 1162,1527.3 1161.5,1527.1 1161,1527.9 1160.5,1528.9 1160,1528.1 1159.5,1527.5 1159,1528.5 1158.5,1528.9 1158,1527.6 1157.5,1528.5 1157,1528.5 1156.5,1528.4 1156,1528 1155.5,1527.1 1155,1527.5 1154.5,1526.6 1154,1528.5 1153.5,1527.6 1153,1528 1152.5,1527.2 1152,1526.9 1151.5,1527.2 1151,1526.3 1150.5,1525.9 1150,1526 1149.5,1525.9 1149,1526.4 1148.5,1526.4 1148,1526 1147.5,1526.6 1147,1526.8 1146.5,1527.8 1146,1527.5 1145.5,1528.4 1145,1529.2 1144.5,1528.3 1144,1527.5 1143.5,1528.2 1143,1527.5 1142.5,1527.3 1142,1528.5 1141.5,1527.4 1141,1526.9 1140.5,1527 1140,1526.8 1139.5,1527.8 1139,1526.5 1138.5,1527.6 1138,1526.1 1137.5,1526.9 1137,1528 1136.5,1526.7 1136,1526.2 1135.5,1527.2 1135,1526 1134.5,1526.7 1134,1527.6 1133.5,1527.6 1133,1527.9 1132.5,1528.8 1132,1528.7 1131.5,1528.5 1131,1528.3 1130.5,1528 1130,1526.9 1129.5,1527.2 1129,1528.3 1128.5,1528.2 1128,1527.4 1127.5,1527.6 1127,1527.3 1126.5,1527.4 1126,1527.8 1125.5,1528.3 1125,1528.5 1124.5,1528.4 1124,1528.2 1123.5,1527.6 1123,1528.3 1122.5,1528.8 1122,1528.6 1121.5,1527.8 1121,1527.8 1120.5,1527.9 1120,1527.6 1119.5,1527.2 1119,1526.6 1118.5,1526.8 1118,1527.5 1117.5,1527.4 1117,1527.8 1116.5,1526.4 1116,1526.9 1115.5,1526.5 1115,1526.9 1114.5,1525.6 1114,1526.2 1113.5,1526.8 1113,1525.9 1112.5,1527.2 1112,1526.9 1111.5,1526 1111,1526.3 1110.5,1527.3 1110,1526.3 1109.5,1527.1 1109,1527.9 1108.5,1527.7 1108,1527.7 1107.5,1526.7 1107,1527.2 1106.5,1526.1 1106,1526.2 1105.5,1527.1 1105,1527.6 1104.5,1527.7 1104,1527.1 1103.5,1528.2 1103,1527.2 1102.5,1528 1102,1528.1 1101.5,1527.5 1101,1527.6 1100.5,1526.9 1100,1527.3 1099.5,1526.7 1099,1526.9 1098.5,1527 1098,1527.2 1097.5,1526.2 1097,1526.1 1096.5,1527.1 1096,1527 1095.5,1526.7 1095,1526.7 1094.5,1526.8 1094,1526.7 1093.5,1526 1093,1526.9 1092.5,1526.9 1092,1526.3 1091.5,1526.9 1091,1526 1090.5,1526.5 1090,1526.3 1089.5,1526 1089,1527.1 1088.5,1526.7 1088,1527.8 1087.5,1527.6 1087,1528.4 1086.5,1527.4 1086,1527.8 1085.5,1526.9 1085,1527.1 1084.5,1527.8 1084,1528.4 1083.5,1527.7 1083,1527.9 1082.5,1527.9 1082,1528.9 1081.5,1527.4 1081,1527.3 1080.5,1527.1 1080,1526.8 1079.5,1528 1079,1528 1078.5,1527.4 1078,1527.5 1077.5,1527.9 1077,1526.7 1076.5,1526 1076,1526.1 1075.5,1526.1 1075,1526 1074.5,1527.1 1074,1526.3 1073.5,1525.8 1073,1525.9 1072.5,1526.3 1072,1525.4 1071.5,1526.1 1071,1526.1 1070.5,1526.3 1070,1526.5 1069.5,1526.5 1069,1526.3 1068.5,1525.5 1068,1524.8 1067.5,1526.1 1067,1526.5 1066.5,1527 1066,1525.7 1065.5,1525.7 1065,1526.7 1064.5,1525.8 1064,1526.3 1063.5,1525.2 1063,1526 1062.5,1525.7 1062,1526.6 1061.5,1526.5 1061,1526 1060.5,1525.9 1060,1525.6 1059.5,1525.6 1059,1526.7 1058.5,1526.7 1058,1526.9 1057.5,1527.4 1057,1526.8 1056.5,1526.9 1056,1526.6 1055.5,1526.9 1055,1526.9 1054.5,1526.1 1054,1526 1053.5,1526.3 1053,1526.3 1052.5,1527.1 1052,1526 1051.5,1526.1 1051,1527.2 1050.5,1527.2 1050,1527 1049.5,1527.2 1049,1526.8 1048.5,1526.1 1048,1526 1047.5,1526.3 1047,1526.2 1046.5,1525.7 1046,1525.3 1045.5,1525.1 1045,1525.5 1044.5,1526.3 1044,1525.7 1043.5,1525.9 1043,1525.5 1042.5,1526.1 1042,1525.7 1041.5,1525.3 1041,1526.4 1040.5,1525.9 1040,1525.9 1039.5,1526.4 1039,1526.1 1038.5,1526.7 1038,1526.5 1037.5,1525.1 1037,1526.1 1036.5,1526.2 1036,1526 1035.5,1526.9 1035,1526.6 1034.5,1526.8 1034,1527.2 1033.5,1526.3 1033,1526.1 1032.5,1526.8 1032,1527.1 1031.5,1527.3 1031,1527.5 1030.5,1527.7 1030,1525.7 1029.5,1525.5 1029,1525.8 1028.5,1524.7 1028,1522.9 1027.5,1522.2 1027,1518.6 1026.5,1516 1026,1510.3 1025.5,1503.3 1025,1494.6 1024.5,1483.2 1024,1470.9 1023.5,1456.7 1023,1443.9 1022.5,1432.3 1022,1423.9 1021.5,1418.3 1021,1415.9 1020.5,1418.3 1020,1423.9 1019.5,1433.1 1019,1444.7 1018.5,1457.6 1018,1470.7 1017.5,1483.9 1017,1494.9 1016.5,1503.6 1016,1510.8 1015.5,1516 1015,1519.8 1014.5,1522.4 1014,1523.8 1013.5,1525.6 1013,1526.1 1012.5,1527.3 1012,1527 1011.5,1525.9 1011,1526.8 1010.5,1527 1010,1526.4 1009.5,1526.5 1009,1525.3 1008.5,1524.7 1008,1525.2 1007.5,1525.7 1007,1524.7 1006.5,1524.1 1006,1525.3 1005.5,1525.9 1005,1526.1 1004.5,1526.1 1004,1525.1 1003.5,1525.4 1003,1526.4 1002.5,1526.1 1002,1526.1 1001.5,1526.6 1001,1526.8 1000.5,1526.2 1000,1526.5 999.5,1527.1 999,1528.1 998.5,1528.9 998,1527.9 997.5,1528 997,1528.5 996.5,1528.4 996,1527.8 995.5,1527.7 995,1527.4 994.5,1528.7 994,1527.3 993.5,1527.4 993,1528.3 992.5,1527 992,1527.8 991.5,1527.1 991,1526.6 990.5,1527.1 990,1526.8 989.5,1526.6 989,1527.5 988.5,1527.4 988,1527.5 987.5,1527.2 987,1528.7 986.5,1528.3 986,1527.7 985.5,1527.2 985,1526.4 984.5,1527.2 984,1526 983.5,1527.8 983,1526.6 982.5,1527 982,1526.9 981.5,1527.8 981,1528.6 980.5,1529.4 980,1528.9 979.5,1527.8 979,1528.4 978.5,1527.7 978,1527.4 977.5,1527.6 977,1527.5 976.5,1528.2 976,1528.1 975.5,1527.6 975,1527.4 974.5,1527.6 974,1527.2 973.5,1527.1 973,1527.8 972.5,1527.6 972,1528.3 971.5,1528.2 971,1527.6 970.5,1526.7 970,1527 969.5,1527 969,1528.5 968.5,1528.5 968,1529.7 967.5,1530.4 967,1530.5 966.5,1529.4 966,1528.3 965.5,1527.6 965,1527.3 964.5,1526.7 964,1527.6 963.5,1528 963,1526.6 962.5,1527.2 962,1526.2 961.5,1525.8 961,1526.2 960.5,1526.5 960,1526.8 959.5,1527.1 959,1527.1 958.5,1527.4 958,1527.1 957.5,1527.4 957,1526.6 956.5,1527.8 956,1527.6 955.5,1527.6 955,1526.7 954.5,1527.2 954,1527.2 953.5,1527.1 953,1526.6 952.5,1527.8 952,1526.8 951.5,1526.9 951,1527.8 950.5,1526.3 950,1526.3 949.5,1526.7 949,1526.8 948.5,1527.8 948,1526 947.5,1527 947,1526.3 946.5,1525.9 946,1526.2 945.5,1525.4 945,1525.7 944.5,1525.4 944,1526 943.5,1525.9 943,1526.9 942.5,1525.7 942,1526.3 941.5,1526 941,1526 940.5,1525.8 940,1526.7 939.5,1526.6 939,1526.8 938.5,1526.4 938,1526.4 937.5,1526.4 937,1527 936.5,1526.9 936,1526.7 935.5,1526.9 935,1527.5 934.5,1528.3 934,1527.7 933.5,1527.5 933,1527.8 932.5,1527.3 932,1528 931.5,1527.6 931,1527.3 930.5,1527.8 930,1526.9 929.5,1527.7 929,1527.3 928.5,1527.8 928,1527.9 927.5,1527.4 927,1526.8 926.5,1526.5 926,1527.4 925.5,1527.2 925,1527.3 924.5,1526.2 924,1527.2 923.5,1527.2 923,1526.6 922.5,1527.5 922,1527.2 921.5,1527.8 921,1527.6 920.5,1527.9 920,1527.7 919.5,1528.2 919,1527.7 918.5,1528.6 918,1527.4 917.5,1528.9 917,1528.7 916.5,1528.9 916,1528.2 915.5,1528.7 915,1528.5 914.5,1528.4 914,1528.5 913.5,1528.3 913,1528.2 912.5,1527.9 912,1529 911.5,1526.9 911,1528.4 910.5,1527.3 910,1527.2 909.5,1527.7 909,1527.9 908.5,1527 908,1528.2 907.5,1527.6 907,1527.6 906.5,1527.1 906,1527.8" fill="#e30b17" stroke="none" stroke-width="0"/>
<polyline points="906,1523.3 907,1523.2 908,1523.4 909,1523.3 910,1523.2 911,1523.4 912,1524.1 913,1524.2 914,1524 915,1523.6 916,1523.9 917,1523.8 918,1523.6 919,1523.9 920,1524 921,1523.6 922,1523.1 923,1522.6 924,1522.4 925,1522.4 926,1522.8 927,1522.7 928,1523.2 929,1523.2 930,1523.4 931,1523.3 932,1523.6 933,1523.7 934,1523.8 935,1523.3 936,1522.5 937,1522.7 938,1522.3 939,1522.2 940,1521.8 941,1522 942,1521.3 943,1521.9 944,1521.3 945,1521.4 946,1522 947,1522.5 948,1522.3 949,1522.3 950,1522.2 951,1522.6 952,1522.7 953,1522.6 954,1522.8 955,1522.8 956,1523.1 957,1522.9 958,1522.9 959,1522.3 960,1522.6 961,1522.4 962,1522.4 963,1522.8 964,1523.2 965,1522.8 966,1522.5 967,1522.9 968,1522.9 969,1522.9 970,1523.2 971,1522.9 972,1523.4 973,1523.1 974,1523.3 975,1523.3 976,1523.5 977,1523.4 978,1523.2 979,1523.8 980,1523.8 981,1524.4 982,1523.2 983,1522.9 984,1522.5 985,1522.2 986,1522.4 987,1522.6 988,1522.3 989,1522.7 990,1522.6 991,1522.5 992,1523.3 993,1523.3 994,1523.4 995,1523.7 996,1524.3 997,1524 998,1524.1 999,1523.6 1000,1522.6 1001,1522.2 1002,1521.4 1003,1521.5 1004,1521.5 1005,1521.5 1006,1521.1 1007,1520.6 1008,1520.9 1009,1521 1010,1521.8 1011,1521.9 1012,1522.2 1013,1522.3 1014,1519.9 1015,1515.4 1016,1506.3 1017,1490.4 1018,1468.1 1019,1443.1 1020,1422.7 1021,1414.9 1022,1422.7 1023,1442.2 1024,1467.1 1025,1489.6 1026,1505.9 1027,1515.1 1028,1519.3 1029,1520.7 1030,1521.4 1031,1522.1 1032,1521.5 1033,1522.2 1034,1521.7 1035,1521.6 1036,1521.7 1037,1521.5 1038,1521.8 1039,1521.9 1040,1521.9 1041,1521.6 1042,1522.1 1043,1521.8 1044,1521.5 1045,1521 1046,1521.5 1047,1521.6 1048,1522.1 1049,1522.4 1050,1522.7 1051,1522.4 1052,1522.3 1053,1522.7 1054,1522.4 1055,1522.5 1056,1522.5 1057,1522.6 1058,1522.6 1059,1521.8 1060,1521.7 1061,1521.7 1062,1522.2 1063,1522 1064,1522 1065,1522.5 1066,1522 1067,1521.6 1068,1521.3 1069,1521.6 1070,1521.5 1071,1521.7 1072,1521.5 1073,1521.8 1074,1522.4 1075,1522.5 1076,1522.4 1077,1522.5 1078,1523.2 1079,1523.3 1080,1523.3 1081,1523.4 1082,1523.9 1083,1523.9 1084,1524 1085,1523.5 1086,1523.3 1087,1523.9 1088,1523.3 1089,1522.7 1090,1522.6 1091,1522.4 1092,1522.2 1093,1522.4 1094,1522.1 1095,1522.1 1096,1522.7 1097,1522.5 1098,1522.3 1099,1522.8 1100,1522.9 1101,1523 1102,1523.2 1103,1522.9 1104,1523.3 1105,1522.7 1106,1522.4 1107,1522.5 1108,1522.9 1109,1522.9 1110,1522.3 1111,1522.3 1112,1522.1 1113,1522 1114,1521.7 1115,1522.1 1116,1522.9 1117,1523.1 1118,1523.3 1119,1522.9 1120,1523.5 1121,1523.5 1122,1524 1123,1524.2 1124,1523.7 1125,1523.9 1126,1523 1127,1523.1 1128,1523.1 1129,1523.4 1130,1523 1131,1522.7 1132,1522.3 1133,1521.8 1134,1521.9 1135,1521.7 1136,1522.6 1137,1523.2 1138,1522.5 1139,1522.8 1140,1523.3 1141,1522.7 1142,1523.1 1143,1523.4 1144,1523.9 1145,1524.2 1146,1523.2 1147,1522.7 1148,1522.3 1149,1522.3 1150,1522 1151,1522.8 1152,1522.8 1153,1523.3 1154,1523.5 1155,1522.8 1156,1523.2 1157,1523.9 1158,1524 1159,1523.9 1160,1524.1 1161,1523.6 1162,1523 1163,1523.1 1164,1522 1165,1522.3 1166,1522.4 1167,1522.2 1168,1521.9 1169,1522.2 1170,1522.3 1171,1522.3 1172,1522.5 1173,1522.5 1174,1522.8 1175,1522.9 1176,1522.5 1177,1522.2 1178,1522 1179,1522.5 1180,1522.5 1181,1522.8 1182,1522.8 1183,1523 1184,1523.1 1185,1522.7 1186,1523.1 1187,1523.6 1188,1523.4 1189,1523.2 1190,1522.8 1191,1522.7 1192,1522.8 1193,1523.6 1194,1523.3 1195,1523.1 1196,1523.1 1197,1522.9 1198,1523.6 1199,1524 1200,1523.8 1201,1523.9 1202,1524.2 1203,1523.7 1204,1523.3 1205,1523.3 1206,1523.4 1207,1523 1208,1522.7 1209,1522.3 1210,1522.4 1211,1523 1212,1523 1213,1522.6 1214,1522.7 1215,1522.9 1216,1522.8 1217,1523.3 1218,1523.5 1219,1523.9 1220,1524 1221,1523 1222,1522.9 1223,1523.2 1224,1523.2 1225,1523.4 1226,1523.6 1227,1523.2 1228,1523.3 1229,1522.9 1230,1515.7 1231,1508.8 1232,1502.1 1233,1479.7 1234,1457.4 1235,1390.2 1236,1305.2 1237,1232.9 1238,1217.6 1239,1215.9 1240,1214.5 1241,1246.5 1242,1282.2 1243,1321 1244,1359.5 1245,1357.3 1246,1345.3 1247,1332.7 1248,1322.7 1249,1312.6 1250,1303 1251,1300.1 1252,1296.4 1253,1306.7 1254,1317.1 1255,1324.1 1256,1330.7 1257,1338.6 1258,1352 1259,1364.9 1260,1378.4 1261,1391.3 1262,1401.4 1263,1411.7 1264,1421.9 1265,1432.8 1266,1443.3 1267,1453.1 1268,1461.7 1269,1470.4 1270,1479.6 1271,1489 1272,1497.7 1273,1501 1274,1503.2 1275,1505 1276,1507.5 1277,1509.5 1278,1511.3 1279,1513.6 1280,1515.6 1281,1516.4 1282,1516.6 1283,1516.9 1284,1517.6 1285,1518.8 1286,1518.9 1287,1519.3 1288,1520.2 1289,1520.3 1290,1520.9 1291,1521.7 1292,1522.8 1293,1523.5 1294,1524.2 1295,1523.9 1296,1524.1 1297,1523.4 1298,1523.7 1299,1523.7 1300,1523.4 1301,1523.5 1302,1523.3 1303,1522.7 1304,1522.3 1305,1522.1 1306,1522.6 1307,1522.4 1308,1521.8 1309,1522 1310,1522.6 1311,1522.7 1312,1522.6 1313,1522.8 1314,1522.2 1315,1522.2 1316,1521.9 1317,1521.7 1318,1522 1319,1522.1 1320,1521.9 1321,1521.9 1322,1522 1323,1522.4 1324,1522.3 1325,1522.2 1326,1522.3 1327,1522.2 1328,1522.5 1329,1522.7 1330,1522.5 1331,1522.3 1332,1522.4 1333,1522.6 1334,1522.9 1335,1522.8 1336,1522.9 1337,1522.1 1338,1521.7 1339,1521.8 1340,1521.5 1341,1522.1 1342,1522.2 1343,1521.9 1344,1521.7 1345,1522.2 1346,1521.9 1347,1522 1348,1522.9 1349,1522.6 1350,1522.9 1351,1522.9 1352,1522.3 1353,1522.6 1354,1522.5 1355,1521.9 1356,1522.3 1357,1522.8 1358,1522.1 1359,1522.3 1360,1522 1361,1522.1 1362,1522.1 1363,1522.4 1364,1522.5 1365,1522 1366,1521.7 1367,1521.4 1368,1521.9 1369,1522.7 1370,1522.9 1371,1523.3 1372,1523.3 1373,1522.6 1374,1522.3 1375,1523 1376,1523.3 1377,1523.1 1378,1523.3 1379,1522.4 1380,1521.7 1381,1522.1 1382,1522.1 1383,1522 1384,1521.7 1385,1521.9 1386,1522.1 1387,1522.4 1388,1522.8 1389,1522.5 1390,1522.9 1391,1522.8 1392,1522.6 1393,1522.5 1394,1522.8 1395,1522.7 1396,1523.2 1397,1522.4 1398,1522.1 1399,1522 1400,1522.1 1401,1521.9 1402,1521.8 1403,1522 1404,1522.1 1405,1522 1406,1521.9 1407,1522.1 1408,1522.5 1409,1522.6 1410,1522.9 1411,1522.9 1412,1523 1413,1522.8 1414,1522.7 1415,1522.3 1416,1522.3 1417,1522.1 1418,1521.8 1419,1521.6 1420,1521.4 1421,1521.9 1422,1521.9 1423,1522.5 1424,1522.3 1425,1522.1 1426,1522.6 1427,1522.7 1428,1522.2 1429,1522.4 1430,1522.6 1431,1522.1 1432,1522.5 1433,1521.6 1434,1521.4 1435,1521.4 1436,1521.3 1437,1521.8 1438,1522 1439,1522.6 1440,1521.9 1441,1522 1442,1522.2 1443,1522.3 1444,1522.2 1445,1522.2 1446,1522.5 1447,1522.3 1448,1522.1 1449,1522 1450,1522.4 1451,1523 1452,1522.5 1453,1522.3 1454,1522.5 1455,1522.5 1456,1522.7 1457,1522.4 1458,1522.6 1459,1522.5 1460,1522.4 1461,1521.7 1462,1521.8 1463,1521.8 1464,1521.7 1465,1521.5 1466,1521.3 1467,1521.9 1468,1521.6 1469,1521.4 1470,1521.3 1471,1521.4 1472,1522.1 1473,1521.9 1474,1521.8 1475,1522 1476,1522.3 1477,1522.2 1478,1521.5 1479,1521.4 1480,1521.6 1481,1521.7 1482,1521.8 1483,1521.7 1484,1522.2 1485,1522.6 1486,1522.6 1487,1522.6 1488,1523 1489,1522.8 1490,1523.2 1491,1524.1 1492,1524.6 1493,1524 1494,1524.1 1495,1522.8 1496,1522.9 1497,1522.5 1498,1522.6 1499,1522.4 1500,1522.7 1501,1522.3 1502,1521.5 1503,1521.7 1504,1521.8 1505,1522.2 1506,1522.6 1507,1522.6 1508,1522.6 1509,1522.2 1510,1522.5 1511,1522.4 1512,1522.3 1513,1522.2 1514,1522.2 1515,1522 1516,1522.2 1517,1521.9 1518,1522.5 1519,1523.2 1520,1522.9 1521,1522.8 1522,1522.5 1523,1522.8 1524,1523.3 1525,1523.8 1526,1523.4 1527,1523.7 1528,1523.6 1529,1523.6 1530,1523 1531,1523 1532,1523.3 1533,1523.4 1534,1523.6 1535,1523.2 1536,1523.4 1537,1523.4 1538,1523 1539,1522.7 1540,1523.2 1541,1523.6 1542,1523.6 1543,1523.5 1544,1523.7 1545,1524.1 1546,1524 1547,1523.6 1548,1523.8 1549,1524.1 1550,1524.1 1551,1523.8 1552,1523.6" fill="none" stroke="#e30b17" stroke-width="4.6" stroke-linejoin="round" stroke-linecap="round" stroke-linecap="butt"/>
<line x1="980" y1="1558" x2="1518.2" y2="1558" stroke="#ef7d0c" stroke-width="3"/>
<polygon points="873,1547.6 873.5,1547.4 874,1547.8 874.5,1548.5 875,1547.7 875.5,1548.3 876,1547.9 876.5,1547.3 877,1547.1 877.5,1547.5 878,1547.3 878.5,1548.1 879,1548.1 879.5,1547.4 880,1547.3 880.5,1547.1 881,1546.3 881.5,1546.4 882,1545.7 882.5,1546.7 883,1548.8 883.5,1548.2 884,1546.9 884.5,1547.2 885,1545.6 885.5,1545.8 886,1546.8 886.5,1546.2 887,1547 887.5,1546.8 888,1547.5 888.5,1547.7 889,1547.6 889.5,1545.2 890,1544.2 890.5,1542.5 891,1544.8 891.5,1546.3 892,1546.4 892.5,1547.2 893,1546.4 893.5,1545.3 894,1542.9 894.5,1541.6 895,1538.6 895.5,1541 896,1542.6 896.5,1545.3 897,1543.2 897.5,1540.2 898,1535.7 898.5,1531.6 899,1534.8 899.5,1538.3 900,1543.7 900.5,1547.7 901,1545.8 901.5,1543.9 902,1539.6 902.5,1536.6 903,1539.1 903.5,1542.9 904,1547 904.5,1546.6 905,1545.9 905.5,1543.9 906,1543.5 906.5,1541.4 907,1540.4 907.5,1542.9 908,1544.3 908.5,1545.1 909,1548 909.5,1546.5 910,1546.6 910.5,1547.4 911,1545.8 911.5,1545.4 912,1545.7 912.5,1544.4 913,1543.3 913.5,1544.2 914,1543.9 914.5,1544.2 915,1546.3 915.5,1545.2 916,1545 916.5,1544 917,1543.3 917.5,1544.5 918,1544.9 918.5,1543.7 919,1542.8 919.5,1545.1 920,1545.5 920.5,1546.5 921,1547 921.5,1547.5 922,1547.1 922.5,1546.4 923,1547.5 923.5,1546.7 924,1546.9 924.5,1545.4 925,1545.3 925.5,1545.1 926,1544.8 926.5,1545.5 927,1545.5 927.5,1545.5 928,1546.5 928.5,1547.8 929,1548 929.5,1548.8 930,1548.1 930.5,1547.9 931,1547.6 931.5,1547.9 932,1547 932.5,1547.2 933,1547.3 933.5,1547.9 934,1548.5 934.5,1548.4 935,1547.7 935.5,1548.6 936,1547.6 936.5,1547.4 937,1547.2 937.5,1547 938,1548.1 938.5,1548.2 939,1546.8 939.5,1548.5 940,1547.9 940.5,1546.8 941,1546.4 941.5,1546.6 942,1547.2 942.5,1547.6 943,1547.1 943.5,1545.6 944,1544.7 944.5,1543.4 945,1543.8 945.5,1543.7 946,1545.5 946.5,1545 947,1546.7 947.5,1545.8 948,1544.6 948.5,1545.5 949,1546.4 949.5,1545.9 950,1547.1 950.5,1545.8 951,1545.1 951.5,1546 952,1545.3 952.5,1543.8 953,1545.2 953.5,1544.8 954,1545.7 954.5,1547.5 955,1547.2 955.5,1547.7 956,1546.2 956.5,1547.3 957,1546.6 957.5,1546 958,1546.7 958.5,1547.8 959,1547.4 959.5,1546.1 960,1547.2 960.5,1547.1 961,1546.5 961.5,1546.7 962,1546.8 962.5,1546.9 963,1546.9 963.5,1546.6 964,1547 964.5,1546.8 965,1546.2 965.5,1546.5 966,1546.5 966.5,1547.1 967,1546.5 967.5,1547.9 968,1546.7 968.5,1548.6 969,1548.5 969.5,1547.4 970,1547.2 970.5,1546.1 971,1546.1 971.5,1545.4 972,1544.4 972.5,1546.9 973,1547.4 973.5,1547.7 974,1546.6 974.5,1547.2 975,1547.3 975.5,1546.3 976,1548.5 976.5,1548.2 977,1548 977.5,1547.9 978,1548.5 978.5,1548.1 979,1547.3 979.5,1546.7 980,1546.3 980.5,1545.4 981,1543.9 981.5,1540.8 982,1536.8 982.5,1530.7 983,1521.8 983.5,1510.3 984,1494.6 984.5,1478.1 985,1460 985.5,1440.5 986,1429.4 986.5,1419.6 987,1410.6 987.5,1404.9 988,1403.8 988.5,1406.7 989,1415 989.5,1427.2 990,1442.6 990.5,1463.3 991,1479.1 991.5,1494.4 992,1508.5 992.5,1520.6 993,1528.8 993.5,1534.3 994,1538.8 994.5,1543.2 995,1545 995.5,1546.9 996,1547.4 996.5,1548 997,1548.5 997.5,1547.7 998,1548.2 998.5,1548.7 999,1547.8 999.5,1548.2 1000,1547.7 1000.5,1547.2 1001,1546.8 1001.5,1547.6 1002,1544.4 1002.5,1538.6 1003,1534.8 1003.5,1529.5 1004,1525.8 1004.5,1529.8 1005,1534.5 1005.5,1539 1006,1547.4 1006.5,1548.5 1007,1548.2 1007.5,1546.5 1008,1544.6 1008.5,1542.8 1009,1539.8 1009.5,1542.3 1010,1544.8 1010.5,1548 1011,1547.4 1011.5,1549 1012,1549 1012.5,1548 1013,1548.9 1013.5,1547.9 1014,1549.8 1014.5,1549.4 1015,1548.8 1015.5,1549.7 1016,1548.1 1016.5,1548.2 1017,1549.7 1017.5,1549.9 1018,1548.6 1018.5,1549.3 1019,1549.1 1019.5,1548.9 1020,1548.7 1020.5,1548.5 1021,1546.8 1021.5,1543.9 1022,1541.5 1022.5,1538.4 1023,1535.7 1023.5,1537.5 1024,1539.9 1024.5,1541.7 1025,1540.7 1025.5,1538.7 1026,1540.6 1026.5,1542.6 1027,1545.6 1027.5,1547.6 1028,1543.7 1028.5,1540.2 1029,1537.1 1029.5,1540.5 1030,1544.2 1030.5,1545.5 1031,1543.6 1031.5,1542.9 1032,1543.4 1032.5,1545.4 1033,1547.2 1033.5,1546.1 1034,1547 1034.5,1547.9 1035,1547 1035.5,1546.3 1036,1547.5 1036.5,1547.5 1037,1546.3 1037.5,1547 1038,1545.8 1038.5,1547 1039,1547.7 1039.5,1547.9 1040,1547.2 1040.5,1547.2 1041,1547.9 1041.5,1547.4 1042,1548.3 1042.5,1547.5 1043,1546.8 1043.5,1547.4 1044,1546.2 1044.5,1546.1 1045,1545 1045.5,1544.1 1046,1544.9 1046.5,1546.3 1047,1548.1 1047.5,1548.2 1048,1548.9 1048.5,1548.8 1049,1549.1 1049.5,1548.5 1050,1548.6 1050.5,1548.5 1051,1547.6 1051.5,1548.4 1052,1547.6 1052.5,1547.7 1053,1547.9 1053.5,1548.5 1054,1548.8 1054.5,1548.3 1055,1549.2 1055.5,1547.9 1056,1548.1 1056.5,1548 1057,1548.1 1057.5,1548.3 1058,1548.4 1058.5,1547.1 1059,1548.3 1059.5,1548.2 1060,1548.8 1060.5,1548.5 1061,1548.5 1061.5,1549.6 1062,1549.1 1062.5,1548 1063,1548.9 1063.5,1548.9 1064,1547.2 1064.5,1548.7 1065,1548.2 1065.5,1548.2 1066,1547.1 1066.5,1547.2 1067,1548.2 1067.5,1548.4 1068,1547.8 1068.5,1548 1069,1547.4 1069.5,1548 1070,1545.5 1070.5,1542.4 1071,1538.8 1071.5,1535.1 1072,1531.7 1072.5,1534.5 1073,1537.1 1073.5,1540.9 1074,1545.8 1074.5,1546.2 1075,1546.3 1075.5,1542 1076,1539.6 1076.5,1536.4 1077,1534.3 1077.5,1536.5 1078,1540.5 1078.5,1543.4 1079,1546.3 1079.5,1547.1 1080,1546.8 1080.5,1547.5 1081,1545.4 1081.5,1543.2 1082,1540.4 1082.5,1538.8 1083,1541 1083.5,1543 1084,1547 1084.5,1546.1 1085,1546.1 1085.5,1546.4 1086,1546.1 1086.5,1547 1087,1547.8 1087.5,1546.3 1088,1547.5 1088.5,1547.3 1089,1547.5 1089.5,1547.2 1090,1548.1 1090.5,1546.8 1091,1548.3 1091.5,1546.6 1092,1548.5 1092.5,1547.6 1093,1547.6 1093.5,1547.7 1094,1546.4 1094.5,1541.2 1095,1535.9 1095.5,1530 1096,1535.6 1096.5,1541.4 1097,1547.9 1097.5,1546.1 1098,1544.6 1098.5,1543.8 1099,1541.7 1099.5,1542.5 1100,1541.1 1100.5,1540.3 1101,1541.4 1101.5,1541.1 1102,1541.9 1102.5,1543.4 1103,1543.1 1103.5,1543.1 1104,1542.4 1104.5,1542.3 1105,1540.4 1105.5,1541 1106,1541 1106.5,1539.1 1107,1539 1107.5,1539.7 1108,1539.3 1108.5,1537.6 1109,1537.7 1109.5,1537.2 1110,1536.2 1110.5,1535.8 1111,1534.8 1111.5,1534.6 1112,1535.2 1112.5,1533.9 1113,1533.8 1113.5,1533.4 1114,1531.9 1114.5,1530.9 1115,1530.2 1115.5,1530.5 1116,1529.6 1116.5,1529.8 1117,1527.5 1117.5,1526 1118,1522.4 1118.5,1518.3 1119,1514.2 1119.5,1517.2 1120,1519.8 1120.5,1524 1121,1522.8 1121.5,1521.9 1122,1523 1122.5,1521.6 1123,1520.7 1123.5,1521.2 1124,1521.2 1124.5,1519.3 1125,1519.3 1125.5,1518.6 1126,1518.6 1126.5,1517.3 1127,1514.9 1127.5,1513.1 1128,1511.5 1128.5,1509.3 1129,1507.6 1129.5,1504.9 1130,1501.6 1130.5,1503.3 1131,1505.7 1131.5,1507.8 1132,1510.8 1132.5,1509.4 1133,1510 1133.5,1509.3 1134,1508 1134.5,1508.6 1135,1507.5 1135.5,1506.2 1136,1506.3 1136.5,1506 1137,1505.2 1137.5,1504.2 1138,1503.5 1138.5,1503.6 1139,1502.3 1139.5,1501.4 1140,1499.2 1140.5,1497.3 1141,1495.9 1141.5,1496.1 1142,1496.5 1142.5,1496.8 1143,1497.1 1143.5,1495.8 1144,1495.5 1144.5,1493.6 1145,1492.4 1145.5,1489.4 1146,1488.6 1146.5,1488.5 1147,1488.9 1147.5,1489.4 1148,1489.4 1148.5,1488.7 1149,1487.8 1149.5,1487.4 1150,1486.1 1150.5,1486.3 1151,1486.2 1151.5,1484.7 1152,1484.6 1152.5,1483.9 1153,1482.6 1153.5,1482.1 1154,1482.7 1154.5,1482.3 1155,1482.6 1155.5,1480.6 1156,1481 1156.5,1480.8 1157,1478.9 1157.5,1477.7 1158,1476.2 1158.5,1476.4 1159,1478.1 1159.5,1477.6 1160,1478.4 1160.5,1477.2 1161,1475.6 1161.5,1473.4 1162,1471 1162.5,1471.5 1163,1471.7 1163.5,1472.8 1164,1473.4 1164.5,1473.7 1165,1472.6 1165.5,1471 1166,1470.1 1166.5,1469 1167,1468.9 1167.5,1468.6 1168,1468.4 1168.5,1467.6 1169,1467.9 1169.5,1468.1 1170,1468.5 1170.5,1467.6 1171,1467.3 1171.5,1466 1172,1466.4 1172.5,1466.8 1173,1467.2 1173.5,1465.5 1174,1465.4 1174.5,1465.5 1175,1466.6 1175.5,1465.9 1176,1466 1176.5,1464.6 1177,1463.3 1177.5,1463.3 1178,1463.2 1178.5,1462.7 1179,1462 1179.5,1462.5 1180,1461 1180.5,1460.5 1181,1458.5 1181.5,1458.5 1182,1456.9 1182.5,1456.7 1183,1455.5 1183.5,1455.9 1184,1453.9 1184.5,1452.7 1185,1451.3 1185.5,1451.3 1186,1448.7 1186.5,1447.5 1187,1446.7 1187.5,1444.6 1188,1443.2 1188.5,1443.1 1189,1444.4 1189.5,1445.5 1190,1446.1 1190.5,1446.1 1191,1445.1 1191.5,1444.7 1192,1444.2 1192.5,1441.2 1193,1439.1 1193.5,1436.4 1194,1434 1194.5,1430.6 1195,1428.5 1195.5,1426.2 1196,1422.6 1196.5,1420.9 1197,1417.9 1197.5,1414.9 1198,1411.6 1198.5,1409 1199,1405.8 1199.5,1403.5 1200,1400.7 1200.5,1394.2 1201,1387.8 1201.5,1381.5 1202,1374.7 1202.5,1368 1203,1361.7 1203.5,1355 1204,1348.6 1204.5,1341.7 1205,1333.7 1205.5,1330.6 1206,1327.7 1206.5,1325.1 1207,1324.4 1207.5,1323.7 1208,1324 1208.5,1322.1 1209,1320.7 1209.5,1318.4 1210,1316.3 1210.5,1314.3 1211,1313.1 1211.5,1311.8 1212,1310.1 1212.5,1311.5 1213,1313.7 1213.5,1315.7 1214,1317.8 1214.5,1319.9 1215,1321.6 1215.5,1323.5 1216,1324.9 1216.5,1326.6 1217,1328.6 1217.5,1329.6 1218,1326.4 1218.5,1320.1 1219,1314.5 1219.5,1308.8 1220,1302.9 1220.5,1298 1221,1291.5 1221.5,1283.7 1222,1275.5 1222.5,1267.2 1223,1258.8 1223.5,1256 1224,1261.7 1224.5,1267.5 1225,1274.1 1225.5,1280.7 1226,1286.6 1226.5,1292.7 1227,1297.9 1227.5,1303.3 1228,1343.1 1228.5,1382.7 1229,1412.8 1229.5,1414.7 1230,1418.9 1230.5,1424.6 1231,1427.6 1231.5,1430 1232,1435.4 1232.5,1441.4 1233,1447.5 1233.5,1447.4 1234,1449.9 1234.5,1449.5 1235,1451.6 1235.5,1451 1236,1453 1236.5,1452.2 1237,1453.3 1237.5,1455.6 1238,1456.6 1238.5,1455 1239,1453.7 1239.5,1453.8 1240,1453.2 1240.5,1450.6 1241,1452.8 1241.5,1455.2 1242,1459.2 1242.5,1461.6 1243,1463.4 1243.5,1464.3 1244,1464.9 1244.5,1464.6 1245,1466.1 1245.5,1466.2 1246,1467.1 1246.5,1467.6 1247,1468.5 1247.5,1466.9 1248,1466 1248.5,1463.2 1249,1461.6 1249.5,1464.9 1250,1467.1 1250.5,1470.4 1251,1470.7 1251.5,1470.8 1252,1473.3 1252.5,1473.3 1253,1474.8 1253.5,1474.2 1254,1475.4 1254.5,1476.6 1255,1475.9 1255.5,1477.8 1256,1477 1256.5,1478.4 1257,1477.2 1257.5,1477.1 1258,1477.4 1258.5,1478.1 1259,1479 1259.5,1478.5 1260,1478.8 1260.5,1477.7 1261,1474.8 1261.5,1473.8 1262,1475.8 1262.5,1477.5 1263,1479.6 1263.5,1478.2 1264,1475.7 1264.5,1474.2 1265,1476.5 1265.5,1479.2 1266,1481.5 1266.5,1484 1267,1484.4 1267.5,1485.2 1268,1485.8 1268.5,1485.1 1269,1486.6 1269.5,1486.2 1270,1487.3 1270.5,1487.1 1271,1488.5 1271.5,1487.6 1272,1488.8 1272.5,1489.2 1273,1489.1 1273.5,1490.8 1274,1490.1 1274.5,1487.4 1275,1486.2 1275.5,1484.6 1276,1483.2 1276.5,1486.7 1277,1488.9 1277.5,1492.1 1278,1494.9 1278.5,1495.8 1279,1496.8 1279.5,1497.8 1280,1497.7 1280.5,1497.3 1281,1498.4 1281.5,1498.1 1282,1499.4 1282.5,1499.1 1283,1500.4 1283.5,1502.6 1284,1502.7 1284.5,1503.1 1285,1503.1 1285.5,1503.3 1286,1503.2 1286.5,1504 1287,1505.3 1287.5,1506.4 1288,1505.9 1288.5,1507.4 1289,1507.4 1289.5,1507.2 1290,1507 1290.5,1506.9 1291,1508 1291.5,1508.4 1292,1508.5 1292.5,1508.6 1293,1509.3 1293.5,1508.8 1294,1508 1294.5,1509.2 1295,1508.8 1295.5,1508.4 1296,1508.8 1296.5,1509.2 1297,1509 1297.5,1511.3 1298,1510.2 1298.5,1511.1 1299,1510.7 1299.5,1510.8 1300,1510.5 1300.5,1510.7 1301,1510.7 1301.5,1512.1 1302,1512.5 1302.5,1512.6 1303,1513 1303.5,1512.3 1304,1512.7 1304.5,1513.6 1305,1513.8 1305.5,1513.5 1306,1514.1 1306.5,1514.3 1307,1515.3 1307.5,1515.5 1308,1515.5 1308.5,1516 1309,1516.4 1309.5,1515.2 1310,1516.2 1310.5,1516.2 1311,1516.6 1311.5,1517.6 1312,1517.6 1312.5,1517.5 1313,1517.8 1313.5,1518.3 1314,1520.1 1314.5,1519.1 1315,1520.4 1315.5,1520.7 1316,1520.6 1316.5,1519.3 1317,1519 1317.5,1519.7 1318,1519.7 1318.5,1520.1 1319,1519.4 1319.5,1520.7 1320,1519.9 1320.5,1519.8 1321,1520.8 1321.5,1520.9 1322,1521.1 1322.5,1521 1323,1521.7 1323.5,1521.5 1324,1521.8 1324.5,1521.9 1325,1521.8 1325.5,1520.9 1326,1522.5 1326.5,1523.1 1327,1521.2 1327.5,1519.9 1328,1518.9 1328.5,1517.3 1329,1519.8 1329.5,1520.7 1330,1523.4 1330.5,1524.5 1331,1525.3 1331.5,1524.5 1332,1525.5 1332.5,1525.4 1333,1524.7 1333.5,1526.2 1334,1526.5 1334.5,1525.5 1335,1526.2 1335.5,1526.4 1336,1526.3 1336.5,1525.9 1337,1525.4 1337.5,1526.6 1338,1527.1 1338.5,1526.9 1339,1527.3 1339.5,1527.5 1340,1526.4 1340.5,1527.8 1341,1526.7 1341.5,1526.6 1342,1527.3 1342.5,1527.2 1343,1528 1343.5,1528.5 1344,1527.6 1344.5,1528.8 1345,1528.7 1345.5,1528 1346,1528.6 1346.5,1528.1 1347,1528.2 1347.5,1529.3 1348,1528.6 1348.5,1528.7 1349,1528.5 1349.5,1529.3 1350,1529.1 1350.5,1530 1351,1528.7 1351.5,1529.5 1352,1528.8 1352.5,1529.5 1353,1528.9 1353.5,1529.1 1354,1528.4 1354.5,1528.4 1355,1528.2 1355.5,1528.8 1356,1529.7 1356.5,1528.4 1357,1529.2 1357.5,1528.9 1358,1529.5 1358.5,1530.1 1359,1530.2 1359.5,1528.8 1360,1527.8 1360.5,1527 1361,1525.2 1361.5,1527.6 1362,1528.4 1362.5,1529.1 1363,1530 1363.5,1530.2 1364,1530.6 1364.5,1530.8 1365,1530.8 1365.5,1531.1 1366,1532.8 1366.5,1531.8 1367,1533 1367.5,1532.6 1368,1532.1 1368.5,1532.6 1369,1531.7 1369.5,1532.5 1370,1534.2 1370.5,1534.5 1371,1532.8 1371.5,1534.4 1372,1533.5 1372.5,1532.7 1373,1533.5 1373.5,1533.6 1374,1532 1374.5,1532.7 1375,1532.5 1375.5,1530.9 1376,1530.8 1376.5,1529.3 1377,1528.4 1377.5,1530.1 1378,1528.9 1378.5,1531.6 1379,1532.1 1379.5,1532.8 1380,1531.7 1380.5,1530 1381,1527.9 1381.5,1525.7 1382,1524.3 1382.5,1525.2 1383,1527.8 1383.5,1529.8 1384,1532 1384.5,1535.2 1385,1535.1 1385.5,1534.2 1386,1534.9 1386.5,1534.5 1387,1535.6 1387.5,1535.6 1388,1534.9 1388.5,1535 1389,1534.9 1389.5,1535.9 1390,1534.7 1390.5,1536.2 1391,1535.6 1391.5,1536.5 1392,1537 1392.5,1537.5 1393,1535.2 1393.5,1534.7 1394,1533.6 1394.5,1531.9 1395,1533.5 1395.5,1532.6 1396,1532.5 1396.5,1533.9 1397,1535.7 1397.5,1537 1398,1536.3 1398.5,1537.5 1399,1537.6 1399.5,1537.5 1400,1538.1 1400.5,1536 1401,1533.8 1401.5,1532.9 1402,1530.3 1402.5,1528.9 1403,1530.9 1403.5,1532.6 1404,1534 1404.5,1534.9 1405,1537.1 1405.5,1538.8 1406,1539.9 1406.5,1539.6 1407,1539.7 1407.5,1540.1 1408,1539.8 1408.5,1540.3 1409,1540.3 1409.5,1540 1410,1541.9 1410.5,1542.4 1411,1540.8 1411.5,1541.7 1412,1541.3 1412.5,1542.3 1413,1541.2 1413.5,1541.3 1414,1541.2 1414.5,1541.8 1415,1542.8 1415.5,1542.4 1416,1542.6 1416.5,1541.5 1417,1542 1417.5,1542.2 1418,1542.5 1418.5,1540.8 1419,1539.9 1419.5,1538.7 1420,1535.7 1420.5,1538.5 1421,1540.1 1421.5,1541.1 1422,1539.4 1422.5,1538.2 1423,1536.9 1423.5,1535.2 1424,1536.4 1424.5,1538 1425,1539.2 1425.5,1539 1426,1538.9 1426.5,1540.9 1427,1541 1427.5,1540.7 1428,1542.1 1428.5,1541.1 1429,1542.6 1429.5,1542.1 1430,1541.3 1430.5,1541.5 1431,1540.8 1431.5,1540.5 1432,1539.7 1432.5,1537.9 1433,1537.5 1433.5,1537.9 1434,1539.9 1434.5,1540.8 1435,1543 1435.5,1542.7 1436,1540.7 1436.5,1540.6 1437,1539.1 1437.5,1539.5 1438,1541.6 1438.5,1541.4 1439,1539.9 1439.5,1540.4 1440,1540 1440.5,1541.1 1441,1541.1 1441.5,1539.9 1442,1539.8 1442.5,1539.6 1443,1540.7 1443.5,1542.8 1444,1542.2 1444.5,1542.4 1445,1541.7 1445.5,1542.3 1446,1542.9 1446.5,1542.2 1447,1542.1 1447.5,1541.5 1448,1538.7 1448.5,1535.2 1449,1531.7 1449.5,1529.9 1450,1532.5 1450.5,1534.8 1451,1539 1451.5,1544.4 1452,1544.6 1452.5,1544.6 1453,1543.8 1453.5,1544.4 1454,1544.6 1454.5,1545.7 1455,1545 1455.5,1541.6 1456,1538.9 1456.5,1534 1457,1531 1457.5,1525.7 1458,1530.5 1458.5,1534 1459,1537 1459.5,1543.8 1460,1544.2 1460.5,1544.5 1461,1544.3 1461.5,1544.3 1462,1544.9 1462.5,1544.4 1463,1543.3 1463.5,1543.9 1464,1543.9 1464.5,1544.1 1465,1543.4 1465.5,1543.2 1466,1543 1466.5,1544.1 1467,1544 1467.5,1543.8 1468,1543.1 1468.5,1542.9 1469,1543.5 1469.5,1543.4 1470,1543.3 1470.5,1543.7 1471,1544.2 1471.5,1542.7 1472,1543.8 1472.5,1543.6 1473,1544.5 1473.5,1543.2 1474,1540.6 1474.5,1538.4 1475,1536.5 1475.5,1534.1 1476,1536.3 1476.5,1539.3 1477,1541.2 1477.5,1545.4 1478,1544.6 1478.5,1545.5 1479,1545.1 1479.5,1544.2 1480,1543.9 1480.5,1544.6 1481,1542.9 1481.5,1543.6 1482,1544.3 1482.5,1543.1 1483,1544.1 1483.5,1543 1484,1544.1 1484.5,1544.3 1485,1543.7 1485.5,1544 1486,1545.2 1486.5,1543.9 1487,1545.3 1487.5,1544.2 1488,1543.9 1488.5,1542.3 1489,1542.7 1489.5,1543.7 1490,1545.1 1490.5,1544.8 1491,1543.6 1491.5,1544.4 1492,1543.9 1492.5,1544.3 1493,1545 1493.5,1545.7 1494,1545 1494.5,1544.7 1495,1545.2 1495.5,1544.3 1496,1544.2 1496.5,1543 1497,1544.6 1497.5,1545 1498,1544.4 1498.5,1545.2 1499,1544.2 1499.5,1544.6 1500,1544.8 1500.5,1545.2 1501,1545.3 1501.5,1545.2 1502,1545.4 1502.5,1546 1503,1545.5 1503.5,1544.3 1504,1545.3 1504.5,1544.6 1505,1545.1 1505.5,1544.9 1506,1545 1506.5,1544.8 1507,1545.2 1507.5,1546 1508,1544.2 1508.5,1541.4 1509,1540.1 1509.5,1542.2 1510,1541.3 1510.5,1543.6 1511,1544.2 1511.5,1545.1 1512,1547.6 1512.5,1547 1513,1546.6 1513.5,1546.7 1514,1546.9 1514.5,1548 1515,1547.5 1515.5,1547.7 1516,1549.2 1516.5,1549.2 1517,1548.7 1517.5,1549.1 1518,1547.9 1518,1558.4 1517.5,1560.5 1517,1562.6 1516.5,1565.7 1516,1562.9 1515.5,1560.4 1515,1557.6 1514.5,1556.3 1514,1556.9 1513.5,1557.3 1513,1556.4 1512.5,1557.5 1512,1556.9 1511.5,1557.1 1511,1557.3 1510.5,1557.2 1510,1556 1509.5,1555.9 1509,1556.5 1508.5,1555.9 1508,1555.6 1507.5,1555.1 1507,1555.7 1506.5,1555.9 1506,1555.7 1505.5,1554.3 1505,1556 1504.5,1554.3 1504,1555.3 1503.5,1554.3 1503,1555.4 1502.5,1554.4 1502,1554 1501.5,1554.7 1501,1555 1500.5,1555.3 1500,1556.4 1499.5,1557.5 1499,1558.1 1498.5,1557.3 1498,1555.2 1497.5,1554.6 1497,1554.1 1496.5,1554.7 1496,1555.1 1495.5,1557.2 1495,1558 1494.5,1559.5 1494,1560.2 1493.5,1559 1493,1557.9 1492.5,1557 1492,1555.9 1491.5,1554.6 1491,1555.3 1490.5,1555.5 1490,1555.1 1489.5,1554.2 1489,1553.6 1488.5,1553.5 1488,1554.3 1487.5,1554 1487,1554.7 1486.5,1554.5 1486,1554.6 1485.5,1554.2 1485,1554.2 1484.5,1553.6 1484,1553.4 1483.5,1553.5 1483,1554.2 1482.5,1553.2 1482,1553.6 1481.5,1553.8 1481,1553 1480.5,1554.2 1480,1553.8 1479.5,1554 1479,1554.2 1478.5,1555 1478,1555.5 1477.5,1556 1477,1555 1476.5,1555.4 1476,1554.4 1475.5,1553.8 1475,1554.7 1474.5,1554.6 1474,1553.2 1473.5,1553.7 1473,1553.3 1472.5,1554.3 1472,1554.4 1471.5,1554.8 1471,1553.4 1470.5,1553.2 1470,1553.3 1469.5,1553.2 1469,1553.7 1468.5,1554 1468,1553.4 1467.5,1552.8 1467,1553.2 1466.5,1552.6 1466,1552.2 1465.5,1552.2 1465,1552.3 1464.5,1552.6 1464,1553.3 1463.5,1553.5 1463,1553.6 1462.5,1554.1 1462,1554.2 1461.5,1554.1 1461,1553.3 1460.5,1553.6 1460,1554.2 1459.5,1554 1459,1554.2 1458.5,1553.1 1458,1554 1457.5,1552.9 1457,1553.5 1456.5,1554 1456,1554.5 1455.5,1554 1455,1554 1454.5,1554.6 1454,1555.3 1453.5,1556.6 1453,1557.2 1452.5,1557.6 1452,1557.7 1451.5,1556.2 1451,1553.6 1450.5,1552.4 1450,1553.4 1449.5,1553.4 1449,1553 1448.5,1552.6 1448,1553.6 1447.5,1553 1447,1552.5 1446.5,1553.1 1446,1552.1 1445.5,1552.2 1445,1551.9 1444.5,1553.4 1444,1552.9 1443.5,1552.7 1443,1552.3 1442.5,1553.5 1442,1552.7 1441.5,1553.5 1441,1552.1 1440.5,1553.8 1440,1555.1 1439.5,1556 1439,1557.4 1438.5,1555.7 1438,1555.8 1437.5,1554.5 1437,1553.5 1436.5,1552.5 1436,1552.9 1435.5,1552.4 1435,1553.2 1434.5,1552.4 1434,1553.1 1433.5,1552.3 1433,1552.5 1432.5,1552.3 1432,1552 1431.5,1552.5 1431,1551.3 1430.5,1551.6 1430,1552 1429.5,1551.5 1429,1551 1428.5,1551.4 1428,1551.6 1427.5,1550.6 1427,1551.8 1426.5,1550.8 1426,1551.4 1425.5,1551 1425,1553 1424.5,1553.7 1424,1555.6 1423.5,1556.5 1423,1558.5 1422.5,1556.7 1422,1555.9 1421.5,1553.3 1421,1553.4 1420.5,1551 1420,1550.7 1419.5,1552.6 1419,1552.5 1418.5,1551.9 1418,1552.2 1417.5,1551.6 1417,1551.8 1416.5,1551.6 1416,1551.5 1415.5,1550.6 1415,1552.2 1414.5,1551.5 1414,1553.1 1413.5,1555.7 1413,1556.3 1412.5,1557.7 1412,1556.1 1411.5,1554.1 1411,1552.8 1410.5,1552 1410,1550.3 1409.5,1550.2 1409,1550.3 1408.5,1551 1408,1551.5 1407.5,1551.7 1407,1551.4 1406.5,1550.2 1406,1550.5 1405.5,1549.4 1405,1548 1404.5,1548.4 1404,1547.4 1403.5,1547.8 1403,1548.4 1402.5,1547.8 1402,1548 1401.5,1547.8 1401,1548.8 1400.5,1548 1400,1548.3 1399.5,1548.2 1399,1548.5 1398.5,1548.1 1398,1546.5 1397.5,1547.4 1397,1547.8 1396.5,1547.5 1396,1548.6 1395.5,1551.9 1395,1553.3 1394.5,1555.3 1394,1555.5 1393.5,1553.7 1393,1551.5 1392.5,1551.3 1392,1548 1391.5,1547 1391,1546.3 1390.5,1546.8 1390,1544.8 1389.5,1545.9 1389,1544.7 1388.5,1544 1388,1544.6 1387.5,1545.5 1387,1544.2 1386.5,1544.8 1386,1544.7 1385.5,1544.5 1385,1544 1384.5,1544.1 1384,1544.7 1383.5,1544.1 1383,1543.4 1382.5,1543.9 1382,1542.1 1381.5,1542.1 1381,1542.4 1380.5,1543.1 1380,1542.2 1379.5,1542.6 1379,1543.7 1378.5,1542.9 1378,1543.6 1377.5,1543.1 1377,1543.4 1376.5,1542.6 1376,1542.9 1375.5,1543.3 1375,1542.3 1374.5,1542.1 1374,1543.1 1373.5,1542.8 1373,1543.6 1372.5,1543.3 1372,1543.1 1371.5,1543.2 1371,1543.4 1370.5,1543.9 1370,1543.5 1369.5,1542.3 1369,1542.1 1368.5,1541.9 1368,1542.5 1367.5,1541.4 1367,1541.8 1366.5,1540.9 1366,1541.9 1365.5,1540.6 1365,1540.7 1364.5,1540.9 1364,1540.6 1363.5,1540.1 1363,1540.5 1362.5,1539.9 1362,1541.6 1361.5,1542 1361,1544.2 1360.5,1544.8 1360,1544.9 1359.5,1544.2 1359,1543.4 1358.5,1541.3 1358,1539.9 1357.5,1538.7 1357,1539.3 1356.5,1539.4 1356,1538.4 1355.5,1538.3 1355,1538.2 1354.5,1538.2 1354,1538.3 1353.5,1537.9 1353,1547.9 1352.5,1556.1 1352,1564.2 1351.5,1556.5 1351,1548.9 1350.5,1541.1 1350,1539.4 1349.5,1538 1349,1538.8 1348.5,1537.5 1348,1537.7 1347.5,1538.1 1347,1537.8 1346.5,1537.1 1346,1537.4 1345.5,1538.7 1345,1538.1 1344.5,1538.3 1344,1537.4 1343.5,1537.1 1343,1538.1 1342.5,1536.9 1342,1537.6 1341.5,1536.8 1341,1537 1340.5,1536.7 1340,1536.2 1339.5,1536.5 1339,1536 1338.5,1535.6 1338,1536.1 1337.5,1536.5 1337,1535.3 1336.5,1536 1336,1535.7 1335.5,1536.9 1335,1535.8 1334.5,1536.2 1334,1535.7 1333.5,1536.1 1333,1535.8 1332.5,1534.6 1332,1533.7 1331.5,1533.9 1331,1534 1330.5,1533.6 1330,1533.3 1329.5,1532.6 1329,1532.9 1328.5,1533.4 1328,1532.1 1327.5,1531.9 1327,1531.1 1326.5,1532.6 1326,1532.1 1325.5,1530.6 1325,1531.6 1324.5,1531 1324,1530.4 1323.5,1529.8 1323,1531.2 1322.5,1530.1 1322,1531.1 1321.5,1530.1 1321,1530.7 1320.5,1529.6 1320,1530.3 1319.5,1529.8 1319,1530.2 1318.5,1528.8 1318,1528.6 1317.5,1530.1 1317,1529.4 1316.5,1529.4 1316,1529.9 1315.5,1529.7 1315,1529 1314.5,1529.6 1314,1528.8 1313.5,1528.8 1313,1528.2 1312.5,1527.2 1312,1526.7 1311.5,1527.4 1311,1526.8 1310.5,1526 1310,1525.7 1309.5,1526.1 1309,1525.9 1308.5,1525.6 1308,1525.8 1307.5,1525.5 1307,1523.9 1306.5,1523.7 1306,1523.2 1305.5,1524 1305,1522.4 1304.5,1522.6 1304,1522.2 1303.5,1522.7 1303,1521.8 1302.5,1521.6 1302,1521.4 1301.5,1522 1301,1521.9 1300.5,1522.2 1300,1520.3 1299.5,1520.3 1299,1520.7 1298.5,1520.3 1298,1520 1297.5,1520.2 1297,1519.2 1296.5,1520 1296,1519.1 1295.5,1520.2 1295,1518.3 1294.5,1519.6 1294,1519 1293.5,1520.8 1293,1520.2 1292.5,1521.2 1292,1520.6 1291.5,1521.9 1291,1524.5 1290.5,1521.2 1290,1518.7 1289.5,1517.2 1289,1517.4 1288.5,1516.1 1288,1515.1 1287.5,1516.1 1287,1515.9 1286.5,1514.1 1286,1514.5 1285.5,1515.2 1285,1514 1284.5,1513.8 1284,1512.3 1283.5,1512.2 1283,1510.4 1282.5,1509.6 1282,1509.6 1281.5,1510 1281,1508.3 1280.5,1507.4 1280,1508.6 1279.5,1508 1279,1507.7 1278.5,1506.4 1278,1504.5 1277.5,1505.5 1277,1505 1276.5,1503.1 1276,1502.3 1275.5,1502.7 1275,1500.9 1274.5,1500 1274,1500.5 1273.5,1501.2 1273,1501.4 1272.5,1502.5 1272,1502.9 1271.5,1500.5 1271,1499.9 1270.5,1498.1 1270,1498 1269.5,1496.1 1269,1496.1 1268.5,1495 1268,1495.2 1267.5,1494.8 1267,1494.7 1266.5,1494.8 1266,1494.3 1265.5,1493.4 1265,1493.2 1264.5,1494.4 1264,1493.1 1263.5,1493 1263,1492 1262.5,1492 1262,1492.7 1261.5,1491.7 1261,1490.6 1260.5,1491.5 1260,1491.1 1259.5,1490.3 1259,1490.1 1258.5,1489.8 1258,1488.3 1257.5,1488.3 1257,1488.8 1256.5,1488.1 1256,1487.1 1255.5,1487.6 1255,1486.8 1254.5,1486.4 1254,1486.2 1253.5,1485.2 1253,1484.5 1252.5,1484.5 1252,1484.5 1251.5,1483.8 1251,1484.1 1250.5,1483.6 1250,1481.8 1249.5,1482.4 1249,1481.5 1248.5,1480.2 1248,1480.4 1247.5,1479.1 1247,1479.4 1246.5,1477.2 1246,1478.2 1245.5,1476.5 1245,1475.3 1244.5,1474.9 1244,1473.9 1243.5,1473.4 1243,1473 1242.5,1472.3 1242,1471.8 1241.5,1470.9 1241,1469.8 1240.5,1468.5 1240,1468.2 1239.5,1469.4 1239,1469.3 1238.5,1468.6 1238,1469.7 1237.5,1467.5 1237,1465.7 1236.5,1463.7 1236,1461.6 1235.5,1461.5 1235,1459.6 1234.5,1460.1 1234,1457.8 1233.5,1458.1 1233,1456.7 1232.5,1452 1232,1447.9 1231.5,1442.7 1231,1438.8 1230.5,1433.5 1230,1430.4 1229.5,1426.2 1229,1421.6 1228.5,1388 1228,1347.7 1227.5,1307.2 1227,1301 1226.5,1295.2 1226,1289.2 1225.5,1283.3 1225,1276.8 1224.5,1270.6 1224,1264.5 1223.5,1259.1 1223,1261.3 1222.5,1269.5 1222,1277.9 1221.5,1285.9 1221,1294 1220.5,1300.2 1220,1306.3 1219.5,1312.6 1219,1318.7 1218.5,1324.8 1218,1330.6 1217.5,1333.2 1217,1331.8 1216.5,1329.6 1216,1327.7 1215.5,1325.8 1215,1323.8 1214.5,1322.3 1214,1320.6 1213.5,1318.4 1213,1317 1212.5,1314.9 1212,1313.7 1211.5,1314.9 1211,1316.5 1210.5,1318.2 1210,1320.1 1209.5,1321.9 1209,1323.2 1208.5,1324.8 1208,1326.8 1207.5,1328.2 1207,1329.9 1206.5,1331.6 1206,1332.8 1205.5,1334.8 1205,1337.2 1204.5,1344 1204,1351 1203.5,1357.5 1203,1363.9 1202.5,1370.2 1202,1376.9 1201.5,1383.7 1201,1390.4 1200.5,1397.2 1200,1403.9 1199.5,1406.7 1199,1410.1 1198.5,1413.7 1198,1416.7 1197.5,1419.6 1197,1422.7 1196.5,1425.7 1196,1428.4 1195.5,1432.7 1195,1435.4 1194.5,1438.9 1194,1441.1 1193.5,1444.5 1193,1446.9 1192.5,1450.3 1192,1454 1191.5,1454.1 1191,1454.3 1190.5,1454.7 1190,1455.5 1189.5,1455.7 1189,1457.1 1188.5,1458 1188,1458.2 1187.5,1458.6 1187,1458.5 1186.5,1459 1186,1459.9 1185.5,1460.8 1185,1461.4 1184.5,1462.5 1184,1464.6 1183.5,1467.9 1183,1470.3 1182.5,1473.2 1182,1472 1181.5,1471.3 1181,1470.3 1180.5,1472.6 1180,1475.9 1179.5,1479.1 1179,1484.1 1178.5,1480.2 1178,1476.7 1177.5,1474.1 1177,1473.6 1176.5,1474.4 1176,1474.1 1175.5,1474.6 1175,1476.1 1174.5,1475 1174,1475.3 1173.5,1475.5 1173,1476.8 1172.5,1476.8 1172,1476.7 1171.5,1475.7 1171,1476.9 1170.5,1477.4 1170,1478.3 1169.5,1477.1 1169,1478 1168.5,1478.9 1168,1479.5 1167.5,1480.9 1167,1482.3 1166.5,1482.5 1166,1481.7 1165.5,1482.2 1165,1483 1164.5,1482.5 1164,1482.8 1163.5,1483 1163,1482.7 1162.5,1483.8 1162,1484.8 1161.5,1485 1161,1486.1 1160.5,1487.2 1160,1486.6 1159.5,1487.7 1159,1487.8 1158.5,1489.5 1158,1488.5 1157.5,1489.6 1157,1489.6 1156.5,1490.9 1156,1491.3 1155.5,1490.8 1155,1491.9 1154.5,1492.2 1154,1492.9 1153.5,1493.6 1153,1494.1 1152.5,1494.4 1152,1497.2 1151.5,1499.2 1151,1502.5 1150.5,1500.8 1150,1499.4 1149.5,1499.1 1149,1498.3 1148.5,1497.3 1148,1498.8 1147.5,1499.4 1147,1499.5 1146.5,1500 1146,1500.5 1145.5,1501 1145,1502.9 1144.5,1503.9 1144,1506.3 1143.5,1508 1143,1510.9 1142.5,1513.7 1142,1513.4 1141.5,1511 1141,1511.1 1140.5,1509.9 1140,1510.4 1139.5,1510.2 1139,1513.6 1138.5,1516.7 1138,1519.2 1137.5,1522.4 1137,1520.3 1136.5,1520.6 1136,1518.9 1135.5,1517.6 1135,1518.6 1134.5,1519.3 1134,1519.7 1133.5,1522.1 1133,1521.8 1132.5,1520.6 1132,1521.9 1131.5,1521.7 1131,1522 1130.5,1521.9 1130,1522 1129.5,1522.9 1129,1523.2 1128.5,1524.2 1128,1524.5 1127.5,1526.4 1127,1526.6 1126.5,1526.8 1126,1527.8 1125.5,1529.2 1125,1530 1124.5,1529.2 1124,1530.9 1123.5,1531.6 1123,1531.7 1122.5,1531.5 1122,1532.1 1121.5,1532.8 1121,1533.6 1120.5,1533.6 1120,1534.4 1119.5,1534.4 1119,1535.3 1118.5,1536.8 1118,1536.3 1117.5,1536.9 1117,1538.4 1116.5,1538 1116,1538.5 1115.5,1540.1 1115,1540.7 1114.5,1541.1 1114,1541.8 1113.5,1542.1 1113,1545.1 1112.5,1547.5 1112,1550.2 1111.5,1548.9 1111,1546.7 1110.5,1545.4 1110,1546.2 1109.5,1545.7 1109,1547.6 1108.5,1548.6 1108,1548.7 1107.5,1548.9 1107,1549 1106.5,1549.8 1106,1551.2 1105.5,1551.8 1105,1552.3 1104.5,1552.3 1104,1555 1103.5,1557.7 1103,1556.6 1102.5,1555.2 1102,1555.2 1101.5,1555.7 1101,1557.2 1100.5,1557 1100,1558.1 1099.5,1557.2 1099,1557.7 1098.5,1556.4 1098,1557.2 1097.5,1557.1 1097,1556.8 1096.5,1558.1 1096,1557.2 1095.5,1558.4 1095,1558.2 1094.5,1558 1094,1557.4 1093.5,1558.4 1093,1558.2 1092.5,1558.1 1092,1557.5 1091.5,1556.8 1091,1557.8 1090.5,1557.2 1090,1556.2 1089.5,1557 1089,1557.4 1088.5,1556.7 1088,1556.4 1087.5,1556.6 1087,1557.4 1086.5,1556.5 1086,1556.7 1085.5,1556.6 1085,1556.8 1084.5,1556.7 1084,1557.2 1083.5,1557.3 1083,1555.8 1082.5,1556.1 1082,1556 1081.5,1555.7 1081,1556.6 1080.5,1557.3 1080,1556.6 1079.5,1556.1 1079,1555.9 1078.5,1556.9 1078,1559 1077.5,1561.2 1077,1563 1076.5,1564.2 1076,1563 1075.5,1560.9 1075,1558.7 1074.5,1556.1 1074,1555.9 1073.5,1555.4 1073,1556 1072.5,1557 1072,1557 1071.5,1557 1071,1556.7 1070.5,1557.5 1070,1557.8 1069.5,1557 1069,1557 1068.5,1557.1 1068,1557.8 1067.5,1558.5 1067,1557.8 1066.5,1557.3 1066,1558.3 1065.5,1557.8 1065,1557.4 1064.5,1557.9 1064,1557.8 1063.5,1558.9 1063,1557.5 1062.5,1561.1 1062,1564.3 1061.5,1568.7 1061,1570.3 1060.5,1573.2 1060,1570.8 1059.5,1567.3 1059,1563.5 1058.5,1560.8 1058,1557.8 1057.5,1559.4 1057,1558.9 1056.5,1559.4 1056,1561.4 1055.5,1562.9 1055,1562.7 1054.5,1560.2 1054,1559.5 1053.5,1561.1 1053,1559.5 1052.5,1558.1 1052,1561.1 1051.5,1562.6 1051,1565.2 1050.5,1567 1050,1565.4 1049.5,1562.5 1049,1561.1 1048.5,1560.4 1048,1557.6 1047.5,1558 1047,1558.1 1046.5,1557.5 1046,1558.5 1045.5,1557.8 1045,1557.6 1044.5,1558 1044,1557.6 1043.5,1556.7 1043,1556.8 1042.5,1557 1042,1557.2 1041.5,1557.8 1041,1557.1 1040.5,1556.9 1040,1556.2 1039.5,1557.4 1039,1556.2 1038.5,1556.7 1038,1555.2 1037.5,1556.6 1037,1556.7 1036.5,1556 1036,1555.8 1035.5,1556.4 1035,1555.8 1034.5,1556.7 1034,1556.5 1033.5,1557 1033,1555.4 1032.5,1556.1 1032,1556.4 1031.5,1555.8 1031,1556.7 1030.5,1556.4 1030,1555.7 1029.5,1557.1 1029,1555.5 1028.5,1555.8 1028,1556.5 1027.5,1556.6 1027,1557 1026.5,1556.7 1026,1557.3 1025.5,1558.8 1025,1559.9 1024.5,1561.2 1024,1560 1023.5,1559.4 1023,1558.8 1022.5,1557.7 1022,1559 1021.5,1557.7 1021,1557.8 1020.5,1557.9 1020,1558.9 1019.5,1558.4 1019,1558.4 1018.5,1559.2 1018,1558.6 1017.5,1560.4 1017,1559.9 1016.5,1560.5 1016,1560.6 1015.5,1562.7 1015,1560.8 1014.5,1560.6 1014,1559.6 1013.5,1559.9 1013,1558 1012.5,1558.1 1012,1558.2 1011.5,1558 1011,1557.7 1010.5,1558.2 1010,1559.2 1009.5,1559.1 1009,1558.1 1008.5,1558.5 1008,1558.5 1007.5,1558.1 1007,1557.8 1006.5,1556.5 1006,1558 1005.5,1557.7 1005,1556.8 1004.5,1556.9 1004,1557.6 1003.5,1557.2 1003,1557.7 1002.5,1557.7 1002,1558.6 1001.5,1558.3 1001,1557.5 1000.5,1558.9 1000,1558.4 999.5,1558.9 999,1558 998.5,1558.1 998,1557.9 997.5,1558.7 997,1557.1 996.5,1557.1 996,1556.1 995.5,1556.8 995,1555.5 994.5,1553.4 994,1549.9 993.5,1544.7 993,1538.6 992.5,1530 992,1517.9 991.5,1504.9 991,1489.5 990.5,1472 990,1456.1 989.5,1438.9 989,1424.8 988.5,1414.6 988,1409.6 987.5,1410.2 987,1417.3 986.5,1429.3 986,1445.6 985.5,1461.5 985,1477.1 984.5,1492 984,1507.9 983.5,1522.2 983,1533.8 982.5,1543 982,1548.8 981.5,1552.3 981,1555 980.5,1557.7 980,1560.4 979.5,1560.3 979,1559.7 978.5,1558.4 978,1558.6 977.5,1558.4 977,1558.6 976.5,1558.1 976,1558.5 975.5,1558.3 975,1559.5 974.5,1561.4 974,1561.7 973.5,1561.9 973,1561 972.5,1560.6 972,1559.4 971.5,1559.6 971,1559.1 970.5,1558 970,1557.6 969.5,1557.9 969,1558 968.5,1559.2 968,1557.2 967.5,1556.8 967,1556.6 966.5,1556.9 966,1556.6 965.5,1556.6 965,1556.9 964.5,1555.3 964,1555.6 963.5,1556.8 963,1555.7 962.5,1556.8 962,1555.4 961.5,1556.7 961,1557.2 960.5,1556.5 960,1559.3 959.5,1561.7 959,1565.2 958.5,1566.6 958,1569.9 957.5,1566.4 957,1565 956.5,1562.2 956,1559.3 955.5,1558 955,1556.8 954.5,1556.9 954,1557.2 953.5,1557.1 953,1557.2 952.5,1556.6 952,1556.2 951.5,1555.9 951,1556.7 950.5,1557 950,1555.8 949.5,1556.2 949,1556.5 948.5,1557.2 948,1555.7 947.5,1556.9 947,1556.2 946.5,1555.7 946,1555.8 945.5,1556.8 945,1556.3 944.5,1557 944,1556.4 943.5,1557.5 943,1558.2 942.5,1558.1 942,1558.1 941.5,1557.2 941,1557.1 940.5,1557.4 940,1556.9 939.5,1557.1 939,1556.5 938.5,1557.8 938,1558 937.5,1557.8 937,1556.7 936.5,1557.8 936,1558.5 935.5,1557.7 935,1558.2 934.5,1557.6 934,1557.6 933.5,1558 933,1557.1 932.5,1557.4 932,1558.4 931.5,1560.2 931,1561 930.5,1562.8 930,1565.7 929.5,1563.3 929,1562.4 928.5,1559 928,1558.2 927.5,1558 927,1557.9 926.5,1557.1 926,1557 925.5,1557.4 925,1557.4 924.5,1558.2 924,1558.3 923.5,1559.5 923,1558.2 922.5,1557.5 922,1558.3 921.5,1557.4 921,1557.4 920.5,1556.2 920,1556.3 919.5,1556.1 919,1555.8 918.5,1555.8 918,1556.8 917.5,1556.2 917,1555.9 916.5,1556.3 916,1555.8 915.5,1556.3 915,1555.9 914.5,1556.6 914,1555.5 913.5,1555.8 913,1556.1 912.5,1556.8 912,1556.6 911.5,1556.4 911,1556.5 910.5,1556.2 910,1557.2 909.5,1556.7 909,1557.1 908.5,1556.3 908,1556.7 907.5,1556.8 907,1556.2 906.5,1555.4 906,1555.6 905.5,1556.5 905,1555.6 904.5,1555.7 904,1557.1 903.5,1556.5 903,1556.7 902.5,1556.8 902,1556.7 901.5,1557.3 901,1557.3 900.5,1556.9 900,1556.6 899.5,1557.2 899,1557.1 898.5,1556.7 898,1556.8 897.5,1557.6 897,1558.3 896.5,1557.4 896,1557.5 895.5,1558.3 895,1558.4 894.5,1557.2 894,1558.1 893.5,1557.3 893,1558.1 892.5,1557.8 892,1557.5 891.5,1556.6 891,1557 890.5,1557.8 890,1557.8 889.5,1556.9 889,1558.1 888.5,1556.5 888,1558.1 887.5,1557.1 887,1556.8 886.5,1556.5 886,1556.8 885.5,1558.6 885,1558.1 884.5,1558.9 884,1559.4 883.5,1559.2 883,1559.2 882.5,1559.7 882,1562.6 881.5,1560.7 881,1560.3 880.5,1557.6 880,1557.9 879.5,1557.5 879,1556.7 878.5,1557.6 878,1556.9 877.5,1557 877,1557.4 876.5,1557.9 876,1556.9 875.5,1556.8 875,1557.6 874.5,1557.9 874,1557.1 873.5,1556.4 873,1556.8" fill="#ef7d0c" stroke="none" stroke-width="0"/>
<polyline points="873,1552.1 874,1552 875,1552.5 876,1552.4 877,1552.1 878,1552.3 879,1552.3 880,1553.2 881,1553.2 882,1552.9 883,1552.9 884,1552.4 885,1551.7 886,1551.9 887,1551.9 888,1552.6 889,1552.6 890,1552.5 891,1552.4 892,1552.9 893,1552.9 894,1552.9 895,1553.1 896,1553.3 897,1552.7 898,1552.5 899,1552.3 900,1552.3 901,1552.3 902,1551.8 903,1551.8 904,1551.9 905,1551.4 906,1551.6 907,1551.8 908,1552 909,1552.5 910,1551.9 911,1551.5 912,1551.8 913,1551.8 914,1551.2 915,1551.1 916,1551.2 917,1551.1 918,1551.3 919,1550.9 920,1551.6 921,1552.2 922,1552.4 923,1552 924,1552 925,1552.4 926,1552.5 927,1552.6 928,1552.5 929,1552.7 930,1552.8 931,1552.5 932,1552.5 933,1552.8 934,1553 935,1552.7 936,1553 937,1552.5 938,1552.5 939,1552.3 940,1552 941,1551.9 942,1551.8 943,1551.7 944,1551.5 945,1551.7 946,1551.9 947,1551.6 948,1551.6 949,1552 950,1551.8 951,1551.8 952,1552.2 953,1551.9 954,1552.6 955,1552.5 956,1552.2 957,1552.2 958,1551.7 959,1552.1 960,1552.1 961,1551.8 962,1551.4 963,1551.6 964,1551.3 965,1551.6 966,1551.7 967,1551.7 968,1552.3 969,1553 970,1552 971,1552.2 972,1552.5 973,1552.7 974,1553.2 975,1553 976,1553 977,1553.5 978,1552.7 979,1552 980,1551.2 981,1548.5 982,1541.1 983,1526.5 984,1502.9 985,1471.3 986,1438.5 987,1413.6 988,1407.4 989,1421.7 990,1450.8 991,1484.3 992,1513.7 993,1533.7 994,1544.6 995,1550 996,1552 997,1553.1 998,1553.3 999,1553.6 1000,1553.6 1001,1553 1002,1553.1 1003,1552.6 1004,1552.6 1005,1552.5 1006,1552.7 1007,1552.5 1008,1552.4 1009,1552.5 1010,1552.4 1011,1552.8 1012,1553.1 1013,1553.2 1014,1553.8 1015,1554.1 1016,1553.7 1017,1554.1 1018,1553.9 1019,1553.4 1020,1553.8 1021,1553.5 1022,1553.7 1023,1553.4 1024,1552.8 1025,1552.6 1026,1552.2 1027,1552.6 1028,1551.8 1029,1551.5 1030,1551.8 1031,1551.8 1032,1551.5 1033,1551.4 1034,1551.9 1035,1551.7 1036,1551.8 1037,1551.6 1038,1551 1039,1551.9 1040,1552 1041,1552.5 1042,1552.5 1043,1552.1 1044,1552.7 1045,1552.7 1046,1553.3 1047,1553.2 1048,1553.4 1049,1553.2 1050,1552.7 1051,1552.5 1052,1552.7 1053,1553.2 1054,1553.3 1055,1553.4 1056,1553 1057,1552.6 1058,1552.4 1059,1552.8 1060,1552.9 1061,1553.5 1062,1553.5 1063,1553.6 1064,1553.1 1065,1553.1 1066,1552.7 1067,1553 1068,1553.1 1069,1553 1070,1552.9 1071,1552.7 1072,1551.8 1073,1551.6 1074,1551.2 1075,1551.3 1076,1551.4 1077,1552.2 1078,1551.8 1079,1551.8 1080,1551.8 1081,1551.9 1082,1551.4 1083,1551.5 1084,1552.2 1085,1551.9 1086,1552.4 1087,1552.6 1088,1552.2 1089,1552.3 1090,1552.2 1091,1552.4 1092,1553 1093,1553.1 1094,1553 1095,1553.2 1096,1553.1 1097,1552.4 1098,1552.1 1099,1551.8 1100,1551.1 1101,1550.4 1102,1549 1103,1547.6 1104,1546.8 1105,1545.8 1106,1545 1107,1544.4 1108,1543.3 1109,1542.6 1110,1541.2 1111,1540.1 1112,1539.3 1113,1538.5 1114,1536.9 1115,1535.6 1116,1534.3 1117,1533.3 1118,1532.2 1119,1530.7 1120,1529.8 1121,1528.2 1122,1527.5 1123,1526.2 1124,1525.6 1125,1524.2 1126,1522.6 1127,1521.4 1128,1520.1 1129,1519 1130,1518.1 1131,1517.1 1132,1515.5 1133,1514.6 1134,1513.1 1135,1512.3 1136,1511.2 1137,1510.2 1138,1508.5 1139,1507.1 1140,1505.6 1141,1504.2 1142,1503.1 1143,1501.1 1144,1499.4 1145,1497.8 1146,1496.1 1147,1494.8 1148,1493.7 1149,1492.7 1150,1491 1151,1490.1 1152,1489.2 1153,1488.1 1154,1486.9 1155,1486.5 1156,1485.8 1157,1485.3 1158,1484.4 1159,1483.6 1160,1482.4 1161,1481.5 1162,1480 1163,1478.7 1164,1478.1 1165,1477.3 1166,1476.2 1167,1475.5 1168,1474.3 1169,1473.4 1170,1473 1171,1472.2 1172,1471.4 1173,1471.2 1174,1471 1175,1470.6 1176,1470 1177,1468.9 1178,1467.8 1179,1467.3 1180,1466 1181,1464.5 1182,1463.1 1183,1461.1 1184,1459.1 1185,1457.2 1186,1455.4 1187,1454.2 1188,1453 1189,1452.5 1190,1451.1 1191,1449.8 1192,1448.9 1193,1443.3 1194,1437.5 1195,1431.8 1196,1425.7 1197,1420.3 1198,1414.7 1199,1408.6 1200,1402.6 1201,1389.1 1202,1375.9 1203,1362.9 1204,1349.8 1205,1335.9 1206,1331.8 1207,1328.5 1208,1325.3 1209,1321.7 1210,1318.3 1211,1315.1 1212,1312.3 1213,1315.6 1214,1319.5 1215,1322.8 1216,1326.3 1217,1330.5 1218,1329.4 1219,1317.4 1220,1305.1 1221,1292.9 1222,1276.6 1223,1260.2 1224,1263.4 1225,1275.7 1226,1287.9 1227,1299.3 1228,1345.3 1229,1417.5 1230,1426 1231,1435.2 1232,1444 1233,1452.4 1234,1453.8 1235,1455.6 1236,1457.1 1237,1458.7 1238,1460.7 1239,1462 1240,1463.7 1241,1464.7 1242,1466.5 1243,1468 1244,1469.5 1245,1471.1 1246,1472.7 1247,1474 1248,1475.1 1249,1475.9 1250,1477.3 1251,1478.3 1252,1478.9 1253,1479.9 1254,1481.2 1255,1482 1256,1482.6 1257,1483.2 1258,1484 1259,1485 1260,1486.2 1261,1486.6 1262,1487.7 1263,1487.9 1264,1488.8 1265,1489.1 1266,1489.6 1267,1489.8 1268,1490.9 1269,1491.1 1270,1491.7 1271,1492.4 1272,1493.6 1273,1494.4 1274,1495.1 1275,1496.2 1276,1497.9 1277,1499.6 1278,1500.4 1279,1502.2 1280,1503.1 1281,1504.2 1282,1505.4 1283,1506.1 1284,1507.9 1285,1508.9 1286,1510 1287,1510.3 1288,1511.1 1289,1511.9 1290,1512.2 1291,1513 1292,1513 1293,1513.3 1294,1513.9 1295,1514.1 1296,1514.9 1297,1514.9 1298,1515.2 1299,1515.8 1300,1516.2 1301,1516.6 1302,1517.1 1303,1517.3 1304,1517.8 1305,1518.1 1306,1518.9 1307,1519.5 1308,1520.3 1309,1520.6 1310,1520.9 1311,1521.6 1312,1522.3 1313,1523.3 1314,1524.1 1315,1525 1316,1524.6 1317,1524.3 1318,1524.6 1319,1524.8 1320,1525.1 1321,1525.3 1322,1525.5 1323,1525.7 1324,1525.9 1325,1526.3 1326,1526.8 1327,1527 1328,1527.8 1329,1528.3 1330,1528.8 1331,1529.6 1332,1529.7 1333,1530.2 1334,1530.9 1335,1531 1336,1531.4 1337,1530.9 1338,1531.5 1339,1531.7 1340,1531.6 1341,1531.8 1342,1532.2 1343,1533.1 1344,1532.8 1345,1532.9 1346,1533.1 1347,1533.2 1348,1533.5 1349,1534 1350,1533.9 1351,1534.1 1352,1534 1353,1533.9 1354,1533.7 1355,1533.8 1356,1534.1 1357,1534.1 1358,1534.3 1359,1534.6 1360,1534.4 1361,1535.1 1362,1535.4 1363,1535.7 1364,1536.2 1365,1536.3 1366,1536.9 1367,1537.3 1368,1537.4 1369,1537.1 1370,1538.1 1371,1538.3 1372,1538.3 1373,1538.1 1374,1537.5 1375,1537.7 1376,1537.8 1377,1537.8 1378,1538.2 1379,1538.4 1380,1538.1 1381,1537.7 1382,1537.9 1383,1538.5 1384,1539.1 1385,1539.7 1386,1540 1387,1540.2 1388,1539.8 1389,1539.9 1390,1540.8 1391,1541.5 1392,1541.9 1393,1542 1394,1542.4 1395,1542.6 1396,1542.5 1397,1542.5 1398,1542.5 1399,1543 1400,1543.1 1401,1543.2 1402,1543.3 1403,1543.3 1404,1543.4 1405,1543.7 1406,1544.2 1407,1544.7 1408,1545.1 1409,1545.4 1410,1546 1411,1546.1 1412,1546.3 1413,1546.3 1414,1546.5 1415,1546.9 1416,1546.6 1417,1547 1418,1546.6 1419,1546.9 1420,1546.8 1421,1546.4 1422,1546.3 1423,1546.4 1424,1546.7 1425,1546.4 1426,1546.8 1427,1546.4 1428,1546.4 1429,1546.5 1430,1546.5 1431,1546.9 1432,1547.4 1433,1547.4 1434,1547.5 1435,1547.4 1436,1547.7 1437,1547.8 1438,1548.1 1439,1547.8 1440,1548.2 1441,1548.1 1442,1548.4 1443,1548.3 1444,1548 1445,1547.8 1446,1547.9 1447,1548 1448,1548 1449,1548.5 1450,1548.3 1451,1548.1 1452,1548.6 1453,1548.6 1454,1549.2 1455,1549.7 1456,1549.5 1457,1549.1 1458,1548.9 1459,1549 1460,1549.1 1461,1549.2 1462,1549.1 1463,1548.7 1464,1548.8 1465,1548.3 1466,1548.1 1467,1548.5 1468,1549.2 1469,1549.2 1470,1548.8 1471,1549.3 1472,1549.1 1473,1548.9 1474,1549.2 1475,1549.2 1476,1549.6 1477,1549.8 1478,1550 1479,1549.7 1480,1549.3 1481,1548.7 1482,1548.8 1483,1548.6 1484,1548.9 1485,1549 1486,1549.5 1487,1549.3 1488,1549.2 1489,1549.5 1490,1550.1 1491,1550.6 1492,1550.4 1493,1550.4 1494,1550.2 1495,1550.4 1496,1550.1 1497,1549.6 1498,1549.4 1499,1549.5 1500,1549.5 1501,1549.6 1502,1549.9 1503,1549.9 1504,1550.3 1505,1550.5 1506,1550.2 1507,1550.6 1508,1550.9 1509,1551.3 1510,1551.5 1511,1552 1512,1552.2 1513,1552.1 1514,1552.3 1515,1552.4 1516,1553.3 1517,1553.4 1518,1553.5" fill="none" stroke="#ef7d0c" stroke-width="4.4" stroke-linejoin="round" stroke-linecap="round" stroke-linecap="butt"/>
<line x1="1040" y1="1592" x2="1486.3" y2="1592" stroke="#65b32e" stroke-width="3"/>
<polygon points="839,1576 839.5,1574.3 840,1576.5 840.5,1577.9 841,1578.9 841.5,1581.8 842,1583.7 842.5,1582.8 843,1582.9 843.5,1584.1 844,1582.6 844.5,1583 845,1582.7 845.5,1583 846,1584.5 846.5,1583.4 847,1583.8 847.5,1582.4 848,1582.7 848.5,1583.7 849,1582.4 849.5,1583.1 850,1582.5 850.5,1582.3 851,1582.3 851.5,1581.7 852,1581.4 852.5,1581.7 853,1582.2 853.5,1582.4 854,1580.7 854.5,1581.4 855,1581.9 855.5,1581.6 856,1581.2 856.5,1581.7 857,1581.8 857.5,1581.4 858,1582 858.5,1579.6 859,1579.1 859.5,1578.3 860,1579.3 860.5,1580.6 861,1582.5 861.5,1581.9 862,1583.3 862.5,1581.1 863,1581.7 863.5,1580.2 864,1581.4 864.5,1581.5 865,1583.7 865.5,1583.2 866,1584 866.5,1583.9 867,1582.3 867.5,1582.3 868,1582.9 868.5,1580.1 869,1579.4 869.5,1578 870,1576 870.5,1577.8 871,1578.3 871.5,1580 872,1581.9 872.5,1582.4 873,1582.6 873.5,1580.9 874,1582.4 874.5,1580.8 875,1580.6 875.5,1578.1 876,1577.3 876.5,1579 877,1581.2 877.5,1581.4 878,1581.7 878.5,1583.5 879,1583.7 879.5,1582.5 880,1583.4 880.5,1582.9 881,1583.7 881.5,1582.9 882,1582.2 882.5,1581.5 883,1582.2 883.5,1583 884,1583.6 884.5,1584.2 885,1584.1 885.5,1584.5 886,1585.3 886.5,1584.3 887,1585.3 887.5,1584.1 888,1584.1 888.5,1583.6 889,1582.6 889.5,1583.7 890,1584 890.5,1582.8 891,1584.3 891.5,1583.2 892,1584.1 892.5,1583.8 893,1583.5 893.5,1583.5 894,1583.7 894.5,1584 895,1584.6 895.5,1582.2 896,1583.4 896.5,1581.9 897,1580.8 897.5,1582.5 898,1582.2 898.5,1582.3 899,1583.1 899.5,1582.8 900,1582.6 900.5,1582.8 901,1582.4 901.5,1581.4 902,1582.2 902.5,1579.9 903,1580.4 903.5,1577.3 904,1574.6 904.5,1572.7 905,1575.5 905.5,1576.4 906,1580.2 906.5,1582.9 907,1582.7 907.5,1582.9 908,1582.5 908.5,1583.2 909,1582.6 909.5,1582.8 910,1583.6 910.5,1582.4 911,1582 911.5,1581.9 912,1583 912.5,1581.4 913,1583.1 913.5,1581.6 914,1580.6 914.5,1581.6 915,1582.2 915.5,1581.7 916,1582.9 916.5,1583.1 917,1582.9 917.5,1581.1 918,1579.9 918.5,1577.6 919,1575 919.5,1577.6 920,1578.5 920.5,1582.3 921,1581.3 921.5,1577.9 922,1577.1 922.5,1575.2 923,1573.6 923.5,1574.4 924,1577.5 924.5,1579.2 925,1580.9 925.5,1582 926,1580.6 926.5,1581.5 927,1580.6 927.5,1580.6 928,1579.9 928.5,1578.7 929,1576.6 929.5,1576.3 930,1576.9 930.5,1579 931,1580.8 931.5,1581.1 932,1581.4 932.5,1582.8 933,1581.5 933.5,1583.2 934,1581.9 934.5,1581.7 935,1582.6 935.5,1581.7 936,1582.6 936.5,1583.5 937,1582.3 937.5,1582.4 938,1581.4 938.5,1583.3 939,1581.4 939.5,1582.4 940,1581.7 940.5,1581.6 941,1581.4 941.5,1582.3 942,1581.7 942.5,1582.7 943,1582.1 943.5,1583 944,1581.5 944.5,1581.8 945,1582.7 945.5,1581.7 946,1581.5 946.5,1581.7 947,1579.2 947.5,1580.4 948,1578.9 948.5,1576.9 949,1574 949.5,1572.6 950,1566.6 950.5,1560.9 951,1554.2 951.5,1547.4 952,1539.5 952.5,1534 953,1528.5 953.5,1527.3 954,1528.4 954.5,1532.8 955,1537.7 955.5,1545.9 956,1552.5 956.5,1561.5 957,1567.5 957.5,1572 958,1575.9 958.5,1579.3 959,1580.1 959.5,1580.7 960,1581.6 960.5,1581.3 961,1581.7 961.5,1581.8 962,1577.8 962.5,1575.4 963,1571.9 963.5,1574.1 964,1578.2 964.5,1582 965,1582.7 965.5,1583.1 966,1583.4 966.5,1583.2 967,1582.2 967.5,1580.7 968,1580.2 968.5,1578.9 969,1579.3 969.5,1580.8 970,1583.7 970.5,1583.7 971,1581.5 971.5,1582.6 972,1582.2 972.5,1582.6 973,1583.2 973.5,1581.8 974,1581.2 974.5,1579.1 975,1575.7 975.5,1573.2 976,1572.1 976.5,1569.6 977,1570.6 977.5,1573.3 978,1576 978.5,1578.9 979,1580.9 979.5,1580.3 980,1580.4 980.5,1581.8 981,1580.5 981.5,1582.2 982,1581.7 982.5,1582.1 983,1580.5 983.5,1581 984,1581.1 984.5,1582.2 985,1582.1 985.5,1581.8 986,1581 986.5,1582.6 987,1582.2 987.5,1583 988,1582.8 988.5,1582.5 989,1582.3 989.5,1582.8 990,1584.7 990.5,1583.6 991,1583.8 991.5,1582.9 992,1583.1 992.5,1582.9 993,1583.8 993.5,1582.7 994,1581.9 994.5,1582.2 995,1583.8 995.5,1583.6 996,1582.4 996.5,1583.2 997,1583.6 997.5,1582.6 998,1583.1 998.5,1583.2 999,1581.3 999.5,1581.7 1000,1580.7 1000.5,1581.3 1001,1581.3 1001.5,1582.3 1002,1581 1002.5,1581 1003,1582.2 1003.5,1582.5 1004,1582.7 1004.5,1581.8 1005,1581.7 1005.5,1581.6 1006,1583 1006.5,1582 1007,1582.9 1007.5,1581.9 1008,1579.8 1008.5,1578.8 1009,1576.9 1009.5,1573 1010,1572.1 1010.5,1573.8 1011,1575.6 1011.5,1577.7 1012,1581.2 1012.5,1581.7 1013,1581.9 1013.5,1583 1014,1582.7 1014.5,1583.9 1015,1582 1015.5,1582.4 1016,1583.6 1016.5,1582.2 1017,1582.6 1017.5,1581.8 1018,1582.1 1018.5,1581.1 1019,1582.1 1019.5,1582.2 1020,1582.3 1020.5,1582.7 1021,1583.1 1021.5,1583.4 1022,1583.3 1022.5,1581.6 1023,1583.4 1023.5,1583.1 1024,1581.3 1024.5,1582.6 1025,1581.1 1025.5,1581.7 1026,1580.6 1026.5,1579.1 1027,1578.9 1027.5,1579.2 1028,1580.9 1028.5,1582 1029,1583 1029.5,1583.8 1030,1583.9 1030.5,1584.1 1031,1583.4 1031.5,1582.6 1032,1579.5 1032.5,1577.9 1033,1575.5 1033.5,1578.5 1034,1580.4 1034.5,1581.6 1035,1580.4 1035.5,1579.3 1036,1580.5 1036.5,1580.8 1037,1583.6 1037.5,1584.1 1038,1583.1 1038.5,1582 1039,1582.7 1039.5,1582.5 1040,1582.5 1040.5,1581.1 1041,1582.9 1041.5,1582.4 1042,1582.6 1042.5,1582.1 1043,1583.1 1043.5,1583 1044,1582.4 1044.5,1582.5 1045,1583.1 1045.5,1581.7 1046,1581.1 1046.5,1580.3 1047,1580.7 1047.5,1580.3 1048,1580.5 1048.5,1581.9 1049,1582.6 1049.5,1581.4 1050,1580.9 1050.5,1580 1051,1579.1 1051.5,1580.2 1052,1578.4 1052.5,1579.8 1053,1580.4 1053.5,1578.8 1054,1580.9 1054.5,1580 1055,1580.4 1055.5,1580.6 1056,1579.3 1056.5,1579.3 1057,1579 1057.5,1580.8 1058,1580.3 1058.5,1580.4 1059,1580.1 1059.5,1579.1 1060,1578.3 1060.5,1580.2 1061,1578.9 1061.5,1578.4 1062,1579.5 1062.5,1579.4 1063,1579 1063.5,1578.2 1064,1579.5 1064.5,1578.2 1065,1579 1065.5,1578.3 1066,1578.4 1066.5,1578 1067,1578.8 1067.5,1578.7 1068,1578.2 1068.5,1578 1069,1578.5 1069.5,1579.2 1070,1576.5 1070.5,1575.7 1071,1573 1071.5,1571.8 1072,1570.1 1072.5,1572.3 1073,1572 1073.5,1573.6 1074,1575.2 1074.5,1573.6 1075,1573.3 1075.5,1570.9 1076,1572.9 1076.5,1573.8 1077,1574.4 1077.5,1577.4 1078,1576.7 1078.5,1575.4 1079,1576.2 1079.5,1576.4 1080,1574.8 1080.5,1575.4 1081,1574.9 1081.5,1573.5 1082,1574.4 1082.5,1572.9 1083,1571.4 1083.5,1573.4 1084,1573.1 1084.5,1573.7 1085,1574.3 1085.5,1574.3 1086,1573.9 1086.5,1573.2 1087,1573.2 1087.5,1574.7 1088,1574.7 1088.5,1574.6 1089,1575 1089.5,1573 1090,1573.1 1090.5,1573.5 1091,1572.9 1091.5,1570.7 1092,1568.6 1092.5,1568.9 1093,1569.6 1093.5,1570.4 1094,1570.7 1094.5,1571.7 1095,1571.1 1095.5,1570.4 1096,1569.4 1096.5,1567.8 1097,1566.1 1097.5,1564.2 1098,1564.8 1098.5,1567.3 1099,1569 1099.5,1568.8 1100,1567.9 1100.5,1566.5 1101,1566.6 1101.5,1568.2 1102,1568.7 1102.5,1567.9 1103,1568.2 1103.5,1567.4 1104,1566.8 1104.5,1566.6 1105,1565.1 1105.5,1566.9 1106,1568.1 1106.5,1569.8 1107,1566.8 1107.5,1566 1108,1565.4 1108.5,1562.8 1109,1564.6 1109.5,1565 1110,1566.3 1110.5,1569.7 1111,1568.9 1111.5,1568.6 1112,1569.8 1112.5,1569.5 1113,1569.7 1113.5,1569.6 1114,1568.9 1114.5,1568.8 1115,1567.3 1115.5,1566.7 1116,1566.8 1116.5,1567 1117,1567.8 1117.5,1566.8 1118,1566.6 1118.5,1568.2 1119,1567.7 1119.5,1567.4 1120,1567.4 1120.5,1567.3 1121,1566.2 1121.5,1567 1122,1566.7 1122.5,1567.5 1123,1567.1 1123.5,1565.6 1124,1565.7 1124.5,1564.8 1125,1567 1125.5,1566.8 1126,1566.6 1126.5,1566.4 1127,1564.5 1127.5,1564.9 1128,1564.1 1128.5,1564.3 1129,1564.6 1129.5,1563.4 1130,1564 1130.5,1563.1 1131,1564.6 1131.5,1563.5 1132,1562.8 1132.5,1563.9 1133,1562.9 1133.5,1563.5 1134,1563.6 1134.5,1562.9 1135,1563.1 1135.5,1563.2 1136,1562.2 1136.5,1563 1137,1563.1 1137.5,1558.8 1138,1556.4 1138.5,1554 1139,1555.8 1139.5,1559.6 1140,1562.3 1140.5,1562 1141,1560.5 1141.5,1559.2 1142,1558.8 1142.5,1557.3 1143,1555.3 1143.5,1556.4 1144,1558.4 1144.5,1559.5 1145,1559.8 1145.5,1559.3 1146,1559.1 1146.5,1557.3 1147,1555.5 1147.5,1552.4 1148,1555 1148.5,1556 1149,1557.4 1149.5,1559.3 1150,1559.8 1150.5,1560 1151,1558.9 1151.5,1560.3 1152,1560.5 1152.5,1558.8 1153,1558.7 1153.5,1558.6 1154,1558.9 1154.5,1556.8 1155,1557.6 1155.5,1556.2 1156,1556.1 1156.5,1555.4 1157,1554.9 1157.5,1555.9 1158,1556.4 1158.5,1554.7 1159,1554.7 1159.5,1555.6 1160,1554.8 1160.5,1554.3 1161,1554.7 1161.5,1553.2 1162,1552.7 1162.5,1552.3 1163,1551.7 1163.5,1550.8 1164,1548.9 1164.5,1546.8 1165,1544.3 1165.5,1542.5 1166,1545.5 1166.5,1547 1167,1548.4 1167.5,1552 1168,1550.2 1168.5,1548.9 1169,1547.3 1169.5,1546.2 1170,1545.2 1170.5,1546.5 1171,1546.4 1171.5,1547.1 1172,1547.6 1172.5,1548.3 1173,1546.8 1173.5,1547.3 1174,1545.8 1174.5,1546.5 1175,1545.6 1175.5,1545.7 1176,1544.1 1176.5,1542.8 1177,1543.3 1177.5,1544.1 1178,1543.8 1178.5,1543.2 1179,1544 1179.5,1543 1180,1543.5 1180.5,1542.8 1181,1541.9 1181.5,1540.6 1182,1540.3 1182.5,1539.6 1183,1539.5 1183.5,1541.4 1184,1541.6 1184.5,1541.4 1185,1540.4 1185.5,1541.1 1186,1539.2 1186.5,1539.3 1187,1537.3 1187.5,1536.8 1188,1536.5 1188.5,1536.9 1189,1534.7 1189.5,1533.7 1190,1531.3 1190.5,1529.4 1191,1525.3 1191.5,1519.8 1192,1512.9 1192.5,1504.8 1193,1492 1193.5,1476 1194,1455.6 1194.5,1430 1195,1402.3 1195.5,1372.3 1196,1343.4 1196.5,1317.7 1197,1296.8 1197.5,1282.6 1198,1277.2 1198.5,1280.6 1199,1294.5 1199.5,1315.6 1200,1341.9 1200.5,1372 1201,1401.9 1201.5,1430.7 1202,1456.5 1202.5,1477.8 1203,1494.2 1203.5,1506.8 1204,1516.7 1204.5,1524.9 1205,1531.5 1205.5,1535.1 1206,1536.6 1206.5,1538.2 1207,1538.9 1207.5,1539.5 1208,1541.1 1208.5,1541.8 1209,1541 1209.5,1542.8 1210,1542.2 1210.5,1543.2 1211,1543 1211.5,1542.7 1212,1544.2 1212.5,1544.9 1213,1543.9 1213.5,1544.7 1214,1543 1214.5,1542.3 1215,1541.8 1215.5,1542.1 1216,1539.8 1216.5,1542 1217,1538.8 1217.5,1537.6 1218,1533.9 1218.5,1537.5 1219,1540.3 1219.5,1543.3 1220,1548.1 1220.5,1548.3 1221,1546.1 1221.5,1544.5 1222,1542.2 1222.5,1542 1223,1543.2 1223.5,1545.2 1224,1548 1224.5,1550.9 1225,1552 1225.5,1551.3 1226,1549.5 1226.5,1548.5 1227,1548.2 1227.5,1547 1228,1547.9 1228.5,1549.3 1229,1553 1229.5,1553.8 1230,1554.7 1230.5,1553.4 1231,1554.1 1231.5,1554.9 1232,1554.6 1232.5,1553.2 1233,1553 1233.5,1554.2 1234,1554.6 1234.5,1554.8 1235,1555.8 1235.5,1554.3 1236,1553.9 1236.5,1553 1237,1554.7 1237.5,1555.5 1238,1556.7 1238.5,1556.1 1239,1557.6 1239.5,1556.6 1240,1557 1240.5,1557 1241,1555.2 1241.5,1555.9 1242,1556.5 1242.5,1555.3 1243,1555.5 1243.5,1556.5 1244,1557.3 1244.5,1558.5 1245,1558.2 1245.5,1558.4 1246,1559.6 1246.5,1558.9 1247,1559.9 1247.5,1559 1248,1560.2 1248.5,1559.5 1249,1558.9 1249.5,1559 1250,1560.4 1250.5,1559.8 1251,1560.7 1251.5,1561.1 1252,1559.7 1252.5,1560.9 1253,1560.7 1253.5,1560.8 1254,1560.3 1254.5,1561.6 1255,1561 1255.5,1561.3 1256,1561 1256.5,1562.2 1257,1560.5 1257.5,1560.4 1258,1561.6 1258.5,1561.9 1259,1560.6 1259.5,1561.2 1260,1561.2 1260.5,1560.5 1261,1560.8 1261.5,1561.2 1262,1562.8 1262.5,1561.9 1263,1562.4 1263.5,1561.5 1264,1563 1264.5,1563.4 1265,1561.6 1265.5,1561.7 1266,1561.7 1266.5,1562.6 1267,1561.7 1267.5,1562 1268,1564 1268.5,1563.3 1269,1562.4 1269.5,1562.6 1270,1561.9 1270.5,1560.4 1271,1561.3 1271.5,1562.1 1272,1563.1 1272.5,1564.2 1273,1564.6 1273.5,1564.9 1274,1566 1274.5,1564.5 1275,1565 1275.5,1565.6 1276,1563.6 1276.5,1565.6 1277,1565.1 1277.5,1563.4 1278,1561.9 1278.5,1563.3 1279,1565.7 1279.5,1566.7 1280,1565.4 1280.5,1565.1 1281,1566.5 1281.5,1565.2 1282,1564 1282.5,1565.4 1283,1564.1 1283.5,1565.8 1284,1565 1284.5,1566.9 1285,1566 1285.5,1566.2 1286,1567.4 1286.5,1567.6 1287,1566.3 1287.5,1566.4 1288,1567.5 1288.5,1567.1 1289,1567.7 1289.5,1567.8 1290,1567.7 1290.5,1568.8 1291,1567.6 1291.5,1568.3 1292,1567.6 1292.5,1568.8 1293,1568.4 1293.5,1565.7 1294,1564.9 1294.5,1562.2 1295,1563.5 1295.5,1566.7 1296,1569.4 1296.5,1570.6 1297,1569.7 1297.5,1570.1 1298,1570.1 1298.5,1571.1 1299,1569.8 1299.5,1569.3 1300,1568.6 1300.5,1567.7 1301,1566.4 1301.5,1567.3 1302,1569.9 1302.5,1570.9 1303,1570.9 1303.5,1571.7 1304,1572.1 1304.5,1570.8 1305,1572.3 1305.5,1570.9 1306,1572.1 1306.5,1571.8 1307,1571.4 1307.5,1571.6 1308,1569.9 1308.5,1568.3 1309,1568.5 1309.5,1567.2 1310,1564.6 1310.5,1568.1 1311,1569 1311.5,1567 1312,1568.8 1312.5,1570.5 1313,1570.9 1313.5,1572.5 1314,1572.5 1314.5,1571.4 1315,1571.9 1315.5,1572.8 1316,1573.5 1316.5,1573 1317,1574.2 1317.5,1573 1318,1573 1318.5,1572.4 1319,1573.5 1319.5,1571.8 1320,1573.8 1320.5,1574.7 1321,1574.1 1321.5,1573.7 1322,1574.5 1322.5,1573.2 1323,1574.5 1323.5,1573.5 1324,1574.3 1324.5,1572.9 1325,1572.8 1325.5,1572.9 1326,1574.1 1326.5,1573.3 1327,1574.4 1327.5,1574.3 1328,1573.3 1328.5,1573.3 1329,1575.1 1329.5,1574.4 1330,1574.5 1330.5,1574 1331,1574.9 1331.5,1574.7 1332,1574 1332.5,1573.6 1333,1574.7 1333.5,1573.7 1334,1575.1 1334.5,1574.6 1335,1575.9 1335.5,1575.4 1336,1575.9 1336.5,1573.5 1337,1572.6 1337.5,1572.8 1338,1571.4 1338.5,1569.7 1339,1572.2 1339.5,1573.3 1340,1573.7 1340.5,1576.1 1341,1575.8 1341.5,1576.1 1342,1574.3 1342.5,1573 1343,1572.7 1343.5,1570 1344,1572.2 1344.5,1574.5 1345,1578.4 1345.5,1576.7 1346,1577.5 1346.5,1577.5 1347,1577.5 1347.5,1579 1348,1578.5 1348.5,1577.2 1349,1578.7 1349.5,1576.9 1350,1578.1 1350.5,1579.1 1351,1578.8 1351.5,1577.8 1352,1578.4 1352.5,1578.6 1353,1577.9 1353.5,1579.6 1354,1578.1 1354.5,1578.1 1355,1578.8 1355.5,1578.8 1356,1578.2 1356.5,1578.6 1357,1578.1 1357.5,1578.4 1358,1578.7 1358.5,1578.4 1359,1578.2 1359.5,1579.4 1360,1579.4 1360.5,1577.2 1361,1577 1361.5,1575.8 1362,1575.2 1362.5,1575.3 1363,1576.8 1363.5,1577.9 1364,1578.4 1364.5,1577.5 1365,1577.9 1365.5,1578.3 1366,1577.6 1366.5,1578.4 1367,1577.8 1367.5,1579.3 1368,1579.8 1368.5,1580 1369,1579.4 1369.5,1578.3 1370,1577.7 1370.5,1576.8 1371,1576.5 1371.5,1575.5 1372,1576.7 1372.5,1577.8 1373,1577.5 1373.5,1577.9 1374,1577.7 1374.5,1578.5 1375,1579.4 1375.5,1579.5 1376,1580.5 1376.5,1580.3 1377,1581.6 1377.5,1581.6 1378,1580.3 1378.5,1580.2 1379,1580.5 1379.5,1579.6 1380,1579.7 1380.5,1579.2 1381,1579.9 1381.5,1580.4 1382,1579.9 1382.5,1581.1 1383,1580.2 1383.5,1580.4 1384,1578.5 1384.5,1578.7 1385,1577.6 1385.5,1577.3 1386,1577.7 1386.5,1577.9 1387,1579.7 1387.5,1578.6 1388,1579.5 1388.5,1579.7 1389,1579.1 1389.5,1580.3 1390,1580.9 1390.5,1580.1 1391,1580.8 1391.5,1579.6 1392,1579.5 1392.5,1577.4 1393,1576.5 1393.5,1576.1 1394,1577.6 1394.5,1579.4 1395,1579 1395.5,1577.3 1396,1576.5 1396.5,1574.8 1397,1572.5 1397.5,1573.9 1398,1576.9 1398.5,1579.5 1399,1582.1 1399.5,1581.8 1400,1581 1400.5,1581.9 1401,1581.9 1401.5,1581.2 1402,1579.4 1402.5,1579.9 1403,1579.1 1403.5,1579.4 1404,1580.1 1404.5,1579.4 1405,1581.4 1405.5,1581.1 1406,1580.2 1406.5,1580.3 1407,1581.9 1407.5,1580.1 1408,1580.5 1408.5,1580.3 1409,1579.8 1409.5,1579.4 1410,1579.7 1410.5,1578 1411,1579.4 1411.5,1580.7 1412,1579 1412.5,1579.1 1413,1577 1413.5,1574.6 1414,1577.1 1414.5,1579.3 1415,1581.2 1415.5,1581.2 1416,1580.5 1416.5,1580.5 1417,1580.7 1417.5,1579.6 1418,1580.8 1418.5,1579.8 1419,1580.2 1419.5,1581.2 1420,1581 1420.5,1579.7 1421,1578.9 1421.5,1572.6 1422,1564.7 1422.5,1560.2 1423,1565.3 1423.5,1571 1424,1581.9 1424.5,1580.1 1425,1579.5 1425.5,1579.4 1426,1578.4 1426.5,1580.2 1427,1580.1 1427.5,1580.8 1428,1580.3 1428.5,1581.8 1429,1580.7 1429.5,1580.8 1430,1580.5 1430.5,1582 1431,1581.3 1431.5,1578.6 1432,1576.1 1432.5,1575.8 1433,1576.9 1433.5,1579.1 1434,1581.1 1434.5,1580.4 1435,1580.3 1435.5,1580.1 1436,1580.8 1436.5,1580.4 1437,1580.7 1437.5,1579.8 1438,1581.1 1438.5,1580.9 1439,1581.5 1439.5,1580.5 1440,1581.4 1440.5,1579.8 1441,1581.3 1441.5,1579.9 1442,1580.8 1442.5,1580.5 1443,1579.2 1443.5,1578.7 1444,1579 1444.5,1578.5 1445,1575.6 1445.5,1574.7 1446,1575.4 1446.5,1578.5 1447,1579.6 1447.5,1580.7 1448,1581.7 1448.5,1581.7 1449,1582.8 1449.5,1582.9 1450,1582.1 1450.5,1583 1451,1581.8 1451.5,1582.1 1452,1578.4 1452.5,1576.7 1453,1573.1 1453.5,1577.3 1454,1579.4 1454.5,1583 1455,1583.1 1455.5,1583.3 1456,1583 1456.5,1582 1457,1583.5 1457.5,1583 1458,1583.4 1458.5,1582.2 1459,1582.7 1459.5,1583.5 1460,1582 1460.5,1581.8 1461,1581.6 1461.5,1582.1 1462,1582.5 1462.5,1582.1 1463,1582.9 1463.5,1581.5 1464,1581.7 1464.5,1581.4 1465,1582.8 1465.5,1581 1466,1581.6 1466.5,1580.6 1467,1581.1 1467.5,1580.3 1468,1580.9 1468.5,1581.5 1469,1580.7 1469.5,1580.9 1470,1580.6 1470.5,1580 1471,1579.7 1471.5,1581.2 1472,1579.2 1472.5,1580.8 1473,1580.9 1473.5,1581 1474,1582.3 1474.5,1581.9 1475,1582.6 1475.5,1582.6 1476,1581.1 1476.5,1583.4 1477,1582.2 1477.5,1582.9 1478,1581.7 1478.5,1580.2 1479,1580.5 1479.5,1578.6 1480,1577 1480.5,1578.1 1481,1580.2 1481.5,1582.1 1482,1582.8 1482.5,1582.4 1483,1582.6 1483.5,1580.7 1484,1580 1484.5,1578.5 1485,1579.2 1485.5,1578.3 1486,1578.1 1486,1593.7 1485.5,1593.4 1485,1593.3 1484.5,1592.8 1484,1592.6 1483.5,1596.1 1483,1597.1 1482.5,1599.9 1482,1600.6 1481.5,1599.6 1481,1598.6 1480.5,1595.5 1480,1593.5 1479.5,1594.7 1479,1593.2 1478.5,1594.2 1478,1594.5 1477.5,1594.4 1477,1593.8 1476.5,1593.1 1476,1593 1475.5,1593.2 1475,1592.9 1474.5,1592.5 1474,1594.2 1473.5,1592.2 1473,1593.5 1472.5,1592.4 1472,1593 1471.5,1591.9 1471,1593.2 1470.5,1593.1 1470,1592 1469.5,1593.4 1469,1593.1 1468.5,1591.4 1468,1592 1467.5,1592.4 1467,1591.3 1466.5,1592.3 1466,1591.9 1465.5,1592.6 1465,1592.3 1464.5,1593.9 1464,1592.6 1463.5,1595.3 1463,1596.7 1462.5,1598.9 1462,1597.5 1461.5,1595.6 1461,1595.8 1460.5,1593.4 1460,1593.3 1459.5,1594.1 1459,1593.1 1458.5,1593 1458,1594 1457.5,1594.6 1457,1593.9 1456.5,1594.6 1456,1594.9 1455.5,1598.1 1455,1598.2 1454.5,1596.4 1454,1595.5 1453.5,1593.9 1453,1593.7 1452.5,1593.6 1452,1593.8 1451.5,1595.1 1451,1595.5 1450.5,1597 1450,1596.3 1449.5,1596.7 1449,1596 1448.5,1595.7 1448,1596 1447.5,1595.7 1447,1593.4 1446.5,1595.3 1446,1595.8 1445.5,1594.9 1445,1593.6 1444.5,1592.8 1444,1592 1443.5,1592.3 1443,1594.3 1442.5,1594.2 1442,1593.4 1441.5,1592.4 1441,1592.7 1440.5,1592.9 1440,1592 1439.5,1592.5 1439,1591.4 1438.5,1591.8 1438,1591.5 1437.5,1592.6 1437,1591.8 1436.5,1592.9 1436,1592.7 1435.5,1592.4 1435,1593.3 1434.5,1592.2 1434,1595.1 1433.5,1598.9 1433,1600.8 1432.5,1601.9 1432,1601 1431.5,1598 1431,1595 1430.5,1593.7 1430,1592.3 1429.5,1591.4 1429,1592.6 1428.5,1592.6 1428,1592.1 1427.5,1591.7 1427,1592.3 1426.5,1591.9 1426,1592.6 1425.5,1592.2 1425,1591.8 1424.5,1591.7 1424,1592.4 1423.5,1593 1423,1593.9 1422.5,1594.1 1422,1593.7 1421.5,1593.1 1421,1593.3 1420.5,1592.7 1420,1592 1419.5,1592.5 1419,1591.6 1418.5,1592.7 1418,1592.2 1417.5,1591.9 1417,1591.9 1416.5,1593.2 1416,1592.7 1415.5,1592.8 1415,1592.6 1414.5,1592.6 1414,1592.6 1413.5,1591.4 1413,1591.9 1412.5,1593 1412,1592.5 1411.5,1592.7 1411,1591.6 1410.5,1592.2 1410,1592.5 1409.5,1592.1 1409,1591.7 1408.5,1591.8 1408,1591.6 1407.5,1591.8 1407,1591.7 1406.5,1591.9 1406,1591.9 1405.5,1591.4 1405,1591 1404.5,1592.4 1404,1591.2 1403.5,1592.8 1403,1592.5 1402.5,1591.3 1402,1591.2 1401.5,1592 1401,1593.1 1400.5,1592.7 1400,1593.5 1399.5,1591.6 1399,1591.7 1398.5,1594.1 1398,1595.3 1397.5,1598.3 1397,1599 1396.5,1597.8 1396,1596.7 1395.5,1593.3 1395,1592.9 1394.5,1593 1394,1592.3 1393.5,1593.2 1393,1591.6 1392.5,1593 1392,1590.9 1391.5,1590.9 1391,1591.6 1390.5,1591.8 1390,1591.1 1389.5,1591.2 1389,1591.1 1388.5,1591.4 1388,1591.5 1387.5,1590.1 1387,1590.7 1386.5,1592.2 1386,1590.4 1385.5,1590 1385,1591.1 1384.5,1591 1384,1591.9 1383.5,1591.2 1383,1590.9 1382.5,1591.9 1382,1592.7 1381.5,1592.2 1381,1591.1 1380.5,1591.7 1380,1592.1 1379.5,1590.5 1379,1592.5 1378.5,1591.9 1378,1591.9 1377.5,1594.6 1377,1595.1 1376.5,1594.6 1376,1596.8 1375.5,1596.5 1375,1600.7 1374.5,1604.1 1374,1608.3 1373.5,1604.3 1373,1601.3 1372.5,1596.4 1372,1592.9 1371.5,1590.6 1371,1590.9 1370.5,1590.1 1370,1592.1 1369.5,1595.1 1369,1595.6 1368.5,1598.3 1368,1598.7 1367.5,1597.9 1367,1596.4 1366.5,1593.3 1366,1592 1365.5,1591.2 1365,1590.7 1364.5,1593.4 1364,1595 1363.5,1598.1 1363,1594.1 1362.5,1591.5 1362,1590.1 1361.5,1590.2 1361,1590 1360.5,1589 1360,1589.8 1359.5,1589 1359,1589.4 1358.5,1590.9 1358,1590.8 1357.5,1590.6 1357,1590.7 1356.5,1589.3 1356,1590.2 1355.5,1588.7 1355,1590.9 1354.5,1589.8 1354,1593.7 1353.5,1596.3 1353,1599.7 1352.5,1602.3 1352,1599.7 1351.5,1596.4 1351,1593.3 1350.5,1592.6 1350,1590.1 1349.5,1588.1 1349,1588.4 1348.5,1589 1348,1588.4 1347.5,1589.8 1347,1589 1346.5,1590.3 1346,1589.2 1345.5,1589.8 1345,1590.2 1344.5,1589.2 1344,1587.9 1343.5,1588.6 1343,1588.8 1342.5,1588.3 1342,1588.2 1341.5,1587.3 1341,1587 1340.5,1588.5 1340,1587.1 1339.5,1587.7 1339,1586.8 1338.5,1586.1 1338,1586 1337.5,1586.6 1337,1585.6 1336.5,1587 1336,1587 1335.5,1588.4 1335,1588.7 1334.5,1587.2 1334,1586.6 1333.5,1587.1 1333,1586.2 1332.5,1585.8 1332,1584.9 1331.5,1584.8 1331,1586.3 1330.5,1586.5 1330,1587.1 1329.5,1587.3 1329,1588.5 1328.5,1587.6 1328,1585.9 1327.5,1585.3 1327,1584.9 1326.5,1584.4 1326,1586.3 1325.5,1585.9 1325,1585.7 1324.5,1584.9 1324,1585.7 1323.5,1584.8 1323,1585.8 1322.5,1585 1322,1585.3 1321.5,1585.9 1321,1585 1320.5,1586 1320,1585.6 1319.5,1584.5 1319,1585.3 1318.5,1584.5 1318,1585.9 1317.5,1584.3 1317,1588.5 1316.5,1592.3 1316,1593.3 1315.5,1591.1 1315,1589.1 1314.5,1584.9 1314,1583.9 1313.5,1583.5 1313,1585.3 1312.5,1584 1312,1583.1 1311.5,1583 1311,1583.8 1310.5,1583.9 1310,1583.5 1309.5,1582.6 1309,1584 1308.5,1584.7 1308,1586.9 1307.5,1586.9 1307,1587.9 1306.5,1586.1 1306,1586.1 1305.5,1585.6 1305,1584.1 1304.5,1583.5 1304,1581.9 1303.5,1583.3 1303,1583.2 1302.5,1582 1302,1582.2 1301.5,1584.9 1301,1588.4 1300.5,1589.9 1300,1587 1299.5,1583.7 1299,1582.8 1298.5,1581.5 1298,1581.7 1297.5,1580.9 1297,1581.9 1296.5,1581.9 1296,1581.4 1295.5,1582.1 1295,1581.2 1294.5,1581.6 1294,1579.9 1293.5,1581.2 1293,1580.8 1292.5,1580.1 1292,1580.7 1291.5,1580.2 1291,1580.2 1290.5,1579.6 1290,1579.7 1289.5,1578.2 1289,1578.9 1288.5,1578.4 1288,1579.4 1287.5,1579.2 1287,1578.6 1286.5,1579.1 1286,1578.9 1285.5,1577.6 1285,1577.4 1284.5,1577.4 1284,1577.6 1283.5,1577 1283,1577.8 1282.5,1576.8 1282,1577 1281.5,1575.9 1281,1577.9 1280.5,1579.2 1280,1579 1279.5,1578.3 1279,1580.6 1278.5,1578.7 1278,1577 1277.5,1575.7 1277,1575.7 1276.5,1575.9 1276,1575.6 1275.5,1576.8 1275,1575.3 1274.5,1576.2 1274,1576.8 1273.5,1577.2 1273,1575.2 1272.5,1575.7 1272,1575.9 1271.5,1576.2 1271,1575.8 1270.5,1574.6 1270,1575.4 1269.5,1575.2 1269,1575.3 1268.5,1573.9 1268,1574.2 1267.5,1574.6 1267,1575.6 1266.5,1574.2 1266,1574.9 1265.5,1575.9 1265,1575 1264.5,1574.3 1264,1573.2 1263.5,1573.5 1263,1574 1262.5,1574.7 1262,1573.9 1261.5,1573.2 1261,1572.8 1260.5,1574.3 1260,1574.9 1259.5,1576.9 1259,1574.9 1258.5,1575.5 1258,1575.5 1257.5,1577 1257,1575.6 1256.5,1574.2 1256,1573.5 1255.5,1572.8 1255,1573.5 1254.5,1573.5 1254,1573.2 1253.5,1574.1 1253,1573.5 1252.5,1573.3 1252,1572.4 1251.5,1572.6 1251,1571.1 1250.5,1571.8 1250,1570.3 1249.5,1570.2 1249,1570.7 1248.5,1571.9 1248,1571.9 1247.5,1571.3 1247,1570.3 1246.5,1570.7 1246,1569.8 1245.5,1569.4 1245,1570.9 1244.5,1570.6 1244,1570.9 1243.5,1569 1243,1569.3 1242.5,1568.7 1242,1573.7 1241.5,1575.8 1241,1577.6 1240.5,1578.7 1240,1576.9 1239.5,1574.8 1239,1572.9 1238.5,1569.3 1238,1568.4 1237.5,1567.5 1237,1567.8 1236.5,1568.2 1236,1568 1235.5,1566.3 1235,1567.7 1234.5,1567.8 1234,1567.6 1233.5,1567.5 1233,1566.3 1232.5,1567.1 1232,1566.9 1231.5,1566.9 1231,1567.1 1230.5,1567.1 1230,1566.2 1229.5,1565.9 1229,1565.3 1228.5,1564.3 1228,1565.2 1227.5,1564.3 1227,1564.1 1226.5,1562.6 1226,1562.6 1225.5,1562.6 1225,1562 1224.5,1561.3 1224,1561.9 1223.5,1560.1 1223,1559.5 1222.5,1560.9 1222,1559.2 1221.5,1559 1221,1558.2 1220.5,1559.4 1220,1559.5 1219.5,1557.8 1219,1558 1218.5,1558.8 1218,1557.3 1217.5,1556.9 1217,1557.8 1216.5,1558 1216,1556.5 1215.5,1555.9 1215,1556.1 1214.5,1555.6 1214,1556.3 1213.5,1555.7 1213,1555 1212.5,1555.3 1212,1555.5 1211.5,1554.4 1211,1554.7 1210.5,1554.5 1210,1553.5 1209.5,1553.7 1209,1552.5 1208.5,1551.6 1208,1551 1207.5,1551 1207,1550 1206.5,1548.6 1206,1548.5 1205.5,1546.4 1205,1542.1 1204.5,1536.4 1204,1527.6 1203.5,1517.7 1203,1501.9 1202.5,1482.1 1202,1459.3 1201.5,1433.5 1201,1405.1 1200.5,1374.5 1200,1344.6 1199.5,1319.5 1199,1299.6 1198.5,1286.4 1198,1282.1 1197.5,1286.6 1197,1299.9 1196.5,1320.2 1196,1345.9 1195.5,1375.2 1195,1404.8 1194.5,1432.9 1194,1458.5 1193.5,1480 1193,1499.2 1192.5,1514.9 1192,1526 1191.5,1533.9 1191,1538.1 1190.5,1542.9 1190,1545.2 1189.5,1546.8 1189,1547.6 1188.5,1547.1 1188,1547.7 1187.5,1548.1 1187,1548.4 1186.5,1550.1 1186,1550.2 1185.5,1551.9 1185,1552.5 1184.5,1552 1184,1555.3 1183.5,1555.7 1183,1555.7 1182.5,1556.3 1182,1555.5 1181.5,1554.4 1181,1555 1180.5,1555.6 1180,1554.7 1179.5,1556 1179,1554.7 1178.5,1554.8 1178,1556.7 1177.5,1557.3 1177,1556.3 1176.5,1555.7 1176,1557.1 1175.5,1558.9 1175,1557.6 1174.5,1557.8 1174,1558.2 1173.5,1557.8 1173,1559.7 1172.5,1559.6 1172,1560.3 1171.5,1559.4 1171,1560 1170.5,1561.9 1170,1563 1169.5,1563.4 1169,1563.1 1168.5,1563.9 1168,1562.7 1167.5,1562.7 1167,1562.6 1166.5,1563.5 1166,1564.1 1165.5,1563.8 1165,1563.5 1164.5,1565.6 1164,1566.7 1163.5,1566.8 1163,1566.5 1162.5,1566 1162,1566.9 1161.5,1569.2 1161,1571.2 1160.5,1570.6 1160,1569.4 1159.5,1567 1159,1566.3 1158.5,1566.6 1158,1567.9 1157.5,1568.3 1157,1566.6 1156.5,1566.9 1156,1567.1 1155.5,1568.3 1155,1569.9 1154.5,1570.4 1154,1570.5 1153.5,1569.8 1153,1569.5 1152.5,1570.9 1152,1570.4 1151.5,1571 1151,1570.7 1150.5,1571.4 1150,1571.8 1149.5,1571.4 1149,1571 1148.5,1571.3 1148,1570.4 1147.5,1571.7 1147,1571.4 1146.5,1571.9 1146,1572.2 1145.5,1572.5 1145,1571.9 1144.5,1572.7 1144,1572.9 1143.5,1573 1143,1572.9 1142.5,1573.3 1142,1573 1141.5,1572.3 1141,1573.6 1140.5,1573 1140,1573.6 1139.5,1574.1 1139,1573.4 1138.5,1574.3 1138,1573.2 1137.5,1573.4 1137,1573.8 1136.5,1574.4 1136,1574.7 1135.5,1574 1135,1574.3 1134.5,1574.6 1134,1574 1133.5,1574.3 1133,1575.4 1132.5,1575.7 1132,1574.1 1131.5,1575.6 1131,1575.6 1130.5,1576.1 1130,1575.8 1129.5,1575.4 1129,1575.6 1128.5,1575.6 1128,1575.8 1127.5,1576.7 1127,1576.3 1126.5,1577.5 1126,1577.3 1125.5,1578.1 1125,1576.9 1124.5,1577.6 1124,1576.4 1123.5,1577 1123,1576.8 1122.5,1576.9 1122,1577.4 1121.5,1578.2 1121,1578.4 1120.5,1577.9 1120,1578.5 1119.5,1579 1119,1579.1 1118.5,1579 1118,1579 1117.5,1578.9 1117,1579.3 1116.5,1579.8 1116,1578.5 1115.5,1577.8 1115,1579.5 1114.5,1579 1114,1579.4 1113.5,1580.1 1113,1579.8 1112.5,1580.8 1112,1579.3 1111.5,1579.3 1111,1579 1110.5,1580 1110,1580.5 1109.5,1579.8 1109,1579 1108.5,1579.4 1108,1580.9 1107.5,1579.6 1107,1580.7 1106.5,1580.1 1106,1580.4 1105.5,1579.7 1105,1581.8 1104.5,1580.4 1104,1580.7 1103.5,1579.4 1103,1580 1102.5,1580.9 1102,1580.7 1101.5,1579.9 1101,1580 1100.5,1580.3 1100,1580.4 1099.5,1580.7 1099,1581.6 1098.5,1582.5 1098,1582.7 1097.5,1582.1 1097,1587.8 1096.5,1591.5 1096,1596.6 1095.5,1592.3 1095,1588.5 1094.5,1583.6 1094,1583.9 1093.5,1584.9 1093,1584.2 1092.5,1585.2 1092,1584.1 1091.5,1585.6 1091,1583.9 1090.5,1584.3 1090,1584 1089.5,1584.5 1089,1585 1088.5,1585.1 1088,1584 1087.5,1584.6 1087,1585.4 1086.5,1586 1086,1585.6 1085.5,1586.3 1085,1587.9 1084.5,1588.4 1084,1588.8 1083.5,1588.3 1083,1587.3 1082.5,1586.5 1082,1586.9 1081.5,1587.7 1081,1587.4 1080.5,1586.7 1080,1587.2 1079.5,1587.2 1079,1587.3 1078.5,1587.4 1078,1587.4 1077.5,1586.9 1077,1587.7 1076.5,1587.5 1076,1587.6 1075.5,1587.3 1075,1587 1074.5,1586.9 1074,1587.8 1073.5,1588.6 1073,1588.3 1072.5,1588.6 1072,1588.4 1071.5,1588.6 1071,1589.7 1070.5,1589.6 1070,1588.6 1069.5,1589 1069,1588.9 1068.5,1589.6 1068,1589.1 1067.5,1589.3 1067,1589.5 1066.5,1589.2 1066,1589.8 1065.5,1590.1 1065,1590.5 1064.5,1589.6 1064,1589.2 1063.5,1589.3 1063,1590.4 1062.5,1590.1 1062,1590.5 1061.5,1591.3 1061,1597.6 1060.5,1604.6 1060,1611.4 1059.5,1618 1059,1611.4 1058.5,1605.5 1058,1597.9 1057.5,1591.7 1057,1590.8 1056.5,1591.6 1056,1590.9 1055.5,1590.4 1055,1591.3 1054.5,1590.2 1054,1592.1 1053.5,1591.8 1053,1592.7 1052.5,1592.5 1052,1591.4 1051.5,1591.6 1051,1592 1050.5,1593 1050,1592.8 1049.5,1592.5 1049,1593.9 1048.5,1592.3 1048,1594.1 1047.5,1593.6 1047,1593 1046.5,1593 1046,1593.6 1045.5,1593.9 1045,1592.9 1044.5,1593.4 1044,1594.7 1043.5,1594.6 1043,1594.7 1042.5,1594.4 1042,1594.1 1041.5,1595.1 1041,1594.6 1040.5,1594.2 1040,1593.7 1039.5,1594.1 1039,1593.5 1038.5,1594 1038,1593.8 1037.5,1593.9 1037,1594.5 1036.5,1594.7 1036,1595 1035.5,1595 1035,1594.3 1034.5,1594.3 1034,1595.3 1033.5,1593.8 1033,1594.1 1032.5,1595.1 1032,1594 1031.5,1594.3 1031,1594.2 1030.5,1594.6 1030,1594.7 1029.5,1595 1029,1594.6 1028.5,1595.5 1028,1594.3 1027.5,1594.8 1027,1594.1 1026.5,1593.2 1026,1594.4 1025.5,1593.5 1025,1592.8 1024.5,1593.5 1024,1593.3 1023.5,1593.5 1023,1593.5 1022.5,1593.2 1022,1593.2 1021.5,1594.9 1021,1594.1 1020.5,1594.7 1020,1595.8 1019.5,1595.2 1019,1595.3 1018.5,1593.6 1018,1594.3 1017.5,1592.9 1017,1595.3 1016.5,1594 1016,1596.4 1015.5,1598.8 1015,1601.5 1014.5,1599.2 1014,1596.5 1013.5,1594.5 1013,1595 1012.5,1593.5 1012,1592.9 1011.5,1593.8 1011,1593.3 1010.5,1593.4 1010,1593.2 1009.5,1593.9 1009,1592.8 1008.5,1594.6 1008,1593.8 1007.5,1593.6 1007,1594.3 1006.5,1594.2 1006,1594.4 1005.5,1592.5 1005,1593.2 1004.5,1593.6 1004,1593.5 1003.5,1594.2 1003,1593.2 1002.5,1594.1 1002,1593.1 1001.5,1592.6 1001,1592.8 1000.5,1592.4 1000,1593.7 999.5,1593.3 999,1593.4 998.5,1592.8 998,1594.5 997.5,1594.1 997,1594.2 996.5,1593.8 996,1593.9 995.5,1593.7 995,1593.4 994.5,1593.5 994,1593 993.5,1594.7 993,1594.9 992.5,1594.4 992,1595.4 991.5,1593.8 991,1594.3 990.5,1595 990,1595.2 989.5,1595 989,1595 988.5,1594.5 988,1593.9 987.5,1594.6 987,1593.6 986.5,1593.8 986,1593.1 985.5,1593.5 985,1594.2 984.5,1593.8 984,1593.3 983.5,1592.2 983,1593.3 982.5,1592.9 982,1592 981.5,1592.4 981,1592.9 980.5,1591.1 980,1592.4 979.5,1592.5 979,1591.9 978.5,1591.4 978,1592.9 977.5,1592.2 977,1591.4 976.5,1591.6 976,1592.5 975.5,1592.8 975,1592.9 974.5,1594.9 974,1595 973.5,1594.1 973,1593.9 972.5,1595 972,1593.5 971.5,1592.8 971,1592.9 970.5,1593.9 970,1593.9 969.5,1593.4 969,1592.7 968.5,1593.1 968,1594.7 967.5,1594.2 967,1593.9 966.5,1594.3 966,1594.3 965.5,1593.3 965,1594.9 964.5,1594.3 964,1594 963.5,1593.5 963,1594.7 962.5,1604.1 962,1607.5 961.5,1614 961,1619.5 960.5,1613.3 960,1607.2 959.5,1601.7 959,1596.4 958.5,1590.1 958,1587.3 957.5,1584 957,1579.1 956.5,1572.6 956,1564.9 955.5,1556.2 955,1550.4 954.5,1543.3 954,1538.7 953.5,1538.7 953,1540.1 952.5,1544.2 952,1550.5 951.5,1557.6 951,1565.2 950.5,1572.9 950,1579.7 949.5,1583.7 949,1588.6 948.5,1590.6 948,1595 947.5,1594.1 947,1593.5 946.5,1591.7 946,1593.5 945.5,1593.1 945,1593.9 944.5,1593.1 944,1594 943.5,1593.6 943,1593.3 942.5,1593.3 942,1593.8 941.5,1594.5 941,1593.2 940.5,1594 940,1595.6 939.5,1595.7 939,1596.6 938.5,1594.8 938,1594.4 937.5,1595 937,1594.9 936.5,1593.3 936,1593.3 935.5,1592.7 935,1594.2 934.5,1593.2 934,1593.9 933.5,1592.6 933,1593.7 932.5,1594 932,1593.2 931.5,1593.7 931,1593.4 930.5,1593.8 930,1593.4 929.5,1592.5 929,1592 928.5,1591.9 928,1592.2 927.5,1592.7 927,1592.8 926.5,1592.8 926,1592.7 925.5,1592.4 925,1593.3 924.5,1592 924,1593.9 923.5,1593.1 923,1594.3 922.5,1593.9 922,1594.4 921.5,1593.4 921,1594 920.5,1593.4 920,1592.5 919.5,1592.4 919,1592.7 918.5,1593 918,1593.9 917.5,1593.2 917,1593.5 916.5,1593.6 916,1593 915.5,1592.8 915,1594.5 914.5,1592.3 914,1592.7 913.5,1593.7 913,1592.7 912.5,1594.3 912,1594.6 911.5,1594.4 911,1594 910.5,1594 910,1595 909.5,1594.8 909,1594.5 908.5,1594.5 908,1592.8 907.5,1594.7 907,1594.9 906.5,1595.4 906,1595.4 905.5,1594.4 905,1594.7 904.5,1593.2 904,1595.4 903.5,1595.3 903,1595.9 902.5,1595.9 902,1594.7 901.5,1594.9 901,1595.7 900.5,1594.5 900,1594.7 899.5,1595.8 899,1595.1 898.5,1595.2 898,1594.4 897.5,1596.1 897,1597.9 896.5,1599.5 896,1602.1 895.5,1603.3 895,1601.7 894.5,1600.3 894,1599.6 893.5,1597.8 893,1595.9 892.5,1594.6 892,1594.6 891.5,1594 891,1595.3 890.5,1595 890,1593.7 889.5,1595.2 889,1595.1 888.5,1593.6 888,1595.2 887.5,1594.6 887,1595.3 886.5,1596.8 886,1596.7 885.5,1595.7 885,1594.8 884.5,1596.5 884,1596.7 883.5,1597.4 883,1597.8 882.5,1597.3 882,1597.4 881.5,1598.1 881,1599.3 880.5,1597.9 880,1596.3 879.5,1595.7 879,1594.2 878.5,1594.4 878,1594.2 877.5,1593.4 877,1594.1 876.5,1593.6 876,1593.4 875.5,1592.5 875,1592.5 874.5,1592.6 874,1593.9 873.5,1593.2 873,1593.7 872.5,1593.6 872,1593.8 871.5,1594.1 871,1594.4 870.5,1594.5 870,1593.8 869.5,1594.6 869,1595 868.5,1594.2 868,1594.8 867.5,1594.4 867,1595.1 866.5,1595.7 866,1595 865.5,1596.4 865,1594.4 864.5,1595.2 864,1593.7 863.5,1594.1 863,1593.4 862.5,1594.8 862,1595.1 861.5,1593.6 861,1594.7 860.5,1593.5 860,1594.2 859.5,1593.6 859,1593 858.5,1592.3 858,1592.9 857.5,1593.4 857,1592.6 856.5,1593.3 856,1593.9 855.5,1593.7 855,1593.7 854.5,1592.4 854,1593.1 853.5,1593.5 853,1593.4 852.5,1594 852,1592.8 851.5,1594.1 851,1594.2 850.5,1594.1 850,1593.7 849.5,1593.2 849,1595 848.5,1595.5 848,1594.6 847.5,1594.9 847,1595.3 846.5,1594.2 846,1594.4 845.5,1595.2 845,1595.2 844.5,1593.8 844,1595.6 843.5,1597.4 843,1599.2 842.5,1597.6 842,1596.3 841.5,1598.2 841,1596.8 840.5,1595.4 840,1594.8 839.5,1593.5 839,1593.2" fill="#65b32e" stroke="none" stroke-width="0"/>
<polyline points="839,1588.1 840,1588.1 841,1588.1 842,1588.5 843,1588.9 844,1588.6 845,1588.8 846,1589.2 847,1588.8 848,1588.7 849,1588.2 850,1588 851,1588.1 852,1587.8 853,1587.6 854,1587.1 855,1587.4 856,1587.1 857,1587.3 858,1587.8 859,1588.3 860,1588.1 861,1588.4 862,1588.9 863,1588.2 864,1588.1 865,1588.9 866,1588.9 867,1589.2 868,1588.7 869,1588.6 870,1588.1 871,1588.1 872,1587.8 873,1587.7 874,1587.6 875,1587.6 876,1587.2 877,1587.8 878,1588 879,1588.7 880,1589.3 881,1589.4 882,1589 883,1589.1 884,1589.3 885,1589.7 886,1590.3 887,1590 888,1589.1 889,1589 890,1588.7 891,1589.2 892,1589.4 893,1589.6 894,1589.5 895,1589.3 896,1588.6 897,1588.3 898,1588.6 899,1588.6 900,1588.7 901,1588 902,1587.8 903,1588 904,1588 905,1588.1 906,1588.2 907,1588.1 908,1587.8 909,1588.2 910,1588.6 911,1588.4 912,1588.1 913,1587.8 914,1587.2 915,1588 916,1587.7 917,1587.7 918,1588.2 919,1588 920,1587.4 921,1587.1 922,1586.9 923,1587.4 924,1587.1 925,1586.9 926,1587 927,1587.3 928,1587 929,1586.8 930,1586.9 931,1587.5 932,1587.9 933,1588 934,1588 935,1587.8 936,1588.1 937,1588 938,1588 939,1588.3 940,1588.2 941,1588 942,1588 943,1587.8 944,1588.1 945,1587.4 946,1587.1 947,1585.9 948,1585 949,1581.1 950,1573.3 951,1559.9 952,1545.1 953,1534.5 954,1534 955,1543.8 956,1558.9 957,1572.9 958,1582.1 959,1586.8 960,1587.8 961,1588.8 962,1588.5 963,1588.7 964,1588.7 965,1588.5 966,1588.7 967,1588.5 968,1588.6 969,1588 970,1588.5 971,1588 972,1587.7 973,1588.1 974,1587.8 975,1587.2 976,1586.9 977,1586.7 978,1586.7 979,1586.6 980,1586.2 981,1586.7 982,1587 983,1587 984,1587.3 985,1587.7 986,1587.7 987,1588.2 988,1588.3 989,1588.7 990,1589.6 991,1589.5 992,1588.9 993,1588.7 994,1588.3 995,1588.5 996,1588.6 997,1588.4 998,1588.3 999,1587.9 1000,1587.2 1001,1587.2 1002,1587.6 1003,1588 1004,1587.8 1005,1587.7 1006,1587.9 1007,1588.2 1008,1588.3 1009,1587.8 1010,1587.6 1011,1587.8 1012,1587.8 1013,1588.5 1014,1588.3 1015,1588.4 1016,1588.2 1017,1587.8 1018,1587.2 1019,1587.3 1020,1588.2 1021,1588 1022,1588.3 1023,1588.1 1024,1587.8 1025,1587.7 1026,1587.9 1027,1588 1028,1588.4 1029,1588.9 1030,1589.3 1031,1589.2 1032,1589 1033,1589 1034,1589 1035,1589 1036,1589.1 1037,1589.1 1038,1589 1039,1588.4 1040,1588.5 1041,1588.6 1042,1588.6 1043,1588.3 1044,1588.8 1045,1587.9 1046,1587.6 1047,1587.6 1048,1587.6 1049,1587.4 1050,1586.8 1051,1586.4 1052,1586.3 1053,1586.2 1054,1585.6 1055,1585.4 1056,1585.5 1057,1585.2 1058,1585.4 1059,1584.8 1060,1584.7 1061,1584.4 1062,1584.4 1063,1584.5 1064,1584.4 1065,1584.4 1066,1584.5 1067,1584 1068,1584 1069,1584 1070,1583.5 1071,1583.3 1072,1582.4 1073,1582.2 1074,1581.8 1075,1582 1076,1582.3 1077,1582.1 1078,1581.6 1079,1581.3 1080,1581.5 1081,1581.3 1082,1581.4 1083,1581.4 1084,1581.4 1085,1580.5 1086,1580.2 1087,1579.6 1088,1579.4 1089,1579.7 1090,1579.2 1091,1579.3 1092,1579 1093,1579 1094,1578.3 1095,1577.8 1096,1577.5 1097,1577.2 1098,1576.6 1099,1576 1100,1575.6 1101,1575.3 1102,1575.1 1103,1574.6 1104,1574.9 1105,1575.2 1106,1574.7 1107,1574.9 1108,1575.1 1109,1574.3 1110,1574.3 1111,1574.3 1112,1574.4 1113,1574.3 1114,1574.3 1115,1573.5 1116,1573.3 1117,1573.3 1118,1573 1119,1573 1120,1573.3 1121,1572.4 1122,1572.5 1123,1572.1 1124,1571.7 1125,1571.8 1126,1571.5 1127,1570.9 1128,1570.3 1129,1570.2 1130,1569.7 1131,1569.3 1132,1569.3 1133,1569.2 1134,1569.3 1135,1569.4 1136,1568.7 1137,1568.7 1138,1568.1 1139,1567.9 1140,1567.3 1141,1567.2 1142,1566.9 1143,1566.3 1144,1566.4 1145,1565.7 1146,1565.6 1147,1565.3 1148,1565.4 1149,1564.9 1150,1565.3 1151,1565.4 1152,1565.5 1153,1564.5 1154,1563.9 1155,1563 1156,1562.2 1157,1561.8 1158,1561.4 1159,1561.1 1160,1560.1 1161,1559.7 1162,1558.7 1163,1558.1 1164,1557.8 1165,1557.4 1166,1558.1 1167,1557.4 1168,1556.5 1169,1555.8 1170,1555.4 1171,1554.7 1172,1554.1 1173,1553.3 1174,1552.6 1175,1552.4 1176,1551.7 1177,1551.2 1178,1550.6 1179,1550 1180,1549.8 1181,1549.3 1182,1548.5 1183,1548 1184,1547.7 1185,1546.4 1186,1545 1187,1543.8 1188,1542.6 1189,1540.8 1190,1537.3 1191,1531.2 1192,1519.4 1193,1495.7 1194,1456.9 1195,1403.5 1196,1344.6 1197,1298.6 1198,1280.5 1199,1297.9 1200,1343.4 1201,1403.3 1202,1457.7 1203,1497.8 1204,1522.8 1205,1536.9 1206,1542.3 1207,1544.8 1208,1546.4 1209,1547.2 1210,1548.2 1211,1548.8 1212,1549.6 1213,1550.3 1214,1550.5 1215,1550.9 1216,1551.2 1217,1551.5 1218,1552.3 1219,1552.6 1220,1553 1221,1553.6 1222,1553.9 1223,1554.5 1224,1555.4 1225,1556.6 1226,1557.5 1227,1557.6 1228,1558.4 1229,1559.1 1230,1560.1 1231,1560.1 1232,1560.6 1233,1561 1234,1561.1 1235,1561.6 1236,1561.8 1237,1562.2 1238,1562.5 1239,1563.1 1240,1562.7 1241,1562.9 1242,1563.5 1243,1564.2 1244,1564.4 1245,1564.7 1246,1564.6 1247,1565 1248,1565.4 1249,1565.3 1250,1565.6 1251,1566.2 1252,1566.1 1253,1566.5 1254,1566.3 1255,1566.5 1256,1566.6 1257,1567 1258,1566.6 1259,1566.9 1260,1567.1 1261,1567.1 1262,1567.4 1263,1567.8 1264,1567.8 1265,1568.2 1266,1568.7 1267,1568.5 1268,1568.9 1269,1569.3 1270,1569.6 1271,1570.2 1272,1570.4 1273,1570.3 1274,1570.8 1275,1570.6 1276,1570.2 1277,1570.9 1278,1570.5 1279,1571.6 1280,1571.5 1281,1571.5 1282,1571.1 1283,1571.2 1284,1571.6 1285,1571.8 1286,1572.6 1287,1572.7 1288,1573 1289,1573.6 1290,1573.8 1291,1573.7 1292,1574.2 1293,1574.8 1294,1574.9 1295,1575.1 1296,1575.6 1297,1575.6 1298,1576.3 1299,1576 1300,1576.2 1301,1576.3 1302,1576.8 1303,1576.8 1304,1577.1 1305,1577.2 1306,1577.1 1307,1577.1 1308,1577.3 1309,1577.6 1310,1577.6 1311,1578.1 1312,1578.3 1313,1578.9 1314,1579.1 1315,1578.6 1316,1578.9 1317,1579.2 1318,1579.3 1319,1579.2 1320,1579.4 1321,1579.7 1322,1579.5 1323,1579.4 1324,1579.1 1325,1579.4 1326,1579.6 1327,1579.4 1328,1579.4 1329,1579.9 1330,1580.1 1331,1580 1332,1579.9 1333,1580 1334,1580.1 1335,1580.9 1336,1580.9 1337,1580.7 1338,1581.2 1339,1581.6 1340,1581.6 1341,1582.1 1342,1582.2 1343,1582.4 1344,1582.5 1345,1583.1 1346,1583 1347,1583.4 1348,1583.5 1349,1583.6 1350,1583.8 1351,1583.8 1352,1584 1353,1584.1 1354,1584.2 1355,1584.5 1356,1584.3 1357,1584.4 1358,1584.4 1359,1584.2 1360,1584.5 1361,1584.1 1362,1583.6 1363,1584.1 1364,1584.3 1365,1584.1 1366,1584.3 1367,1584.4 1368,1584.8 1369,1584.8 1370,1584.7 1371,1584.6 1372,1585.3 1373,1585.6 1374,1585.6 1375,1585.9 1376,1585.6 1377,1586.4 1378,1586.4 1379,1586.4 1380,1585.9 1381,1586.3 1382,1586.3 1383,1585.8 1384,1585.6 1385,1585.8 1386,1585.7 1387,1585.7 1388,1585.1 1389,1585.3 1390,1585.7 1391,1586.3 1392,1586 1393,1586.4 1394,1586.9 1395,1586.6 1396,1587.1 1397,1586.8 1398,1587.3 1399,1587.1 1400,1586.9 1401,1586.7 1402,1586.6 1403,1586.4 1404,1586.5 1405,1586.4 1406,1586.1 1407,1587 1408,1586.6 1409,1586.3 1410,1586.4 1411,1586.3 1412,1586.1 1413,1586.6 1414,1586.4 1415,1586.5 1416,1586.9 1417,1586.6 1418,1586.9 1419,1586.6 1420,1586.3 1421,1586.7 1422,1587.4 1423,1587.5 1424,1587 1425,1586.9 1426,1587 1427,1586.6 1428,1587 1429,1586.8 1430,1586.8 1431,1587.2 1432,1586.8 1433,1586.7 1434,1587.2 1435,1587.2 1436,1587.1 1437,1586.9 1438,1586.6 1439,1586.6 1440,1587.2 1441,1587.1 1442,1586.7 1443,1587.3 1444,1587.3 1445,1587.3 1446,1587.3 1447,1587.5 1448,1588.2 1449,1587.7 1450,1587.8 1451,1587.9 1452,1588.3 1453,1588.7 1454,1588.8 1455,1588.4 1456,1588.1 1457,1588.3 1458,1588.7 1459,1588.3 1460,1588.4 1461,1588.6 1462,1588.4 1463,1588 1464,1587.5 1465,1587.6 1466,1587.1 1467,1586.7 1468,1586.4 1469,1586.6 1470,1586.7 1471,1587 1472,1586.8 1473,1587.4 1474,1587.6 1475,1587.5 1476,1587.7 1477,1588.1 1478,1587.9 1479,1588.1 1480,1588.3 1481,1588.1 1482,1587.9 1483,1587.7 1484,1587.6 1485,1587.9 1486,1587.9" fill="none" stroke="#65b32e" stroke-width="4.4" stroke-linejoin="round" stroke-linecap="round" stroke-linecap="butt"/></svg></body></html>
